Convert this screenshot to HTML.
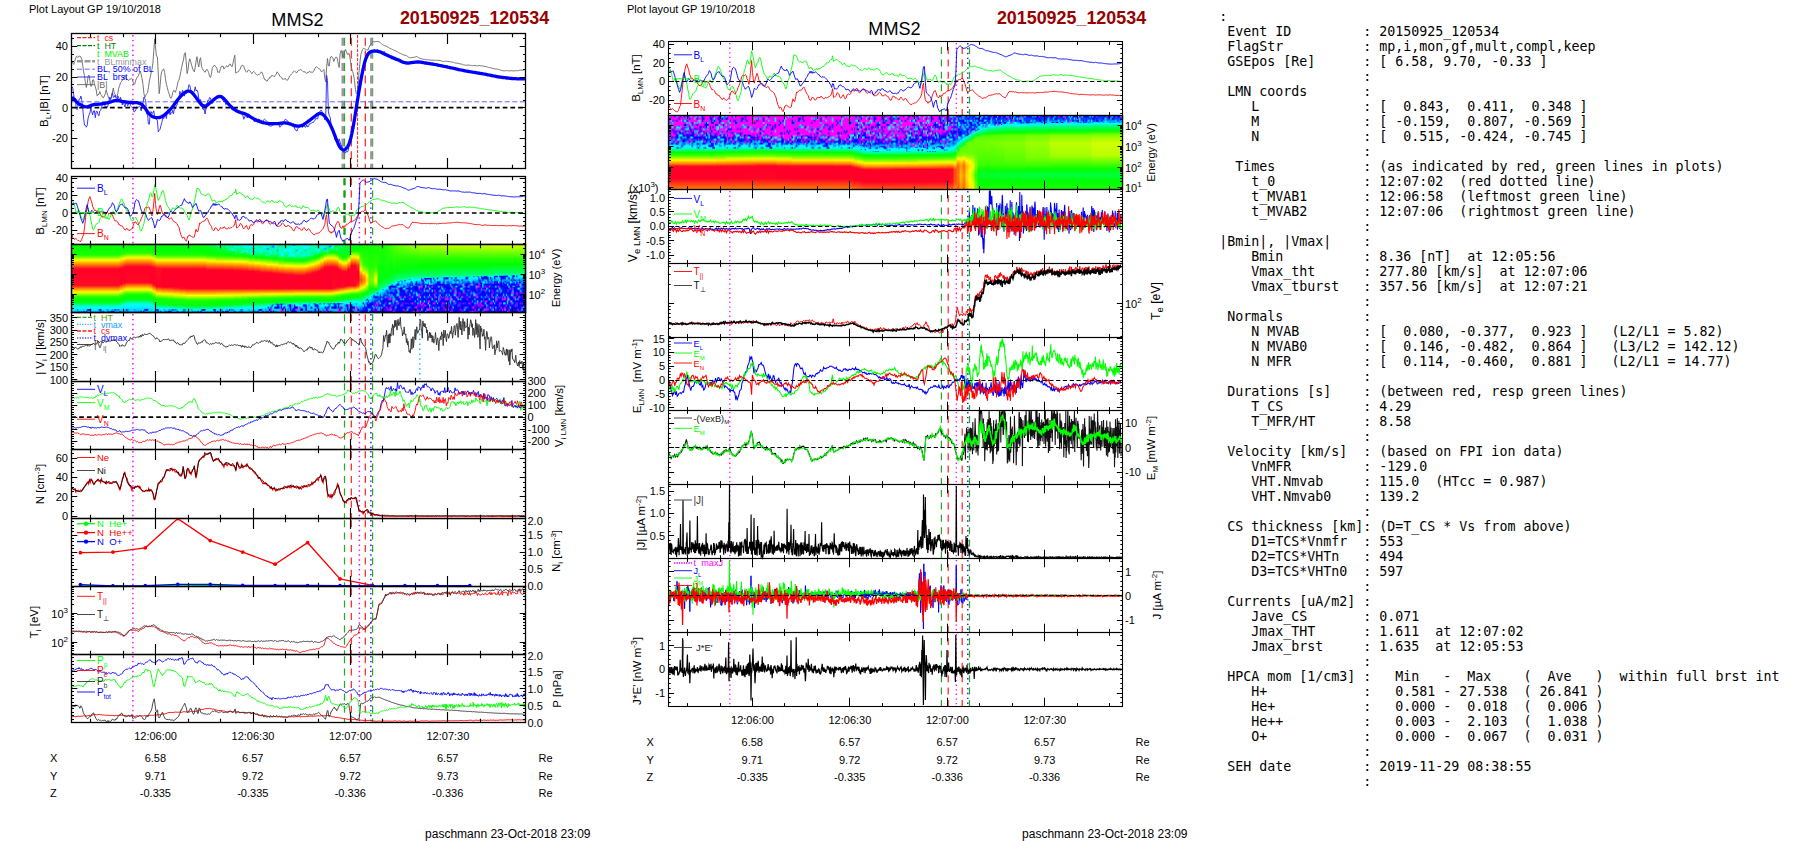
<!DOCTYPE html>
<html><head><meta charset="utf-8"><title>MMS2 20150925_120534</title>
<style>
html,body{margin:0;padding:0;background:#fff}
body{width:1804px;height:841px;position:relative;overflow:hidden}
svg{position:absolute;left:0;top:0}
svg text{font-family:"Liberation Sans",sans-serif}
pre{position:absolute;left:1219.2px;top:8.6px;margin:0;font-family:"DejaVu Sans Mono","Liberation Mono",monospace;font-size:13.3px;line-height:15px;color:#000}
</style></head><body>
<svg width="1804" height="841" viewBox="0 0 1804 841">
<defs>
<pattern id="spA" width="57.2" height="27.3" patternUnits="userSpaceOnUse"><path d="M15.6 0h1.3v2.1h-1.3zM18.2 0h1.3v2.1h-1.3zM31.2 0h1.3v2.1h-1.3zM44.2 0h1.3v2.1h-1.3zM49.4 0h1.3v2.1h-1.3zM52 0h1.3v2.1h-1.3zM55.9 0h1.3v2.1h-1.3zM1.3 2.1h1.3v2.1h-1.3zM18.2 2.1h1.3v2.1h-1.3zM19.5 2.1h1.3v2.1h-1.3zM20.8 2.1h1.3v2.1h-1.3zM27.3 2.1h1.3v2.1h-1.3zM42.9 2.1h1.3v2.1h-1.3zM48.1 2.1h1.3v2.1h-1.3zM53.3 2.1h1.3v2.1h-1.3zM0 4.2h1.3v2.1h-1.3zM5.2 4.2h1.3v2.1h-1.3zM10.4 4.2h1.3v2.1h-1.3zM14.3 4.2h1.3v2.1h-1.3zM36.4 4.2h1.3v2.1h-1.3zM39 4.2h1.3v2.1h-1.3zM41.6 4.2h1.3v2.1h-1.3zM54.6 4.2h1.3v2.1h-1.3zM9.1 6.3h1.3v2.1h-1.3zM10.4 6.3h1.3v2.1h-1.3zM26 6.3h1.3v2.1h-1.3zM36.4 6.3h1.3v2.1h-1.3zM0 8.4h1.3v2.1h-1.3zM11.7 8.4h1.3v2.1h-1.3zM29.9 8.4h1.3v2.1h-1.3zM31.2 8.4h1.3v2.1h-1.3zM32.5 8.4h1.3v2.1h-1.3zM41.6 8.4h1.3v2.1h-1.3zM42.9 8.4h1.3v2.1h-1.3zM5.2 10.5h1.3v2.1h-1.3zM26 10.5h1.3v2.1h-1.3zM28.6 10.5h1.3v2.1h-1.3zM42.9 10.5h1.3v2.1h-1.3zM45.5 10.5h1.3v2.1h-1.3zM50.7 10.5h1.3v2.1h-1.3zM53.3 10.5h1.3v2.1h-1.3zM54.6 10.5h1.3v2.1h-1.3zM55.9 10.5h1.3v2.1h-1.3zM0 12.6h1.3v2.1h-1.3zM26 12.6h1.3v2.1h-1.3zM29.9 12.6h1.3v2.1h-1.3zM36.4 12.6h1.3v2.1h-1.3zM40.3 12.6h1.3v2.1h-1.3zM42.9 12.6h1.3v2.1h-1.3zM44.2 12.6h1.3v2.1h-1.3zM46.8 12.6h1.3v2.1h-1.3zM55.9 12.6h1.3v2.1h-1.3zM11.7 14.7h1.3v2.1h-1.3zM15.6 14.7h1.3v2.1h-1.3zM29.9 14.7h1.3v2.1h-1.3zM35.1 14.7h1.3v2.1h-1.3zM48.1 14.7h1.3v2.1h-1.3zM52 14.7h1.3v2.1h-1.3zM27.3 16.8h1.3v2.1h-1.3zM28.6 16.8h1.3v2.1h-1.3zM39 16.8h1.3v2.1h-1.3zM45.5 16.8h1.3v2.1h-1.3zM48.1 16.8h1.3v2.1h-1.3zM7.8 18.9h1.3v2.1h-1.3zM33.8 18.9h1.3v2.1h-1.3zM42.9 18.9h1.3v2.1h-1.3zM6.5 21h1.3v2.1h-1.3zM22.1 21h1.3v2.1h-1.3zM32.5 21h1.3v2.1h-1.3zM36.4 21h1.3v2.1h-1.3zM44.2 21h1.3v2.1h-1.3zM46.8 21h1.3v2.1h-1.3zM2.6 23.1h1.3v2.1h-1.3zM5.2 23.1h1.3v2.1h-1.3zM7.8 23.1h1.3v2.1h-1.3zM40.3 23.1h1.3v2.1h-1.3zM41.6 23.1h1.3v2.1h-1.3zM52 23.1h1.3v2.1h-1.3zM19.5 25.2h1.3v2.1h-1.3zM20.8 25.2h1.3v2.1h-1.3zM26 25.2h1.3v2.1h-1.3zM31.2 25.2h1.3v2.1h-1.3zM36.4 25.2h1.3v2.1h-1.3zM44.2 25.2h1.3v2.1h-1.3zM53.3 25.2h1.3v2.1h-1.3z" fill="#0000ff"/><path d="M1.3 0h1.3v2.1h-1.3zM7.8 0h1.3v2.1h-1.3zM9.1 0h1.3v2.1h-1.3zM13 0h1.3v2.1h-1.3zM16.9 0h1.3v2.1h-1.3zM27.3 0h1.3v2.1h-1.3zM54.6 0h1.3v2.1h-1.3zM0 2.1h1.3v2.1h-1.3zM2.6 2.1h1.3v2.1h-1.3zM33.8 2.1h1.3v2.1h-1.3zM35.1 2.1h1.3v2.1h-1.3zM3.9 4.2h1.3v2.1h-1.3zM22.1 4.2h1.3v2.1h-1.3zM37.7 4.2h1.3v2.1h-1.3zM40.3 4.2h1.3v2.1h-1.3zM32.5 6.3h1.3v2.1h-1.3zM48.1 6.3h1.3v2.1h-1.3zM53.3 6.3h1.3v2.1h-1.3zM54.6 6.3h1.3v2.1h-1.3zM1.3 8.4h1.3v2.1h-1.3zM2.6 8.4h1.3v2.1h-1.3zM3.9 8.4h1.3v2.1h-1.3zM13 8.4h1.3v2.1h-1.3zM19.5 8.4h1.3v2.1h-1.3zM49.4 8.4h1.3v2.1h-1.3zM54.6 8.4h1.3v2.1h-1.3zM10.4 10.5h1.3v2.1h-1.3zM11.7 10.5h1.3v2.1h-1.3zM13 10.5h1.3v2.1h-1.3zM20.8 10.5h1.3v2.1h-1.3zM23.4 10.5h1.3v2.1h-1.3zM5.2 12.6h1.3v2.1h-1.3zM54.6 12.6h1.3v2.1h-1.3zM31.2 14.7h1.3v2.1h-1.3zM36.4 14.7h1.3v2.1h-1.3zM40.3 14.7h1.3v2.1h-1.3zM41.6 14.7h1.3v2.1h-1.3zM45.5 14.7h1.3v2.1h-1.3zM54.6 14.7h1.3v2.1h-1.3zM55.9 14.7h1.3v2.1h-1.3zM1.3 16.8h1.3v2.1h-1.3zM23.4 16.8h1.3v2.1h-1.3zM37.7 16.8h1.3v2.1h-1.3zM46.8 16.8h1.3v2.1h-1.3zM0 18.9h1.3v2.1h-1.3zM6.5 18.9h1.3v2.1h-1.3zM11.7 18.9h1.3v2.1h-1.3zM18.2 18.9h1.3v2.1h-1.3zM20.8 18.9h1.3v2.1h-1.3zM26 18.9h1.3v2.1h-1.3zM49.4 18.9h1.3v2.1h-1.3zM52 18.9h1.3v2.1h-1.3zM3.9 21h1.3v2.1h-1.3zM7.8 21h1.3v2.1h-1.3zM19.5 21h1.3v2.1h-1.3zM26 21h1.3v2.1h-1.3zM28.6 21h1.3v2.1h-1.3zM35.1 21h1.3v2.1h-1.3zM37.7 21h1.3v2.1h-1.3zM3.9 23.1h1.3v2.1h-1.3zM10.4 23.1h1.3v2.1h-1.3zM26 23.1h1.3v2.1h-1.3zM36.4 23.1h1.3v2.1h-1.3zM42.9 23.1h1.3v2.1h-1.3zM49.4 23.1h1.3v2.1h-1.3zM50.7 23.1h1.3v2.1h-1.3z" fill="#0080ff"/></pattern><pattern id="spA2" width="57.2" height="27.3" patternUnits="userSpaceOnUse"><path d="M0 0h1.3v2.1h-1.3zM2.6 0h1.3v2.1h-1.3zM10.4 0h1.3v2.1h-1.3zM19.5 0h1.3v2.1h-1.3zM20.8 0h1.3v2.1h-1.3zM28.6 0h1.3v2.1h-1.3zM31.2 0h1.3v2.1h-1.3zM36.4 0h1.3v2.1h-1.3zM37.7 0h1.3v2.1h-1.3zM48.1 0h1.3v2.1h-1.3zM49.4 0h1.3v2.1h-1.3zM27.3 2.1h1.3v2.1h-1.3zM28.6 2.1h1.3v2.1h-1.3zM33.8 2.1h1.3v2.1h-1.3zM37.7 2.1h1.3v2.1h-1.3zM41.6 2.1h1.3v2.1h-1.3zM44.2 2.1h1.3v2.1h-1.3zM46.8 2.1h1.3v2.1h-1.3zM48.1 2.1h1.3v2.1h-1.3zM50.7 2.1h1.3v2.1h-1.3zM52 2.1h1.3v2.1h-1.3zM53.3 2.1h1.3v2.1h-1.3zM2.6 4.2h1.3v2.1h-1.3zM3.9 4.2h1.3v2.1h-1.3zM7.8 4.2h1.3v2.1h-1.3zM16.9 4.2h1.3v2.1h-1.3zM18.2 4.2h1.3v2.1h-1.3zM19.5 4.2h1.3v2.1h-1.3zM28.6 4.2h1.3v2.1h-1.3zM29.9 4.2h1.3v2.1h-1.3zM31.2 4.2h1.3v2.1h-1.3zM42.9 4.2h1.3v2.1h-1.3zM48.1 4.2h1.3v2.1h-1.3zM49.4 4.2h1.3v2.1h-1.3zM52 4.2h1.3v2.1h-1.3zM3.9 6.3h1.3v2.1h-1.3zM7.8 6.3h1.3v2.1h-1.3zM9.1 6.3h1.3v2.1h-1.3zM10.4 6.3h1.3v2.1h-1.3zM19.5 6.3h1.3v2.1h-1.3zM24.7 6.3h1.3v2.1h-1.3zM31.2 6.3h1.3v2.1h-1.3zM39 6.3h1.3v2.1h-1.3zM41.6 6.3h1.3v2.1h-1.3zM45.5 6.3h1.3v2.1h-1.3zM46.8 6.3h1.3v2.1h-1.3zM48.1 6.3h1.3v2.1h-1.3zM49.4 6.3h1.3v2.1h-1.3zM52 6.3h1.3v2.1h-1.3zM54.6 6.3h1.3v2.1h-1.3zM3.9 8.4h1.3v2.1h-1.3zM6.5 8.4h1.3v2.1h-1.3zM7.8 8.4h1.3v2.1h-1.3zM14.3 8.4h1.3v2.1h-1.3zM15.6 8.4h1.3v2.1h-1.3zM19.5 8.4h1.3v2.1h-1.3zM28.6 8.4h1.3v2.1h-1.3zM40.3 8.4h1.3v2.1h-1.3zM53.3 8.4h1.3v2.1h-1.3zM1.3 10.5h1.3v2.1h-1.3zM5.2 10.5h1.3v2.1h-1.3zM6.5 10.5h1.3v2.1h-1.3zM7.8 10.5h1.3v2.1h-1.3zM9.1 10.5h1.3v2.1h-1.3zM22.1 10.5h1.3v2.1h-1.3zM24.7 10.5h1.3v2.1h-1.3zM28.6 10.5h1.3v2.1h-1.3zM33.8 10.5h1.3v2.1h-1.3zM37.7 10.5h1.3v2.1h-1.3zM41.6 10.5h1.3v2.1h-1.3zM44.2 10.5h1.3v2.1h-1.3zM2.6 12.6h1.3v2.1h-1.3zM9.1 12.6h1.3v2.1h-1.3zM10.4 12.6h1.3v2.1h-1.3zM16.9 12.6h1.3v2.1h-1.3zM35.1 12.6h1.3v2.1h-1.3zM37.7 12.6h1.3v2.1h-1.3zM41.6 12.6h1.3v2.1h-1.3zM46.8 12.6h1.3v2.1h-1.3zM50.7 12.6h1.3v2.1h-1.3zM0 14.7h1.3v2.1h-1.3zM6.5 14.7h1.3v2.1h-1.3zM15.6 14.7h1.3v2.1h-1.3zM16.9 14.7h1.3v2.1h-1.3zM24.7 14.7h1.3v2.1h-1.3zM35.1 14.7h1.3v2.1h-1.3zM37.7 14.7h1.3v2.1h-1.3zM41.6 14.7h1.3v2.1h-1.3zM42.9 14.7h1.3v2.1h-1.3zM50.7 14.7h1.3v2.1h-1.3zM55.9 14.7h1.3v2.1h-1.3zM5.2 16.8h1.3v2.1h-1.3zM9.1 16.8h1.3v2.1h-1.3zM14.3 16.8h1.3v2.1h-1.3zM18.2 16.8h1.3v2.1h-1.3zM39 16.8h1.3v2.1h-1.3zM48.1 16.8h1.3v2.1h-1.3zM5.2 18.9h1.3v2.1h-1.3zM13 18.9h1.3v2.1h-1.3zM15.6 18.9h1.3v2.1h-1.3zM16.9 18.9h1.3v2.1h-1.3zM18.2 18.9h1.3v2.1h-1.3zM23.4 18.9h1.3v2.1h-1.3zM28.6 18.9h1.3v2.1h-1.3zM33.8 18.9h1.3v2.1h-1.3zM42.9 18.9h1.3v2.1h-1.3zM46.8 18.9h1.3v2.1h-1.3zM49.4 18.9h1.3v2.1h-1.3zM50.7 18.9h1.3v2.1h-1.3zM53.3 18.9h1.3v2.1h-1.3zM55.9 18.9h1.3v2.1h-1.3zM0 21h1.3v2.1h-1.3zM7.8 21h1.3v2.1h-1.3zM18.2 21h1.3v2.1h-1.3zM19.5 21h1.3v2.1h-1.3zM20.8 21h1.3v2.1h-1.3zM23.4 21h1.3v2.1h-1.3zM31.2 21h1.3v2.1h-1.3zM33.8 21h1.3v2.1h-1.3zM42.9 21h1.3v2.1h-1.3zM46.8 21h1.3v2.1h-1.3zM52 21h1.3v2.1h-1.3zM54.6 21h1.3v2.1h-1.3zM0 23.1h1.3v2.1h-1.3zM1.3 23.1h1.3v2.1h-1.3zM16.9 23.1h1.3v2.1h-1.3zM33.8 23.1h1.3v2.1h-1.3zM41.6 23.1h1.3v2.1h-1.3zM50.7 23.1h1.3v2.1h-1.3zM53.3 23.1h1.3v2.1h-1.3zM0 25.2h1.3v2.1h-1.3zM1.3 25.2h1.3v2.1h-1.3zM2.6 25.2h1.3v2.1h-1.3zM3.9 25.2h1.3v2.1h-1.3zM6.5 25.2h1.3v2.1h-1.3zM7.8 25.2h1.3v2.1h-1.3zM13 25.2h1.3v2.1h-1.3zM33.8 25.2h1.3v2.1h-1.3zM35.1 25.2h1.3v2.1h-1.3z" fill="#0000ff"/><path d="M39 0h1.3v2.1h-1.3zM55.9 2.1h1.3v2.1h-1.3zM5.2 4.2h1.3v2.1h-1.3zM13 6.3h1.3v2.1h-1.3zM55.9 6.3h1.3v2.1h-1.3zM10.4 8.4h1.3v2.1h-1.3zM41.6 8.4h1.3v2.1h-1.3zM52 8.4h1.3v2.1h-1.3zM32.5 10.5h1.3v2.1h-1.3zM36.4 10.5h1.3v2.1h-1.3zM52 10.5h1.3v2.1h-1.3zM53.3 10.5h1.3v2.1h-1.3zM6.5 12.6h1.3v2.1h-1.3zM13 12.6h1.3v2.1h-1.3zM31.2 12.6h1.3v2.1h-1.3zM55.9 12.6h1.3v2.1h-1.3zM2.6 14.7h1.3v2.1h-1.3zM49.4 14.7h1.3v2.1h-1.3zM1.3 16.8h1.3v2.1h-1.3zM6.5 16.8h1.3v2.1h-1.3zM11.7 16.8h1.3v2.1h-1.3zM19.5 16.8h1.3v2.1h-1.3zM42.9 16.8h1.3v2.1h-1.3zM40.3 18.9h1.3v2.1h-1.3zM5.2 23.1h1.3v2.1h-1.3zM11.7 25.2h1.3v2.1h-1.3zM15.6 25.2h1.3v2.1h-1.3zM46.8 25.2h1.3v2.1h-1.3z" fill="#ff00ff"/><path d="M6.5 0h1.3v2.1h-1.3zM18.2 0h1.3v2.1h-1.3zM44.2 0h1.3v2.1h-1.3zM45.5 0h1.3v2.1h-1.3zM53.3 0h1.3v2.1h-1.3zM13 2.1h1.3v2.1h-1.3zM23.4 2.1h1.3v2.1h-1.3zM32.5 2.1h1.3v2.1h-1.3zM42.9 2.1h1.3v2.1h-1.3zM49.4 2.1h1.3v2.1h-1.3zM54.6 2.1h1.3v2.1h-1.3zM1.3 4.2h1.3v2.1h-1.3zM22.1 4.2h1.3v2.1h-1.3zM2.6 6.3h1.3v2.1h-1.3zM1.3 8.4h1.3v2.1h-1.3zM32.5 8.4h1.3v2.1h-1.3zM36.4 8.4h1.3v2.1h-1.3zM18.2 10.5h1.3v2.1h-1.3zM26 10.5h1.3v2.1h-1.3zM31.2 10.5h1.3v2.1h-1.3zM39 10.5h1.3v2.1h-1.3zM46.8 10.5h1.3v2.1h-1.3zM3.9 12.6h1.3v2.1h-1.3zM19.5 12.6h1.3v2.1h-1.3zM26 12.6h1.3v2.1h-1.3zM29.9 12.6h1.3v2.1h-1.3zM36.4 12.6h1.3v2.1h-1.3zM39 12.6h1.3v2.1h-1.3zM40.3 12.6h1.3v2.1h-1.3zM44.2 12.6h1.3v2.1h-1.3zM52 12.6h1.3v2.1h-1.3zM54.6 12.6h1.3v2.1h-1.3zM19.5 14.7h1.3v2.1h-1.3zM46.8 14.7h1.3v2.1h-1.3zM3.9 16.8h1.3v2.1h-1.3zM22.1 16.8h1.3v2.1h-1.3zM23.4 16.8h1.3v2.1h-1.3zM37.7 16.8h1.3v2.1h-1.3zM41.6 16.8h1.3v2.1h-1.3zM3.9 18.9h1.3v2.1h-1.3zM20.8 18.9h1.3v2.1h-1.3zM9.1 21h1.3v2.1h-1.3zM32.5 21h1.3v2.1h-1.3zM35.1 21h1.3v2.1h-1.3zM49.4 21h1.3v2.1h-1.3zM53.3 21h1.3v2.1h-1.3zM14.3 23.1h1.3v2.1h-1.3zM18.2 23.1h1.3v2.1h-1.3zM22.1 23.1h1.3v2.1h-1.3zM24.7 23.1h1.3v2.1h-1.3zM29.9 23.1h1.3v2.1h-1.3zM35.1 23.1h1.3v2.1h-1.3zM46.8 23.1h1.3v2.1h-1.3zM48.1 23.1h1.3v2.1h-1.3zM20.8 25.2h1.3v2.1h-1.3zM22.1 25.2h1.3v2.1h-1.3zM27.3 25.2h1.3v2.1h-1.3zM36.4 25.2h1.3v2.1h-1.3zM44.2 25.2h1.3v2.1h-1.3zM45.5 25.2h1.3v2.1h-1.3zM53.3 25.2h1.3v2.1h-1.3z" fill="#0080ff"/></pattern><pattern id="spA3" width="57.2" height="27.3" patternUnits="userSpaceOnUse"><path d="M3.9 0h1.3v2.1h-1.3zM6.5 0h1.3v2.1h-1.3zM9.1 0h1.3v2.1h-1.3zM13 0h1.3v2.1h-1.3zM16.9 0h1.3v2.1h-1.3zM24.7 0h1.3v2.1h-1.3zM37.7 0h1.3v2.1h-1.3zM40.3 0h1.3v2.1h-1.3zM46.8 0h1.3v2.1h-1.3zM48.1 0h1.3v2.1h-1.3zM53.3 0h1.3v2.1h-1.3zM54.6 0h1.3v2.1h-1.3zM55.9 0h1.3v2.1h-1.3zM1.3 2.1h1.3v2.1h-1.3zM9.1 2.1h1.3v2.1h-1.3zM15.6 2.1h1.3v2.1h-1.3zM19.5 2.1h1.3v2.1h-1.3zM23.4 2.1h1.3v2.1h-1.3zM26 2.1h1.3v2.1h-1.3zM27.3 2.1h1.3v2.1h-1.3zM28.6 2.1h1.3v2.1h-1.3zM36.4 2.1h1.3v2.1h-1.3zM37.7 2.1h1.3v2.1h-1.3zM39 2.1h1.3v2.1h-1.3zM41.6 2.1h1.3v2.1h-1.3zM42.9 2.1h1.3v2.1h-1.3zM44.2 2.1h1.3v2.1h-1.3zM45.5 2.1h1.3v2.1h-1.3zM46.8 2.1h1.3v2.1h-1.3zM48.1 2.1h1.3v2.1h-1.3zM49.4 2.1h1.3v2.1h-1.3zM54.6 2.1h1.3v2.1h-1.3zM55.9 2.1h1.3v2.1h-1.3zM7.8 4.2h1.3v2.1h-1.3zM9.1 4.2h1.3v2.1h-1.3zM20.8 4.2h1.3v2.1h-1.3zM23.4 4.2h1.3v2.1h-1.3zM24.7 4.2h1.3v2.1h-1.3zM26 4.2h1.3v2.1h-1.3zM27.3 4.2h1.3v2.1h-1.3zM28.6 4.2h1.3v2.1h-1.3zM29.9 4.2h1.3v2.1h-1.3zM32.5 4.2h1.3v2.1h-1.3zM36.4 4.2h1.3v2.1h-1.3zM42.9 4.2h1.3v2.1h-1.3zM44.2 4.2h1.3v2.1h-1.3zM45.5 4.2h1.3v2.1h-1.3zM46.8 4.2h1.3v2.1h-1.3zM50.7 4.2h1.3v2.1h-1.3zM54.6 4.2h1.3v2.1h-1.3zM0 6.3h1.3v2.1h-1.3zM3.9 6.3h1.3v2.1h-1.3zM20.8 6.3h1.3v2.1h-1.3zM22.1 6.3h1.3v2.1h-1.3zM24.7 6.3h1.3v2.1h-1.3zM29.9 6.3h1.3v2.1h-1.3zM33.8 6.3h1.3v2.1h-1.3zM42.9 6.3h1.3v2.1h-1.3zM53.3 6.3h1.3v2.1h-1.3zM55.9 6.3h1.3v2.1h-1.3zM1.3 8.4h1.3v2.1h-1.3zM10.4 8.4h1.3v2.1h-1.3zM15.6 8.4h1.3v2.1h-1.3zM22.1 8.4h1.3v2.1h-1.3zM29.9 8.4h1.3v2.1h-1.3zM36.4 8.4h1.3v2.1h-1.3zM37.7 8.4h1.3v2.1h-1.3zM39 8.4h1.3v2.1h-1.3zM42.9 8.4h1.3v2.1h-1.3zM46.8 8.4h1.3v2.1h-1.3zM54.6 8.4h1.3v2.1h-1.3zM6.5 10.5h1.3v2.1h-1.3zM9.1 10.5h1.3v2.1h-1.3zM11.7 10.5h1.3v2.1h-1.3zM14.3 10.5h1.3v2.1h-1.3zM15.6 10.5h1.3v2.1h-1.3zM18.2 10.5h1.3v2.1h-1.3zM22.1 10.5h1.3v2.1h-1.3zM24.7 10.5h1.3v2.1h-1.3zM35.1 10.5h1.3v2.1h-1.3zM36.4 10.5h1.3v2.1h-1.3zM37.7 10.5h1.3v2.1h-1.3zM39 10.5h1.3v2.1h-1.3zM40.3 10.5h1.3v2.1h-1.3zM42.9 10.5h1.3v2.1h-1.3zM48.1 10.5h1.3v2.1h-1.3zM53.3 10.5h1.3v2.1h-1.3zM54.6 10.5h1.3v2.1h-1.3zM2.6 12.6h1.3v2.1h-1.3zM10.4 12.6h1.3v2.1h-1.3zM18.2 12.6h1.3v2.1h-1.3zM24.7 12.6h1.3v2.1h-1.3zM27.3 12.6h1.3v2.1h-1.3zM28.6 12.6h1.3v2.1h-1.3zM32.5 12.6h1.3v2.1h-1.3zM35.1 12.6h1.3v2.1h-1.3zM45.5 12.6h1.3v2.1h-1.3zM46.8 12.6h1.3v2.1h-1.3zM48.1 12.6h1.3v2.1h-1.3zM49.4 12.6h1.3v2.1h-1.3zM50.7 12.6h1.3v2.1h-1.3zM52 12.6h1.3v2.1h-1.3zM0 14.7h1.3v2.1h-1.3zM2.6 14.7h1.3v2.1h-1.3zM5.2 14.7h1.3v2.1h-1.3zM6.5 14.7h1.3v2.1h-1.3zM14.3 14.7h1.3v2.1h-1.3zM16.9 14.7h1.3v2.1h-1.3zM22.1 14.7h1.3v2.1h-1.3zM23.4 14.7h1.3v2.1h-1.3zM26 14.7h1.3v2.1h-1.3zM31.2 14.7h1.3v2.1h-1.3zM39 14.7h1.3v2.1h-1.3zM45.5 14.7h1.3v2.1h-1.3zM46.8 14.7h1.3v2.1h-1.3zM54.6 14.7h1.3v2.1h-1.3zM55.9 14.7h1.3v2.1h-1.3zM1.3 16.8h1.3v2.1h-1.3zM3.9 16.8h1.3v2.1h-1.3zM9.1 16.8h1.3v2.1h-1.3zM10.4 16.8h1.3v2.1h-1.3zM29.9 16.8h1.3v2.1h-1.3zM33.8 16.8h1.3v2.1h-1.3zM42.9 16.8h1.3v2.1h-1.3zM0 18.9h1.3v2.1h-1.3zM5.2 18.9h1.3v2.1h-1.3zM6.5 18.9h1.3v2.1h-1.3zM10.4 18.9h1.3v2.1h-1.3zM16.9 18.9h1.3v2.1h-1.3zM19.5 18.9h1.3v2.1h-1.3zM24.7 18.9h1.3v2.1h-1.3zM28.6 18.9h1.3v2.1h-1.3zM29.9 18.9h1.3v2.1h-1.3zM33.8 18.9h1.3v2.1h-1.3zM44.2 18.9h1.3v2.1h-1.3zM48.1 18.9h1.3v2.1h-1.3zM52 18.9h1.3v2.1h-1.3zM0 21h1.3v2.1h-1.3zM1.3 21h1.3v2.1h-1.3zM5.2 21h1.3v2.1h-1.3zM13 21h1.3v2.1h-1.3zM20.8 21h1.3v2.1h-1.3zM24.7 21h1.3v2.1h-1.3zM27.3 21h1.3v2.1h-1.3zM29.9 21h1.3v2.1h-1.3zM36.4 21h1.3v2.1h-1.3zM41.6 21h1.3v2.1h-1.3zM44.2 21h1.3v2.1h-1.3zM1.3 23.1h1.3v2.1h-1.3zM2.6 23.1h1.3v2.1h-1.3zM9.1 23.1h1.3v2.1h-1.3zM15.6 23.1h1.3v2.1h-1.3zM19.5 23.1h1.3v2.1h-1.3zM23.4 23.1h1.3v2.1h-1.3zM29.9 23.1h1.3v2.1h-1.3zM31.2 23.1h1.3v2.1h-1.3zM32.5 23.1h1.3v2.1h-1.3zM33.8 23.1h1.3v2.1h-1.3zM36.4 23.1h1.3v2.1h-1.3zM48.1 23.1h1.3v2.1h-1.3zM50.7 23.1h1.3v2.1h-1.3zM52 23.1h1.3v2.1h-1.3zM0 25.2h1.3v2.1h-1.3zM7.8 25.2h1.3v2.1h-1.3zM11.7 25.2h1.3v2.1h-1.3zM15.6 25.2h1.3v2.1h-1.3zM16.9 25.2h1.3v2.1h-1.3zM19.5 25.2h1.3v2.1h-1.3zM22.1 25.2h1.3v2.1h-1.3zM23.4 25.2h1.3v2.1h-1.3zM46.8 25.2h1.3v2.1h-1.3zM50.7 25.2h1.3v2.1h-1.3zM53.3 25.2h1.3v2.1h-1.3zM54.6 25.2h1.3v2.1h-1.3z" fill="#0000ff"/><path d="M1.3 0h1.3v2.1h-1.3zM10.4 0h1.3v2.1h-1.3zM11.7 0h1.3v2.1h-1.3zM26 0h1.3v2.1h-1.3zM39 0h1.3v2.1h-1.3zM45.5 0h1.3v2.1h-1.3zM14.3 2.1h1.3v2.1h-1.3zM35.1 2.1h1.3v2.1h-1.3zM50.7 2.1h1.3v2.1h-1.3zM0 4.2h1.3v2.1h-1.3zM19.5 4.2h1.3v2.1h-1.3zM22.1 4.2h1.3v2.1h-1.3zM11.7 6.3h1.3v2.1h-1.3zM13 6.3h1.3v2.1h-1.3zM35.1 6.3h1.3v2.1h-1.3zM41.6 6.3h1.3v2.1h-1.3zM0 8.4h1.3v2.1h-1.3zM2.6 8.4h1.3v2.1h-1.3zM13 8.4h1.3v2.1h-1.3zM24.7 8.4h1.3v2.1h-1.3zM26 8.4h1.3v2.1h-1.3zM28.6 8.4h1.3v2.1h-1.3zM40.3 8.4h1.3v2.1h-1.3zM44.2 8.4h1.3v2.1h-1.3zM52 8.4h1.3v2.1h-1.3zM53.3 8.4h1.3v2.1h-1.3zM55.9 8.4h1.3v2.1h-1.3zM5.2 10.5h1.3v2.1h-1.3zM13 10.5h1.3v2.1h-1.3zM28.6 10.5h1.3v2.1h-1.3zM29.9 10.5h1.3v2.1h-1.3zM31.2 10.5h1.3v2.1h-1.3zM45.5 10.5h1.3v2.1h-1.3zM1.3 12.6h1.3v2.1h-1.3zM31.2 12.6h1.3v2.1h-1.3zM54.6 12.6h1.3v2.1h-1.3zM55.9 12.6h1.3v2.1h-1.3zM40.3 14.7h1.3v2.1h-1.3zM44.2 14.7h1.3v2.1h-1.3zM53.3 14.7h1.3v2.1h-1.3zM6.5 16.8h1.3v2.1h-1.3zM15.6 16.8h1.3v2.1h-1.3zM27.3 16.8h1.3v2.1h-1.3zM54.6 16.8h1.3v2.1h-1.3zM7.8 18.9h1.3v2.1h-1.3zM18.2 18.9h1.3v2.1h-1.3zM35.1 18.9h1.3v2.1h-1.3zM50.7 18.9h1.3v2.1h-1.3zM7.8 21h1.3v2.1h-1.3zM35.1 21h1.3v2.1h-1.3zM37.7 21h1.3v2.1h-1.3zM42.9 21h1.3v2.1h-1.3zM52 21h1.3v2.1h-1.3zM6.5 23.1h1.3v2.1h-1.3zM10.4 23.1h1.3v2.1h-1.3zM49.4 23.1h1.3v2.1h-1.3zM2.6 25.2h1.3v2.1h-1.3zM6.5 25.2h1.3v2.1h-1.3zM9.1 25.2h1.3v2.1h-1.3zM18.2 25.2h1.3v2.1h-1.3zM48.1 25.2h1.3v2.1h-1.3zM52 25.2h1.3v2.1h-1.3z" fill="#00ffff"/></pattern><pattern id="spC" width="57.2" height="27.3" patternUnits="userSpaceOnUse"><path d="M5.2 0h1.3v2.1h-1.3zM6.5 0h1.3v2.1h-1.3zM9.1 0h1.3v2.1h-1.3zM14.3 0h1.3v2.1h-1.3zM15.6 0h1.3v2.1h-1.3zM16.9 0h1.3v2.1h-1.3zM19.5 0h1.3v2.1h-1.3zM20.8 0h1.3v2.1h-1.3zM22.1 0h1.3v2.1h-1.3zM23.4 0h1.3v2.1h-1.3zM26 0h1.3v2.1h-1.3zM36.4 0h1.3v2.1h-1.3zM37.7 0h1.3v2.1h-1.3zM44.2 0h1.3v2.1h-1.3zM45.5 0h1.3v2.1h-1.3zM46.8 0h1.3v2.1h-1.3zM54.6 0h1.3v2.1h-1.3zM0 2.1h1.3v2.1h-1.3zM2.6 2.1h1.3v2.1h-1.3zM3.9 2.1h1.3v2.1h-1.3zM6.5 2.1h1.3v2.1h-1.3zM10.4 2.1h1.3v2.1h-1.3zM19.5 2.1h1.3v2.1h-1.3zM28.6 2.1h1.3v2.1h-1.3zM31.2 2.1h1.3v2.1h-1.3zM39 2.1h1.3v2.1h-1.3zM46.8 2.1h1.3v2.1h-1.3zM50.7 2.1h1.3v2.1h-1.3zM0 4.2h1.3v2.1h-1.3zM2.6 4.2h1.3v2.1h-1.3zM3.9 4.2h1.3v2.1h-1.3zM6.5 4.2h1.3v2.1h-1.3zM13 4.2h1.3v2.1h-1.3zM14.3 4.2h1.3v2.1h-1.3zM16.9 4.2h1.3v2.1h-1.3zM18.2 4.2h1.3v2.1h-1.3zM22.1 4.2h1.3v2.1h-1.3zM24.7 4.2h1.3v2.1h-1.3zM27.3 4.2h1.3v2.1h-1.3zM31.2 4.2h1.3v2.1h-1.3zM32.5 4.2h1.3v2.1h-1.3zM37.7 4.2h1.3v2.1h-1.3zM41.6 4.2h1.3v2.1h-1.3zM50.7 4.2h1.3v2.1h-1.3zM53.3 4.2h1.3v2.1h-1.3zM54.6 4.2h1.3v2.1h-1.3zM55.9 4.2h1.3v2.1h-1.3zM3.9 6.3h1.3v2.1h-1.3zM5.2 6.3h1.3v2.1h-1.3zM10.4 6.3h1.3v2.1h-1.3zM11.7 6.3h1.3v2.1h-1.3zM20.8 6.3h1.3v2.1h-1.3zM22.1 6.3h1.3v2.1h-1.3zM31.2 6.3h1.3v2.1h-1.3zM40.3 6.3h1.3v2.1h-1.3zM41.6 6.3h1.3v2.1h-1.3zM45.5 6.3h1.3v2.1h-1.3zM50.7 6.3h1.3v2.1h-1.3zM52 6.3h1.3v2.1h-1.3zM53.3 6.3h1.3v2.1h-1.3zM2.6 8.4h1.3v2.1h-1.3zM3.9 8.4h1.3v2.1h-1.3zM5.2 8.4h1.3v2.1h-1.3zM6.5 8.4h1.3v2.1h-1.3zM7.8 8.4h1.3v2.1h-1.3zM10.4 8.4h1.3v2.1h-1.3zM14.3 8.4h1.3v2.1h-1.3zM16.9 8.4h1.3v2.1h-1.3zM18.2 8.4h1.3v2.1h-1.3zM20.8 8.4h1.3v2.1h-1.3zM23.4 8.4h1.3v2.1h-1.3zM26 8.4h1.3v2.1h-1.3zM36.4 8.4h1.3v2.1h-1.3zM37.7 8.4h1.3v2.1h-1.3zM52 8.4h1.3v2.1h-1.3zM53.3 8.4h1.3v2.1h-1.3zM54.6 8.4h1.3v2.1h-1.3zM1.3 10.5h1.3v2.1h-1.3zM2.6 10.5h1.3v2.1h-1.3zM6.5 10.5h1.3v2.1h-1.3zM7.8 10.5h1.3v2.1h-1.3zM9.1 10.5h1.3v2.1h-1.3zM14.3 10.5h1.3v2.1h-1.3zM16.9 10.5h1.3v2.1h-1.3zM18.2 10.5h1.3v2.1h-1.3zM20.8 10.5h1.3v2.1h-1.3zM22.1 10.5h1.3v2.1h-1.3zM23.4 10.5h1.3v2.1h-1.3zM33.8 10.5h1.3v2.1h-1.3zM35.1 10.5h1.3v2.1h-1.3zM44.2 10.5h1.3v2.1h-1.3zM50.7 10.5h1.3v2.1h-1.3zM52 10.5h1.3v2.1h-1.3zM2.6 12.6h1.3v2.1h-1.3zM3.9 12.6h1.3v2.1h-1.3zM5.2 12.6h1.3v2.1h-1.3zM6.5 12.6h1.3v2.1h-1.3zM7.8 12.6h1.3v2.1h-1.3zM9.1 12.6h1.3v2.1h-1.3zM10.4 12.6h1.3v2.1h-1.3zM11.7 12.6h1.3v2.1h-1.3zM18.2 12.6h1.3v2.1h-1.3zM19.5 12.6h1.3v2.1h-1.3zM24.7 12.6h1.3v2.1h-1.3zM26 12.6h1.3v2.1h-1.3zM27.3 12.6h1.3v2.1h-1.3zM29.9 12.6h1.3v2.1h-1.3zM32.5 12.6h1.3v2.1h-1.3zM33.8 12.6h1.3v2.1h-1.3zM40.3 12.6h1.3v2.1h-1.3zM42.9 12.6h1.3v2.1h-1.3zM48.1 12.6h1.3v2.1h-1.3zM50.7 12.6h1.3v2.1h-1.3zM52 12.6h1.3v2.1h-1.3zM55.9 12.6h1.3v2.1h-1.3zM0 14.7h1.3v2.1h-1.3zM3.9 14.7h1.3v2.1h-1.3zM7.8 14.7h1.3v2.1h-1.3zM10.4 14.7h1.3v2.1h-1.3zM14.3 14.7h1.3v2.1h-1.3zM16.9 14.7h1.3v2.1h-1.3zM22.1 14.7h1.3v2.1h-1.3zM26 14.7h1.3v2.1h-1.3zM29.9 14.7h1.3v2.1h-1.3zM31.2 14.7h1.3v2.1h-1.3zM35.1 14.7h1.3v2.1h-1.3zM37.7 14.7h1.3v2.1h-1.3zM0 16.8h1.3v2.1h-1.3zM5.2 16.8h1.3v2.1h-1.3zM10.4 16.8h1.3v2.1h-1.3zM11.7 16.8h1.3v2.1h-1.3zM19.5 16.8h1.3v2.1h-1.3zM20.8 16.8h1.3v2.1h-1.3zM26 16.8h1.3v2.1h-1.3zM28.6 16.8h1.3v2.1h-1.3zM31.2 16.8h1.3v2.1h-1.3zM32.5 16.8h1.3v2.1h-1.3zM35.1 16.8h1.3v2.1h-1.3zM39 16.8h1.3v2.1h-1.3zM40.3 16.8h1.3v2.1h-1.3zM44.2 16.8h1.3v2.1h-1.3zM52 16.8h1.3v2.1h-1.3zM55.9 16.8h1.3v2.1h-1.3zM1.3 18.9h1.3v2.1h-1.3zM3.9 18.9h1.3v2.1h-1.3zM5.2 18.9h1.3v2.1h-1.3zM16.9 18.9h1.3v2.1h-1.3zM20.8 18.9h1.3v2.1h-1.3zM24.7 18.9h1.3v2.1h-1.3zM33.8 18.9h1.3v2.1h-1.3zM36.4 18.9h1.3v2.1h-1.3zM41.6 18.9h1.3v2.1h-1.3zM46.8 18.9h1.3v2.1h-1.3zM50.7 18.9h1.3v2.1h-1.3zM0 21h1.3v2.1h-1.3zM5.2 21h1.3v2.1h-1.3zM7.8 21h1.3v2.1h-1.3zM10.4 21h1.3v2.1h-1.3zM14.3 21h1.3v2.1h-1.3zM23.4 21h1.3v2.1h-1.3zM26 21h1.3v2.1h-1.3zM32.5 21h1.3v2.1h-1.3zM35.1 21h1.3v2.1h-1.3zM36.4 21h1.3v2.1h-1.3zM39 21h1.3v2.1h-1.3zM42.9 21h1.3v2.1h-1.3zM46.8 21h1.3v2.1h-1.3zM50.7 21h1.3v2.1h-1.3zM53.3 21h1.3v2.1h-1.3zM54.6 21h1.3v2.1h-1.3zM2.6 23.1h1.3v2.1h-1.3zM7.8 23.1h1.3v2.1h-1.3zM10.4 23.1h1.3v2.1h-1.3zM11.7 23.1h1.3v2.1h-1.3zM13 23.1h1.3v2.1h-1.3zM15.6 23.1h1.3v2.1h-1.3zM19.5 23.1h1.3v2.1h-1.3zM22.1 23.1h1.3v2.1h-1.3zM23.4 23.1h1.3v2.1h-1.3zM24.7 23.1h1.3v2.1h-1.3zM27.3 23.1h1.3v2.1h-1.3zM31.2 23.1h1.3v2.1h-1.3zM33.8 23.1h1.3v2.1h-1.3zM35.1 23.1h1.3v2.1h-1.3zM37.7 23.1h1.3v2.1h-1.3zM42.9 23.1h1.3v2.1h-1.3zM44.2 23.1h1.3v2.1h-1.3zM48.1 23.1h1.3v2.1h-1.3zM49.4 23.1h1.3v2.1h-1.3zM50.7 23.1h1.3v2.1h-1.3zM52 23.1h1.3v2.1h-1.3zM0 25.2h1.3v2.1h-1.3zM10.4 25.2h1.3v2.1h-1.3zM13 25.2h1.3v2.1h-1.3zM14.3 25.2h1.3v2.1h-1.3zM15.6 25.2h1.3v2.1h-1.3zM20.8 25.2h1.3v2.1h-1.3zM29.9 25.2h1.3v2.1h-1.3zM32.5 25.2h1.3v2.1h-1.3zM33.8 25.2h1.3v2.1h-1.3zM35.1 25.2h1.3v2.1h-1.3zM39 25.2h1.3v2.1h-1.3zM40.3 25.2h1.3v2.1h-1.3zM42.9 25.2h1.3v2.1h-1.3zM45.5 25.2h1.3v2.1h-1.3zM48.1 25.2h1.3v2.1h-1.3z" fill="#00ffff"/><path d="M1.3 0h1.3v2.1h-1.3zM10.4 0h1.3v2.1h-1.3zM27.3 0h1.3v2.1h-1.3zM31.2 0h1.3v2.1h-1.3zM42.9 0h1.3v2.1h-1.3zM55.9 0h1.3v2.1h-1.3zM1.3 2.1h1.3v2.1h-1.3zM11.7 2.1h1.3v2.1h-1.3zM23.4 2.1h1.3v2.1h-1.3zM26 2.1h1.3v2.1h-1.3zM29.9 2.1h1.3v2.1h-1.3zM40.3 2.1h1.3v2.1h-1.3zM44.2 2.1h1.3v2.1h-1.3zM45.5 2.1h1.3v2.1h-1.3zM23.4 4.2h1.3v2.1h-1.3zM35.1 4.2h1.3v2.1h-1.3zM40.3 4.2h1.3v2.1h-1.3zM52 4.2h1.3v2.1h-1.3zM0 6.3h1.3v2.1h-1.3zM23.4 6.3h1.3v2.1h-1.3zM29.9 6.3h1.3v2.1h-1.3zM48.1 6.3h1.3v2.1h-1.3zM11.7 8.4h1.3v2.1h-1.3zM15.6 8.4h1.3v2.1h-1.3zM22.1 8.4h1.3v2.1h-1.3zM28.6 8.4h1.3v2.1h-1.3zM40.3 8.4h1.3v2.1h-1.3zM50.7 8.4h1.3v2.1h-1.3zM3.9 10.5h1.3v2.1h-1.3zM29.9 10.5h1.3v2.1h-1.3zM37.7 10.5h1.3v2.1h-1.3zM53.3 10.5h1.3v2.1h-1.3zM0 12.6h1.3v2.1h-1.3zM31.2 12.6h1.3v2.1h-1.3zM35.1 12.6h1.3v2.1h-1.3zM41.6 12.6h1.3v2.1h-1.3zM45.5 12.6h1.3v2.1h-1.3zM13 14.7h1.3v2.1h-1.3zM46.8 14.7h1.3v2.1h-1.3zM49.4 14.7h1.3v2.1h-1.3zM53.3 14.7h1.3v2.1h-1.3zM2.6 16.8h1.3v2.1h-1.3zM7.8 16.8h1.3v2.1h-1.3zM13 16.8h1.3v2.1h-1.3zM22.1 16.8h1.3v2.1h-1.3zM2.6 18.9h1.3v2.1h-1.3zM6.5 18.9h1.3v2.1h-1.3zM27.3 18.9h1.3v2.1h-1.3zM45.5 18.9h1.3v2.1h-1.3zM48.1 18.9h1.3v2.1h-1.3zM54.6 18.9h1.3v2.1h-1.3zM3.9 21h1.3v2.1h-1.3zM6.5 21h1.3v2.1h-1.3zM13 21h1.3v2.1h-1.3zM19.5 21h1.3v2.1h-1.3zM27.3 21h1.3v2.1h-1.3zM1.3 23.1h1.3v2.1h-1.3zM3.9 23.1h1.3v2.1h-1.3zM6.5 23.1h1.3v2.1h-1.3zM45.5 23.1h1.3v2.1h-1.3zM1.3 25.2h1.3v2.1h-1.3zM16.9 25.2h1.3v2.1h-1.3zM28.6 25.2h1.3v2.1h-1.3zM31.2 25.2h1.3v2.1h-1.3zM37.7 25.2h1.3v2.1h-1.3zM41.6 25.2h1.3v2.1h-1.3zM49.4 25.2h1.3v2.1h-1.3zM52 25.2h1.3v2.1h-1.3z" fill="#00ffa0"/></pattern><pattern id="spC2" width="57.2" height="27.3" patternUnits="userSpaceOnUse"><path d="M42.9 0h1.3v2.1h-1.3zM44.2 0h1.3v2.1h-1.3zM37.7 2.1h1.3v2.1h-1.3zM39 2.1h1.3v2.1h-1.3zM10.4 4.2h1.3v2.1h-1.3zM18.2 4.2h1.3v2.1h-1.3zM48.1 4.2h1.3v2.1h-1.3zM7.8 6.3h1.3v2.1h-1.3zM23.4 6.3h1.3v2.1h-1.3zM39 6.3h1.3v2.1h-1.3zM45.5 8.4h1.3v2.1h-1.3zM46.8 8.4h1.3v2.1h-1.3zM53.3 8.4h1.3v2.1h-1.3zM55.9 8.4h1.3v2.1h-1.3zM16.9 10.5h1.3v2.1h-1.3zM18.2 10.5h1.3v2.1h-1.3zM31.2 10.5h1.3v2.1h-1.3zM35.1 10.5h1.3v2.1h-1.3zM6.5 12.6h1.3v2.1h-1.3zM18.2 12.6h1.3v2.1h-1.3zM23.4 12.6h1.3v2.1h-1.3zM46.8 12.6h1.3v2.1h-1.3zM29.9 14.7h1.3v2.1h-1.3zM49.4 14.7h1.3v2.1h-1.3zM1.3 16.8h1.3v2.1h-1.3zM26 16.8h1.3v2.1h-1.3zM40.3 16.8h1.3v2.1h-1.3zM53.3 16.8h1.3v2.1h-1.3zM55.9 16.8h1.3v2.1h-1.3zM11.7 18.9h1.3v2.1h-1.3zM19.5 18.9h1.3v2.1h-1.3zM26 18.9h1.3v2.1h-1.3zM29.9 18.9h1.3v2.1h-1.3zM32.5 18.9h1.3v2.1h-1.3zM6.5 21h1.3v2.1h-1.3zM14.3 21h1.3v2.1h-1.3zM15.6 21h1.3v2.1h-1.3zM26 21h1.3v2.1h-1.3zM54.6 21h1.3v2.1h-1.3zM2.6 23.1h1.3v2.1h-1.3zM19.5 23.1h1.3v2.1h-1.3zM39 23.1h1.3v2.1h-1.3zM42.9 23.1h1.3v2.1h-1.3zM45.5 23.1h1.3v2.1h-1.3zM6.5 25.2h1.3v2.1h-1.3zM7.8 25.2h1.3v2.1h-1.3z" fill="#0080ff"/><path d="M1.3 0h1.3v2.1h-1.3zM7.8 0h1.3v2.1h-1.3zM9.1 0h1.3v2.1h-1.3zM11.7 0h1.3v2.1h-1.3zM16.9 0h1.3v2.1h-1.3zM18.2 0h1.3v2.1h-1.3zM27.3 0h1.3v2.1h-1.3zM33.8 0h1.3v2.1h-1.3zM35.1 0h1.3v2.1h-1.3zM37.7 0h1.3v2.1h-1.3zM39 0h1.3v2.1h-1.3zM55.9 0h1.3v2.1h-1.3zM2.6 2.1h1.3v2.1h-1.3zM5.2 2.1h1.3v2.1h-1.3zM14.3 2.1h1.3v2.1h-1.3zM18.2 2.1h1.3v2.1h-1.3zM29.9 2.1h1.3v2.1h-1.3zM33.8 2.1h1.3v2.1h-1.3zM36.4 2.1h1.3v2.1h-1.3zM42.9 2.1h1.3v2.1h-1.3zM55.9 2.1h1.3v2.1h-1.3zM0 4.2h1.3v2.1h-1.3zM1.3 4.2h1.3v2.1h-1.3zM2.6 4.2h1.3v2.1h-1.3zM5.2 4.2h1.3v2.1h-1.3zM11.7 4.2h1.3v2.1h-1.3zM16.9 4.2h1.3v2.1h-1.3zM22.1 4.2h1.3v2.1h-1.3zM29.9 4.2h1.3v2.1h-1.3zM39 4.2h1.3v2.1h-1.3zM45.5 4.2h1.3v2.1h-1.3zM49.4 4.2h1.3v2.1h-1.3zM2.6 6.3h1.3v2.1h-1.3zM3.9 6.3h1.3v2.1h-1.3zM6.5 6.3h1.3v2.1h-1.3zM9.1 6.3h1.3v2.1h-1.3zM19.5 6.3h1.3v2.1h-1.3zM20.8 6.3h1.3v2.1h-1.3zM22.1 6.3h1.3v2.1h-1.3zM24.7 6.3h1.3v2.1h-1.3zM27.3 6.3h1.3v2.1h-1.3zM29.9 6.3h1.3v2.1h-1.3zM32.5 6.3h1.3v2.1h-1.3zM41.6 6.3h1.3v2.1h-1.3zM44.2 6.3h1.3v2.1h-1.3zM10.4 8.4h1.3v2.1h-1.3zM13 8.4h1.3v2.1h-1.3zM14.3 8.4h1.3v2.1h-1.3zM31.2 8.4h1.3v2.1h-1.3zM44.2 8.4h1.3v2.1h-1.3zM52 8.4h1.3v2.1h-1.3zM0 10.5h1.3v2.1h-1.3zM2.6 10.5h1.3v2.1h-1.3zM11.7 10.5h1.3v2.1h-1.3zM14.3 10.5h1.3v2.1h-1.3zM19.5 10.5h1.3v2.1h-1.3zM22.1 10.5h1.3v2.1h-1.3zM29.9 10.5h1.3v2.1h-1.3zM33.8 10.5h1.3v2.1h-1.3zM48.1 10.5h1.3v2.1h-1.3zM0 12.6h1.3v2.1h-1.3zM1.3 12.6h1.3v2.1h-1.3zM2.6 12.6h1.3v2.1h-1.3zM5.2 12.6h1.3v2.1h-1.3zM10.4 12.6h1.3v2.1h-1.3zM11.7 12.6h1.3v2.1h-1.3zM16.9 12.6h1.3v2.1h-1.3zM29.9 12.6h1.3v2.1h-1.3zM32.5 12.6h1.3v2.1h-1.3zM33.8 12.6h1.3v2.1h-1.3zM36.4 12.6h1.3v2.1h-1.3zM37.7 12.6h1.3v2.1h-1.3zM40.3 12.6h1.3v2.1h-1.3zM42.9 12.6h1.3v2.1h-1.3zM53.3 12.6h1.3v2.1h-1.3zM6.5 14.7h1.3v2.1h-1.3zM13 14.7h1.3v2.1h-1.3zM18.2 14.7h1.3v2.1h-1.3zM31.2 14.7h1.3v2.1h-1.3zM37.7 14.7h1.3v2.1h-1.3zM39 14.7h1.3v2.1h-1.3zM41.6 14.7h1.3v2.1h-1.3zM53.3 14.7h1.3v2.1h-1.3zM54.6 14.7h1.3v2.1h-1.3zM0 16.8h1.3v2.1h-1.3zM15.6 16.8h1.3v2.1h-1.3zM22.1 16.8h1.3v2.1h-1.3zM23.4 16.8h1.3v2.1h-1.3zM28.6 16.8h1.3v2.1h-1.3zM33.8 16.8h1.3v2.1h-1.3zM35.1 16.8h1.3v2.1h-1.3zM45.5 16.8h1.3v2.1h-1.3zM49.4 16.8h1.3v2.1h-1.3zM50.7 16.8h1.3v2.1h-1.3zM7.8 18.9h1.3v2.1h-1.3zM9.1 18.9h1.3v2.1h-1.3zM13 18.9h1.3v2.1h-1.3zM16.9 18.9h1.3v2.1h-1.3zM22.1 18.9h1.3v2.1h-1.3zM28.6 18.9h1.3v2.1h-1.3zM54.6 18.9h1.3v2.1h-1.3zM0 21h1.3v2.1h-1.3zM13 21h1.3v2.1h-1.3zM16.9 21h1.3v2.1h-1.3zM33.8 21h1.3v2.1h-1.3zM39 21h1.3v2.1h-1.3zM40.3 21h1.3v2.1h-1.3zM41.6 21h1.3v2.1h-1.3zM52 21h1.3v2.1h-1.3zM11.7 23.1h1.3v2.1h-1.3zM16.9 23.1h1.3v2.1h-1.3zM20.8 23.1h1.3v2.1h-1.3zM35.1 23.1h1.3v2.1h-1.3zM40.3 23.1h1.3v2.1h-1.3zM50.7 23.1h1.3v2.1h-1.3zM15.6 25.2h1.3v2.1h-1.3zM20.8 25.2h1.3v2.1h-1.3zM28.6 25.2h1.3v2.1h-1.3zM29.9 25.2h1.3v2.1h-1.3zM31.2 25.2h1.3v2.1h-1.3zM37.7 25.2h1.3v2.1h-1.3zM41.6 25.2h1.3v2.1h-1.3zM42.9 25.2h1.3v2.1h-1.3z" fill="#00ffff"/></pattern><pattern id="spB" width="57.2" height="27.3" patternUnits="userSpaceOnUse"><path d="M3.9 0h1.3v2.1h-1.3zM5.2 0h1.3v2.1h-1.3zM9.1 0h1.3v2.1h-1.3zM10.4 0h1.3v2.1h-1.3zM13 0h1.3v2.1h-1.3zM15.6 0h1.3v2.1h-1.3zM20.8 0h1.3v2.1h-1.3zM22.1 0h1.3v2.1h-1.3zM26 0h1.3v2.1h-1.3zM29.9 0h1.3v2.1h-1.3zM31.2 0h1.3v2.1h-1.3zM33.8 0h1.3v2.1h-1.3zM39 0h1.3v2.1h-1.3zM40.3 0h1.3v2.1h-1.3zM42.9 0h1.3v2.1h-1.3zM45.5 0h1.3v2.1h-1.3zM48.1 0h1.3v2.1h-1.3zM0 2.1h1.3v2.1h-1.3zM2.6 2.1h1.3v2.1h-1.3zM3.9 2.1h1.3v2.1h-1.3zM5.2 2.1h1.3v2.1h-1.3zM6.5 2.1h1.3v2.1h-1.3zM9.1 2.1h1.3v2.1h-1.3zM10.4 2.1h1.3v2.1h-1.3zM11.7 2.1h1.3v2.1h-1.3zM14.3 2.1h1.3v2.1h-1.3zM15.6 2.1h1.3v2.1h-1.3zM24.7 2.1h1.3v2.1h-1.3zM37.7 2.1h1.3v2.1h-1.3zM40.3 2.1h1.3v2.1h-1.3zM42.9 2.1h1.3v2.1h-1.3zM44.2 2.1h1.3v2.1h-1.3zM50.7 2.1h1.3v2.1h-1.3zM0 4.2h1.3v2.1h-1.3zM2.6 4.2h1.3v2.1h-1.3zM3.9 4.2h1.3v2.1h-1.3zM5.2 4.2h1.3v2.1h-1.3zM6.5 4.2h1.3v2.1h-1.3zM7.8 4.2h1.3v2.1h-1.3zM9.1 4.2h1.3v2.1h-1.3zM10.4 4.2h1.3v2.1h-1.3zM11.7 4.2h1.3v2.1h-1.3zM14.3 4.2h1.3v2.1h-1.3zM15.6 4.2h1.3v2.1h-1.3zM16.9 4.2h1.3v2.1h-1.3zM19.5 4.2h1.3v2.1h-1.3zM22.1 4.2h1.3v2.1h-1.3zM23.4 4.2h1.3v2.1h-1.3zM26 4.2h1.3v2.1h-1.3zM29.9 4.2h1.3v2.1h-1.3zM35.1 4.2h1.3v2.1h-1.3zM36.4 4.2h1.3v2.1h-1.3zM37.7 4.2h1.3v2.1h-1.3zM41.6 4.2h1.3v2.1h-1.3zM44.2 4.2h1.3v2.1h-1.3zM45.5 4.2h1.3v2.1h-1.3zM49.4 4.2h1.3v2.1h-1.3zM50.7 4.2h1.3v2.1h-1.3zM53.3 4.2h1.3v2.1h-1.3zM54.6 4.2h1.3v2.1h-1.3zM55.9 4.2h1.3v2.1h-1.3zM1.3 6.3h1.3v2.1h-1.3zM2.6 6.3h1.3v2.1h-1.3zM3.9 6.3h1.3v2.1h-1.3zM6.5 6.3h1.3v2.1h-1.3zM10.4 6.3h1.3v2.1h-1.3zM11.7 6.3h1.3v2.1h-1.3zM13 6.3h1.3v2.1h-1.3zM16.9 6.3h1.3v2.1h-1.3zM20.8 6.3h1.3v2.1h-1.3zM22.1 6.3h1.3v2.1h-1.3zM23.4 6.3h1.3v2.1h-1.3zM24.7 6.3h1.3v2.1h-1.3zM26 6.3h1.3v2.1h-1.3zM27.3 6.3h1.3v2.1h-1.3zM33.8 6.3h1.3v2.1h-1.3zM36.4 6.3h1.3v2.1h-1.3zM39 6.3h1.3v2.1h-1.3zM41.6 6.3h1.3v2.1h-1.3zM44.2 6.3h1.3v2.1h-1.3zM45.5 6.3h1.3v2.1h-1.3zM46.8 6.3h1.3v2.1h-1.3zM53.3 6.3h1.3v2.1h-1.3zM54.6 6.3h1.3v2.1h-1.3zM55.9 6.3h1.3v2.1h-1.3zM1.3 8.4h1.3v2.1h-1.3zM3.9 8.4h1.3v2.1h-1.3zM5.2 8.4h1.3v2.1h-1.3zM7.8 8.4h1.3v2.1h-1.3zM9.1 8.4h1.3v2.1h-1.3zM11.7 8.4h1.3v2.1h-1.3zM13 8.4h1.3v2.1h-1.3zM18.2 8.4h1.3v2.1h-1.3zM19.5 8.4h1.3v2.1h-1.3zM22.1 8.4h1.3v2.1h-1.3zM23.4 8.4h1.3v2.1h-1.3zM32.5 8.4h1.3v2.1h-1.3zM39 8.4h1.3v2.1h-1.3zM42.9 8.4h1.3v2.1h-1.3zM44.2 8.4h1.3v2.1h-1.3zM45.5 8.4h1.3v2.1h-1.3zM49.4 8.4h1.3v2.1h-1.3zM50.7 8.4h1.3v2.1h-1.3zM55.9 8.4h1.3v2.1h-1.3zM6.5 10.5h1.3v2.1h-1.3zM7.8 10.5h1.3v2.1h-1.3zM9.1 10.5h1.3v2.1h-1.3zM10.4 10.5h1.3v2.1h-1.3zM19.5 10.5h1.3v2.1h-1.3zM23.4 10.5h1.3v2.1h-1.3zM26 10.5h1.3v2.1h-1.3zM27.3 10.5h1.3v2.1h-1.3zM28.6 10.5h1.3v2.1h-1.3zM29.9 10.5h1.3v2.1h-1.3zM31.2 10.5h1.3v2.1h-1.3zM33.8 10.5h1.3v2.1h-1.3zM35.1 10.5h1.3v2.1h-1.3zM37.7 10.5h1.3v2.1h-1.3zM40.3 10.5h1.3v2.1h-1.3zM41.6 10.5h1.3v2.1h-1.3zM42.9 10.5h1.3v2.1h-1.3zM45.5 10.5h1.3v2.1h-1.3zM46.8 10.5h1.3v2.1h-1.3zM48.1 10.5h1.3v2.1h-1.3zM50.7 10.5h1.3v2.1h-1.3zM53.3 10.5h1.3v2.1h-1.3zM55.9 10.5h1.3v2.1h-1.3zM0 12.6h1.3v2.1h-1.3zM1.3 12.6h1.3v2.1h-1.3zM2.6 12.6h1.3v2.1h-1.3zM3.9 12.6h1.3v2.1h-1.3zM9.1 12.6h1.3v2.1h-1.3zM13 12.6h1.3v2.1h-1.3zM14.3 12.6h1.3v2.1h-1.3zM15.6 12.6h1.3v2.1h-1.3zM22.1 12.6h1.3v2.1h-1.3zM23.4 12.6h1.3v2.1h-1.3zM26 12.6h1.3v2.1h-1.3zM29.9 12.6h1.3v2.1h-1.3zM39 12.6h1.3v2.1h-1.3zM42.9 12.6h1.3v2.1h-1.3zM44.2 12.6h1.3v2.1h-1.3zM45.5 12.6h1.3v2.1h-1.3zM48.1 12.6h1.3v2.1h-1.3zM49.4 12.6h1.3v2.1h-1.3zM53.3 12.6h1.3v2.1h-1.3zM0 14.7h1.3v2.1h-1.3zM1.3 14.7h1.3v2.1h-1.3zM7.8 14.7h1.3v2.1h-1.3zM9.1 14.7h1.3v2.1h-1.3zM10.4 14.7h1.3v2.1h-1.3zM13 14.7h1.3v2.1h-1.3zM14.3 14.7h1.3v2.1h-1.3zM15.6 14.7h1.3v2.1h-1.3zM16.9 14.7h1.3v2.1h-1.3zM22.1 14.7h1.3v2.1h-1.3zM26 14.7h1.3v2.1h-1.3zM27.3 14.7h1.3v2.1h-1.3zM31.2 14.7h1.3v2.1h-1.3zM32.5 14.7h1.3v2.1h-1.3zM33.8 14.7h1.3v2.1h-1.3zM35.1 14.7h1.3v2.1h-1.3zM36.4 14.7h1.3v2.1h-1.3zM37.7 14.7h1.3v2.1h-1.3zM39 14.7h1.3v2.1h-1.3zM42.9 14.7h1.3v2.1h-1.3zM45.5 14.7h1.3v2.1h-1.3zM46.8 14.7h1.3v2.1h-1.3zM48.1 14.7h1.3v2.1h-1.3zM49.4 14.7h1.3v2.1h-1.3zM55.9 14.7h1.3v2.1h-1.3zM0 16.8h1.3v2.1h-1.3zM1.3 16.8h1.3v2.1h-1.3zM2.6 16.8h1.3v2.1h-1.3zM3.9 16.8h1.3v2.1h-1.3zM9.1 16.8h1.3v2.1h-1.3zM11.7 16.8h1.3v2.1h-1.3zM15.6 16.8h1.3v2.1h-1.3zM16.9 16.8h1.3v2.1h-1.3zM22.1 16.8h1.3v2.1h-1.3zM29.9 16.8h1.3v2.1h-1.3zM35.1 16.8h1.3v2.1h-1.3zM36.4 16.8h1.3v2.1h-1.3zM48.1 16.8h1.3v2.1h-1.3zM52 16.8h1.3v2.1h-1.3zM55.9 16.8h1.3v2.1h-1.3zM0 18.9h1.3v2.1h-1.3zM2.6 18.9h1.3v2.1h-1.3zM3.9 18.9h1.3v2.1h-1.3zM6.5 18.9h1.3v2.1h-1.3zM10.4 18.9h1.3v2.1h-1.3zM11.7 18.9h1.3v2.1h-1.3zM18.2 18.9h1.3v2.1h-1.3zM23.4 18.9h1.3v2.1h-1.3zM24.7 18.9h1.3v2.1h-1.3zM29.9 18.9h1.3v2.1h-1.3zM31.2 18.9h1.3v2.1h-1.3zM32.5 18.9h1.3v2.1h-1.3zM33.8 18.9h1.3v2.1h-1.3zM35.1 18.9h1.3v2.1h-1.3zM36.4 18.9h1.3v2.1h-1.3zM42.9 18.9h1.3v2.1h-1.3zM44.2 18.9h1.3v2.1h-1.3zM46.8 18.9h1.3v2.1h-1.3zM48.1 18.9h1.3v2.1h-1.3zM49.4 18.9h1.3v2.1h-1.3zM50.7 18.9h1.3v2.1h-1.3zM52 18.9h1.3v2.1h-1.3zM53.3 18.9h1.3v2.1h-1.3zM0 21h1.3v2.1h-1.3zM2.6 21h1.3v2.1h-1.3zM3.9 21h1.3v2.1h-1.3zM5.2 21h1.3v2.1h-1.3zM7.8 21h1.3v2.1h-1.3zM13 21h1.3v2.1h-1.3zM19.5 21h1.3v2.1h-1.3zM26 21h1.3v2.1h-1.3zM27.3 21h1.3v2.1h-1.3zM29.9 21h1.3v2.1h-1.3zM36.4 21h1.3v2.1h-1.3zM37.7 21h1.3v2.1h-1.3zM40.3 21h1.3v2.1h-1.3zM41.6 21h1.3v2.1h-1.3zM42.9 21h1.3v2.1h-1.3zM49.4 21h1.3v2.1h-1.3zM50.7 21h1.3v2.1h-1.3zM55.9 21h1.3v2.1h-1.3zM1.3 23.1h1.3v2.1h-1.3zM10.4 23.1h1.3v2.1h-1.3zM15.6 23.1h1.3v2.1h-1.3zM18.2 23.1h1.3v2.1h-1.3zM20.8 23.1h1.3v2.1h-1.3zM22.1 23.1h1.3v2.1h-1.3zM24.7 23.1h1.3v2.1h-1.3zM36.4 23.1h1.3v2.1h-1.3zM39 23.1h1.3v2.1h-1.3zM40.3 23.1h1.3v2.1h-1.3zM45.5 23.1h1.3v2.1h-1.3zM48.1 23.1h1.3v2.1h-1.3zM52 23.1h1.3v2.1h-1.3zM53.3 23.1h1.3v2.1h-1.3zM54.6 23.1h1.3v2.1h-1.3zM5.2 25.2h1.3v2.1h-1.3zM6.5 25.2h1.3v2.1h-1.3zM10.4 25.2h1.3v2.1h-1.3zM11.7 25.2h1.3v2.1h-1.3zM13 25.2h1.3v2.1h-1.3zM14.3 25.2h1.3v2.1h-1.3zM15.6 25.2h1.3v2.1h-1.3zM19.5 25.2h1.3v2.1h-1.3zM20.8 25.2h1.3v2.1h-1.3zM22.1 25.2h1.3v2.1h-1.3zM23.4 25.2h1.3v2.1h-1.3zM26 25.2h1.3v2.1h-1.3zM27.3 25.2h1.3v2.1h-1.3zM28.6 25.2h1.3v2.1h-1.3zM32.5 25.2h1.3v2.1h-1.3zM33.8 25.2h1.3v2.1h-1.3zM36.4 25.2h1.3v2.1h-1.3zM40.3 25.2h1.3v2.1h-1.3zM41.6 25.2h1.3v2.1h-1.3zM42.9 25.2h1.3v2.1h-1.3zM48.1 25.2h1.3v2.1h-1.3zM54.6 25.2h1.3v2.1h-1.3zM55.9 25.2h1.3v2.1h-1.3z" fill="#0000ff"/><path d="M27.3 0h1.3v2.1h-1.3zM28.6 0h1.3v2.1h-1.3zM52 0h1.3v2.1h-1.3zM1.3 2.1h1.3v2.1h-1.3zM20.8 2.1h1.3v2.1h-1.3zM22.1 2.1h1.3v2.1h-1.3zM32.5 2.1h1.3v2.1h-1.3zM33.8 2.1h1.3v2.1h-1.3zM41.6 2.1h1.3v2.1h-1.3zM18.2 4.2h1.3v2.1h-1.3zM20.8 4.2h1.3v2.1h-1.3zM24.7 4.2h1.3v2.1h-1.3zM31.2 4.2h1.3v2.1h-1.3zM33.8 4.2h1.3v2.1h-1.3zM15.6 6.3h1.3v2.1h-1.3zM16.9 8.4h1.3v2.1h-1.3zM29.9 8.4h1.3v2.1h-1.3zM33.8 8.4h1.3v2.1h-1.3zM37.7 8.4h1.3v2.1h-1.3zM41.6 8.4h1.3v2.1h-1.3zM3.9 10.5h1.3v2.1h-1.3zM11.7 10.5h1.3v2.1h-1.3zM20.8 10.5h1.3v2.1h-1.3zM6.5 12.6h1.3v2.1h-1.3zM19.5 12.6h1.3v2.1h-1.3zM20.8 12.6h1.3v2.1h-1.3zM27.3 12.6h1.3v2.1h-1.3zM31.2 12.6h1.3v2.1h-1.3zM40.3 12.6h1.3v2.1h-1.3zM18.2 14.7h1.3v2.1h-1.3zM23.4 14.7h1.3v2.1h-1.3zM52 14.7h1.3v2.1h-1.3zM54.6 14.7h1.3v2.1h-1.3zM27.3 16.8h1.3v2.1h-1.3zM33.8 16.8h1.3v2.1h-1.3zM5.2 18.9h1.3v2.1h-1.3zM19.5 18.9h1.3v2.1h-1.3zM28.6 18.9h1.3v2.1h-1.3zM39 18.9h1.3v2.1h-1.3zM14.3 21h1.3v2.1h-1.3zM18.2 21h1.3v2.1h-1.3zM32.5 21h1.3v2.1h-1.3zM7.8 23.1h1.3v2.1h-1.3zM9.1 23.1h1.3v2.1h-1.3zM29.9 23.1h1.3v2.1h-1.3zM33.8 23.1h1.3v2.1h-1.3zM44.2 23.1h1.3v2.1h-1.3zM45.5 25.2h1.3v2.1h-1.3zM46.8 25.2h1.3v2.1h-1.3z" fill="#ff00ff"/><path d="M14.3 0h1.3v2.1h-1.3zM16.9 0h1.3v2.1h-1.3zM19.5 0h1.3v2.1h-1.3zM23.4 0h1.3v2.1h-1.3zM24.7 0h1.3v2.1h-1.3zM32.5 0h1.3v2.1h-1.3zM35.1 0h1.3v2.1h-1.3zM49.4 0h1.3v2.1h-1.3zM53.3 0h1.3v2.1h-1.3zM7.8 2.1h1.3v2.1h-1.3zM16.9 2.1h1.3v2.1h-1.3zM19.5 2.1h1.3v2.1h-1.3zM27.3 2.1h1.3v2.1h-1.3zM36.4 2.1h1.3v2.1h-1.3zM45.5 2.1h1.3v2.1h-1.3zM46.8 2.1h1.3v2.1h-1.3zM49.4 2.1h1.3v2.1h-1.3zM52 2.1h1.3v2.1h-1.3zM54.6 2.1h1.3v2.1h-1.3zM1.3 4.2h1.3v2.1h-1.3zM28.6 4.2h1.3v2.1h-1.3zM40.3 4.2h1.3v2.1h-1.3zM52 4.2h1.3v2.1h-1.3zM7.8 6.3h1.3v2.1h-1.3zM9.1 6.3h1.3v2.1h-1.3zM29.9 6.3h1.3v2.1h-1.3zM32.5 6.3h1.3v2.1h-1.3zM35.1 6.3h1.3v2.1h-1.3zM37.7 6.3h1.3v2.1h-1.3zM52 6.3h1.3v2.1h-1.3zM6.5 8.4h1.3v2.1h-1.3zM20.8 8.4h1.3v2.1h-1.3zM26 8.4h1.3v2.1h-1.3zM35.1 8.4h1.3v2.1h-1.3zM46.8 8.4h1.3v2.1h-1.3zM5.2 10.5h1.3v2.1h-1.3zM14.3 10.5h1.3v2.1h-1.3zM24.7 10.5h1.3v2.1h-1.3zM49.4 10.5h1.3v2.1h-1.3zM5.2 12.6h1.3v2.1h-1.3zM10.4 12.6h1.3v2.1h-1.3zM18.2 12.6h1.3v2.1h-1.3zM24.7 12.6h1.3v2.1h-1.3zM37.7 12.6h1.3v2.1h-1.3zM50.7 12.6h1.3v2.1h-1.3zM2.6 14.7h1.3v2.1h-1.3zM3.9 14.7h1.3v2.1h-1.3zM28.6 14.7h1.3v2.1h-1.3zM41.6 14.7h1.3v2.1h-1.3zM5.2 16.8h1.3v2.1h-1.3zM10.4 16.8h1.3v2.1h-1.3zM23.4 16.8h1.3v2.1h-1.3zM26 16.8h1.3v2.1h-1.3zM31.2 16.8h1.3v2.1h-1.3zM39 16.8h1.3v2.1h-1.3zM42.9 16.8h1.3v2.1h-1.3zM49.4 16.8h1.3v2.1h-1.3zM54.6 16.8h1.3v2.1h-1.3zM13 18.9h1.3v2.1h-1.3zM15.6 18.9h1.3v2.1h-1.3zM20.8 18.9h1.3v2.1h-1.3zM27.3 18.9h1.3v2.1h-1.3zM37.7 18.9h1.3v2.1h-1.3zM41.6 18.9h1.3v2.1h-1.3zM54.6 18.9h1.3v2.1h-1.3zM9.1 21h1.3v2.1h-1.3zM11.7 21h1.3v2.1h-1.3zM15.6 21h1.3v2.1h-1.3zM16.9 21h1.3v2.1h-1.3zM28.6 21h1.3v2.1h-1.3zM33.8 21h1.3v2.1h-1.3zM39 21h1.3v2.1h-1.3zM45.5 21h1.3v2.1h-1.3zM48.1 21h1.3v2.1h-1.3zM53.3 21h1.3v2.1h-1.3zM54.6 21h1.3v2.1h-1.3zM3.9 23.1h1.3v2.1h-1.3zM11.7 23.1h1.3v2.1h-1.3zM19.5 23.1h1.3v2.1h-1.3zM23.4 23.1h1.3v2.1h-1.3zM27.3 23.1h1.3v2.1h-1.3zM35.1 23.1h1.3v2.1h-1.3zM37.7 23.1h1.3v2.1h-1.3zM41.6 23.1h1.3v2.1h-1.3zM46.8 23.1h1.3v2.1h-1.3zM49.4 23.1h1.3v2.1h-1.3zM55.9 23.1h1.3v2.1h-1.3zM0 25.2h1.3v2.1h-1.3zM2.6 25.2h1.3v2.1h-1.3zM16.9 25.2h1.3v2.1h-1.3zM24.7 25.2h1.3v2.1h-1.3zM31.2 25.2h1.3v2.1h-1.3zM37.7 25.2h1.3v2.1h-1.3zM49.4 25.2h1.3v2.1h-1.3zM50.7 25.2h1.3v2.1h-1.3z" fill="#00ffff"/></pattern><pattern id="spB2" width="57.2" height="27.3" patternUnits="userSpaceOnUse"><path d="M37.7 0h1.3v2.1h-1.3zM5.2 2.1h1.3v2.1h-1.3zM10.4 2.1h1.3v2.1h-1.3zM11.7 2.1h1.3v2.1h-1.3zM19.5 2.1h1.3v2.1h-1.3zM22.1 2.1h1.3v2.1h-1.3zM32.5 2.1h1.3v2.1h-1.3zM42.9 2.1h1.3v2.1h-1.3zM53.3 2.1h1.3v2.1h-1.3zM0 4.2h1.3v2.1h-1.3zM16.9 4.2h1.3v2.1h-1.3zM23.4 4.2h1.3v2.1h-1.3zM41.6 4.2h1.3v2.1h-1.3zM48.1 4.2h1.3v2.1h-1.3zM6.5 6.3h1.3v2.1h-1.3zM14.3 6.3h1.3v2.1h-1.3zM15.6 6.3h1.3v2.1h-1.3zM22.1 6.3h1.3v2.1h-1.3zM28.6 6.3h1.3v2.1h-1.3zM42.9 6.3h1.3v2.1h-1.3zM46.8 6.3h1.3v2.1h-1.3zM2.6 8.4h1.3v2.1h-1.3zM27.3 8.4h1.3v2.1h-1.3zM28.6 8.4h1.3v2.1h-1.3zM44.2 8.4h1.3v2.1h-1.3zM46.8 8.4h1.3v2.1h-1.3zM50.7 8.4h1.3v2.1h-1.3zM11.7 10.5h1.3v2.1h-1.3zM13 10.5h1.3v2.1h-1.3zM15.6 10.5h1.3v2.1h-1.3zM16.9 10.5h1.3v2.1h-1.3zM19.5 10.5h1.3v2.1h-1.3zM50.7 10.5h1.3v2.1h-1.3zM3.9 12.6h1.3v2.1h-1.3zM20.8 12.6h1.3v2.1h-1.3zM24.7 12.6h1.3v2.1h-1.3zM28.6 12.6h1.3v2.1h-1.3zM29.9 12.6h1.3v2.1h-1.3zM37.7 12.6h1.3v2.1h-1.3zM2.6 14.7h1.3v2.1h-1.3zM16.9 14.7h1.3v2.1h-1.3zM24.7 14.7h1.3v2.1h-1.3zM27.3 14.7h1.3v2.1h-1.3zM31.2 14.7h1.3v2.1h-1.3zM50.7 14.7h1.3v2.1h-1.3zM13 16.8h1.3v2.1h-1.3zM40.3 16.8h1.3v2.1h-1.3zM1.3 18.9h1.3v2.1h-1.3zM6.5 18.9h1.3v2.1h-1.3zM35.1 18.9h1.3v2.1h-1.3zM53.3 18.9h1.3v2.1h-1.3zM54.6 18.9h1.3v2.1h-1.3zM1.3 21h1.3v2.1h-1.3zM18.2 21h1.3v2.1h-1.3zM0 23.1h1.3v2.1h-1.3zM3.9 23.1h1.3v2.1h-1.3zM10.4 23.1h1.3v2.1h-1.3zM18.2 23.1h1.3v2.1h-1.3zM33.8 23.1h1.3v2.1h-1.3zM40.3 23.1h1.3v2.1h-1.3zM49.4 23.1h1.3v2.1h-1.3zM55.9 23.1h1.3v2.1h-1.3zM9.1 25.2h1.3v2.1h-1.3zM39 25.2h1.3v2.1h-1.3zM44.2 25.2h1.3v2.1h-1.3zM49.4 25.2h1.3v2.1h-1.3z" fill="#ff00ff"/><path d="M1.3 0h1.3v2.1h-1.3zM5.2 0h1.3v2.1h-1.3zM7.8 0h1.3v2.1h-1.3zM9.1 0h1.3v2.1h-1.3zM10.4 0h1.3v2.1h-1.3zM13 0h1.3v2.1h-1.3zM15.6 0h1.3v2.1h-1.3zM16.9 0h1.3v2.1h-1.3zM24.7 0h1.3v2.1h-1.3zM32.5 0h1.3v2.1h-1.3zM7.8 2.1h1.3v2.1h-1.3zM9.1 2.1h1.3v2.1h-1.3zM20.8 2.1h1.3v2.1h-1.3zM24.7 2.1h1.3v2.1h-1.3zM35.1 2.1h1.3v2.1h-1.3zM37.7 2.1h1.3v2.1h-1.3zM39 2.1h1.3v2.1h-1.3zM48.1 2.1h1.3v2.1h-1.3zM50.7 2.1h1.3v2.1h-1.3zM52 2.1h1.3v2.1h-1.3zM55.9 2.1h1.3v2.1h-1.3zM1.3 4.2h1.3v2.1h-1.3zM5.2 4.2h1.3v2.1h-1.3zM7.8 4.2h1.3v2.1h-1.3zM18.2 4.2h1.3v2.1h-1.3zM31.2 4.2h1.3v2.1h-1.3zM32.5 4.2h1.3v2.1h-1.3zM33.8 4.2h1.3v2.1h-1.3zM36.4 4.2h1.3v2.1h-1.3zM39 4.2h1.3v2.1h-1.3zM40.3 4.2h1.3v2.1h-1.3zM42.9 4.2h1.3v2.1h-1.3zM52 4.2h1.3v2.1h-1.3zM55.9 4.2h1.3v2.1h-1.3zM9.1 6.3h1.3v2.1h-1.3zM11.7 6.3h1.3v2.1h-1.3zM16.9 6.3h1.3v2.1h-1.3zM29.9 6.3h1.3v2.1h-1.3zM35.1 6.3h1.3v2.1h-1.3zM0 8.4h1.3v2.1h-1.3zM9.1 8.4h1.3v2.1h-1.3zM10.4 8.4h1.3v2.1h-1.3zM11.7 8.4h1.3v2.1h-1.3zM13 8.4h1.3v2.1h-1.3zM15.6 8.4h1.3v2.1h-1.3zM23.4 8.4h1.3v2.1h-1.3zM24.7 8.4h1.3v2.1h-1.3zM36.4 8.4h1.3v2.1h-1.3zM39 8.4h1.3v2.1h-1.3zM41.6 8.4h1.3v2.1h-1.3zM49.4 8.4h1.3v2.1h-1.3zM54.6 8.4h1.3v2.1h-1.3zM55.9 8.4h1.3v2.1h-1.3zM0 10.5h1.3v2.1h-1.3zM5.2 10.5h1.3v2.1h-1.3zM10.4 10.5h1.3v2.1h-1.3zM20.8 10.5h1.3v2.1h-1.3zM23.4 10.5h1.3v2.1h-1.3zM29.9 10.5h1.3v2.1h-1.3zM31.2 10.5h1.3v2.1h-1.3zM36.4 10.5h1.3v2.1h-1.3zM48.1 10.5h1.3v2.1h-1.3zM55.9 10.5h1.3v2.1h-1.3zM1.3 12.6h1.3v2.1h-1.3zM7.8 12.6h1.3v2.1h-1.3zM10.4 12.6h1.3v2.1h-1.3zM11.7 12.6h1.3v2.1h-1.3zM18.2 12.6h1.3v2.1h-1.3zM26 12.6h1.3v2.1h-1.3zM39 12.6h1.3v2.1h-1.3zM49.4 12.6h1.3v2.1h-1.3zM52 12.6h1.3v2.1h-1.3zM55.9 12.6h1.3v2.1h-1.3zM0 14.7h1.3v2.1h-1.3zM1.3 14.7h1.3v2.1h-1.3zM3.9 14.7h1.3v2.1h-1.3zM10.4 14.7h1.3v2.1h-1.3zM15.6 14.7h1.3v2.1h-1.3zM44.2 14.7h1.3v2.1h-1.3zM45.5 14.7h1.3v2.1h-1.3zM53.3 14.7h1.3v2.1h-1.3zM54.6 14.7h1.3v2.1h-1.3zM1.3 16.8h1.3v2.1h-1.3zM7.8 16.8h1.3v2.1h-1.3zM10.4 16.8h1.3v2.1h-1.3zM11.7 16.8h1.3v2.1h-1.3zM14.3 16.8h1.3v2.1h-1.3zM20.8 16.8h1.3v2.1h-1.3zM23.4 16.8h1.3v2.1h-1.3zM24.7 16.8h1.3v2.1h-1.3zM26 16.8h1.3v2.1h-1.3zM32.5 16.8h1.3v2.1h-1.3zM45.5 16.8h1.3v2.1h-1.3zM49.4 16.8h1.3v2.1h-1.3zM10.4 18.9h1.3v2.1h-1.3zM19.5 18.9h1.3v2.1h-1.3zM20.8 18.9h1.3v2.1h-1.3zM24.7 18.9h1.3v2.1h-1.3zM26 18.9h1.3v2.1h-1.3zM27.3 18.9h1.3v2.1h-1.3zM28.6 18.9h1.3v2.1h-1.3zM29.9 18.9h1.3v2.1h-1.3zM36.4 18.9h1.3v2.1h-1.3zM37.7 18.9h1.3v2.1h-1.3zM39 18.9h1.3v2.1h-1.3zM41.6 18.9h1.3v2.1h-1.3zM0 21h1.3v2.1h-1.3zM5.2 21h1.3v2.1h-1.3zM10.4 21h1.3v2.1h-1.3zM11.7 21h1.3v2.1h-1.3zM14.3 21h1.3v2.1h-1.3zM22.1 21h1.3v2.1h-1.3zM24.7 21h1.3v2.1h-1.3zM27.3 21h1.3v2.1h-1.3zM29.9 21h1.3v2.1h-1.3zM32.5 21h1.3v2.1h-1.3zM35.1 21h1.3v2.1h-1.3zM41.6 21h1.3v2.1h-1.3zM46.8 21h1.3v2.1h-1.3zM55.9 21h1.3v2.1h-1.3zM1.3 23.1h1.3v2.1h-1.3zM7.8 23.1h1.3v2.1h-1.3zM9.1 23.1h1.3v2.1h-1.3zM13 23.1h1.3v2.1h-1.3zM20.8 23.1h1.3v2.1h-1.3zM32.5 23.1h1.3v2.1h-1.3zM36.4 23.1h1.3v2.1h-1.3zM41.6 23.1h1.3v2.1h-1.3zM48.1 23.1h1.3v2.1h-1.3zM52 23.1h1.3v2.1h-1.3zM3.9 25.2h1.3v2.1h-1.3zM5.2 25.2h1.3v2.1h-1.3zM6.5 25.2h1.3v2.1h-1.3zM10.4 25.2h1.3v2.1h-1.3zM11.7 25.2h1.3v2.1h-1.3zM18.2 25.2h1.3v2.1h-1.3zM22.1 25.2h1.3v2.1h-1.3zM23.4 25.2h1.3v2.1h-1.3zM24.7 25.2h1.3v2.1h-1.3zM27.3 25.2h1.3v2.1h-1.3zM28.6 25.2h1.3v2.1h-1.3zM33.8 25.2h1.3v2.1h-1.3zM36.4 25.2h1.3v2.1h-1.3zM53.3 25.2h1.3v2.1h-1.3z" fill="#0000ff"/></pattern><pattern id="spE1" width="57.2" height="27.3" patternUnits="userSpaceOnUse"><path d="M2.6 0h1.3v2.1h-1.3zM6.5 0h1.3v2.1h-1.3zM10.4 0h1.3v2.1h-1.3zM22.1 0h1.3v2.1h-1.3zM26 0h1.3v2.1h-1.3zM29.9 0h1.3v2.1h-1.3zM32.5 0h1.3v2.1h-1.3zM35.1 0h1.3v2.1h-1.3zM36.4 0h1.3v2.1h-1.3zM45.5 0h1.3v2.1h-1.3zM46.8 0h1.3v2.1h-1.3zM54.6 0h1.3v2.1h-1.3zM0 2.1h1.3v2.1h-1.3zM19.5 2.1h1.3v2.1h-1.3zM24.7 2.1h1.3v2.1h-1.3zM26 2.1h1.3v2.1h-1.3zM39 2.1h1.3v2.1h-1.3zM45.5 2.1h1.3v2.1h-1.3zM52 2.1h1.3v2.1h-1.3zM1.3 4.2h1.3v2.1h-1.3zM3.9 4.2h1.3v2.1h-1.3zM9.1 4.2h1.3v2.1h-1.3zM11.7 4.2h1.3v2.1h-1.3zM13 4.2h1.3v2.1h-1.3zM27.3 4.2h1.3v2.1h-1.3zM28.6 4.2h1.3v2.1h-1.3zM35.1 4.2h1.3v2.1h-1.3zM37.7 4.2h1.3v2.1h-1.3zM49.4 4.2h1.3v2.1h-1.3zM1.3 6.3h1.3v2.1h-1.3zM15.6 6.3h1.3v2.1h-1.3zM23.4 6.3h1.3v2.1h-1.3zM26 6.3h1.3v2.1h-1.3zM32.5 6.3h1.3v2.1h-1.3zM37.7 6.3h1.3v2.1h-1.3zM45.5 6.3h1.3v2.1h-1.3zM50.7 6.3h1.3v2.1h-1.3zM54.6 6.3h1.3v2.1h-1.3zM2.6 8.4h1.3v2.1h-1.3zM10.4 8.4h1.3v2.1h-1.3zM15.6 8.4h1.3v2.1h-1.3zM16.9 8.4h1.3v2.1h-1.3zM23.4 8.4h1.3v2.1h-1.3zM24.7 8.4h1.3v2.1h-1.3zM31.2 8.4h1.3v2.1h-1.3zM32.5 8.4h1.3v2.1h-1.3zM35.1 8.4h1.3v2.1h-1.3zM39 8.4h1.3v2.1h-1.3zM40.3 8.4h1.3v2.1h-1.3zM49.4 8.4h1.3v2.1h-1.3zM0 10.5h1.3v2.1h-1.3zM15.6 10.5h1.3v2.1h-1.3zM24.7 10.5h1.3v2.1h-1.3zM27.3 10.5h1.3v2.1h-1.3zM32.5 10.5h1.3v2.1h-1.3zM33.8 10.5h1.3v2.1h-1.3zM42.9 10.5h1.3v2.1h-1.3zM46.8 10.5h1.3v2.1h-1.3zM53.3 10.5h1.3v2.1h-1.3zM5.2 12.6h1.3v2.1h-1.3zM19.5 12.6h1.3v2.1h-1.3zM24.7 12.6h1.3v2.1h-1.3zM26 12.6h1.3v2.1h-1.3zM32.5 12.6h1.3v2.1h-1.3zM5.2 14.7h1.3v2.1h-1.3zM10.4 14.7h1.3v2.1h-1.3zM18.2 14.7h1.3v2.1h-1.3zM19.5 14.7h1.3v2.1h-1.3zM20.8 14.7h1.3v2.1h-1.3zM28.6 14.7h1.3v2.1h-1.3zM29.9 14.7h1.3v2.1h-1.3zM36.4 14.7h1.3v2.1h-1.3zM54.6 14.7h1.3v2.1h-1.3zM55.9 14.7h1.3v2.1h-1.3zM2.6 16.8h1.3v2.1h-1.3zM13 16.8h1.3v2.1h-1.3zM14.3 16.8h1.3v2.1h-1.3zM16.9 16.8h1.3v2.1h-1.3zM19.5 16.8h1.3v2.1h-1.3zM23.4 16.8h1.3v2.1h-1.3zM26 16.8h1.3v2.1h-1.3zM49.4 16.8h1.3v2.1h-1.3zM0 18.9h1.3v2.1h-1.3zM6.5 18.9h1.3v2.1h-1.3zM7.8 18.9h1.3v2.1h-1.3zM10.4 18.9h1.3v2.1h-1.3zM13 18.9h1.3v2.1h-1.3zM23.4 18.9h1.3v2.1h-1.3zM41.6 18.9h1.3v2.1h-1.3zM42.9 18.9h1.3v2.1h-1.3zM44.2 18.9h1.3v2.1h-1.3zM52 18.9h1.3v2.1h-1.3zM55.9 18.9h1.3v2.1h-1.3zM3.9 21h1.3v2.1h-1.3zM16.9 21h1.3v2.1h-1.3zM20.8 21h1.3v2.1h-1.3zM24.7 21h1.3v2.1h-1.3zM40.3 21h1.3v2.1h-1.3zM2.6 23.1h1.3v2.1h-1.3zM5.2 23.1h1.3v2.1h-1.3zM11.7 23.1h1.3v2.1h-1.3zM23.4 23.1h1.3v2.1h-1.3zM24.7 23.1h1.3v2.1h-1.3zM33.8 23.1h1.3v2.1h-1.3zM42.9 23.1h1.3v2.1h-1.3zM45.5 23.1h1.3v2.1h-1.3zM50.7 23.1h1.3v2.1h-1.3zM53.3 23.1h1.3v2.1h-1.3zM7.8 25.2h1.3v2.1h-1.3zM18.2 25.2h1.3v2.1h-1.3zM33.8 25.2h1.3v2.1h-1.3zM39 25.2h1.3v2.1h-1.3zM40.3 25.2h1.3v2.1h-1.3zM42.9 25.2h1.3v2.1h-1.3zM50.7 25.2h1.3v2.1h-1.3z" fill="#0000ff"/><path d="M19.5 0h1.3v2.1h-1.3zM23.4 0h1.3v2.1h-1.3zM48.1 0h1.3v2.1h-1.3zM49.4 0h1.3v2.1h-1.3zM50.7 0h1.3v2.1h-1.3zM53.3 0h1.3v2.1h-1.3zM55.9 0h1.3v2.1h-1.3zM11.7 2.1h1.3v2.1h-1.3zM35.1 2.1h1.3v2.1h-1.3zM40.3 2.1h1.3v2.1h-1.3zM41.6 2.1h1.3v2.1h-1.3zM48.1 2.1h1.3v2.1h-1.3zM50.7 2.1h1.3v2.1h-1.3zM53.3 2.1h1.3v2.1h-1.3zM2.6 4.2h1.3v2.1h-1.3zM7.8 4.2h1.3v2.1h-1.3zM19.5 4.2h1.3v2.1h-1.3zM36.4 4.2h1.3v2.1h-1.3zM40.3 4.2h1.3v2.1h-1.3zM48.1 4.2h1.3v2.1h-1.3zM52 4.2h1.3v2.1h-1.3zM3.9 6.3h1.3v2.1h-1.3zM9.1 6.3h1.3v2.1h-1.3zM13 6.3h1.3v2.1h-1.3zM35.1 6.3h1.3v2.1h-1.3zM36.4 6.3h1.3v2.1h-1.3zM39 6.3h1.3v2.1h-1.3zM46.8 6.3h1.3v2.1h-1.3zM7.8 8.4h1.3v2.1h-1.3zM27.3 8.4h1.3v2.1h-1.3zM11.7 10.5h1.3v2.1h-1.3zM13 10.5h1.3v2.1h-1.3zM41.6 10.5h1.3v2.1h-1.3zM52 10.5h1.3v2.1h-1.3zM54.6 10.5h1.3v2.1h-1.3zM55.9 10.5h1.3v2.1h-1.3zM0 12.6h1.3v2.1h-1.3zM2.6 12.6h1.3v2.1h-1.3zM7.8 12.6h1.3v2.1h-1.3zM10.4 12.6h1.3v2.1h-1.3zM13 12.6h1.3v2.1h-1.3zM20.8 12.6h1.3v2.1h-1.3zM35.1 12.6h1.3v2.1h-1.3zM36.4 12.6h1.3v2.1h-1.3zM42.9 12.6h1.3v2.1h-1.3zM3.9 14.7h1.3v2.1h-1.3zM32.5 14.7h1.3v2.1h-1.3zM39 14.7h1.3v2.1h-1.3zM0 16.8h1.3v2.1h-1.3zM5.2 16.8h1.3v2.1h-1.3zM20.8 16.8h1.3v2.1h-1.3zM29.9 16.8h1.3v2.1h-1.3zM31.2 16.8h1.3v2.1h-1.3zM33.8 16.8h1.3v2.1h-1.3zM35.1 16.8h1.3v2.1h-1.3zM42.9 16.8h1.3v2.1h-1.3zM48.1 16.8h1.3v2.1h-1.3zM50.7 16.8h1.3v2.1h-1.3zM1.3 18.9h1.3v2.1h-1.3zM16.9 18.9h1.3v2.1h-1.3zM29.9 18.9h1.3v2.1h-1.3zM31.2 18.9h1.3v2.1h-1.3zM39 18.9h1.3v2.1h-1.3zM9.1 21h1.3v2.1h-1.3zM10.4 21h1.3v2.1h-1.3zM35.1 21h1.3v2.1h-1.3zM0 23.1h1.3v2.1h-1.3zM1.3 23.1h1.3v2.1h-1.3zM7.8 23.1h1.3v2.1h-1.3zM0 25.2h1.3v2.1h-1.3zM3.9 25.2h1.3v2.1h-1.3zM5.2 25.2h1.3v2.1h-1.3zM15.6 25.2h1.3v2.1h-1.3zM23.4 25.2h1.3v2.1h-1.3zM26 25.2h1.3v2.1h-1.3zM41.6 25.2h1.3v2.1h-1.3zM55.9 25.2h1.3v2.1h-1.3z" fill="#00ffff"/><path d="M13 0h1.3v2.1h-1.3zM27.3 0h1.3v2.1h-1.3zM9.1 2.1h1.3v2.1h-1.3zM14.3 2.1h1.3v2.1h-1.3zM33.8 4.2h1.3v2.1h-1.3zM44.2 4.2h1.3v2.1h-1.3zM55.9 4.2h1.3v2.1h-1.3zM14.3 6.3h1.3v2.1h-1.3zM33.8 6.3h1.3v2.1h-1.3zM55.9 6.3h1.3v2.1h-1.3zM1.3 8.4h1.3v2.1h-1.3zM28.6 8.4h1.3v2.1h-1.3zM36.4 8.4h1.3v2.1h-1.3zM37.7 8.4h1.3v2.1h-1.3zM54.6 8.4h1.3v2.1h-1.3zM22.1 10.5h1.3v2.1h-1.3zM26 10.5h1.3v2.1h-1.3zM28.6 10.5h1.3v2.1h-1.3zM18.2 12.6h1.3v2.1h-1.3zM40.3 12.6h1.3v2.1h-1.3zM0 14.7h1.3v2.1h-1.3zM7.8 14.7h1.3v2.1h-1.3zM41.6 14.7h1.3v2.1h-1.3zM1.3 16.8h1.3v2.1h-1.3zM37.7 16.8h1.3v2.1h-1.3zM54.6 16.8h1.3v2.1h-1.3zM18.2 18.9h1.3v2.1h-1.3zM22.1 21h1.3v2.1h-1.3zM41.6 21h1.3v2.1h-1.3zM54.6 21h1.3v2.1h-1.3zM26 23.1h1.3v2.1h-1.3zM44.2 23.1h1.3v2.1h-1.3zM48.1 23.1h1.3v2.1h-1.3zM52 23.1h1.3v2.1h-1.3zM55.9 23.1h1.3v2.1h-1.3zM48.1 25.2h1.3v2.1h-1.3z" fill="#0080ff"/></pattern><pattern id="spE2" width="57.2" height="27.3" patternUnits="userSpaceOnUse"><path d="M27.3 0h1.3v2.1h-1.3zM26 2.1h1.3v2.1h-1.3zM55.9 2.1h1.3v2.1h-1.3zM1.3 4.2h1.3v2.1h-1.3zM3.9 4.2h1.3v2.1h-1.3zM10.4 4.2h1.3v2.1h-1.3zM20.8 4.2h1.3v2.1h-1.3zM28.6 4.2h1.3v2.1h-1.3zM31.2 4.2h1.3v2.1h-1.3zM49.4 4.2h1.3v2.1h-1.3zM1.3 6.3h1.3v2.1h-1.3zM24.7 6.3h1.3v2.1h-1.3zM40.3 6.3h1.3v2.1h-1.3zM48.1 6.3h1.3v2.1h-1.3zM1.3 8.4h1.3v2.1h-1.3zM14.3 8.4h1.3v2.1h-1.3zM19.5 8.4h1.3v2.1h-1.3zM54.6 8.4h1.3v2.1h-1.3zM55.9 8.4h1.3v2.1h-1.3zM2.6 10.5h1.3v2.1h-1.3zM13 10.5h1.3v2.1h-1.3zM19.5 10.5h1.3v2.1h-1.3zM35.1 10.5h1.3v2.1h-1.3zM39 10.5h1.3v2.1h-1.3zM48.1 10.5h1.3v2.1h-1.3zM54.6 10.5h1.3v2.1h-1.3zM10.4 12.6h1.3v2.1h-1.3zM36.4 12.6h1.3v2.1h-1.3zM48.1 12.6h1.3v2.1h-1.3zM49.4 12.6h1.3v2.1h-1.3zM23.4 14.7h1.3v2.1h-1.3zM26 14.7h1.3v2.1h-1.3zM31.2 14.7h1.3v2.1h-1.3zM35.1 14.7h1.3v2.1h-1.3zM3.9 16.8h1.3v2.1h-1.3zM22.1 16.8h1.3v2.1h-1.3zM28.6 16.8h1.3v2.1h-1.3zM31.2 16.8h1.3v2.1h-1.3zM40.3 16.8h1.3v2.1h-1.3zM10.4 18.9h1.3v2.1h-1.3zM15.6 18.9h1.3v2.1h-1.3zM16.9 18.9h1.3v2.1h-1.3zM27.3 18.9h1.3v2.1h-1.3zM28.6 18.9h1.3v2.1h-1.3zM50.7 18.9h1.3v2.1h-1.3zM53.3 18.9h1.3v2.1h-1.3zM19.5 21h1.3v2.1h-1.3zM42.9 21h1.3v2.1h-1.3zM45.5 21h1.3v2.1h-1.3zM15.6 23.1h1.3v2.1h-1.3zM16.9 23.1h1.3v2.1h-1.3zM27.3 23.1h1.3v2.1h-1.3zM36.4 23.1h1.3v2.1h-1.3zM37.7 23.1h1.3v2.1h-1.3zM40.3 23.1h1.3v2.1h-1.3zM44.2 23.1h1.3v2.1h-1.3zM53.3 23.1h1.3v2.1h-1.3zM54.6 23.1h1.3v2.1h-1.3zM9.1 25.2h1.3v2.1h-1.3zM13 25.2h1.3v2.1h-1.3zM22.1 25.2h1.3v2.1h-1.3z" fill="#0000ff"/><path d="M7.8 0h1.3v2.1h-1.3zM24.7 0h1.3v2.1h-1.3zM28.6 0h1.3v2.1h-1.3zM31.2 0h1.3v2.1h-1.3zM0 4.2h1.3v2.1h-1.3zM2.6 4.2h1.3v2.1h-1.3zM9.1 4.2h1.3v2.1h-1.3zM26 4.2h1.3v2.1h-1.3zM33.8 4.2h1.3v2.1h-1.3zM52 4.2h1.3v2.1h-1.3zM44.2 6.3h1.3v2.1h-1.3zM46.8 6.3h1.3v2.1h-1.3zM10.4 8.4h1.3v2.1h-1.3zM13 8.4h1.3v2.1h-1.3zM15.6 8.4h1.3v2.1h-1.3zM22.1 8.4h1.3v2.1h-1.3zM31.2 8.4h1.3v2.1h-1.3zM41.6 8.4h1.3v2.1h-1.3zM24.7 10.5h1.3v2.1h-1.3zM31.2 10.5h1.3v2.1h-1.3zM40.3 10.5h1.3v2.1h-1.3zM19.5 12.6h1.3v2.1h-1.3zM40.3 12.6h1.3v2.1h-1.3zM22.1 14.7h1.3v2.1h-1.3zM40.3 14.7h1.3v2.1h-1.3zM55.9 14.7h1.3v2.1h-1.3zM0 16.8h1.3v2.1h-1.3zM1.3 16.8h1.3v2.1h-1.3zM6.5 16.8h1.3v2.1h-1.3zM20.8 16.8h1.3v2.1h-1.3zM5.2 18.9h1.3v2.1h-1.3zM14.3 18.9h1.3v2.1h-1.3zM19.5 18.9h1.3v2.1h-1.3zM7.8 21h1.3v2.1h-1.3zM13 21h1.3v2.1h-1.3zM31.2 21h1.3v2.1h-1.3zM18.2 23.1h1.3v2.1h-1.3zM0 25.2h1.3v2.1h-1.3z" fill="#00ffff"/><path d="M19.5 0h1.3v2.1h-1.3zM41.6 4.2h1.3v2.1h-1.3zM16.9 6.3h1.3v2.1h-1.3zM28.6 8.4h1.3v2.1h-1.3zM0 10.5h1.3v2.1h-1.3zM50.7 10.5h1.3v2.1h-1.3zM37.7 12.6h1.3v2.1h-1.3zM50.7 12.6h1.3v2.1h-1.3zM2.6 14.7h1.3v2.1h-1.3zM48.1 14.7h1.3v2.1h-1.3zM10.4 16.8h1.3v2.1h-1.3zM18.2 16.8h1.3v2.1h-1.3zM26 16.8h1.3v2.1h-1.3zM54.6 16.8h1.3v2.1h-1.3zM55.9 16.8h1.3v2.1h-1.3zM9.1 18.9h1.3v2.1h-1.3zM42.9 18.9h1.3v2.1h-1.3zM23.4 25.2h1.3v2.1h-1.3z" fill="#0080ff"/></pattern><pattern id="spE3" width="57.2" height="27.3" patternUnits="userSpaceOnUse"><path d="M0 0h1.3v2.1h-1.3zM6.5 0h1.3v2.1h-1.3zM7.8 0h1.3v2.1h-1.3zM9.1 0h1.3v2.1h-1.3zM10.4 0h1.3v2.1h-1.3zM13 0h1.3v2.1h-1.3zM14.3 0h1.3v2.1h-1.3zM18.2 0h1.3v2.1h-1.3zM27.3 0h1.3v2.1h-1.3zM37.7 0h1.3v2.1h-1.3zM48.1 0h1.3v2.1h-1.3zM52 0h1.3v2.1h-1.3zM1.3 2.1h1.3v2.1h-1.3zM5.2 2.1h1.3v2.1h-1.3zM10.4 2.1h1.3v2.1h-1.3zM13 2.1h1.3v2.1h-1.3zM18.2 2.1h1.3v2.1h-1.3zM19.5 2.1h1.3v2.1h-1.3zM20.8 2.1h1.3v2.1h-1.3zM24.7 2.1h1.3v2.1h-1.3zM37.7 2.1h1.3v2.1h-1.3zM39 2.1h1.3v2.1h-1.3zM45.5 2.1h1.3v2.1h-1.3zM53.3 2.1h1.3v2.1h-1.3zM54.6 2.1h1.3v2.1h-1.3zM55.9 2.1h1.3v2.1h-1.3zM2.6 4.2h1.3v2.1h-1.3zM6.5 4.2h1.3v2.1h-1.3zM7.8 4.2h1.3v2.1h-1.3zM16.9 4.2h1.3v2.1h-1.3zM19.5 4.2h1.3v2.1h-1.3zM23.4 4.2h1.3v2.1h-1.3zM29.9 4.2h1.3v2.1h-1.3zM33.8 4.2h1.3v2.1h-1.3zM37.7 4.2h1.3v2.1h-1.3zM39 4.2h1.3v2.1h-1.3zM44.2 4.2h1.3v2.1h-1.3zM48.1 4.2h1.3v2.1h-1.3zM53.3 4.2h1.3v2.1h-1.3zM54.6 4.2h1.3v2.1h-1.3zM5.2 6.3h1.3v2.1h-1.3zM11.7 6.3h1.3v2.1h-1.3zM15.6 6.3h1.3v2.1h-1.3zM16.9 6.3h1.3v2.1h-1.3zM18.2 6.3h1.3v2.1h-1.3zM24.7 6.3h1.3v2.1h-1.3zM29.9 6.3h1.3v2.1h-1.3zM37.7 6.3h1.3v2.1h-1.3zM41.6 6.3h1.3v2.1h-1.3zM42.9 6.3h1.3v2.1h-1.3zM46.8 6.3h1.3v2.1h-1.3zM48.1 6.3h1.3v2.1h-1.3zM3.9 8.4h1.3v2.1h-1.3zM7.8 8.4h1.3v2.1h-1.3zM11.7 8.4h1.3v2.1h-1.3zM31.2 8.4h1.3v2.1h-1.3zM39 8.4h1.3v2.1h-1.3zM42.9 8.4h1.3v2.1h-1.3zM0 10.5h1.3v2.1h-1.3zM1.3 10.5h1.3v2.1h-1.3zM5.2 10.5h1.3v2.1h-1.3zM7.8 10.5h1.3v2.1h-1.3zM9.1 10.5h1.3v2.1h-1.3zM20.8 10.5h1.3v2.1h-1.3zM24.7 10.5h1.3v2.1h-1.3zM26 10.5h1.3v2.1h-1.3zM33.8 10.5h1.3v2.1h-1.3zM37.7 10.5h1.3v2.1h-1.3zM42.9 10.5h1.3v2.1h-1.3zM44.2 10.5h1.3v2.1h-1.3zM46.8 10.5h1.3v2.1h-1.3zM6.5 12.6h1.3v2.1h-1.3zM20.8 12.6h1.3v2.1h-1.3zM24.7 12.6h1.3v2.1h-1.3zM26 12.6h1.3v2.1h-1.3zM28.6 12.6h1.3v2.1h-1.3zM35.1 12.6h1.3v2.1h-1.3zM36.4 12.6h1.3v2.1h-1.3zM39 12.6h1.3v2.1h-1.3zM42.9 12.6h1.3v2.1h-1.3zM46.8 12.6h1.3v2.1h-1.3zM50.7 12.6h1.3v2.1h-1.3zM52 12.6h1.3v2.1h-1.3zM5.2 14.7h1.3v2.1h-1.3zM10.4 14.7h1.3v2.1h-1.3zM11.7 14.7h1.3v2.1h-1.3zM15.6 14.7h1.3v2.1h-1.3zM22.1 14.7h1.3v2.1h-1.3zM27.3 14.7h1.3v2.1h-1.3zM28.6 14.7h1.3v2.1h-1.3zM31.2 14.7h1.3v2.1h-1.3zM33.8 14.7h1.3v2.1h-1.3zM41.6 14.7h1.3v2.1h-1.3zM53.3 14.7h1.3v2.1h-1.3zM0 16.8h1.3v2.1h-1.3zM2.6 16.8h1.3v2.1h-1.3zM7.8 16.8h1.3v2.1h-1.3zM11.7 16.8h1.3v2.1h-1.3zM20.8 16.8h1.3v2.1h-1.3zM22.1 16.8h1.3v2.1h-1.3zM24.7 16.8h1.3v2.1h-1.3zM27.3 16.8h1.3v2.1h-1.3zM36.4 16.8h1.3v2.1h-1.3zM39 16.8h1.3v2.1h-1.3zM45.5 16.8h1.3v2.1h-1.3zM54.6 16.8h1.3v2.1h-1.3zM2.6 18.9h1.3v2.1h-1.3zM3.9 18.9h1.3v2.1h-1.3zM9.1 18.9h1.3v2.1h-1.3zM27.3 18.9h1.3v2.1h-1.3zM28.6 18.9h1.3v2.1h-1.3zM37.7 18.9h1.3v2.1h-1.3zM53.3 18.9h1.3v2.1h-1.3zM1.3 21h1.3v2.1h-1.3zM3.9 21h1.3v2.1h-1.3zM6.5 21h1.3v2.1h-1.3zM13 21h1.3v2.1h-1.3zM14.3 21h1.3v2.1h-1.3zM31.2 21h1.3v2.1h-1.3zM35.1 21h1.3v2.1h-1.3zM44.2 21h1.3v2.1h-1.3zM46.8 21h1.3v2.1h-1.3zM49.4 21h1.3v2.1h-1.3zM55.9 21h1.3v2.1h-1.3zM5.2 23.1h1.3v2.1h-1.3zM6.5 23.1h1.3v2.1h-1.3zM11.7 23.1h1.3v2.1h-1.3zM16.9 23.1h1.3v2.1h-1.3zM19.5 23.1h1.3v2.1h-1.3zM29.9 23.1h1.3v2.1h-1.3zM50.7 23.1h1.3v2.1h-1.3zM53.3 23.1h1.3v2.1h-1.3zM0 25.2h1.3v2.1h-1.3zM1.3 25.2h1.3v2.1h-1.3zM3.9 25.2h1.3v2.1h-1.3zM5.2 25.2h1.3v2.1h-1.3zM6.5 25.2h1.3v2.1h-1.3zM15.6 25.2h1.3v2.1h-1.3zM19.5 25.2h1.3v2.1h-1.3zM23.4 25.2h1.3v2.1h-1.3zM28.6 25.2h1.3v2.1h-1.3zM37.7 25.2h1.3v2.1h-1.3zM46.8 25.2h1.3v2.1h-1.3zM53.3 25.2h1.3v2.1h-1.3z" fill="#0000ff"/><path d="M3.9 0h1.3v2.1h-1.3zM5.2 0h1.3v2.1h-1.3zM19.5 0h1.3v2.1h-1.3zM22.1 0h1.3v2.1h-1.3zM31.2 0h1.3v2.1h-1.3zM32.5 0h1.3v2.1h-1.3zM49.4 0h1.3v2.1h-1.3zM53.3 0h1.3v2.1h-1.3zM55.9 0h1.3v2.1h-1.3zM27.3 2.1h1.3v2.1h-1.3zM28.6 2.1h1.3v2.1h-1.3zM33.8 2.1h1.3v2.1h-1.3zM35.1 2.1h1.3v2.1h-1.3zM36.4 2.1h1.3v2.1h-1.3zM44.2 2.1h1.3v2.1h-1.3zM48.1 2.1h1.3v2.1h-1.3zM49.4 2.1h1.3v2.1h-1.3zM9.1 4.2h1.3v2.1h-1.3zM11.7 4.2h1.3v2.1h-1.3zM14.3 4.2h1.3v2.1h-1.3zM15.6 4.2h1.3v2.1h-1.3zM40.3 4.2h1.3v2.1h-1.3zM3.9 6.3h1.3v2.1h-1.3zM7.8 6.3h1.3v2.1h-1.3zM13 6.3h1.3v2.1h-1.3zM31.2 6.3h1.3v2.1h-1.3zM35.1 6.3h1.3v2.1h-1.3zM36.4 6.3h1.3v2.1h-1.3zM50.7 6.3h1.3v2.1h-1.3zM54.6 6.3h1.3v2.1h-1.3zM0 8.4h1.3v2.1h-1.3zM18.2 8.4h1.3v2.1h-1.3zM22.1 8.4h1.3v2.1h-1.3zM24.7 8.4h1.3v2.1h-1.3zM27.3 8.4h1.3v2.1h-1.3zM29.9 8.4h1.3v2.1h-1.3zM41.6 8.4h1.3v2.1h-1.3zM46.8 8.4h1.3v2.1h-1.3zM6.5 10.5h1.3v2.1h-1.3zM11.7 10.5h1.3v2.1h-1.3zM13 10.5h1.3v2.1h-1.3zM16.9 10.5h1.3v2.1h-1.3zM19.5 10.5h1.3v2.1h-1.3zM22.1 10.5h1.3v2.1h-1.3zM23.4 10.5h1.3v2.1h-1.3zM29.9 10.5h1.3v2.1h-1.3zM36.4 10.5h1.3v2.1h-1.3zM40.3 10.5h1.3v2.1h-1.3zM49.4 10.5h1.3v2.1h-1.3zM52 10.5h1.3v2.1h-1.3zM54.6 10.5h1.3v2.1h-1.3zM55.9 10.5h1.3v2.1h-1.3zM1.3 12.6h1.3v2.1h-1.3zM3.9 12.6h1.3v2.1h-1.3zM7.8 12.6h1.3v2.1h-1.3zM9.1 12.6h1.3v2.1h-1.3zM23.4 12.6h1.3v2.1h-1.3zM29.9 12.6h1.3v2.1h-1.3zM31.2 12.6h1.3v2.1h-1.3zM32.5 12.6h1.3v2.1h-1.3zM49.4 12.6h1.3v2.1h-1.3zM53.3 12.6h1.3v2.1h-1.3zM54.6 12.6h1.3v2.1h-1.3zM3.9 14.7h1.3v2.1h-1.3zM7.8 14.7h1.3v2.1h-1.3zM23.4 14.7h1.3v2.1h-1.3zM29.9 14.7h1.3v2.1h-1.3zM32.5 14.7h1.3v2.1h-1.3zM36.4 14.7h1.3v2.1h-1.3zM40.3 14.7h1.3v2.1h-1.3zM44.2 14.7h1.3v2.1h-1.3zM1.3 16.8h1.3v2.1h-1.3zM5.2 16.8h1.3v2.1h-1.3zM6.5 16.8h1.3v2.1h-1.3zM10.4 16.8h1.3v2.1h-1.3zM15.6 16.8h1.3v2.1h-1.3zM29.9 16.8h1.3v2.1h-1.3zM42.9 16.8h1.3v2.1h-1.3zM46.8 16.8h1.3v2.1h-1.3zM48.1 16.8h1.3v2.1h-1.3zM49.4 16.8h1.3v2.1h-1.3zM0 18.9h1.3v2.1h-1.3zM1.3 18.9h1.3v2.1h-1.3zM16.9 18.9h1.3v2.1h-1.3zM20.8 18.9h1.3v2.1h-1.3zM29.9 18.9h1.3v2.1h-1.3zM31.2 18.9h1.3v2.1h-1.3zM36.4 18.9h1.3v2.1h-1.3zM39 18.9h1.3v2.1h-1.3zM46.8 18.9h1.3v2.1h-1.3zM49.4 18.9h1.3v2.1h-1.3zM55.9 18.9h1.3v2.1h-1.3zM7.8 21h1.3v2.1h-1.3zM52 21h1.3v2.1h-1.3zM10.4 23.1h1.3v2.1h-1.3zM14.3 23.1h1.3v2.1h-1.3zM15.6 23.1h1.3v2.1h-1.3zM20.8 23.1h1.3v2.1h-1.3zM33.8 23.1h1.3v2.1h-1.3zM48.1 23.1h1.3v2.1h-1.3zM11.7 25.2h1.3v2.1h-1.3zM18.2 25.2h1.3v2.1h-1.3zM22.1 25.2h1.3v2.1h-1.3zM35.1 25.2h1.3v2.1h-1.3zM39 25.2h1.3v2.1h-1.3zM49.4 25.2h1.3v2.1h-1.3zM50.7 25.2h1.3v2.1h-1.3zM52 25.2h1.3v2.1h-1.3z" fill="#00ffff"/><path d="M40.3 0h1.3v2.1h-1.3zM44.2 0h1.3v2.1h-1.3zM2.6 2.1h1.3v2.1h-1.3zM3.9 2.1h1.3v2.1h-1.3zM11.7 2.1h1.3v2.1h-1.3zM15.6 2.1h1.3v2.1h-1.3zM32.5 2.1h1.3v2.1h-1.3zM40.3 2.1h1.3v2.1h-1.3zM42.9 2.1h1.3v2.1h-1.3zM1.3 4.2h1.3v2.1h-1.3zM5.2 4.2h1.3v2.1h-1.3zM18.2 4.2h1.3v2.1h-1.3zM24.7 4.2h1.3v2.1h-1.3zM26 4.2h1.3v2.1h-1.3zM28.6 4.2h1.3v2.1h-1.3zM31.2 4.2h1.3v2.1h-1.3zM45.5 4.2h1.3v2.1h-1.3zM46.8 4.2h1.3v2.1h-1.3zM49.4 4.2h1.3v2.1h-1.3zM1.3 6.3h1.3v2.1h-1.3zM40.3 6.3h1.3v2.1h-1.3zM53.3 6.3h1.3v2.1h-1.3zM9.1 8.4h1.3v2.1h-1.3zM10.4 8.4h1.3v2.1h-1.3zM28.6 8.4h1.3v2.1h-1.3zM32.5 8.4h1.3v2.1h-1.3zM40.3 8.4h1.3v2.1h-1.3zM53.3 8.4h1.3v2.1h-1.3zM54.6 8.4h1.3v2.1h-1.3zM55.9 8.4h1.3v2.1h-1.3zM18.2 10.5h1.3v2.1h-1.3zM28.6 10.5h1.3v2.1h-1.3zM31.2 10.5h1.3v2.1h-1.3zM0 12.6h1.3v2.1h-1.3zM2.6 12.6h1.3v2.1h-1.3zM5.2 12.6h1.3v2.1h-1.3zM10.4 12.6h1.3v2.1h-1.3zM14.3 12.6h1.3v2.1h-1.3zM19.5 12.6h1.3v2.1h-1.3zM33.8 12.6h1.3v2.1h-1.3zM44.2 12.6h1.3v2.1h-1.3zM0 14.7h1.3v2.1h-1.3zM2.6 14.7h1.3v2.1h-1.3zM48.1 14.7h1.3v2.1h-1.3zM52 14.7h1.3v2.1h-1.3zM3.9 16.8h1.3v2.1h-1.3zM13 16.8h1.3v2.1h-1.3zM26 16.8h1.3v2.1h-1.3zM44.2 16.8h1.3v2.1h-1.3zM6.5 18.9h1.3v2.1h-1.3zM22.1 18.9h1.3v2.1h-1.3zM33.8 18.9h1.3v2.1h-1.3zM35.1 18.9h1.3v2.1h-1.3zM40.3 18.9h1.3v2.1h-1.3zM41.6 18.9h1.3v2.1h-1.3zM44.2 18.9h1.3v2.1h-1.3zM48.1 18.9h1.3v2.1h-1.3zM54.6 18.9h1.3v2.1h-1.3zM2.6 21h1.3v2.1h-1.3zM9.1 21h1.3v2.1h-1.3zM15.6 21h1.3v2.1h-1.3zM20.8 21h1.3v2.1h-1.3zM28.6 21h1.3v2.1h-1.3zM29.9 21h1.3v2.1h-1.3zM48.1 21h1.3v2.1h-1.3zM3.9 23.1h1.3v2.1h-1.3zM13 23.1h1.3v2.1h-1.3zM24.7 23.1h1.3v2.1h-1.3zM26 23.1h1.3v2.1h-1.3zM41.6 23.1h1.3v2.1h-1.3zM42.9 23.1h1.3v2.1h-1.3zM54.6 23.1h1.3v2.1h-1.3zM7.8 25.2h1.3v2.1h-1.3zM9.1 25.2h1.3v2.1h-1.3zM14.3 25.2h1.3v2.1h-1.3zM16.9 25.2h1.3v2.1h-1.3zM31.2 25.2h1.3v2.1h-1.3zM41.6 25.2h1.3v2.1h-1.3zM42.9 25.2h1.3v2.1h-1.3zM44.2 25.2h1.3v2.1h-1.3zM45.5 25.2h1.3v2.1h-1.3z" fill="#ff00ff"/></pattern><pattern id="spE4" width="57.2" height="27.3" patternUnits="userSpaceOnUse"><path d="M0 0h1.3v2.1h-1.3zM3.9 0h1.3v2.1h-1.3zM13 0h1.3v2.1h-1.3zM15.6 0h1.3v2.1h-1.3zM22.1 0h1.3v2.1h-1.3zM23.4 0h1.3v2.1h-1.3zM28.6 0h1.3v2.1h-1.3zM37.7 0h1.3v2.1h-1.3zM39 0h1.3v2.1h-1.3zM55.9 0h1.3v2.1h-1.3zM22.1 2.1h1.3v2.1h-1.3zM28.6 2.1h1.3v2.1h-1.3zM29.9 2.1h1.3v2.1h-1.3zM31.2 2.1h1.3v2.1h-1.3zM37.7 2.1h1.3v2.1h-1.3zM39 2.1h1.3v2.1h-1.3zM45.5 2.1h1.3v2.1h-1.3zM54.6 2.1h1.3v2.1h-1.3zM55.9 2.1h1.3v2.1h-1.3zM0 4.2h1.3v2.1h-1.3zM5.2 4.2h1.3v2.1h-1.3zM6.5 4.2h1.3v2.1h-1.3zM10.4 4.2h1.3v2.1h-1.3zM11.7 4.2h1.3v2.1h-1.3zM15.6 4.2h1.3v2.1h-1.3zM18.2 4.2h1.3v2.1h-1.3zM24.7 4.2h1.3v2.1h-1.3zM26 4.2h1.3v2.1h-1.3zM27.3 4.2h1.3v2.1h-1.3zM28.6 4.2h1.3v2.1h-1.3zM31.2 4.2h1.3v2.1h-1.3zM40.3 4.2h1.3v2.1h-1.3zM41.6 4.2h1.3v2.1h-1.3zM44.2 4.2h1.3v2.1h-1.3zM46.8 4.2h1.3v2.1h-1.3zM50.7 4.2h1.3v2.1h-1.3zM1.3 6.3h1.3v2.1h-1.3zM3.9 6.3h1.3v2.1h-1.3zM6.5 6.3h1.3v2.1h-1.3zM7.8 6.3h1.3v2.1h-1.3zM20.8 6.3h1.3v2.1h-1.3zM22.1 6.3h1.3v2.1h-1.3zM27.3 6.3h1.3v2.1h-1.3zM31.2 6.3h1.3v2.1h-1.3zM42.9 6.3h1.3v2.1h-1.3zM44.2 6.3h1.3v2.1h-1.3zM46.8 6.3h1.3v2.1h-1.3zM55.9 6.3h1.3v2.1h-1.3zM5.2 8.4h1.3v2.1h-1.3zM6.5 8.4h1.3v2.1h-1.3zM9.1 8.4h1.3v2.1h-1.3zM15.6 8.4h1.3v2.1h-1.3zM22.1 8.4h1.3v2.1h-1.3zM24.7 8.4h1.3v2.1h-1.3zM26 8.4h1.3v2.1h-1.3zM33.8 8.4h1.3v2.1h-1.3zM2.6 10.5h1.3v2.1h-1.3zM6.5 10.5h1.3v2.1h-1.3zM9.1 10.5h1.3v2.1h-1.3zM10.4 10.5h1.3v2.1h-1.3zM14.3 10.5h1.3v2.1h-1.3zM29.9 10.5h1.3v2.1h-1.3zM37.7 10.5h1.3v2.1h-1.3zM42.9 10.5h1.3v2.1h-1.3zM46.8 10.5h1.3v2.1h-1.3zM48.1 10.5h1.3v2.1h-1.3zM53.3 10.5h1.3v2.1h-1.3zM55.9 10.5h1.3v2.1h-1.3zM1.3 12.6h1.3v2.1h-1.3zM5.2 12.6h1.3v2.1h-1.3zM11.7 12.6h1.3v2.1h-1.3zM15.6 12.6h1.3v2.1h-1.3zM22.1 12.6h1.3v2.1h-1.3zM23.4 12.6h1.3v2.1h-1.3zM26 12.6h1.3v2.1h-1.3zM27.3 12.6h1.3v2.1h-1.3zM31.2 12.6h1.3v2.1h-1.3zM32.5 12.6h1.3v2.1h-1.3zM48.1 12.6h1.3v2.1h-1.3zM50.7 12.6h1.3v2.1h-1.3zM53.3 12.6h1.3v2.1h-1.3zM54.6 12.6h1.3v2.1h-1.3zM55.9 12.6h1.3v2.1h-1.3zM0 14.7h1.3v2.1h-1.3zM2.6 14.7h1.3v2.1h-1.3zM5.2 14.7h1.3v2.1h-1.3zM6.5 14.7h1.3v2.1h-1.3zM22.1 14.7h1.3v2.1h-1.3zM28.6 14.7h1.3v2.1h-1.3zM36.4 14.7h1.3v2.1h-1.3zM39 14.7h1.3v2.1h-1.3zM45.5 14.7h1.3v2.1h-1.3zM48.1 14.7h1.3v2.1h-1.3zM54.6 14.7h1.3v2.1h-1.3zM55.9 14.7h1.3v2.1h-1.3zM1.3 16.8h1.3v2.1h-1.3zM3.9 16.8h1.3v2.1h-1.3zM24.7 16.8h1.3v2.1h-1.3zM31.2 16.8h1.3v2.1h-1.3zM33.8 16.8h1.3v2.1h-1.3zM36.4 16.8h1.3v2.1h-1.3zM42.9 16.8h1.3v2.1h-1.3zM44.2 16.8h1.3v2.1h-1.3zM49.4 16.8h1.3v2.1h-1.3zM53.3 16.8h1.3v2.1h-1.3zM54.6 16.8h1.3v2.1h-1.3zM0 18.9h1.3v2.1h-1.3zM1.3 18.9h1.3v2.1h-1.3zM5.2 18.9h1.3v2.1h-1.3zM14.3 18.9h1.3v2.1h-1.3zM18.2 18.9h1.3v2.1h-1.3zM24.7 18.9h1.3v2.1h-1.3zM26 18.9h1.3v2.1h-1.3zM28.6 18.9h1.3v2.1h-1.3zM29.9 18.9h1.3v2.1h-1.3zM36.4 18.9h1.3v2.1h-1.3zM40.3 18.9h1.3v2.1h-1.3zM42.9 18.9h1.3v2.1h-1.3zM50.7 18.9h1.3v2.1h-1.3zM52 18.9h1.3v2.1h-1.3zM55.9 18.9h1.3v2.1h-1.3zM2.6 21h1.3v2.1h-1.3zM3.9 21h1.3v2.1h-1.3zM6.5 21h1.3v2.1h-1.3zM9.1 21h1.3v2.1h-1.3zM11.7 21h1.3v2.1h-1.3zM13 21h1.3v2.1h-1.3zM22.1 21h1.3v2.1h-1.3zM24.7 21h1.3v2.1h-1.3zM31.2 21h1.3v2.1h-1.3zM32.5 21h1.3v2.1h-1.3zM37.7 21h1.3v2.1h-1.3zM40.3 21h1.3v2.1h-1.3zM41.6 21h1.3v2.1h-1.3zM44.2 21h1.3v2.1h-1.3zM45.5 21h1.3v2.1h-1.3zM52 21h1.3v2.1h-1.3zM54.6 21h1.3v2.1h-1.3zM2.6 23.1h1.3v2.1h-1.3zM9.1 23.1h1.3v2.1h-1.3zM10.4 23.1h1.3v2.1h-1.3zM11.7 23.1h1.3v2.1h-1.3zM14.3 23.1h1.3v2.1h-1.3zM15.6 23.1h1.3v2.1h-1.3zM22.1 23.1h1.3v2.1h-1.3zM23.4 23.1h1.3v2.1h-1.3zM27.3 23.1h1.3v2.1h-1.3zM28.6 23.1h1.3v2.1h-1.3zM31.2 23.1h1.3v2.1h-1.3zM39 23.1h1.3v2.1h-1.3zM42.9 23.1h1.3v2.1h-1.3zM44.2 23.1h1.3v2.1h-1.3zM45.5 23.1h1.3v2.1h-1.3zM48.1 23.1h1.3v2.1h-1.3zM52 23.1h1.3v2.1h-1.3zM2.6 25.2h1.3v2.1h-1.3zM6.5 25.2h1.3v2.1h-1.3zM19.5 25.2h1.3v2.1h-1.3zM22.1 25.2h1.3v2.1h-1.3zM23.4 25.2h1.3v2.1h-1.3zM26 25.2h1.3v2.1h-1.3zM29.9 25.2h1.3v2.1h-1.3zM37.7 25.2h1.3v2.1h-1.3zM44.2 25.2h1.3v2.1h-1.3zM45.5 25.2h1.3v2.1h-1.3zM50.7 25.2h1.3v2.1h-1.3zM52 25.2h1.3v2.1h-1.3zM53.3 25.2h1.3v2.1h-1.3zM54.6 25.2h1.3v2.1h-1.3z" fill="#0000ff"/><path d="M1.3 0h1.3v2.1h-1.3zM11.7 0h1.3v2.1h-1.3zM35.1 0h1.3v2.1h-1.3zM36.4 0h1.3v2.1h-1.3zM41.6 0h1.3v2.1h-1.3zM42.9 0h1.3v2.1h-1.3zM44.2 0h1.3v2.1h-1.3zM0 2.1h1.3v2.1h-1.3zM6.5 2.1h1.3v2.1h-1.3zM7.8 2.1h1.3v2.1h-1.3zM11.7 2.1h1.3v2.1h-1.3zM13 2.1h1.3v2.1h-1.3zM15.6 2.1h1.3v2.1h-1.3zM19.5 2.1h1.3v2.1h-1.3zM27.3 2.1h1.3v2.1h-1.3zM41.6 2.1h1.3v2.1h-1.3zM44.2 2.1h1.3v2.1h-1.3zM2.6 4.2h1.3v2.1h-1.3zM19.5 4.2h1.3v2.1h-1.3zM32.5 4.2h1.3v2.1h-1.3zM48.1 4.2h1.3v2.1h-1.3zM2.6 6.3h1.3v2.1h-1.3zM5.2 6.3h1.3v2.1h-1.3zM24.7 6.3h1.3v2.1h-1.3zM33.8 6.3h1.3v2.1h-1.3zM39 6.3h1.3v2.1h-1.3zM41.6 6.3h1.3v2.1h-1.3zM48.1 6.3h1.3v2.1h-1.3zM52 6.3h1.3v2.1h-1.3zM18.2 8.4h1.3v2.1h-1.3zM23.4 8.4h1.3v2.1h-1.3zM40.3 8.4h1.3v2.1h-1.3zM44.2 8.4h1.3v2.1h-1.3zM46.8 8.4h1.3v2.1h-1.3zM49.4 8.4h1.3v2.1h-1.3zM1.3 10.5h1.3v2.1h-1.3zM3.9 10.5h1.3v2.1h-1.3zM18.2 10.5h1.3v2.1h-1.3zM28.6 10.5h1.3v2.1h-1.3zM36.4 10.5h1.3v2.1h-1.3zM49.4 10.5h1.3v2.1h-1.3zM6.5 12.6h1.3v2.1h-1.3zM14.3 12.6h1.3v2.1h-1.3zM18.2 12.6h1.3v2.1h-1.3zM35.1 12.6h1.3v2.1h-1.3zM36.4 12.6h1.3v2.1h-1.3zM41.6 12.6h1.3v2.1h-1.3zM42.9 12.6h1.3v2.1h-1.3zM52 12.6h1.3v2.1h-1.3zM3.9 14.7h1.3v2.1h-1.3zM7.8 14.7h1.3v2.1h-1.3zM9.1 14.7h1.3v2.1h-1.3zM11.7 14.7h1.3v2.1h-1.3zM15.6 14.7h1.3v2.1h-1.3zM16.9 14.7h1.3v2.1h-1.3zM23.4 14.7h1.3v2.1h-1.3zM27.3 14.7h1.3v2.1h-1.3zM29.9 14.7h1.3v2.1h-1.3zM32.5 14.7h1.3v2.1h-1.3zM33.8 14.7h1.3v2.1h-1.3zM37.7 14.7h1.3v2.1h-1.3zM40.3 14.7h1.3v2.1h-1.3zM42.9 14.7h1.3v2.1h-1.3zM44.2 14.7h1.3v2.1h-1.3zM46.8 14.7h1.3v2.1h-1.3zM49.4 14.7h1.3v2.1h-1.3zM53.3 14.7h1.3v2.1h-1.3zM0 16.8h1.3v2.1h-1.3zM5.2 16.8h1.3v2.1h-1.3zM6.5 16.8h1.3v2.1h-1.3zM7.8 16.8h1.3v2.1h-1.3zM15.6 16.8h1.3v2.1h-1.3zM41.6 16.8h1.3v2.1h-1.3zM46.8 16.8h1.3v2.1h-1.3zM52 16.8h1.3v2.1h-1.3zM3.9 18.9h1.3v2.1h-1.3zM7.8 18.9h1.3v2.1h-1.3zM13 18.9h1.3v2.1h-1.3zM15.6 18.9h1.3v2.1h-1.3zM23.4 18.9h1.3v2.1h-1.3zM35.1 18.9h1.3v2.1h-1.3zM44.2 18.9h1.3v2.1h-1.3zM48.1 18.9h1.3v2.1h-1.3zM49.4 18.9h1.3v2.1h-1.3zM1.3 21h1.3v2.1h-1.3zM15.6 21h1.3v2.1h-1.3zM29.9 21h1.3v2.1h-1.3zM36.4 21h1.3v2.1h-1.3zM53.3 21h1.3v2.1h-1.3zM6.5 23.1h1.3v2.1h-1.3zM7.8 23.1h1.3v2.1h-1.3zM24.7 23.1h1.3v2.1h-1.3zM36.4 23.1h1.3v2.1h-1.3zM9.1 25.2h1.3v2.1h-1.3zM11.7 25.2h1.3v2.1h-1.3zM13 25.2h1.3v2.1h-1.3zM20.8 25.2h1.3v2.1h-1.3zM46.8 25.2h1.3v2.1h-1.3zM48.1 25.2h1.3v2.1h-1.3zM55.9 25.2h1.3v2.1h-1.3z" fill="#00ffff"/><path d="M2.6 0h1.3v2.1h-1.3zM5.2 0h1.3v2.1h-1.3zM9.1 0h1.3v2.1h-1.3zM19.5 0h1.3v2.1h-1.3zM20.8 0h1.3v2.1h-1.3zM50.7 0h1.3v2.1h-1.3zM36.4 4.2h1.3v2.1h-1.3zM9.1 6.3h1.3v2.1h-1.3zM19.5 6.3h1.3v2.1h-1.3zM28.6 6.3h1.3v2.1h-1.3zM35.1 6.3h1.3v2.1h-1.3zM50.7 6.3h1.3v2.1h-1.3zM35.1 8.4h1.3v2.1h-1.3zM48.1 8.4h1.3v2.1h-1.3zM40.3 10.5h1.3v2.1h-1.3zM37.7 12.6h1.3v2.1h-1.3zM24.7 14.7h1.3v2.1h-1.3zM26 14.7h1.3v2.1h-1.3zM13 16.8h1.3v2.1h-1.3zM29.9 16.8h1.3v2.1h-1.3zM39 16.8h1.3v2.1h-1.3zM45.5 16.8h1.3v2.1h-1.3zM2.6 18.9h1.3v2.1h-1.3zM54.6 18.9h1.3v2.1h-1.3zM14.3 21h1.3v2.1h-1.3zM0 23.1h1.3v2.1h-1.3zM1.3 23.1h1.3v2.1h-1.3zM32.5 23.1h1.3v2.1h-1.3zM37.7 23.1h1.3v2.1h-1.3zM54.6 23.1h1.3v2.1h-1.3zM31.2 25.2h1.3v2.1h-1.3z" fill="#ff00ff"/></pattern><pattern id="spE5" width="57.2" height="27.3" patternUnits="userSpaceOnUse"><path d="M28.6 0h1.3v2.1h-1.3zM39 0h1.3v2.1h-1.3zM44.2 0h1.3v2.1h-1.3zM10.4 2.1h1.3v2.1h-1.3zM16.9 2.1h1.3v2.1h-1.3zM23.4 2.1h1.3v2.1h-1.3zM37.7 2.1h1.3v2.1h-1.3zM44.2 2.1h1.3v2.1h-1.3zM53.3 2.1h1.3v2.1h-1.3zM44.2 4.2h1.3v2.1h-1.3zM52 4.2h1.3v2.1h-1.3zM53.3 4.2h1.3v2.1h-1.3zM10.4 6.3h1.3v2.1h-1.3zM24.7 6.3h1.3v2.1h-1.3zM26 6.3h1.3v2.1h-1.3zM28.6 6.3h1.3v2.1h-1.3zM37.7 6.3h1.3v2.1h-1.3zM46.8 6.3h1.3v2.1h-1.3zM54.6 6.3h1.3v2.1h-1.3zM5.2 8.4h1.3v2.1h-1.3zM22.1 8.4h1.3v2.1h-1.3zM23.4 8.4h1.3v2.1h-1.3zM24.7 8.4h1.3v2.1h-1.3zM26 8.4h1.3v2.1h-1.3zM52 8.4h1.3v2.1h-1.3zM11.7 10.5h1.3v2.1h-1.3zM18.2 10.5h1.3v2.1h-1.3zM26 10.5h1.3v2.1h-1.3zM27.3 10.5h1.3v2.1h-1.3zM48.1 10.5h1.3v2.1h-1.3zM2.6 12.6h1.3v2.1h-1.3zM6.5 12.6h1.3v2.1h-1.3zM11.7 14.7h1.3v2.1h-1.3zM14.3 14.7h1.3v2.1h-1.3zM16.9 14.7h1.3v2.1h-1.3zM19.5 14.7h1.3v2.1h-1.3zM9.1 16.8h1.3v2.1h-1.3zM19.5 16.8h1.3v2.1h-1.3zM7.8 18.9h1.3v2.1h-1.3zM16.9 18.9h1.3v2.1h-1.3zM27.3 18.9h1.3v2.1h-1.3zM28.6 18.9h1.3v2.1h-1.3zM33.8 18.9h1.3v2.1h-1.3zM39 18.9h1.3v2.1h-1.3zM48.1 18.9h1.3v2.1h-1.3zM3.9 21h1.3v2.1h-1.3zM36.4 21h1.3v2.1h-1.3zM52 21h1.3v2.1h-1.3zM54.6 21h1.3v2.1h-1.3zM3.9 23.1h1.3v2.1h-1.3zM11.7 23.1h1.3v2.1h-1.3zM20.8 23.1h1.3v2.1h-1.3zM28.6 23.1h1.3v2.1h-1.3zM33.8 23.1h1.3v2.1h-1.3zM40.3 23.1h1.3v2.1h-1.3zM49.4 23.1h1.3v2.1h-1.3zM52 23.1h1.3v2.1h-1.3zM2.6 25.2h1.3v2.1h-1.3zM3.9 25.2h1.3v2.1h-1.3zM10.4 25.2h1.3v2.1h-1.3zM18.2 25.2h1.3v2.1h-1.3zM19.5 25.2h1.3v2.1h-1.3zM22.1 25.2h1.3v2.1h-1.3zM53.3 25.2h1.3v2.1h-1.3z" fill="#0000ff"/><path d="M7.8 0h1.3v2.1h-1.3zM22.1 0h1.3v2.1h-1.3zM50.7 0h1.3v2.1h-1.3zM53.3 0h1.3v2.1h-1.3zM5.2 2.1h1.3v2.1h-1.3zM9.1 2.1h1.3v2.1h-1.3zM22.1 2.1h1.3v2.1h-1.3zM28.6 4.2h1.3v2.1h-1.3zM2.6 6.3h1.3v2.1h-1.3zM13 6.3h1.3v2.1h-1.3zM29.9 6.3h1.3v2.1h-1.3zM40.3 6.3h1.3v2.1h-1.3zM48.1 6.3h1.3v2.1h-1.3zM53.3 6.3h1.3v2.1h-1.3zM10.4 8.4h1.3v2.1h-1.3zM13 8.4h1.3v2.1h-1.3zM32.5 8.4h1.3v2.1h-1.3zM33.8 8.4h1.3v2.1h-1.3zM37.7 8.4h1.3v2.1h-1.3zM53.3 8.4h1.3v2.1h-1.3zM10.4 10.5h1.3v2.1h-1.3zM16.9 10.5h1.3v2.1h-1.3zM40.3 10.5h1.3v2.1h-1.3zM46.8 10.5h1.3v2.1h-1.3zM50.7 10.5h1.3v2.1h-1.3zM28.6 12.6h1.3v2.1h-1.3zM31.2 12.6h1.3v2.1h-1.3zM48.1 12.6h1.3v2.1h-1.3zM48.1 14.7h1.3v2.1h-1.3zM50.7 14.7h1.3v2.1h-1.3zM15.6 16.8h1.3v2.1h-1.3zM28.6 16.8h1.3v2.1h-1.3zM11.7 18.9h1.3v2.1h-1.3zM27.3 21h1.3v2.1h-1.3zM50.7 21h1.3v2.1h-1.3zM55.9 21h1.3v2.1h-1.3zM7.8 23.1h1.3v2.1h-1.3zM23.4 23.1h1.3v2.1h-1.3zM37.7 23.1h1.3v2.1h-1.3zM39 23.1h1.3v2.1h-1.3zM0 25.2h1.3v2.1h-1.3zM7.8 25.2h1.3v2.1h-1.3zM20.8 25.2h1.3v2.1h-1.3zM49.4 25.2h1.3v2.1h-1.3z" fill="#0080ff"/></pattern><linearGradient id="gi0" x2="0" y2="1"><stop offset="0" stop-color="#0f0"/><stop offset=".146" stop-color="#18ff00"/><stop offset=".167" stop-color="#32ff00"/><stop offset=".229" stop-color="#fcff00"/><stop offset=".25" stop-color="#ffd700"/><stop offset=".292" stop-color="#ff8501"/><stop offset=".354" stop-color="#ff0c25"/><stop offset=".375" stop-color="#ff0028"/><stop offset=".604" stop-color="#ff0d24"/><stop offset=".646" stop-color="#ff7e03"/><stop offset=".688" stop-color="#ffe100"/><stop offset=".708" stop-color="#e4ff00"/><stop offset=".771" stop-color="#1cff00"/><stop offset=".812" stop-color="#02ff00"/><stop offset=".854" stop-color="#00ff19"/><stop offset=".917" stop-color="#00ffea"/><stop offset=".938" stop-color="#00fcff"/><stop offset="1" stop-color="#00d2ff"/></linearGradient><linearGradient id="gi1" x2="0" y2="1"><stop offset="0" stop-color="#00ff05"/><stop offset=".146" stop-color="#18ff00"/><stop offset=".167" stop-color="#32ff00"/><stop offset=".229" stop-color="#fcff00"/><stop offset=".25" stop-color="#ffd700"/><stop offset=".292" stop-color="#ff8501"/><stop offset=".354" stop-color="#ff0c25"/><stop offset=".375" stop-color="#ff0028"/><stop offset=".604" stop-color="#ff0d24"/><stop offset=".646" stop-color="#ff7e03"/><stop offset=".688" stop-color="#ffe100"/><stop offset=".708" stop-color="#e4ff00"/><stop offset=".771" stop-color="#1cff00"/><stop offset=".812" stop-color="#02ff00"/><stop offset=".854" stop-color="#00ff19"/><stop offset=".917" stop-color="#00ffea"/><stop offset=".938" stop-color="#00fcff"/><stop offset="1" stop-color="#00d2ff"/></linearGradient><linearGradient id="gi2" x2="0" y2="1"><stop offset="0" stop-color="#00ff05"/><stop offset=".146" stop-color="#1cff00"/><stop offset=".208" stop-color="#e0ff00"/><stop offset=".229" stop-color="#ffe900"/><stop offset=".271" stop-color="#ff9600"/><stop offset=".354" stop-color="#ff0028"/><stop offset=".583" stop-color="#ff0028"/><stop offset=".625" stop-color="#ff6c08"/><stop offset=".688" stop-color="#fcff00"/><stop offset=".75" stop-color="#31ff00"/><stop offset=".792" stop-color="#06ff00"/><stop offset=".833" stop-color="#00ff14"/><stop offset=".854" stop-color="#00ff3b"/><stop offset=".896" stop-color="#00ffe0"/><stop offset=".917" stop-color="#00fffa"/><stop offset="1" stop-color="#00cdff"/></linearGradient><linearGradient id="gi3" x2="0" y2="1"><stop offset="0" stop-color="#00ff06"/><stop offset=".125" stop-color="#19ff00"/><stop offset=".146" stop-color="#3cff00"/><stop offset=".208" stop-color="#fffa00"/><stop offset=".271" stop-color="#ff7f03"/><stop offset=".333" stop-color="#ff0526"/><stop offset=".354" stop-color="#ff0028"/><stop offset=".562" stop-color="#ff0028"/><stop offset=".583" stop-color="#ff1f1f"/><stop offset=".625" stop-color="#ff8d00"/><stop offset=".667" stop-color="#fff000"/><stop offset=".75" stop-color="#18ff00"/><stop offset=".792" stop-color="#00ff02"/><stop offset=".833" stop-color="#00ff1e"/><stop offset=".875" stop-color="#00ffc3"/><stop offset=".896" stop-color="#00fff1"/><stop offset="1" stop-color="#00c8ff"/></linearGradient><linearGradient id="gi4" x2="0" y2="1"><stop offset="0" stop-color="#00ff06"/><stop offset=".125" stop-color="#20ff00"/><stop offset=".188" stop-color="#eaff00"/><stop offset=".208" stop-color="#ffe300"/><stop offset=".25" stop-color="#ff9000"/><stop offset=".312" stop-color="#ff1721"/><stop offset=".333" stop-color="#ff0028"/><stop offset=".562" stop-color="#ff0925"/><stop offset=".604" stop-color="#ff7b04"/><stop offset=".646" stop-color="#ffde00"/><stop offset=".667" stop-color="#e8ff00"/><stop offset=".729" stop-color="#1dff00"/><stop offset=".771" stop-color="#02ff00"/><stop offset=".812" stop-color="#00ff18"/><stop offset=".875" stop-color="#00ffe9"/><stop offset=".896" stop-color="#00fdff"/><stop offset="1" stop-color="#00c2ff"/></linearGradient><linearGradient id="gi5" x2="0" y2="1"><stop offset="0" stop-color="#00ff09"/><stop offset=".125" stop-color="#1cff00"/><stop offset=".188" stop-color="#e4ff00"/><stop offset=".208" stop-color="#ffe600"/><stop offset=".25" stop-color="#ff9300"/><stop offset=".333" stop-color="#ff0028"/><stop offset=".562" stop-color="#ff0028"/><stop offset=".625" stop-color="#ff9700"/><stop offset=".667" stop-color="#fffa00"/><stop offset=".729" stop-color="#3bff00"/><stop offset=".75" stop-color="#15ff00"/><stop offset=".792" stop-color="#00ff05"/><stop offset=".833" stop-color="#00ff2f"/><stop offset=".875" stop-color="#00ffd4"/><stop offset=".896" stop-color="#00fff6"/><stop offset="1" stop-color="#00c6ff"/></linearGradient><linearGradient id="gi6" x2="0" y2="1"><stop offset="0" stop-color="#00ff09"/><stop offset=".062" stop-color="#00ff02"/><stop offset=".146" stop-color="#26ff00"/><stop offset=".208" stop-color="#f0ff00"/><stop offset=".229" stop-color="#ffdf00"/><stop offset=".271" stop-color="#ff8c00"/><stop offset=".333" stop-color="#ff1322"/><stop offset=".354" stop-color="#ff0028"/><stop offset=".583" stop-color="#ff0028"/><stop offset=".604" stop-color="#ff1e1f"/><stop offset=".646" stop-color="#ff8c00"/><stop offset=".688" stop-color="#ffef00"/><stop offset=".771" stop-color="#18ff00"/><stop offset=".812" stop-color="#00ff02"/><stop offset=".854" stop-color="#00ff1c"/><stop offset=".896" stop-color="#00ffc1"/><stop offset=".917" stop-color="#00fff1"/><stop offset="1" stop-color="#00d0ff"/></linearGradient><linearGradient id="gi7" x2="0" y2="1"><stop offset="0" stop-color="#00ff09"/><stop offset=".083" stop-color="#00ff01"/><stop offset=".146" stop-color="#17ff00"/><stop offset=".167" stop-color="#32ff00"/><stop offset=".229" stop-color="#fcff00"/><stop offset=".25" stop-color="#ffd700"/><stop offset=".292" stop-color="#ff8501"/><stop offset=".354" stop-color="#ff0c25"/><stop offset=".604" stop-color="#ff0028"/><stop offset=".625" stop-color="#ff0f24"/><stop offset=".667" stop-color="#ff8002"/><stop offset=".708" stop-color="#ffe300"/><stop offset=".729" stop-color="#e1ff00"/><stop offset=".792" stop-color="#1bff00"/><stop offset=".875" stop-color="#00ff19"/><stop offset=".938" stop-color="#00ffeb"/><stop offset=".958" stop-color="#00fbff"/><stop offset="1" stop-color="#00dbff"/></linearGradient><linearGradient id="gi8" x2="0" y2="1"><stop offset="0" stop-color="#00ff0a"/><stop offset=".083" stop-color="#00ff01"/><stop offset=".146" stop-color="#17ff00"/><stop offset=".167" stop-color="#32ff00"/><stop offset=".229" stop-color="#fcff00"/><stop offset=".25" stop-color="#ffd700"/><stop offset=".292" stop-color="#ff8501"/><stop offset=".354" stop-color="#ff0c25"/><stop offset=".375" stop-color="#ff0028"/><stop offset=".625" stop-color="#ff0028"/><stop offset=".667" stop-color="#ff7206"/><stop offset=".729" stop-color="#f4ff00"/><stop offset=".792" stop-color="#29ff00"/><stop offset=".812" stop-color="#12ff00"/><stop offset=".875" stop-color="#00ff16"/><stop offset=".896" stop-color="#00ff45"/><stop offset=".938" stop-color="#00ffe5"/><stop offset=".958" stop-color="#00fffc"/><stop offset="1" stop-color="#0df"/></linearGradient><linearGradient id="gi9" x2="0" y2="1"><stop offset="0" stop-color="#00ff0b"/><stop offset=".083" stop-color="#00ff02"/><stop offset=".146" stop-color="#17ff00"/><stop offset=".167" stop-color="#32ff00"/><stop offset=".229" stop-color="#fcff00"/><stop offset=".25" stop-color="#ffd700"/><stop offset=".292" stop-color="#ff8501"/><stop offset=".354" stop-color="#ff0c25"/><stop offset=".375" stop-color="#ff0028"/><stop offset=".625" stop-color="#ff0028"/><stop offset=".688" stop-color="#ff9700"/><stop offset=".729" stop-color="#fffa00"/><stop offset=".792" stop-color="#3bff00"/><stop offset=".812" stop-color="#15ff00"/><stop offset=".875" stop-color="#00ff12"/><stop offset=".896" stop-color="#00ff2f"/><stop offset=".938" stop-color="#00ffd4"/><stop offset=".958" stop-color="#00fff6"/><stop offset="1" stop-color="#00dfff"/></linearGradient><linearGradient id="gi10" x2="0" y2="1"><stop offset="0" stop-color="#00ff0b"/><stop offset=".083" stop-color="#00ff02"/><stop offset=".146" stop-color="#17ff00"/><stop offset=".167" stop-color="#32ff00"/><stop offset=".229" stop-color="#fcff00"/><stop offset=".25" stop-color="#ffd700"/><stop offset=".292" stop-color="#ff8501"/><stop offset=".354" stop-color="#ff0c25"/><stop offset=".375" stop-color="#ff0028"/><stop offset=".625" stop-color="#ff0028"/><stop offset=".646" stop-color="#ff1b20"/><stop offset=".688" stop-color="#ff8900"/><stop offset=".729" stop-color="#ffed00"/><stop offset=".75" stop-color="#d4ff00"/><stop offset=".812" stop-color="#19ff00"/><stop offset=".896" stop-color="#00ff1c"/><stop offset=".938" stop-color="#00ffbd"/><stop offset=".958" stop-color="#00fff0"/><stop offset="1" stop-color="#00e1ff"/></linearGradient><linearGradient id="gi11" x2="0" y2="1"><stop offset="0" stop-color="#00ff0c"/><stop offset=".083" stop-color="#00ff03"/><stop offset=".146" stop-color="#17ff00"/><stop offset=".167" stop-color="#32ff00"/><stop offset=".229" stop-color="#fcff00"/><stop offset=".25" stop-color="#ffd700"/><stop offset=".292" stop-color="#ff8501"/><stop offset=".354" stop-color="#ff0c25"/><stop offset=".375" stop-color="#ff0028"/><stop offset=".625" stop-color="#ff0028"/><stop offset=".646" stop-color="#ff0a25"/><stop offset=".688" stop-color="#ff7c04"/><stop offset=".729" stop-color="#ffdf00"/><stop offset=".75" stop-color="#e7ff00"/><stop offset=".812" stop-color="#1cff00"/><stop offset=".896" stop-color="#00ff18"/><stop offset=".958" stop-color="#00ffe9"/><stop offset="1" stop-color="#00e6ff"/></linearGradient><linearGradient id="gi12" x2="0" y2="1"><stop offset="0" stop-color="#00ff0d"/><stop offset=".083" stop-color="#00ff03"/><stop offset=".146" stop-color="#17ff00"/><stop offset=".167" stop-color="#32ff00"/><stop offset=".229" stop-color="#fcff00"/><stop offset=".25" stop-color="#ffd700"/><stop offset=".292" stop-color="#ff8501"/><stop offset=".354" stop-color="#ff0c25"/><stop offset=".375" stop-color="#ff0028"/><stop offset=".646" stop-color="#ff0028"/><stop offset=".688" stop-color="#ff6e08"/><stop offset=".75" stop-color="#f9ff00"/><stop offset=".812" stop-color="#2fff00"/><stop offset=".833" stop-color="#13ff00"/><stop offset=".896" stop-color="#00ff15"/><stop offset=".917" stop-color="#00ff3e"/><stop offset=".958" stop-color="#00ffe3"/><stop offset="1" stop-color="#00ecff"/></linearGradient><linearGradient id="gi13" x2="0" y2="1"><stop offset="0" stop-color="#00ff20"/><stop offset=".062" stop-color="#00ff20"/><stop offset=".125" stop-color="#02ff00"/><stop offset=".167" stop-color="#1bff00"/><stop offset=".229" stop-color="#e0ff00"/><stop offset=".25" stop-color="#ffe900"/><stop offset=".292" stop-color="#ff9600"/><stop offset=".375" stop-color="#ff0028"/><stop offset=".646" stop-color="#ff0028"/><stop offset=".688" stop-color="#ff6c08"/><stop offset=".75" stop-color="#f8ff00"/><stop offset=".812" stop-color="#29ff00"/><stop offset=".854" stop-color="#04ff00"/><stop offset=".896" stop-color="#00ff17"/><stop offset=".917" stop-color="#00ff4f"/><stop offset=".958" stop-color="#00ffe9"/><stop offset="1" stop-color="#00e5ff"/></linearGradient><linearGradient id="gi14" x2="0" y2="1"><stop offset="0" stop-color="#00ff35"/><stop offset=".062" stop-color="#00ff35"/><stop offset=".125" stop-color="#00ff0b"/><stop offset=".167" stop-color="#17ff00"/><stop offset=".25" stop-color="#fff100"/><stop offset=".312" stop-color="#ff7605"/><stop offset=".375" stop-color="#ff0028"/><stop offset=".646" stop-color="#ff0028"/><stop offset=".729" stop-color="#ffd700"/><stop offset=".75" stop-color="#efff00"/><stop offset=".812" stop-color="#1cff00"/><stop offset=".854" stop-color="#0f0"/><stop offset=".896" stop-color="#00ff1b"/><stop offset=".938" stop-color="#00ffc2"/><stop offset=".958" stop-color="#00fff2"/><stop offset="1" stop-color="#00e0ff"/></linearGradient><linearGradient id="gi15" x2="0" y2="1"><stop offset="0" stop-color="#00ff49"/><stop offset=".083" stop-color="#00ff43"/><stop offset=".146" stop-color="#00ff04"/><stop offset=".167" stop-color="#12ff00"/><stop offset=".188" stop-color="#3eff00"/><stop offset=".25" stop-color="#fff900"/><stop offset=".312" stop-color="#ff7e03"/><stop offset=".375" stop-color="#ff0427"/><stop offset=".396" stop-color="#ff0028"/><stop offset=".646" stop-color="#ff0028"/><stop offset=".729" stop-color="#ffdc00"/><stop offset=".75" stop-color="#e6ff00"/><stop offset=".812" stop-color="#19ff00"/><stop offset=".854" stop-color="#00ff03"/><stop offset=".896" stop-color="#00ff31"/><stop offset=".938" stop-color="#00ffe3"/><stop offset=".958" stop-color="#00fffc"/><stop offset="1" stop-color="#00dcff"/></linearGradient><linearGradient id="gi16" x2="0" y2="1"><stop offset="0" stop-color="#00ff60"/><stop offset=".083" stop-color="#00ff5e"/><stop offset=".167" stop-color="#0aff00"/><stop offset=".188" stop-color="#30ff00"/><stop offset=".25" stop-color="#fbff00"/><stop offset=".271" stop-color="#ffd800"/><stop offset=".312" stop-color="#ff8601"/><stop offset=".375" stop-color="#ff0d24"/><stop offset=".396" stop-color="#ff0028"/><stop offset=".646" stop-color="#ff0028"/><stop offset=".688" stop-color="#ff7406"/><stop offset=".729" stop-color="#ffe200"/><stop offset=".75" stop-color="#dcff00"/><stop offset=".792" stop-color="#46ff00"/><stop offset=".812" stop-color="#16ff00"/><stop offset=".854" stop-color="#00ff07"/><stop offset=".875" stop-color="#00ff16"/><stop offset=".896" stop-color="#00ff4e"/><stop offset=".938" stop-color="#00ffed"/><stop offset="1" stop-color="#00d7ff"/></linearGradient><linearGradient id="gi17" x2="0" y2="1"><stop offset="0" stop-color="#0f7"/><stop offset=".083" stop-color="#0f7"/><stop offset=".167" stop-color="#00ff01"/><stop offset=".188" stop-color="#20ff00"/><stop offset=".25" stop-color="#eaff00"/><stop offset=".271" stop-color="#ffe200"/><stop offset=".312" stop-color="#ff9000"/><stop offset=".375" stop-color="#ff1721"/><stop offset=".396" stop-color="#ff0028"/><stop offset=".646" stop-color="#ff0028"/><stop offset=".688" stop-color="#ff7705"/><stop offset=".729" stop-color="#ffe800"/><stop offset=".75" stop-color="#d2ff00"/><stop offset=".792" stop-color="#38ff00"/><stop offset=".833" stop-color="#04ff00"/><stop offset=".875" stop-color="#00ff1a"/><stop offset=".917" stop-color="#00ffcb"/><stop offset=".938" stop-color="#00fff7"/><stop offset="1" stop-color="#00d3ff"/></linearGradient><linearGradient id="gi18" x2="0" y2="1"><stop offset="0" stop-color="#00ff87"/><stop offset=".083" stop-color="#00ff87"/><stop offset=".104" stop-color="#0f7"/><stop offset=".167" stop-color="#0f1"/><stop offset=".188" stop-color="#1f0"/><stop offset=".271" stop-color="#fff300"/><stop offset=".333" stop-color="#ff7805"/><stop offset=".396" stop-color="#ff0028"/><stop offset=".646" stop-color="#ff0028"/><stop offset=".688" stop-color="#ff7905"/><stop offset=".729" stop-color="#ffec00"/><stop offset=".75" stop-color="#caff00"/><stop offset=".792" stop-color="#2dff00"/><stop offset=".833" stop-color="#01ff00"/><stop offset=".875" stop-color="#00ff23"/><stop offset=".917" stop-color="#00ffe3"/><stop offset=".938" stop-color="#00fffe"/><stop offset="1" stop-color="#00d0ff"/></linearGradient><linearGradient id="gi19" x2="0" y2="1"><stop offset="0" stop-color="#0f8"/><stop offset=".104" stop-color="#00ff86"/><stop offset=".188" stop-color="#03ff00"/><stop offset=".208" stop-color="#2eff00"/><stop offset=".271" stop-color="#f8ff00"/><stop offset=".292" stop-color="#ffda00"/><stop offset=".333" stop-color="#ff8700"/><stop offset=".396" stop-color="#ff0e24"/><stop offset=".417" stop-color="#ff0028"/><stop offset=".646" stop-color="#ff0028"/><stop offset=".688" stop-color="#ff7b04"/><stop offset=".729" stop-color="#fff000"/><stop offset=".75" stop-color="#c3ff00"/><stop offset=".792" stop-color="#23ff00"/><stop offset=".833" stop-color="#00ff02"/><stop offset=".875" stop-color="#00ff37"/><stop offset=".917" stop-color="#00ffea"/><stop offset=".938" stop-color="#00f8ff"/><stop offset="1" stop-color="#0cf"/></linearGradient><linearGradient id="gi20" x2="0" y2="1"><stop offset="0" stop-color="#00ff8a"/><stop offset=".104" stop-color="#00ff8a"/><stop offset=".188" stop-color="#00ff0b"/><stop offset=".208" stop-color="#17ff00"/><stop offset=".271" stop-color="#df0"/><stop offset=".292" stop-color="#ffea00"/><stop offset=".333" stop-color="#ff9800"/><stop offset=".417" stop-color="#ff0028"/><stop offset=".646" stop-color="#ff0028"/><stop offset=".688" stop-color="#ff7d03"/><stop offset=".729" stop-color="#fff500"/><stop offset=".792" stop-color="#1bff00"/><stop offset=".833" stop-color="#00ff04"/><stop offset=".854" stop-color="#00ff14"/><stop offset=".875" stop-color="#00ff4d"/><stop offset=".896" stop-color="#00ffb1"/><stop offset=".917" stop-color="#00fff1"/><stop offset="1" stop-color="#00c9ff"/></linearGradient><linearGradient id="gi21" x2="0" y2="1"><stop offset="0" stop-color="#00ff8c"/><stop offset=".125" stop-color="#00ff83"/><stop offset=".208" stop-color="#09ff00"/><stop offset=".292" stop-color="#fffb00"/><stop offset=".354" stop-color="#ff7f03"/><stop offset=".417" stop-color="#ff0626"/><stop offset=".438" stop-color="#ff0028"/><stop offset=".646" stop-color="#ff0028"/><stop offset=".688" stop-color="#ff7f03"/><stop offset=".729" stop-color="#fffa00"/><stop offset=".792" stop-color="#19ff00"/><stop offset=".833" stop-color="#00ff07"/><stop offset=".854" stop-color="#00ff17"/><stop offset=".896" stop-color="#00ffc9"/><stop offset=".917" stop-color="#00fff9"/><stop offset="1" stop-color="#00c5ff"/></linearGradient><linearGradient id="gi22" x2="0" y2="1"><stop offset="0" stop-color="#00ff8d"/><stop offset=".125" stop-color="#00ff8d"/><stop offset=".208" stop-color="#00ff05"/><stop offset=".229" stop-color="#21ff00"/><stop offset=".292" stop-color="#ebff00"/><stop offset=".312" stop-color="#ffe200"/><stop offset=".354" stop-color="#ff8f00"/><stop offset=".417" stop-color="#ff1721"/><stop offset=".438" stop-color="#ff0028"/><stop offset=".646" stop-color="#ff0028"/><stop offset=".688" stop-color="#ff8102"/><stop offset=".729" stop-color="#ff0"/><stop offset=".771" stop-color="#5f0"/><stop offset=".792" stop-color="#17ff00"/><stop offset=".812" stop-color="#06ff00"/><stop offset=".854" stop-color="#00ff1b"/><stop offset=".896" stop-color="#00ffe3"/><stop offset=".917" stop-color="#00fdff"/><stop offset="1" stop-color="#00c2ff"/></linearGradient><linearGradient id="gi23" x2="0" y2="1"><stop offset="0" stop-color="#00ff8f"/><stop offset=".125" stop-color="#00ff8f"/><stop offset=".229" stop-color="#10ff00"/><stop offset=".312" stop-color="#fff200"/><stop offset=".375" stop-color="#ff7705"/><stop offset=".438" stop-color="#ff0028"/><stop offset=".646" stop-color="#ff0028"/><stop offset=".688" stop-color="#ff8401"/><stop offset=".729" stop-color="#f8ff00"/><stop offset=".771" stop-color="#4bff00"/><stop offset=".792" stop-color="#14ff00"/><stop offset=".812" stop-color="#04ff00"/><stop offset=".854" stop-color="#00ff29"/><stop offset=".896" stop-color="#00ffea"/><stop offset=".917" stop-color="#00f5ff"/><stop offset="1" stop-color="#00beff"/></linearGradient><linearGradient id="gi24" x2="0" y2="1"><stop offset="0" stop-color="#00ff91"/><stop offset=".146" stop-color="#00ff8e"/><stop offset=".229" stop-color="#02ff00"/><stop offset=".25" stop-color="#2eff00"/><stop offset=".312" stop-color="#f9ff00"/><stop offset=".333" stop-color="#ffda00"/><stop offset=".375" stop-color="#ff8700"/><stop offset=".438" stop-color="#ff0e24"/><stop offset=".458" stop-color="#ff0028"/><stop offset=".646" stop-color="#ff0028"/><stop offset=".688" stop-color="#ff8700"/><stop offset=".729" stop-color="#f1ff00"/><stop offset=".771" stop-color="#3fff00"/><stop offset=".792" stop-color="#12ff00"/><stop offset=".812" stop-color="#01ff00"/><stop offset=".833" stop-color="#0f1"/><stop offset=".854" stop-color="#00ff40"/><stop offset=".875" stop-color="#00ffad"/><stop offset=".896" stop-color="#00fff2"/><stop offset="1" stop-color="#00baff"/></linearGradient><linearGradient id="gi25" x2="0" y2="1"><stop offset="0" stop-color="#00ff93"/><stop offset=".146" stop-color="#00ff93"/><stop offset=".229" stop-color="#00ff08"/><stop offset=".25" stop-color="#1cff00"/><stop offset=".312" stop-color="#e7ff00"/><stop offset=".333" stop-color="#ffe500"/><stop offset=".375" stop-color="#ff9200"/><stop offset=".458" stop-color="#ff0028"/><stop offset=".646" stop-color="#ff0028"/><stop offset=".688" stop-color="#ff8b00"/><stop offset=".708" stop-color="#ffce00"/><stop offset=".729" stop-color="#e6ff00"/><stop offset=".771" stop-color="#2eff00"/><stop offset=".812" stop-color="#00ff04"/><stop offset=".833" stop-color="#00ff16"/><stop offset=".854" stop-color="#00ff64"/><stop offset=".875" stop-color="#00ffd5"/><stop offset=".896" stop-color="#0ff"/><stop offset=".917" stop-color="#00e1ff"/><stop offset="1" stop-color="#00b3ff"/></linearGradient><linearGradient id="gi26" x2="0" y2="1"><stop offset="0" stop-color="#0f8"/><stop offset=".146" stop-color="#00ff83"/><stop offset=".229" stop-color="#07ff00"/><stop offset=".25" stop-color="#35ff00"/><stop offset=".312" stop-color="#ff0"/><stop offset=".375" stop-color="#ff8301"/><stop offset=".438" stop-color="#ff0a25"/><stop offset=".458" stop-color="#ff0028"/><stop offset=".646" stop-color="#ff0028"/><stop offset=".688" stop-color="#ff8c00"/><stop offset=".708" stop-color="#ffd100"/><stop offset=".729" stop-color="#e0ff00"/><stop offset=".771" stop-color="#26ff00"/><stop offset=".812" stop-color="#00ff06"/><stop offset=".833" stop-color="#00ff18"/><stop offset=".875" stop-color="#00ffe4"/><stop offset=".896" stop-color="#00faff"/><stop offset="1" stop-color="#00b1ff"/></linearGradient><linearGradient id="gi27" x2="0" y2="1"><stop offset="0" stop-color="#00ff83"/><stop offset=".125" stop-color="#00ff83"/><stop offset=".208" stop-color="#00ff07"/><stop offset=".229" stop-color="#1aff00"/><stop offset=".292" stop-color="#e2ff00"/><stop offset=".312" stop-color="#ffe800"/><stop offset=".354" stop-color="#ff9500"/><stop offset=".438" stop-color="#ff0028"/><stop offset=".646" stop-color="#ff0028"/><stop offset=".688" stop-color="#ff8c00"/><stop offset=".708" stop-color="#ffd000"/><stop offset=".729" stop-color="#e1ff00"/><stop offset=".771" stop-color="#27ff00"/><stop offset=".812" stop-color="#00ff06"/><stop offset=".833" stop-color="#00ff18"/><stop offset=".875" stop-color="#00ffe3"/><stop offset=".896" stop-color="#00faff"/><stop offset="1" stop-color="#00b1ff"/></linearGradient><linearGradient id="gi28" x2="0" y2="1"><stop offset="0" stop-color="#00ff7e"/><stop offset=".125" stop-color="#00ff75"/><stop offset=".208" stop-color="#0cff00"/><stop offset=".292" stop-color="#fffa00"/><stop offset=".354" stop-color="#ff7f03"/><stop offset=".417" stop-color="#ff0526"/><stop offset=".438" stop-color="#ff0028"/><stop offset=".646" stop-color="#ff0028"/><stop offset=".688" stop-color="#ff8c00"/><stop offset=".708" stop-color="#ffd000"/><stop offset=".729" stop-color="#e2ff00"/><stop offset=".771" stop-color="#28ff00"/><stop offset=".812" stop-color="#00ff05"/><stop offset=".833" stop-color="#00ff18"/><stop offset=".875" stop-color="#00ffe1"/><stop offset=".896" stop-color="#00fbff"/><stop offset="1" stop-color="#00b1ff"/></linearGradient><linearGradient id="gi29" x2="0" y2="1"><stop offset="0" stop-color="#00ff78"/><stop offset=".104" stop-color="#00ff78"/><stop offset=".188" stop-color="#00ff02"/><stop offset=".208" stop-color="#1eff00"/><stop offset=".271" stop-color="#e9ff00"/><stop offset=".292" stop-color="#ffe300"/><stop offset=".333" stop-color="#ff9100"/><stop offset=".396" stop-color="#ff1821"/><stop offset=".417" stop-color="#ff0028"/><stop offset=".646" stop-color="#ff0028"/><stop offset=".688" stop-color="#ff8c00"/><stop offset=".708" stop-color="#ffd000"/><stop offset=".729" stop-color="#e3ff00"/><stop offset=".771" stop-color="#29ff00"/><stop offset=".812" stop-color="#00ff05"/><stop offset=".833" stop-color="#00ff17"/><stop offset=".854" stop-color="#00ff6d"/><stop offset=".875" stop-color="#00ffdf"/><stop offset=".896" stop-color="#00fcff"/><stop offset=".917" stop-color="#00e0ff"/><stop offset="1" stop-color="#00b2ff"/></linearGradient><linearGradient id="gi30" x2="0" y2="1"><stop offset="0" stop-color="#00ff73"/><stop offset=".083" stop-color="#00ff73"/><stop offset=".167" stop-color="#00ff07"/><stop offset=".188" stop-color="#17ff00"/><stop offset=".25" stop-color="#dbff00"/><stop offset=".271" stop-color="#ffec00"/><stop offset=".312" stop-color="#f90"/><stop offset=".396" stop-color="#ff0028"/><stop offset=".646" stop-color="#ff0028"/><stop offset=".688" stop-color="#ff8b00"/><stop offset=".708" stop-color="#ffcf00"/><stop offset=".729" stop-color="#e3ff00"/><stop offset=".771" stop-color="#2aff00"/><stop offset=".812" stop-color="#00ff05"/><stop offset=".833" stop-color="#00ff17"/><stop offset=".854" stop-color="#00ff6b"/><stop offset=".875" stop-color="#00ffdc"/><stop offset=".896" stop-color="#00fdff"/><stop offset=".917" stop-color="#00e0ff"/><stop offset="1" stop-color="#00b2ff"/></linearGradient><linearGradient id="gi31" x2="0" y2="1"><stop offset="0" stop-color="#00ff6c"/><stop offset=".062" stop-color="#00ff6c"/><stop offset=".146" stop-color="#02ff00"/><stop offset=".167" stop-color="#2f0"/><stop offset=".229" stop-color="#ecff00"/><stop offset=".25" stop-color="#ffe100"/><stop offset=".292" stop-color="#ff8f00"/><stop offset=".354" stop-color="#ff1622"/><stop offset=".375" stop-color="#ff0028"/><stop offset=".646" stop-color="#ff0028"/><stop offset=".688" stop-color="#ff8b00"/><stop offset=".708" stop-color="#ffcf00"/><stop offset=".729" stop-color="#e4ff00"/><stop offset=".771" stop-color="#2cff00"/><stop offset=".812" stop-color="#00ff05"/><stop offset=".833" stop-color="#00ff17"/><stop offset=".854" stop-color="#00ff69"/><stop offset=".875" stop-color="#00ffda"/><stop offset=".896" stop-color="#00feff"/><stop offset=".917" stop-color="#00e1ff"/><stop offset="1" stop-color="#00b3ff"/></linearGradient><linearGradient id="gi32" x2="0" y2="1"><stop offset="0" stop-color="#00ff63"/><stop offset=".042" stop-color="#00ff5f"/><stop offset=".125" stop-color="#0bff00"/><stop offset=".146" stop-color="#3f0"/><stop offset=".208" stop-color="#feff00"/><stop offset=".229" stop-color="#ffd700"/><stop offset=".271" stop-color="#ff8401"/><stop offset=".333" stop-color="#ff0b25"/><stop offset=".354" stop-color="#ff0028"/><stop offset=".646" stop-color="#ff0028"/><stop offset=".688" stop-color="#ff8b00"/><stop offset=".708" stop-color="#ffcf00"/><stop offset=".729" stop-color="#e5ff00"/><stop offset=".771" stop-color="#2dff00"/><stop offset=".812" stop-color="#00ff04"/><stop offset=".833" stop-color="#00ff16"/><stop offset=".854" stop-color="#00ff67"/><stop offset=".875" stop-color="#00ffd7"/><stop offset=".896" stop-color="#00feff"/><stop offset=".917" stop-color="#00e1ff"/><stop offset="1" stop-color="#00b3ff"/></linearGradient><linearGradient id="gi33" x2="0" y2="1"><stop offset="0" stop-color="#00ff5b"/><stop offset=".042" stop-color="#00ff4d"/><stop offset=".104" stop-color="#00ff02"/><stop offset=".125" stop-color="#16ff00"/><stop offset=".188" stop-color="#d7ff00"/><stop offset=".208" stop-color="#fe0"/><stop offset=".271" stop-color="#ff7406"/><stop offset=".333" stop-color="#ff0028"/><stop offset=".646" stop-color="#ff0028"/><stop offset=".688" stop-color="#ff8b00"/><stop offset=".708" stop-color="#ffce00"/><stop offset=".729" stop-color="#e6ff00"/><stop offset=".771" stop-color="#2eff00"/><stop offset=".812" stop-color="#00ff04"/><stop offset=".833" stop-color="#00ff16"/><stop offset=".854" stop-color="#00ff64"/><stop offset=".875" stop-color="#00ffd5"/><stop offset=".896" stop-color="#0ff"/><stop offset=".917" stop-color="#00e1ff"/><stop offset="1" stop-color="#00b3ff"/></linearGradient><linearGradient id="gi34" x2="0" y2="1"><stop offset="0" stop-color="#00ff4a"/><stop offset=".042" stop-color="#00ff3e"/><stop offset=".104" stop-color="#02ff00"/><stop offset=".125" stop-color="#17ff00"/><stop offset=".188" stop-color="#d7ff00"/><stop offset=".208" stop-color="#fe0"/><stop offset=".271" stop-color="#ff7406"/><stop offset=".333" stop-color="#ff0028"/><stop offset=".646" stop-color="#ff0b25"/><stop offset=".708" stop-color="#ffe400"/><stop offset=".729" stop-color="#c9ff00"/><stop offset=".771" stop-color="#1aff00"/><stop offset=".792" stop-color="#08ff00"/><stop offset=".833" stop-color="#00ff1b"/><stop offset=".875" stop-color="#00ffe8"/><stop offset=".896" stop-color="#00f6ff"/><stop offset="1" stop-color="#00b0ff"/></linearGradient><linearGradient id="gi35" x2="0" y2="1"><stop offset="0" stop-color="#00ff41"/><stop offset=".042" stop-color="#00ff41"/><stop offset=".125" stop-color="#0dff00"/><stop offset=".146" stop-color="#2aff00"/><stop offset=".208" stop-color="#f4ff00"/><stop offset=".229" stop-color="#ffdc00"/><stop offset=".271" stop-color="#ff8a00"/><stop offset=".333" stop-color="#ff1123"/><stop offset=".354" stop-color="#ff0028"/><stop offset=".625" stop-color="#ff0028"/><stop offset=".646" stop-color="#ff281c"/><stop offset=".708" stop-color="#fffa00"/><stop offset=".75" stop-color="#50ff00"/><stop offset=".771" stop-color="#15ff00"/><stop offset=".792" stop-color="#03ff00"/><stop offset=".833" stop-color="#00ff38"/><stop offset=".854" stop-color="#00ffa8"/><stop offset=".875" stop-color="#00fff2"/><stop offset="1" stop-color="#00adff"/></linearGradient><linearGradient id="gi36" x2="0" y2="1"><stop offset="0" stop-color="#00ff39"/><stop offset=".083" stop-color="#0f3"/><stop offset=".167" stop-color="#14ff00"/><stop offset=".188" stop-color="#3fff00"/><stop offset=".25" stop-color="#fff800"/><stop offset=".312" stop-color="#ff7d03"/><stop offset=".375" stop-color="#ff0327"/><stop offset=".396" stop-color="#ff0028"/><stop offset=".625" stop-color="#ff0028"/><stop offset=".667" stop-color="#ff8900"/><stop offset=".688" stop-color="#fc0"/><stop offset=".708" stop-color="#e9ff00"/><stop offset=".75" stop-color="#32ff00"/><stop offset=".792" stop-color="#00ff03"/><stop offset=".812" stop-color="#00ff15"/><stop offset=".833" stop-color="#00ff5b"/><stop offset=".854" stop-color="#00ffcb"/><stop offset=".875" stop-color="#00fffc"/><stop offset=".896" stop-color="#00e3ff"/><stop offset="1" stop-color="#0af"/></linearGradient><linearGradient id="gi37" x2="0" y2="1"><stop offset="0" stop-color="#00ff34"/><stop offset=".104" stop-color="#00ff31"/><stop offset=".188" stop-color="#12ff00"/><stop offset=".208" stop-color="#37ff00"/><stop offset=".271" stop-color="#fffd00"/><stop offset=".333" stop-color="#ff8202"/><stop offset=".396" stop-color="#ff0826"/><stop offset=".417" stop-color="#ff0028"/><stop offset=".625" stop-color="#ff0b25"/><stop offset=".688" stop-color="#ffe200"/><stop offset=".708" stop-color="#cbff00"/><stop offset=".75" stop-color="#1bff00"/><stop offset=".771" stop-color="#09ff00"/><stop offset=".812" stop-color="#00ff1a"/><stop offset=".854" stop-color="#00ffe6"/><stop offset=".875" stop-color="#00f8ff"/><stop offset="1" stop-color="#0af"/></linearGradient><linearGradient id="gi38" x2="0" y2="1"><stop offset="0" stop-color="#00ff30"/><stop offset=".104" stop-color="#00ff2d"/><stop offset=".188" stop-color="#13ff00"/><stop offset=".208" stop-color="#37ff00"/><stop offset=".271" stop-color="#fffd00"/><stop offset=".333" stop-color="#ff8202"/><stop offset=".396" stop-color="#ff0826"/><stop offset=".417" stop-color="#ff0028"/><stop offset=".604" stop-color="#ff0028"/><stop offset=".625" stop-color="#ff261d"/><stop offset=".688" stop-color="#fff700"/><stop offset=".729" stop-color="#54ff00"/><stop offset=".75" stop-color="#15ff00"/><stop offset=".771" stop-color="#04ff00"/><stop offset=".812" stop-color="#00ff30"/><stop offset=".833" stop-color="#00ffa0"/><stop offset=".854" stop-color="#00ffef"/><stop offset=".875" stop-color="#00efff"/><stop offset="1" stop-color="#0af"/></linearGradient><linearGradient id="gi39" x2="0" y2="1"><stop offset="0" stop-color="#00ff2c"/><stop offset=".062" stop-color="#00ff2c"/><stop offset=".146" stop-color="#0fff00"/><stop offset=".167" stop-color="#25ff00"/><stop offset=".229" stop-color="#efff00"/><stop offset=".25" stop-color="#ffdf00"/><stop offset=".292" stop-color="#ff8d00"/><stop offset=".354" stop-color="#ff1422"/><stop offset=".375" stop-color="#ff0028"/><stop offset=".604" stop-color="#ff0028"/><stop offset=".646" stop-color="#ff8700"/><stop offset=".667" stop-color="#ffca00"/><stop offset=".688" stop-color="#edff00"/><stop offset=".729" stop-color="#38ff00"/><stop offset=".771" stop-color="#00ff02"/><stop offset=".792" stop-color="#00ff13"/><stop offset=".812" stop-color="#00ff52"/><stop offset=".833" stop-color="#00ffc1"/><stop offset=".854" stop-color="#00fff9"/><stop offset=".896" stop-color="#00d8ff"/><stop offset="1" stop-color="#0af"/></linearGradient><linearGradient id="gi40" x2="0" y2="1"><stop offset="0" stop-color="#00ff28"/><stop offset=".062" stop-color="#00ff04"/><stop offset=".104" stop-color="#18ff00"/><stop offset=".167" stop-color="#d4ff00"/><stop offset=".188" stop-color="#fff000"/><stop offset=".25" stop-color="#ff7506"/><stop offset=".312" stop-color="#ff0028"/><stop offset=".604" stop-color="#ff0826"/><stop offset=".667" stop-color="#ffdf00"/><stop offset=".688" stop-color="#d1ff00"/><stop offset=".729" stop-color="#1cff00"/><stop offset=".75" stop-color="#0bff00"/><stop offset=".792" stop-color="#00ff19"/><stop offset=".833" stop-color="#00ffe2"/><stop offset=".854" stop-color="#00fcff"/><stop offset=".875" stop-color="#00e0ff"/><stop offset="1" stop-color="#0af"/></linearGradient><linearGradient id="gi41" x2="0" y2="1"><stop offset="0" stop-color="#00ff1b"/><stop offset=".062" stop-color="#01ff00"/><stop offset=".104" stop-color="#18ff00"/><stop offset=".188" stop-color="#fcff00"/><stop offset=".208" stop-color="#ffdc00"/><stop offset=".312" stop-color="#ff2c1b"/><stop offset=".396" stop-color="#ff0028"/><stop offset=".521" stop-color="#ff0427"/><stop offset=".583" stop-color="#ff261d"/><stop offset=".604" stop-color="#ff3e16"/><stop offset=".625" stop-color="#ff8401"/><stop offset=".667" stop-color="#fff800"/><stop offset=".688" stop-color="#afff00"/><stop offset=".729" stop-color="#16ff00"/><stop offset=".75" stop-color="#05ff00"/><stop offset=".792" stop-color="#00ff1e"/><stop offset=".833" stop-color="#00ffd4"/><stop offset=".854" stop-color="#00fff5"/><stop offset="1" stop-color="#009bff"/></linearGradient><linearGradient id="gi42" x2="0" y2="1"><stop offset="0" stop-color="#00ff02"/><stop offset=".104" stop-color="#12ff00"/><stop offset=".25" stop-color="#69ff00"/><stop offset=".292" stop-color="#8bff00"/><stop offset=".375" stop-color="#fff800"/><stop offset=".458" stop-color="#ff7605"/><stop offset=".521" stop-color="#ff4c12"/><stop offset=".562" stop-color="#ff6a09"/><stop offset=".646" stop-color="#f1ff00"/><stop offset=".688" stop-color="#6dff00"/><stop offset=".729" stop-color="#0fff00"/><stop offset=".812" stop-color="#00ff63"/><stop offset=".854" stop-color="#00ffd6"/><stop offset=".875" stop-color="#00f6ff"/><stop offset="1" stop-color="#000dff"/></linearGradient><linearGradient id="gi43" x2="0" y2="1"><stop offset="0" stop-color="#06ff00"/><stop offset=".292" stop-color="#30ff00"/><stop offset=".354" stop-color="#7f0"/><stop offset=".417" stop-color="#fff000"/><stop offset=".479" stop-color="#ff8f00"/><stop offset=".521" stop-color="#ff7805"/><stop offset=".562" stop-color="#ff9500"/><stop offset=".625" stop-color="#fffd00"/><stop offset=".708" stop-color="#1dff00"/><stop offset=".729" stop-color="#00ff0d"/><stop offset=".792" stop-color="#00ff6c"/><stop offset=".833" stop-color="#00ffde"/><stop offset=".854" stop-color="#00ecff"/><stop offset=".938" stop-color="#003bff"/><stop offset=".979" stop-color="#0008ff"/><stop offset="1" stop-color="#1400ff"/></linearGradient><linearGradient id="gi44" x2="0" y2="1"><stop offset="0" stop-color="#09ff00"/><stop offset=".312" stop-color="#2eff00"/><stop offset=".375" stop-color="#6fff00"/><stop offset=".438" stop-color="#ebff00"/><stop offset=".458" stop-color="#fff400"/><stop offset=".521" stop-color="#ffd300"/><stop offset=".583" stop-color="#fffc00"/><stop offset=".688" stop-color="#1aff00"/><stop offset=".708" stop-color="#00ff0f"/><stop offset=".75" stop-color="#00ff4d"/><stop offset=".812" stop-color="#0fe"/><stop offset=".833" stop-color="#00deff"/><stop offset=".917" stop-color="#002eff"/><stop offset=".979" stop-color="#00f"/><stop offset="1" stop-color="#1500ff"/></linearGradient><linearGradient id="gi45" x2="0" y2="1"><stop offset="0" stop-color="#0dff00"/><stop offset=".333" stop-color="#1eff00"/><stop offset=".5" stop-color="#63ff00"/><stop offset=".562" stop-color="#5f0"/><stop offset=".646" stop-color="#0dff00"/><stop offset=".729" stop-color="#00ff5a"/><stop offset=".792" stop-color="#0ff"/><stop offset=".896" stop-color="#0028ff"/><stop offset="1" stop-color="#1500ff"/></linearGradient><linearGradient id="gi46" x2="0" y2="1"><stop offset="0" stop-color="#10ff00"/><stop offset=".333" stop-color="#20ff00"/><stop offset=".521" stop-color="#7bff00"/><stop offset=".604" stop-color="#45ff00"/><stop offset=".646" stop-color="#0f0"/><stop offset=".708" stop-color="#00ff60"/><stop offset=".75" stop-color="#00ffd6"/><stop offset=".771" stop-color="#00f2ff"/><stop offset=".854" stop-color="#003dff"/><stop offset=".875" stop-color="#0026ff"/><stop offset=".958" stop-color="#0003ff"/><stop offset="1" stop-color="#1500ff"/></linearGradient><linearGradient id="gi47" x2="0" y2="1"><stop offset="0" stop-color="#13ff00"/><stop offset=".312" stop-color="#26ff00"/><stop offset=".375" stop-color="#57ff00"/><stop offset=".458" stop-color="#d7ff00"/><stop offset=".5" stop-color="#fffe00"/><stop offset=".542" stop-color="#fcff00"/><stop offset=".562" stop-color="#e5ff00"/><stop offset=".646" stop-color="#20ff00"/><stop offset=".667" stop-color="#00ff10"/><stop offset=".729" stop-color="#00ffd8"/><stop offset=".75" stop-color="#00ecff"/><stop offset=".833" stop-color="#0031ff"/><stop offset=".958" stop-color="#00f"/><stop offset="1" stop-color="#1500ff"/></linearGradient><linearGradient id="gi48" x2="0" y2="1"><stop offset="0" stop-color="#16ff00"/><stop offset=".208" stop-color="#1cff00"/><stop offset=".542" stop-color="#00ff0d"/><stop offset=".646" stop-color="#00ff60"/><stop offset=".708" stop-color="#00fffd"/><stop offset=".812" stop-color="#0029ff"/><stop offset=".938" stop-color="#0004ff"/><stop offset="1" stop-color="#1500ff"/></linearGradient><linearGradient id="gi49" x2="0" y2="1"><stop offset="0" stop-color="#19ff00"/><stop offset=".521" stop-color="#00ff0e"/><stop offset=".625" stop-color="#00ff65"/><stop offset=".667" stop-color="#00ffd1"/><stop offset=".688" stop-color="#00f8ff"/><stop offset=".771" stop-color="#0045ff"/><stop offset=".792" stop-color="#0029ff"/><stop offset=".938" stop-color="#0002ff"/><stop offset="1" stop-color="#1500ff"/></linearGradient><linearGradient id="gi50" x2="0" y2="1"><stop offset="0" stop-color="#1cff00"/><stop offset=".5" stop-color="#00ff0e"/><stop offset=".604" stop-color="#00ff6b"/><stop offset=".646" stop-color="#00ffd7"/><stop offset=".667" stop-color="#00f2ff"/><stop offset=".75" stop-color="#0041ff"/><stop offset=".771" stop-color="#0028ff"/><stop offset=".938" stop-color="#0001ff"/><stop offset="1" stop-color="#1500ff"/></linearGradient><linearGradient id="gi51" x2="0" y2="1"><stop offset="0" stop-color="#2dff00"/><stop offset=".479" stop-color="#00ff0f"/><stop offset=".583" stop-color="#00ff72"/><stop offset=".625" stop-color="#00ffde"/><stop offset=".646" stop-color="#00edff"/><stop offset=".729" stop-color="#003cff"/><stop offset=".75" stop-color="#0028ff"/><stop offset=".938" stop-color="#0100ff"/><stop offset="1" stop-color="#1500ff"/></linearGradient><linearGradient id="gi52" x2="0" y2="1"><stop offset="0" stop-color="#3eff00"/><stop offset=".375" stop-color="#0f0"/><stop offset=".458" stop-color="#0f1"/><stop offset=".542" stop-color="#00ff58"/><stop offset=".562" stop-color="#00ff78"/><stop offset=".604" stop-color="#00ffe4"/><stop offset=".625" stop-color="#00e7ff"/><stop offset=".708" stop-color="#0037ff"/><stop offset=".729" stop-color="#0028ff"/><stop offset=".917" stop-color="#0002ff"/><stop offset="1" stop-color="#1500ff"/></linearGradient><linearGradient id="gi53" x2="0" y2="1"><stop offset="0" stop-color="#4fff00"/><stop offset=".417" stop-color="#00ff0b"/><stop offset=".521" stop-color="#00ff5a"/><stop offset=".583" stop-color="#00ffeb"/><stop offset=".604" stop-color="#00e1ff"/><stop offset=".688" stop-color="#0032ff"/><stop offset=".917" stop-color="#0001ff"/><stop offset="1" stop-color="#1500ff"/></linearGradient><linearGradient id="gi54" x2="0" y2="1"><stop offset="0" stop-color="#60ff00"/><stop offset=".229" stop-color="#1aff00"/><stop offset=".396" stop-color="#00ff0b"/><stop offset=".5" stop-color="#00ff5d"/><stop offset=".562" stop-color="#00fff1"/><stop offset=".667" stop-color="#002dff"/><stop offset=".917" stop-color="#00f"/><stop offset="1" stop-color="#1500ff"/></linearGradient><linearGradient id="gi55" x2="0" y2="1"><stop offset="0" stop-color="#71ff00"/><stop offset=".229" stop-color="#1aff00"/><stop offset=".396" stop-color="#00ff0f"/><stop offset=".5" stop-color="#00ff70"/><stop offset=".542" stop-color="#00ffdc"/><stop offset=".562" stop-color="#0ef"/><stop offset=".646" stop-color="#003dff"/><stop offset=".667" stop-color="#0029ff"/><stop offset=".917" stop-color="#0100ff"/><stop offset="1" stop-color="#1500ff"/></linearGradient><linearGradient id="gi56" x2="0" y2="1"><stop offset="0" stop-color="#86ff00"/><stop offset=".208" stop-color="#21ff00"/><stop offset=".375" stop-color="#00ff0d"/><stop offset=".479" stop-color="#00ff62"/><stop offset=".542" stop-color="#00fbff"/><stop offset=".646" stop-color="#002aff"/><stop offset=".896" stop-color="#0002ff"/><stop offset="1" stop-color="#1500ff"/></linearGradient><linearGradient id="gi57" x2="0" y2="1"><stop offset="0" stop-color="#9aff00"/><stop offset=".208" stop-color="#2f0"/><stop offset=".354" stop-color="#00ff0b"/><stop offset=".458" stop-color="#00ff5e"/><stop offset=".521" stop-color="#00fff4"/><stop offset=".625" stop-color="#002aff"/><stop offset=".896" stop-color="#0002ff"/><stop offset="1" stop-color="#1500ff"/></linearGradient><linearGradient id="gi58" x2="0" y2="1"><stop offset="0" stop-color="#b9ff00"/><stop offset=".208" stop-color="#24ff00"/><stop offset=".312" stop-color="#00ff01"/><stop offset=".354" stop-color="#00ff0e"/><stop offset=".458" stop-color="#00ff69"/><stop offset=".521" stop-color="#00f5ff"/><stop offset=".604" stop-color="#0042ff"/><stop offset=".625" stop-color="#0029ff"/><stop offset=".896" stop-color="#0001ff"/><stop offset="1" stop-color="#1500ff"/></linearGradient><linearGradient id="gi59" x2="0" y2="1"><stop offset="0" stop-color="#cbff00"/><stop offset=".208" stop-color="#25ff00"/><stop offset=".312" stop-color="#00ff03"/><stop offset=".438" stop-color="#00ff5d"/><stop offset=".5" stop-color="#00fff2"/><stop offset=".521" stop-color="#00dbff"/><stop offset=".604" stop-color="#002cff"/><stop offset=".896" stop-color="#0001ff"/><stop offset="1" stop-color="#1500ff"/></linearGradient><linearGradient id="gi60" x2="0" y2="1"><stop offset="0" stop-color="#d1ff00"/><stop offset=".208" stop-color="#25ff00"/><stop offset=".292" stop-color="#02ff00"/><stop offset=".333" stop-color="#00ff0e"/><stop offset=".438" stop-color="#00ff6d"/><stop offset=".5" stop-color="#00f1ff"/><stop offset=".583" stop-color="#003fff"/><stop offset=".604" stop-color="#0029ff"/><stop offset=".896" stop-color="#00f"/><stop offset="1" stop-color="#1500ff"/></linearGradient><linearGradient id="gi61" x2="0" y2="1"><stop offset="0" stop-color="#d9ff00"/><stop offset=".208" stop-color="#26ff00"/><stop offset=".292" stop-color="#00ff02"/><stop offset=".417" stop-color="#00ff5f"/><stop offset=".479" stop-color="#00fff8"/><stop offset=".583" stop-color="#002aff"/><stop offset=".896" stop-color="#00f"/><stop offset="1" stop-color="#1500ff"/></linearGradient><linearGradient id="gi62" x2="0" y2="1"><stop offset="0" stop-color="#e2ff00"/><stop offset=".167" stop-color="#48ff00"/><stop offset=".271" stop-color="#04ff00"/><stop offset=".396" stop-color="#00ff57"/><stop offset=".417" stop-color="#00ff74"/><stop offset=".458" stop-color="#00ffe0"/><stop offset=".479" stop-color="#00ebff"/><stop offset=".562" stop-color="#003aff"/><stop offset=".583" stop-color="#0029ff"/><stop offset=".896" stop-color="#0100ff"/><stop offset="1" stop-color="#1500ff"/></linearGradient><linearGradient id="ge0" x2="0" y2="1"><stop offset="0" stop-color="#f0f"/><stop offset=".188" stop-color="#f0f"/><stop offset=".271" stop-color="#1900ff"/><stop offset=".292" stop-color="#0018ff"/><stop offset=".396" stop-color="#00e8ff"/><stop offset=".417" stop-color="#00fffb"/><stop offset=".438" stop-color="#00ffe5"/><stop offset=".5" stop-color="#0f0"/><stop offset=".542" stop-color="#3dff00"/><stop offset=".604" stop-color="#fff500"/><stop offset=".646" stop-color="#ff9200"/><stop offset=".688" stop-color="#ff0826"/><stop offset=".708" stop-color="#ff0028"/><stop offset=".854" stop-color="#ff0028"/><stop offset="1" stop-color="#ff8002"/></linearGradient><linearGradient id="ge1" x2="0" y2="1"><stop offset="0" stop-color="#f0f"/><stop offset=".208" stop-color="#fe00ff"/><stop offset=".292" stop-color="#0006ff"/><stop offset=".396" stop-color="#00e8ff"/><stop offset=".417" stop-color="#00fffb"/><stop offset=".438" stop-color="#00ffe5"/><stop offset=".5" stop-color="#0f0"/><stop offset=".542" stop-color="#3dff00"/><stop offset=".604" stop-color="#fff500"/><stop offset=".646" stop-color="#ff9200"/><stop offset=".688" stop-color="#ff0826"/><stop offset=".708" stop-color="#ff0028"/><stop offset=".854" stop-color="#ff0028"/><stop offset="1" stop-color="#ff8002"/></linearGradient><linearGradient id="ge2" x2="0" y2="1"><stop offset="0" stop-color="#f0f"/><stop offset=".208" stop-color="#f0f"/><stop offset=".229" stop-color="#ed00ff"/><stop offset=".292" stop-color="#1600ff"/><stop offset=".312" stop-color="#0021ff"/><stop offset=".396" stop-color="#00e7ff"/><stop offset=".417" stop-color="#00fffb"/><stop offset=".438" stop-color="#00ffe5"/><stop offset=".5" stop-color="#0f0"/><stop offset=".542" stop-color="#3dff00"/><stop offset=".604" stop-color="#fff500"/><stop offset=".646" stop-color="#ff9200"/><stop offset=".688" stop-color="#ff0826"/><stop offset=".708" stop-color="#ff0028"/><stop offset=".854" stop-color="#ff0028"/><stop offset="1" stop-color="#ff8002"/></linearGradient><linearGradient id="ge3" x2="0" y2="1"><stop offset="0" stop-color="#f0f"/><stop offset=".229" stop-color="#f0f"/><stop offset=".25" stop-color="#e100ff"/><stop offset=".292" stop-color="#3d00ff"/><stop offset=".312" stop-color="#000eff"/><stop offset=".396" stop-color="#00efff"/><stop offset=".417" stop-color="#00fff8"/><stop offset=".438" stop-color="#00ffde"/><stop offset=".479" stop-color="#00ff39"/><stop offset=".5" stop-color="#05ff00"/><stop offset=".542" stop-color="#48ff00"/><stop offset=".604" stop-color="#ffed00"/><stop offset=".646" stop-color="#ff8900"/><stop offset=".688" stop-color="#ff0028"/><stop offset=".854" stop-color="#ff0028"/><stop offset="1" stop-color="#ff8102"/></linearGradient><linearGradient id="ge4" x2="0" y2="1"><stop offset="0" stop-color="#f0f"/><stop offset=".25" stop-color="#f0f"/><stop offset=".271" stop-color="#c800ff"/><stop offset=".312" stop-color="#0e00ff"/><stop offset=".333" stop-color="#0034ff"/><stop offset=".396" stop-color="#00f2ff"/><stop offset=".417" stop-color="#00fff6"/><stop offset=".438" stop-color="#00ffd6"/><stop offset=".479" stop-color="#0f3"/><stop offset=".5" stop-color="#08ff00"/><stop offset=".542" stop-color="#4dff00"/><stop offset=".583" stop-color="#d4ff00"/><stop offset=".604" stop-color="#ffe800"/><stop offset=".646" stop-color="#ff8401"/><stop offset=".688" stop-color="#ff0028"/><stop offset=".854" stop-color="#ff0028"/><stop offset="1" stop-color="#ff8202"/></linearGradient><linearGradient id="ge5" x2="0" y2="1"><stop offset="0" stop-color="#f0f"/><stop offset=".271" stop-color="#f800ff"/><stop offset=".312" stop-color="#2c00ff"/><stop offset=".333" stop-color="#0027ff"/><stop offset=".396" stop-color="#00f3ff"/><stop offset=".417" stop-color="#00fff4"/><stop offset=".438" stop-color="#00ffd1"/><stop offset=".479" stop-color="#00ff2f"/><stop offset=".5" stop-color="#09ff00"/><stop offset=".542" stop-color="#50ff00"/><stop offset=".583" stop-color="#d9ff00"/><stop offset=".604" stop-color="#ffe500"/><stop offset=".646" stop-color="#ff8002"/><stop offset=".688" stop-color="#ff0028"/><stop offset=".854" stop-color="#ff0128"/><stop offset="1" stop-color="#ff8202"/></linearGradient><linearGradient id="ge6" x2="0" y2="1"><stop offset="0" stop-color="#f0f"/><stop offset=".271" stop-color="#f0f"/><stop offset=".292" stop-color="#c100ff"/><stop offset=".312" stop-color="#5000ff"/><stop offset=".333" stop-color="#0016ff"/><stop offset=".396" stop-color="#00f5ff"/><stop offset=".417" stop-color="#00fff3"/><stop offset=".438" stop-color="#0fc"/><stop offset=".479" stop-color="#00ff2b"/><stop offset=".5" stop-color="#0bff00"/><stop offset=".542" stop-color="#53ff00"/><stop offset=".583" stop-color="#deff00"/><stop offset=".604" stop-color="#ffe300"/><stop offset=".646" stop-color="#ff7c04"/><stop offset=".688" stop-color="#ff0028"/><stop offset=".854" stop-color="#ff0227"/><stop offset="1" stop-color="#ff8202"/></linearGradient><linearGradient id="ge7" x2="0" y2="1"><stop offset="0" stop-color="#f0f"/><stop offset=".292" stop-color="#fb00ff"/><stop offset=".333" stop-color="#0001ff"/><stop offset=".396" stop-color="#00f6ff"/><stop offset=".417" stop-color="#00fff2"/><stop offset=".438" stop-color="#00ffc7"/><stop offset=".479" stop-color="#00ff27"/><stop offset=".5" stop-color="#0dff00"/><stop offset=".542" stop-color="#57ff00"/><stop offset=".583" stop-color="#e2ff00"/><stop offset=".604" stop-color="#ffe000"/><stop offset=".646" stop-color="#ff7805"/><stop offset=".688" stop-color="#ff0028"/><stop offset=".854" stop-color="#ff0327"/><stop offset="1" stop-color="#ff8202"/></linearGradient><linearGradient id="ge8" x2="0" y2="1"><stop offset="0" stop-color="#f0f"/><stop offset=".292" stop-color="#f0f"/><stop offset=".312" stop-color="#b500ff"/><stop offset=".333" stop-color="#2500ff"/><stop offset=".354" stop-color="#0047ff"/><stop offset=".396" stop-color="#00f7ff"/><stop offset=".417" stop-color="#00fff1"/><stop offset=".438" stop-color="#00ffc2"/><stop offset=".479" stop-color="#00ff23"/><stop offset=".5" stop-color="#0eff00"/><stop offset=".542" stop-color="#5aff00"/><stop offset=".583" stop-color="#e7ff00"/><stop offset=".604" stop-color="#fd0"/><stop offset=".646" stop-color="#ff7306"/><stop offset=".688" stop-color="#ff0028"/><stop offset=".854" stop-color="#ff0427"/><stop offset="1" stop-color="#ff8302"/></linearGradient><linearGradient id="ge9" x2="0" y2="1"><stop offset="0" stop-color="#f0f"/><stop offset=".292" stop-color="#f0f"/><stop offset=".312" stop-color="#e100ff"/><stop offset=".333" stop-color="#4300ff"/><stop offset=".354" stop-color="#003dff"/><stop offset=".375" stop-color="#00a9ff"/><stop offset=".396" stop-color="#00f9ff"/><stop offset=".417" stop-color="#00ffef"/><stop offset=".438" stop-color="#00ffbd"/><stop offset=".479" stop-color="#00ff1f"/><stop offset=".5" stop-color="#10ff00"/><stop offset=".542" stop-color="#5eff00"/><stop offset=".583" stop-color="#ebff00"/><stop offset=".604" stop-color="#ffda00"/><stop offset=".646" stop-color="#ff6f07"/><stop offset=".667" stop-color="#ff291c"/><stop offset=".688" stop-color="#ff0028"/><stop offset=".854" stop-color="#ff0626"/><stop offset="1" stop-color="#ff8301"/></linearGradient><linearGradient id="ge10" x2="0" y2="1"><stop offset="0" stop-color="#f0f"/><stop offset=".312" stop-color="#f0f"/><stop offset=".333" stop-color="#6800ff"/><stop offset=".354" stop-color="#0024ff"/><stop offset=".396" stop-color="#00f3ff"/><stop offset=".417" stop-color="#00fff4"/><stop offset=".438" stop-color="#00ffd1"/><stop offset=".479" stop-color="#00ff2f"/><stop offset=".5" stop-color="#09ff00"/><stop offset=".542" stop-color="#50ff00"/><stop offset=".583" stop-color="#d9ff00"/><stop offset=".604" stop-color="#ffe500"/><stop offset=".646" stop-color="#ff8002"/><stop offset=".688" stop-color="#ff0028"/><stop offset=".854" stop-color="#ff0128"/><stop offset="1" stop-color="#ff8202"/></linearGradient><linearGradient id="ge11" x2="0" y2="1"><stop offset="0" stop-color="#f0f"/><stop offset=".312" stop-color="#f0f"/><stop offset=".354" stop-color="#000dff"/><stop offset=".396" stop-color="#00e6ff"/><stop offset=".417" stop-color="#00fff9"/><stop offset=".438" stop-color="#00ffe3"/><stop offset=".479" stop-color="#00ff3e"/><stop offset=".5" stop-color="#03ff00"/><stop offset=".542" stop-color="#43ff00"/><stop offset=".604" stop-color="#fff000"/><stop offset=".646" stop-color="#ff8d00"/><stop offset=".688" stop-color="#ff0128"/><stop offset=".854" stop-color="#ff0028"/><stop offset="1" stop-color="#ff8102"/></linearGradient><linearGradient id="ge12" x2="0" y2="1"><stop offset="0" stop-color="#f0f"/><stop offset=".312" stop-color="#f0f"/><stop offset=".333" stop-color="#9a00ff"/><stop offset=".354" stop-color="#0003ff"/><stop offset=".396" stop-color="#00dbff"/><stop offset=".417" stop-color="#00fffb"/><stop offset=".438" stop-color="#00ffe5"/><stop offset=".5" stop-color="#0f0"/><stop offset=".542" stop-color="#3dff00"/><stop offset=".604" stop-color="#fff500"/><stop offset=".646" stop-color="#ff9200"/><stop offset=".688" stop-color="#ff0826"/><stop offset=".708" stop-color="#ff0028"/><stop offset=".854" stop-color="#ff0028"/><stop offset="1" stop-color="#ff8002"/></linearGradient><linearGradient id="ge13" x2="0" y2="1"><stop offset="0" stop-color="#f0f"/><stop offset=".312" stop-color="#f500ff"/><stop offset=".333" stop-color="#6700ff"/><stop offset=".354" stop-color="#001aff"/><stop offset=".396" stop-color="#0df"/><stop offset=".417" stop-color="#00fffb"/><stop offset=".438" stop-color="#00ffe5"/><stop offset=".5" stop-color="#0f0"/><stop offset=".542" stop-color="#3dff00"/><stop offset=".604" stop-color="#fff500"/><stop offset=".646" stop-color="#ff9200"/><stop offset=".688" stop-color="#ff0826"/><stop offset=".708" stop-color="#ff0028"/><stop offset=".854" stop-color="#ff0028"/><stop offset="1" stop-color="#ff8002"/></linearGradient><linearGradient id="ge14" x2="0" y2="1"><stop offset="0" stop-color="#f0f"/><stop offset=".292" stop-color="#f0f"/><stop offset=".312" stop-color="#be00ff"/><stop offset=".333" stop-color="#3d00ff"/><stop offset=".354" stop-color="#002dff"/><stop offset=".396" stop-color="#00dfff"/><stop offset=".417" stop-color="#00fffb"/><stop offset=".438" stop-color="#00ffe5"/><stop offset=".5" stop-color="#0f0"/><stop offset=".542" stop-color="#3dff00"/><stop offset=".604" stop-color="#fff500"/><stop offset=".646" stop-color="#ff9200"/><stop offset=".688" stop-color="#ff0826"/><stop offset=".708" stop-color="#ff0028"/><stop offset=".854" stop-color="#ff0028"/><stop offset="1" stop-color="#ff8002"/></linearGradient><linearGradient id="ge15" x2="0" y2="1"><stop offset="0" stop-color="#f0f"/><stop offset=".292" stop-color="#f0f"/><stop offset=".312" stop-color="#c000ff"/><stop offset=".333" stop-color="#4a00ff"/><stop offset=".354" stop-color="#001dff"/><stop offset=".396" stop-color="#00bfff"/><stop offset=".417" stop-color="#00faff"/><stop offset=".438" stop-color="#0fe"/><stop offset=".458" stop-color="#00ffb9"/><stop offset=".5" stop-color="#00ff1c"/><stop offset=".521" stop-color="#12ff00"/><stop offset=".562" stop-color="#61ff00"/><stop offset=".604" stop-color="#efff00"/><stop offset=".646" stop-color="#ffa600"/><stop offset=".688" stop-color="#ff251d"/><stop offset=".708" stop-color="#ff0028"/><stop offset=".875" stop-color="#ff0726"/><stop offset="1" stop-color="#ff7904"/></linearGradient><linearGradient id="ge16" x2="0" y2="1"><stop offset="0" stop-color="#f0f"/><stop offset=".292" stop-color="#f0f"/><stop offset=".312" stop-color="#d800ff"/><stop offset=".354" stop-color="#0007ff"/><stop offset=".417" stop-color="#00f0ff"/><stop offset=".438" stop-color="#00fff7"/><stop offset=".458" stop-color="#00ffdc"/><stop offset=".5" stop-color="#00ff38"/><stop offset=".521" stop-color="#06ff00"/><stop offset=".562" stop-color="#49ff00"/><stop offset=".625" stop-color="#ffec00"/><stop offset=".667" stop-color="#f80"/><stop offset=".708" stop-color="#ff0028"/><stop offset=".875" stop-color="#ff0028"/><stop offset="1" stop-color="#ff7206"/></linearGradient><linearGradient id="ge17" x2="0" y2="1"><stop offset="0" stop-color="#f0f"/><stop offset=".292" stop-color="#f0f"/><stop offset=".312" stop-color="#e0f"/><stop offset=".354" stop-color="#1400ff"/><stop offset=".375" stop-color="#003bff"/><stop offset=".417" stop-color="#00d1ff"/><stop offset=".438" stop-color="#00feff"/><stop offset=".458" stop-color="#00ffea"/><stop offset=".521" stop-color="#00ff0f"/><stop offset=".542" stop-color="#17ff00"/><stop offset=".583" stop-color="#6cff00"/><stop offset=".625" stop-color="#feff00"/><stop offset=".667" stop-color="#ff9d00"/><stop offset=".708" stop-color="#ff1821"/><stop offset=".729" stop-color="#ff0028"/><stop offset=".875" stop-color="#ff0028"/><stop offset="1" stop-color="#ff6b09"/></linearGradient><linearGradient id="ge18" x2="0" y2="1"><stop offset="0" stop-color="#f0f"/><stop offset=".312" stop-color="#f0f"/><stop offset=".354" stop-color="#3100ff"/><stop offset=".375" stop-color="#0025ff"/><stop offset=".438" stop-color="#00f5ff"/><stop offset=".458" stop-color="#00fff3"/><stop offset=".479" stop-color="#0fc"/><stop offset=".521" stop-color="#00ff2b"/><stop offset=".542" stop-color="#0bff00"/><stop offset=".583" stop-color="#54ff00"/><stop offset=".625" stop-color="#deff00"/><stop offset=".646" stop-color="#ffe200"/><stop offset=".688" stop-color="#ff7b04"/><stop offset=".729" stop-color="#ff0028"/><stop offset=".896" stop-color="#ff0227"/><stop offset="1" stop-color="#ff640b"/></linearGradient><linearGradient id="ge19" x2="0" y2="1"><stop offset="0" stop-color="#f0f"/><stop offset=".312" stop-color="#f0f"/><stop offset=".375" stop-color="#01f"/><stop offset=".438" stop-color="#00e1ff"/><stop offset=".458" stop-color="#00fffc"/><stop offset=".479" stop-color="#00ffe6"/><stop offset=".542" stop-color="#00ff02"/><stop offset=".583" stop-color="#3cff00"/><stop offset=".646" stop-color="#fff600"/><stop offset=".688" stop-color="#ff9300"/><stop offset=".729" stop-color="#ff0a25"/><stop offset=".75" stop-color="#ff0028"/><stop offset=".896" stop-color="#ff0028"/><stop offset="1" stop-color="#ff5d0d"/></linearGradient><linearGradient id="ge20" x2="0" y2="1"><stop offset="0" stop-color="#f0f"/><stop offset=".292" stop-color="#f0f"/><stop offset=".312" stop-color="#df00ff"/><stop offset=".354" stop-color="#2900ff"/><stop offset=".375" stop-color="#02f"/><stop offset=".438" stop-color="#00deff"/><stop offset=".458" stop-color="#00fffe"/><stop offset=".479" stop-color="#00ffe8"/><stop offset=".542" stop-color="#00ff07"/><stop offset=".583" stop-color="#38ff00"/><stop offset=".646" stop-color="#fffa00"/><stop offset=".688" stop-color="#ff9700"/><stop offset=".729" stop-color="#ff1023"/><stop offset=".75" stop-color="#ff0028"/><stop offset=".896" stop-color="#ff0028"/><stop offset="1" stop-color="#ff5b0d"/></linearGradient><linearGradient id="ge21" x2="0" y2="1"><stop offset="0" stop-color="#f0f"/><stop offset=".292" stop-color="#f0f"/><stop offset=".354" stop-color="#0800ff"/><stop offset=".375" stop-color="#03f"/><stop offset=".438" stop-color="#00e3ff"/><stop offset=".458" stop-color="#00fffc"/><stop offset=".479" stop-color="#00ffe6"/><stop offset=".542" stop-color="#00ff02"/><stop offset=".583" stop-color="#3bff00"/><stop offset=".646" stop-color="#fff700"/><stop offset=".688" stop-color="#ff9400"/><stop offset=".729" stop-color="#ff0b25"/><stop offset=".75" stop-color="#ff0028"/><stop offset=".896" stop-color="#ff0028"/><stop offset="1" stop-color="#ff5c0d"/></linearGradient><linearGradient id="ge22" x2="0" y2="1"><stop offset="0" stop-color="#f0f"/><stop offset=".271" stop-color="#f0f"/><stop offset=".292" stop-color="#ce00ff"/><stop offset=".333" stop-color="#3200ff"/><stop offset=".354" stop-color="#0013ff"/><stop offset=".438" stop-color="#00e9ff"/><stop offset=".458" stop-color="#00fffa"/><stop offset=".479" stop-color="#00ffe4"/><stop offset=".542" stop-color="#02ff00"/><stop offset=".583" stop-color="#41ff00"/><stop offset=".646" stop-color="#fff200"/><stop offset=".688" stop-color="#ff8f00"/><stop offset=".729" stop-color="#ff0427"/><stop offset=".896" stop-color="#ff0028"/><stop offset="1" stop-color="#ff5e0c"/></linearGradient><linearGradient id="ge23" x2="0" y2="1"><stop offset="0" stop-color="#f0f"/><stop offset=".25" stop-color="#f0f"/><stop offset=".271" stop-color="#e600ff"/><stop offset=".333" stop-color="#0d00ff"/><stop offset=".354" stop-color="#0027ff"/><stop offset=".438" stop-color="#0ef"/><stop offset=".458" stop-color="#00fff8"/><stop offset=".479" stop-color="#00ffe0"/><stop offset=".521" stop-color="#00ff3b"/><stop offset=".542" stop-color="#04ff00"/><stop offset=".583" stop-color="#46ff00"/><stop offset=".646" stop-color="#fe0"/><stop offset=".688" stop-color="#ff8b00"/><stop offset=".729" stop-color="#ff0028"/><stop offset=".896" stop-color="#ff0028"/><stop offset="1" stop-color="#ff600c"/></linearGradient><linearGradient id="ge24" x2="0" y2="1"><stop offset="0" stop-color="#f0f"/><stop offset=".25" stop-color="#fb00ff"/><stop offset=".312" stop-color="#3100ff"/><stop offset=".333" stop-color="#000cff"/><stop offset=".438" stop-color="#00f2ff"/><stop offset=".458" stop-color="#00fff6"/><stop offset=".479" stop-color="#00ffd8"/><stop offset=".521" stop-color="#00ff35"/><stop offset=".542" stop-color="#07ff00"/><stop offset=".583" stop-color="#4bff00"/><stop offset=".625" stop-color="#d3ff00"/><stop offset=".646" stop-color="#ffe900"/><stop offset=".688" stop-color="#ff8501"/><stop offset=".729" stop-color="#ff0028"/><stop offset=".896" stop-color="#ff0028"/><stop offset="1" stop-color="#ff610b"/></linearGradient><linearGradient id="ge25" x2="0" y2="1"><stop offset="0" stop-color="#f0f"/><stop offset=".229" stop-color="#f0f"/><stop offset=".312" stop-color="#0d00ff"/><stop offset=".333" stop-color="#0021ff"/><stop offset=".438" stop-color="#00f4ff"/><stop offset=".458" stop-color="#00fff4"/><stop offset=".479" stop-color="#00ffd0"/><stop offset=".521" stop-color="#00ff2e"/><stop offset=".542" stop-color="#0aff00"/><stop offset=".583" stop-color="#51ff00"/><stop offset=".625" stop-color="#daff00"/><stop offset=".646" stop-color="#ffe500"/><stop offset=".688" stop-color="#ff7f03"/><stop offset=".729" stop-color="#ff0028"/><stop offset=".896" stop-color="#ff0128"/><stop offset="1" stop-color="#ff630b"/></linearGradient><linearGradient id="ge26" x2="0" y2="1"><stop offset="0" stop-color="#f0f"/><stop offset=".208" stop-color="#f0f"/><stop offset=".292" stop-color="#2000ff"/><stop offset=".312" stop-color="#0010ff"/><stop offset=".438" stop-color="#00f5ff"/><stop offset=".458" stop-color="#00fff3"/><stop offset=".479" stop-color="#00ffcb"/><stop offset=".521" stop-color="#00ff2a"/><stop offset=".542" stop-color="#0bff00"/><stop offset=".583" stop-color="#54ff00"/><stop offset=".625" stop-color="#deff00"/><stop offset=".646" stop-color="#ffe200"/><stop offset=".688" stop-color="#ff7b04"/><stop offset=".729" stop-color="#ff0028"/><stop offset=".896" stop-color="#ff0227"/><stop offset="1" stop-color="#ff640b"/></linearGradient><linearGradient id="ge27" x2="0" y2="1"><stop offset="0" stop-color="#f0f"/><stop offset=".188" stop-color="#fe00ff"/><stop offset=".292" stop-color="#0003ff"/><stop offset=".438" stop-color="#00f6ff"/><stop offset=".458" stop-color="#00fff2"/><stop offset=".479" stop-color="#00ffc6"/><stop offset=".521" stop-color="#00ff27"/><stop offset=".542" stop-color="#0dff00"/><stop offset=".583" stop-color="#57ff00"/><stop offset=".625" stop-color="#e3ff00"/><stop offset=".646" stop-color="#ffdf00"/><stop offset=".688" stop-color="#ff7705"/><stop offset=".729" stop-color="#ff0028"/><stop offset=".896" stop-color="#ff0327"/><stop offset="1" stop-color="#ff650a"/></linearGradient><linearGradient id="ge28" x2="0" y2="1"><stop offset="0" stop-color="#f0f"/><stop offset=".167" stop-color="#fb00ff"/><stop offset=".271" stop-color="#0d00ff"/><stop offset=".292" stop-color="#0017ff"/><stop offset=".438" stop-color="#00f7ff"/><stop offset=".458" stop-color="#00fff0"/><stop offset=".479" stop-color="#00ffc1"/><stop offset=".521" stop-color="#00ff23"/><stop offset=".542" stop-color="#0fff00"/><stop offset=".583" stop-color="#5bff00"/><stop offset=".625" stop-color="#e7ff00"/><stop offset=".646" stop-color="#fd0"/><stop offset=".688" stop-color="#ff7306"/><stop offset=".729" stop-color="#ff0028"/><stop offset=".896" stop-color="#ff0527"/><stop offset="1" stop-color="#ff660a"/></linearGradient><linearGradient id="ge29" x2="0" y2="1"><stop offset="0" stop-color="#fa00ff"/><stop offset=".146" stop-color="#f400ff"/><stop offset=".25" stop-color="#1b00ff"/><stop offset=".271" stop-color="#000bff"/><stop offset=".438" stop-color="#00f9ff"/><stop offset=".458" stop-color="#0fe"/><stop offset=".479" stop-color="#00ffbd"/><stop offset=".521" stop-color="#00ff1f"/><stop offset=".542" stop-color="#10ff00"/><stop offset=".562" stop-color="#2dff00"/><stop offset=".604" stop-color="#9f0"/><stop offset=".625" stop-color="#e6ff00"/><stop offset=".646" stop-color="#ffde00"/><stop offset=".688" stop-color="#ff7605"/><stop offset=".708" stop-color="#ff301a"/><stop offset=".729" stop-color="#ff0726"/><stop offset=".896" stop-color="#ff0c24"/><stop offset="1" stop-color="#ff6b08"/></linearGradient><linearGradient id="ge30" x2="0" y2="1"><stop offset="0" stop-color="#b500ff"/><stop offset=".125" stop-color="#9e00ff"/><stop offset=".229" stop-color="#0300ff"/><stop offset=".354" stop-color="#007fff"/><stop offset=".417" stop-color="#00f7ff"/><stop offset=".479" stop-color="#00ff95"/><stop offset=".5" stop-color="#0f3"/><stop offset=".521" stop-color="#01ff00"/><stop offset=".583" stop-color="#69ff00"/><stop offset=".625" stop-color="#deff00"/><stop offset=".646" stop-color="#ffeb00"/><stop offset=".729" stop-color="#ff4d11"/><stop offset=".896" stop-color="#ff5210"/><stop offset="1" stop-color="#ff9500"/></linearGradient><linearGradient id="ge31" x2="0" y2="1"><stop offset="0" stop-color="#0c00ff"/><stop offset=".083" stop-color="#0008ff"/><stop offset=".312" stop-color="#05f"/><stop offset=".375" stop-color="#00fff9"/><stop offset=".417" stop-color="#00ff79"/><stop offset=".458" stop-color="#00ff30"/><stop offset=".479" stop-color="#3cff00"/><stop offset=".542" stop-color="#8f0"/><stop offset=".583" stop-color="#f7ff00"/><stop offset=".604" stop-color="#ffdc00"/><stop offset=".667" stop-color="#ff7a04"/><stop offset=".708" stop-color="#ff610c"/><stop offset=".812" stop-color="#ff7306"/><stop offset="1" stop-color="#ff5f0c"/></linearGradient><linearGradient id="ge32" x2="0" y2="1"><stop offset="0" stop-color="#000dff"/><stop offset=".292" stop-color="#0058ff"/><stop offset=".333" stop-color="#00e6ff"/><stop offset=".354" stop-color="#00ffd0"/><stop offset=".375" stop-color="#00ff86"/><stop offset=".417" stop-color="#0f3"/><stop offset=".438" stop-color="#58ff00"/><stop offset=".521" stop-color="#71ff00"/><stop offset=".542" stop-color="#89ff00"/><stop offset=".583" stop-color="#e4ff00"/><stop offset=".604" stop-color="#ffed00"/><stop offset=".646" stop-color="#ffb600"/><stop offset=".688" stop-color="#ff9c00"/><stop offset=".812" stop-color="#ffba00"/><stop offset="1" stop-color="#ff9700"/></linearGradient><linearGradient id="ge33" x2="0" y2="1"><stop offset="0" stop-color="#000eff"/><stop offset=".25" stop-color="#0052ff"/><stop offset=".271" stop-color="#0071ff"/><stop offset=".312" stop-color="#0ff"/><stop offset=".354" stop-color="#00ff6e"/><stop offset=".396" stop-color="#00ff26"/><stop offset=".417" stop-color="#5fff00"/><stop offset=".479" stop-color="#63ff00"/><stop offset=".521" stop-color="#7dff00"/><stop offset=".542" stop-color="#9bff00"/><stop offset=".583" stop-color="#fffa00"/><stop offset=".646" stop-color="#ff9200"/><stop offset=".688" stop-color="#ff7306"/><stop offset=".812" stop-color="#ff8f00"/><stop offset="1" stop-color="#ff6a09"/></linearGradient><linearGradient id="ge34" x2="0" y2="1"><stop offset="0" stop-color="#000eff"/><stop offset=".229" stop-color="#0053ff"/><stop offset=".271" stop-color="#00d1ff"/><stop offset=".292" stop-color="#00ffe5"/><stop offset=".333" stop-color="#00ff62"/><stop offset=".354" stop-color="#00ff3e"/><stop offset=".375" stop-color="#67ff00"/><stop offset=".458" stop-color="#60ff00"/><stop offset=".521" stop-color="#73ff00"/><stop offset=".562" stop-color="#a6ff00"/><stop offset=".604" stop-color="#fffd00"/><stop offset=".688" stop-color="#fb0"/><stop offset=".812" stop-color="#ffde00"/><stop offset="1" stop-color="#ffb800"/></linearGradient><linearGradient id="ge35" x2="0" y2="1"><stop offset="0" stop-color="#000eff"/><stop offset=".208" stop-color="#005cff"/><stop offset=".25" stop-color="#00eaff"/><stop offset=".271" stop-color="#00ffcb"/><stop offset=".292" stop-color="#00ff82"/><stop offset=".333" stop-color="#00ff32"/><stop offset=".354" stop-color="#6aff00"/><stop offset=".521" stop-color="#6eff00"/><stop offset=".562" stop-color="#93ff00"/><stop offset=".625" stop-color="#f9ff00"/><stop offset=".646" stop-color="#fff400"/><stop offset=".688" stop-color="#ffe700"/><stop offset=".75" stop-color="#fffb00"/><stop offset=".792" stop-color="#e3ff00"/><stop offset=".875" stop-color="#fffc00"/><stop offset="1" stop-color="#ffe700"/></linearGradient><linearGradient id="ge36" x2="0" y2="1"><stop offset="0" stop-color="#000eff"/><stop offset=".167" stop-color="#0050ff"/><stop offset=".188" stop-color="#0075ff"/><stop offset=".229" stop-color="#00fffb"/><stop offset=".271" stop-color="#00ff6d"/><stop offset=".312" stop-color="#00ff26"/><stop offset=".333" stop-color="#62ff00"/><stop offset=".521" stop-color="#6aff00"/><stop offset=".667" stop-color="#f4ff00"/><stop offset=".708" stop-color="#eaff00"/><stop offset=".792" stop-color="#a7ff00"/><stop offset=".917" stop-color="#e1ff00"/><stop offset="1" stop-color="#f1ff00"/></linearGradient><linearGradient id="ge37" x2="0" y2="1"><stop offset="0" stop-color="#000eff"/><stop offset=".146" stop-color="#0053ff"/><stop offset=".188" stop-color="#00d5ff"/><stop offset=".208" stop-color="#00ffe1"/><stop offset=".25" stop-color="#00ff60"/><stop offset=".271" stop-color="#00ff3d"/><stop offset=".292" stop-color="#52ff00"/><stop offset=".354" stop-color="#6dff00"/><stop offset=".521" stop-color="#5fff00"/><stop offset=".667" stop-color="#85ff00"/><stop offset=".812" stop-color="#27ff00"/><stop offset=".917" stop-color="#61ff00"/><stop offset="1" stop-color="#71ff00"/></linearGradient><linearGradient id="ge38" x2="0" y2="1"><stop offset="0" stop-color="#000eff"/><stop offset=".125" stop-color="#004eff"/><stop offset=".146" stop-color="#006dff"/><stop offset=".188" stop-color="#00fbff"/><stop offset=".229" stop-color="#00ff71"/><stop offset=".271" stop-color="#00ff2a"/><stop offset=".292" stop-color="#54ff00"/><stop offset=".354" stop-color="#6fff00"/><stop offset=".542" stop-color="#56ff00"/><stop offset=".667" stop-color="#3cff00"/><stop offset=".75" stop-color="#00ff08"/><stop offset=".812" stop-color="#00ff2e"/><stop offset=".896" stop-color="#01ff00"/><stop offset="1" stop-color="#1cff00"/></linearGradient><linearGradient id="ge39" x2="0" y2="1"><stop offset="0" stop-color="#000eff"/><stop offset=".125" stop-color="#0054ff"/><stop offset=".167" stop-color="#00daff"/><stop offset=".188" stop-color="#00ffdc"/><stop offset=".208" stop-color="#00ff92"/><stop offset=".25" stop-color="#00ff3a"/><stop offset=".271" stop-color="#4cff00"/><stop offset=".354" stop-color="#70ff00"/><stop offset=".417" stop-color="#6bff00"/><stop offset=".667" stop-color="#3cff00"/><stop offset=".729" stop-color="#0bff00"/><stop offset=".792" stop-color="#00ff2f"/><stop offset=".896" stop-color="#0f0"/><stop offset="1" stop-color="#1cff00"/></linearGradient><linearGradient id="ge40" x2="0" y2="1"><stop offset="0" stop-color="#000eff"/><stop offset=".104" stop-color="#004eff"/><stop offset=".125" stop-color="#0073ff"/><stop offset=".167" stop-color="#00fffe"/><stop offset=".208" stop-color="#00ff6e"/><stop offset=".25" stop-color="#00ff27"/><stop offset=".271" stop-color="#4eff00"/><stop offset=".375" stop-color="#73ff00"/><stop offset=".667" stop-color="#3cff00"/><stop offset=".729" stop-color="#0bff00"/><stop offset=".812" stop-color="#00ff30"/><stop offset=".896" stop-color="#0f0"/><stop offset="1" stop-color="#1cff00"/></linearGradient><linearGradient id="ge41" x2="0" y2="1"><stop offset="0" stop-color="#000eff"/><stop offset=".104" stop-color="#0054ff"/><stop offset=".146" stop-color="#00e0ff"/><stop offset=".167" stop-color="#00ffd6"/><stop offset=".188" stop-color="#00ff8c"/><stop offset=".25" stop-color="#00ff07"/><stop offset=".271" stop-color="#4fff00"/><stop offset=".354" stop-color="#74ff00"/><stop offset=".417" stop-color="#6fff00"/><stop offset=".667" stop-color="#3cff00"/><stop offset=".729" stop-color="#0aff00"/><stop offset=".812" stop-color="#00ff31"/><stop offset=".896" stop-color="#0f0"/><stop offset="1" stop-color="#1cff00"/></linearGradient><linearGradient id="ge42" x2="0" y2="1"><stop offset="0" stop-color="#000eff"/><stop offset=".083" stop-color="#004dff"/><stop offset=".104" stop-color="#0078ff"/><stop offset=".146" stop-color="#00fff8"/><stop offset=".188" stop-color="#00ff6b"/><stop offset=".229" stop-color="#00ff24"/><stop offset=".25" stop-color="#15ff00"/><stop offset=".271" stop-color="#51ff00"/><stop offset=".354" stop-color="#7f0"/><stop offset=".667" stop-color="#3cff00"/><stop offset=".75" stop-color="#00ff0a"/><stop offset=".812" stop-color="#00ff32"/><stop offset=".896" stop-color="#0f0"/><stop offset="1" stop-color="#1cff00"/></linearGradient><linearGradient id="ge43" x2="0" y2="1"><stop offset="0" stop-color="#000eff"/><stop offset=".083" stop-color="#0054ff"/><stop offset=".125" stop-color="#00dfff"/><stop offset=".146" stop-color="#00ffd7"/><stop offset=".188" stop-color="#00ff5b"/><stop offset=".229" stop-color="#0f1"/><stop offset=".25" stop-color="#23ff00"/><stop offset=".271" stop-color="#5f0"/><stop offset=".375" stop-color="#7cff00"/><stop offset=".667" stop-color="#3dff00"/><stop offset=".75" stop-color="#00ff0b"/><stop offset=".792" stop-color="#0f3"/><stop offset=".812" stop-color="#0f3"/><stop offset=".896" stop-color="#0f0"/><stop offset="1" stop-color="#1cff00"/></linearGradient><linearGradient id="ge44" x2="0" y2="1"><stop offset="0" stop-color="#000eff"/><stop offset=".062" stop-color="#004aff"/><stop offset=".083" stop-color="#0073ff"/><stop offset=".125" stop-color="#00fffd"/><stop offset=".167" stop-color="#00ff6e"/><stop offset=".229" stop-color="#03ff00"/><stop offset=".271" stop-color="#5bff00"/><stop offset=".375" stop-color="#84ff00"/><stop offset=".562" stop-color="#65ff00"/><stop offset=".667" stop-color="#3eff00"/><stop offset=".75" stop-color="#00ff0c"/><stop offset=".792" stop-color="#00ff35"/><stop offset=".812" stop-color="#00ff35"/><stop offset=".896" stop-color="#00ff01"/><stop offset="1" stop-color="#1cff00"/></linearGradient><linearGradient id="ge45" x2="0" y2="1"><stop offset="0" stop-color="#000eff"/><stop offset=".062" stop-color="#0051ff"/><stop offset=".104" stop-color="#00d8ff"/><stop offset=".125" stop-color="#00ffde"/><stop offset=".167" stop-color="#00ff5f"/><stop offset=".208" stop-color="#00ff17"/><stop offset=".229" stop-color="#15ff00"/><stop offset=".271" stop-color="#6cff00"/><stop offset=".375" stop-color="#9cff00"/><stop offset=".562" stop-color="#7bff00"/><stop offset=".667" stop-color="#40ff00"/><stop offset=".729" stop-color="#06ff00"/><stop offset=".75" stop-color="#00ff10"/><stop offset=".792" stop-color="#00ff3b"/><stop offset=".812" stop-color="#00ff3b"/><stop offset=".896" stop-color="#00ff02"/><stop offset="1" stop-color="#1cff00"/></linearGradient><linearGradient id="ge46" x2="0" y2="1"><stop offset="0" stop-color="#000eff"/><stop offset=".062" stop-color="#0058ff"/><stop offset=".104" stop-color="#00e6ff"/><stop offset=".125" stop-color="#00ffcf"/><stop offset=".146" stop-color="#00ff86"/><stop offset=".167" stop-color="#00ff58"/><stop offset=".208" stop-color="#00ff0d"/><stop offset=".229" stop-color="#23ff00"/><stop offset=".271" stop-color="#81ff00"/><stop offset=".375" stop-color="#bcff00"/><stop offset=".542" stop-color="#a3ff00"/><stop offset=".729" stop-color="#04ff00"/><stop offset=".792" stop-color="#00ff3e"/><stop offset=".896" stop-color="#00ff03"/><stop offset="1" stop-color="#1cff00"/></linearGradient><linearGradient id="ge47" x2="0" y2="1"><stop offset="0" stop-color="#000eff"/><stop offset=".062" stop-color="#006fff"/><stop offset=".104" stop-color="#00fdff"/><stop offset=".146" stop-color="#00ff6f"/><stop offset=".208" stop-color="#02ff00"/><stop offset=".271" stop-color="#8dff00"/><stop offset=".375" stop-color="#d1ff00"/><stop offset=".542" stop-color="#b8ff00"/><stop offset=".729" stop-color="#04ff00"/><stop offset=".792" stop-color="#00ff3e"/><stop offset=".896" stop-color="#00ff03"/><stop offset="1" stop-color="#1cff00"/></linearGradient>
</defs>
<line x1="132.9" y1="35" x2="132.9" y2="168" stroke="#ff00ff" stroke-width="1.45" stroke-dasharray="1.45 3.45"/>
<line x1="344.5" y1="37.8" x2="344.5" y2="168" stroke="#22aa22" stroke-width="1.2" stroke-dasharray="8 4.6"/>
<line x1="372.6" y1="37.8" x2="372.6" y2="168" stroke="#22aa22" stroke-width="1.2" stroke-dasharray="8 4.6"/>
<line x1="351.3" y1="37.8" x2="351.3" y2="168" stroke="#ff2020" stroke-width="1.2" stroke-dasharray="8 4.6"/>
<line x1="365.3" y1="37.8" x2="365.3" y2="168" stroke="#ff2020" stroke-width="1.2" stroke-dasharray="8 4.6"/>
<line x1="357.6" y1="35" x2="357.6" y2="168" stroke="#ff0000" stroke-width="0.9" stroke-dasharray="3.2 1.4"/>
<line x1="342.8" y1="37.8" x2="342.8" y2="168" stroke="#999" stroke-width="2.6" stroke-dasharray="8 4.6"/>
<line x1="371.4" y1="37.8" x2="371.4" y2="168" stroke="#999" stroke-width="2.6" stroke-dasharray="8 4.6"/>
<path d="M71.9 60.9l.9 2.2 .9 1.3 .9-2.9 .9-2.8 .9-2.2 .9 .6 .9-.2 .9-.7 .9-.2 .9 1.3 .9 2.3 .9 5.5 .9 6.7 .9 4 .9 6.8 .9 4.8 .9-4.1 .9-7 .9-1.2 .9 5.6 .9 5.5 .9 0 .9-6.2 .9-.3 .9 4.1 .9 2.9 .9 3.2 .9 5.9 .9-1.5 .9 .2 .9-3 .9 2.8 .9 .9 .9 2.1 .9 .5 .9-1.8 .9-1.9 .9-4.1 .9 2.8 .9 2.9 .9 2.5 .9 1.2 .9 .1 .9-3.8 .9-3.4 .9-4.3 .9 4.9 .9 1.3 .9 3.5 .9-1.1 .9-2.9 .9-5.4 .9-2.5 .9-3.3 .9-.8 .9-1.7 .9-.7 .9-2.7 .9-.8 .9 1 .9 3 .9-.1 .9 .8 .9-1.4 .9 .1 .9-.8 .9 .9 .9 2.8 .9 2.5 .9-1.3 .9-3.2 .9-2 .9-1.2 .9-1.4 .9-2.4 .9-2 .9 3.4 .9 4.2 .9 6 .9 8.6 .9 4.2 .9-2.1 .9-1.7 .9-.8 .9-5 .9-6.6 .9-4.1 .9-4.2 .9-3.7 .9-6.2 .9-12.6 .9-11.6 .9 9.2 .9 8.2 .9 .4 .9 17.5 .9 19.5 .9-8.2 .9-10.3 .9-4.1 .9-1.4 .9-.8 .9 3.4 .9 6.6 .9 5.4 .9 3.4 .9 3.5 .9 2.6 .9 3.1 .9 1.5 .9-1.5 .9-4.2 .9-2.2 .9 .3 .9 1.5 .9-2.8 .9-3.7 .9-4.2 .9-1.6 .9-3.7 .9-4.6 .9-4.4 .9-4.3 .9-3 .9-6.4 .9-.9 .9 9.1 .9 11.8 .9-3.6 .9-7.8 .9-3.5 .9 3.1 .9 3.4 .9 3 .9 2.3 .9 1.4 .9-4.5 .9-6.4 .9-4.3 .9 6.7 .9 3.5 .9-7.1 .9-2.1 .9 8.5 .9 2.5 .9 1.6 .9 1.2 .9 .8 .9-1.9 .9-1.2 .9 1.5 .9 1.8 .9 4.1 .9 .9 .9-3.2 .9-6.1 .9-1.4 .9-1.5 .9 .3 .9 1.4 .9 1 .9 4.4 .9-.4 .9 .6 .9-4.1 .9-2.1 .9 .1 .9-.4 .9 3 .9-1.3 .9-1.1 .9-1.1 .9 1.5 .9-1 .9-1.8 .9-.3 .9 2 .9 .8 .9-3.6 .9-4.5 .9-3.4 .9 17.7 .9-.2 .9-.9 .9 0 .9-1.6 .9-1.2 .9-2.9 .9-.6 .9-.4 .9 1.2 .9 2.5 .9 2.2 .9 1.1 .9-.4 .9-1.8 .9 .3 .9 .8 .9 1.3 .9 1.3 .9-1.4 .9-.9 .9 .9 .9 1.4 .9 .8 .9 .7 .9-.6 .9 .1 .9-.9 .9-1.5 .9-.2 .9 2.1 .9 2.5 .9 2.8 .9 0 .9 1.6 .9-.1 .9-1.6 .9-.4 .9-2 .9 .1 .9-1.8 .9 .3 .9 .3 .9 1 .9-1.7 .9-1 .9-2.4 .9 1.3 .9 1.1 .9 1.9 .9 .9 .9 .3 .9 2 .9-.2 .9-.1 .9-.8 .9 1.6 .9 .5 .9-.5 .9-2.1 .9-1.8 .9-.7 .9-1 .9-.9 .9-1.7 .9-.9 .9 .9 .9 .8 .9 .3 .9-1.7 .9-.7 .9-.1 .9-.6 .9 .4 .9 .8 .9 .9 .9 .1 .9 0 .9 .7 .9 1.1 .9-1.3 .9 .3 .9-1.5 .9 1.1 .9-.1 .9 .3 .9-.5 .9-1.2 .9-2.4 .9-1.2 .9-.2 .9 .7 .9 1 .9 .1 .9 1.2 .9 1.6 .9 .1 .9-1.3 .9-.9 .9 8.9 .9 3.6 .9-14.5 .9-8.9 .9 7.3 .9 .2 .9-7.7 .9-1.9 .9 .6 .9 1.2 .9 3.3 .9-2.5 .9-1.6 .9-.3 .9 1.6 .9 5.6 .9 3.2 .9-13.7 .9-3.3 .9 .9 .9 5.6 .9-.3 .9-5.1 .9-2.1 .9 1.8 .9 3.1 .9-.2 .9-.8 .9 4.5 .9 6 .9 5.2 .9 2.6 .9 3.2 .9 5.8 .9 8.5 .9 4.5 .9-.8 .9-7.3 .9-12.9 .9-9.6 .9-8.6 .9-2.5 .9-2.5 .9-1.3 .9 .4 .9 .5 .9 .7 .9 .1 .9 .1 .9-2.4 .9-2 .9-1.4 .9-1 .9-.8 .9-.6 .9-.1 .9-.1 .9-.1 .9 0 .9 0 .9 .2 .9 .5 .9 .6 .9 .8 .9 1 .9 .5 .9 .3 .9 .3 .9 .4 .9 .5 .9 .4 .9 .6 .9 .6 .9 .4 .9 .3 .9 .5 .9 .3 .9 .6 .9 .3 .9 .5 .9 .4 .9 .4 .9 .7 .9 .5 .9 .4 .9 .2 .9 .6 .9 .5 .9 .3 .9 .1 .9 .2 .9 .4 .9 .6 .9 .7 .9 .4 .9 .3 .9 0 .9-.2 .9-.2 .9-.1 .9-.2 .9-.3 .9-.3 .9 .4 .9 .6 .9 .5 .9 .3 .9 .3 .9 .2 .9 .4 .9 .1 .9 .2 .9-.1 .9 .3 .9 0 .9 .1 .9 .1 .9 .2 .9 0 .9 0 .9 0 .9 0 .9 .2 .9-.1 .9 .2 .9-.2 .9 .2 .9 0 .9 .2 .9 .2 .9 .2 .9 .5 .9-.1 .9 0 .9-.3 .9 .2 .9 .1 .9 .1 .9 .1 .9 .1 .9 .2 .9 .1 .9 .1 .9 .3 .9 .3 .9 .4 .9 0 .9 0 .9 .2 .9 .3 .9 .2 .9 .2 .9 .1 .9 .3 .9 .3 .9 .3 .9 .2 .9 .1 .9-.2 .9 0 .9 0 .9 .1 .9 .1 .9 .2 .9 .2 .9-.3 .9 .1 .9-.2 .9 .5 .9 .1 .9-.1 .9-.1 .9-.2 .9 .3 .9-.1 .9 .2 .9 .1 .9 .3 .9 .2 .9 0 .9 .3 .9 .4 .9 .3 .9 .1 .9 .1 .9 .3 .9 .3 .9 .2 .9 .3 .9 .1 .9 .2 .9-.1 .9 .2 .9 .2 .9 .3 .9 .2 .9 .5 .9 .2 .9 .1 .9 .1 .9 0 .9-.1 .9-.1 .9 0 .9 .3 .9-.1 .9 .1 .9-.3 .9 .2 .9 0 .9 .2 .9-.2 .9-.1 .9 0 .9 0 .9 0 .9-.3 .9-.3 .9 0 .9 .1 .9 0 .9-.2 .9-.4" fill="none" stroke="#666" stroke-width="0.9"/>
<path d="M71.9 86.4l.9 1.9 .9 6.4 .9 6.4 .9 .3 .9 7.7 .9 .4 .9-6.3 .9-3.9 .9-.3 .9-3 .9 4.5 .9 7.6 .9 10 .9 7 .9 .3 .9 1.8 .9-1.8 .9-7.4 .9-2.9 .9-2.1 .9-4.8 .9 3.4 .9 3.3 .9-3.9 .9-.4 .9 7.1 .9-6.3 .9-.1 .9 3 .9 1.5 .9-4.8 .9-.8 .9-3.5 .9-2.2 .9-2.5 .9 .4 .9 5.1 .9-1.3 .9 1.6 .9-1.8 .9-4.1 .9-4.7 .9 2.3 .9-2.7 .9-4.2 .9 4.8 .9-.3 .9-2 .9 2.4 .9 4.6 .9-6.3 .9 2 .9 2.7 .9-3.2 .9 3.5 .9 4.2 .9-3.4 .9 3 .9 2.4 .9-4.1 .9 .2 .9 2.7 .9-1.5 .9-3.3 .9 4.6 .9 1 .9 1.1 .9-.7 .9 5.1 .9-.7 .9-1.6 .9-3 .9 .9 .9-.7 .9-.4 .9 .5 .9 3.8 .9-6.7 .9-1.1 .9-5.9 .9 1.4 .9 2.1 .9 13.3 .9-.5 .9 10.4 .9 .4 .9-9.6 .9-3.2 .9 2 .9-.6 .9-2 .9 6.9 .9-1.4 .9 3.5 .9 .4 .9 11.6 .9-1.4 .9-1.3 .9-3.7 .9-3.1 .9-5.4 .9 1.7 .9-3.2 .9-.5 .9 3.6 .9-7.4 .9-1.9 .9 1.5 .9 4.1 .9-2.6 .9 1 .9-2.9 .9 3.3 .9-7.3 .9 2.7 .9-3.7 .9-.5 .9-5.8 .9-1.7 .9-6.1 .9 3.9 .9-1.8 .9-3.2 .9 3.4 .9 2.5 .9-3.6 .9 1.2 .9-3.1 .9-.9 .9-5 .9 .8 .9 4 .9 3 .9-1.5 .9 1.7 .9-1.1 .9-4.8 .9 4.2 .9-1 .9 2.2 .9 6.2 .9 3 .9-1.9 .9 5.9 .9 2.2 .9 2.1 .9-.7 .9 5 .9-5.8 .9-4 .9-4 .9 .4 .9-3.2 .9 .6 .9 3.3 .9 2.2 .9-1.2 .9-3.5 .9-.4 .9-.4 .9-1.6 .9-.2 .9-.1 .9-.1 .9 .7 .9-1.7 .9 3.3 .9 2.6 .9 1.2 .9-1.6 .9 4.3 .9-.8 .9-1.5 .9 1.9 .9 1.5 .9 .7 .9 1.3 .9 2 .9-.4 .9 .4 .9-2.1 .9 .4 .9 2.6 .9 .4 .9 1.1 .9 .6 .9 .9 .9-.5 .9 1.4 .9 .8 .9 3.8 .9-2.6 .9 0 .9 0 .9 1.2 .9-4.2 .9 1 .9 .6 .9 1.2 .9 .8 .9 .5 .9 2.2 .9 2 .9-.9 .9-2.2 .9 1.4 .9-1.3 .9 .4 .9 .1 .9 1 .9 0 .9 1.7 .9-2.4 .9-.7 .9 .7 .9 1 .9 .9 .9 1.4 .9 2.7 .9 0 .9 .5 .9-.3 .9-1.1 .9 0 .9-.6 .9-2.1 .9 1.2 .9 1.6 .9-2.1 .9 1.6 .9 2.7 .9-.7 .9-2.2 .9 .7 .9-2.3 .9-1.9 .9-1.5 .9 .5 .9 .7 .9 .5 .9 1.6 .9 1 .9 .6 .9-.1 .9 1.8 .9 1 .9-.1 .9 2.8 .9 .8 .9 .6 .9-2.6 .9-.8 .9-.6 .9-1 .9-1.1 .9 2.6 .9-.8 .9-1.5 .9 2 .9-.2 .9-2 .9 2.1 .9-1.1 .9-2.2 .9 .2 .9-1 .9-.6 .9-.1 .9-.6 .9-1.4 .9-2 .9 .4 .9 .3 .9-3.9 .9-2.8 .9-1.4 .9-.9 .9 1.6 .9 2.6 .9 1.6 .9 4 .9-1.3 .9-43.2 .9 5.4 .9 31.2 .9 3.7 .9 1.7 .9 6.9 .9 3.5 .9 3.3 .9 .1 .9 8.3 .9-.9 .9 1.7 .9 1.6 .9 1.2 .9-4.1 .9 3.2 .9 2.6 .9 1.5 .9 3.9 .9 2.2 .9-.8 .9 1.6 .9-1.7 .9 .6 .9-1.3 .9-5.2 .9-4.7 .9-.7 .9-3.4 .9-6.7 .9-5.3 .9-5.2 .9-5.6 .9-5.5 .9-5.5 .9-5.3 .9-6.2 .9-7 .9-5.2 .9-5.5 .9-5.2 .9-4 .9-3.6 .9-2.2 .9-3.3 .9-2.5 .9 .4 .9 0 .9-.2 .9-1.2 .9-1.4 .9 .7 .9 .5 .9-2.5 .9 .9 .9 1.1 .9-1.4 .9-.3 .9 1.5 .9 1.5 .9-1.4 .9 1 .9 .8 .9-.5 .9-1.1 .9 1.5 .9 1.1 .9-.1 .9 1.3 .9 1.3 .9 1 .9 .9 .9 .6 .9-.1 .9 .5 .9 .5 .9 .1 .9 .4 .9 .1 .9-.6 .9-.3 .9-.4 .9 .4 .9 .5 .9 1.3 .9 1 .9 .7 .9 .2 .9 .5 .9-.3 .9-.1 .9-.1 .9 .6 .9-.4 .9 0 .9-.2 .9-.3 .9-.7 .9 .5 .9-.7 .9-.1 .9-.1 .9 .2 .9-.3 .9 .3 .9-.1 .9 .8 .9 .7 .9 .1 .9 .4 .9 .4 .9-.5 .9 .2 .9 .2 .9 .2 .9-.4 .9-.1 .9-.5 .9 0 .9 .3 .9 .3 .9 .7 .9 .3 .9 .1 .9 0 .9 .2 .9-.4 .9 .3 .9 .6 .9 .1 .9 0 .9 .4 .9-.1 .9-.1 .9 0 .9 .4 .9 .4 .9 .8 .9 0 .9-.1 .9 .6 .9 .2 .9-.1 .9 .5 .9 .5 .9-.2 .9 .2 .9 .2 .9 .1 .9 .5 .9 .3 .9 0 .9 .4 .9 .4 .9 .3 .9 0 .9 .3 .9-.3 .9-.4 .9 0 .9 .4 .9 .3 .9 .1 .9 .7 .9-.1 .9 0 .9 0 .9 .7 .9-.2 .9-.1 .9 .1 .9 0 .9 .2 .9 .4 .9 .4 .9 .2 .9 .1 .9 .1 .9-.1 .9 .1 .9 .1 .9 .5 .9 0 .9 .3 .9 .5 .9 .6 .9 .2 .9-.1 .9 .3 .9 .2 .9-.4 .9-.2 .9 .3 .9 .2 .9-.2 .9 .4 .9 .3 .9 .2 .9-.1 .9-.1 .9-.3 .9 .2 .9 .2 .9 .4 .9 .2 .9 .2 .9 0 .9-.2 .9-.3 .9 .1 .9 .2 .9 .1 .9 .2 .9 .3 .9 .1 .9 .2 .9 0 .9 0 .9-.1 .9 0 .9-.1" fill="none" stroke="#2222ff" stroke-width="0.9"/>
<line x1="71.5" y1="101.8" x2="525.5" y2="101.8" stroke="#5555ff" stroke-width="0.9" stroke-dasharray="5 2.6"/>
<line x1="71.5" y1="107.7" x2="525.5" y2="107.7" stroke="#000" stroke-width="1.8" stroke-dasharray="4.7 3"/>
<path d="M71.9 97.2l1 1 1 .8 1 .6 1 1.4 1 1.2 1 1 1 .8 1 .5 1 .5 1 .5 1 .5 1 .4 1 .3 1 .1 1 0 1-.2 1-.3 1-.4 1-.5 1-.3 1-.3 1-.3 1-.1 1-.1 1 0 1 0 1-.1 1-.1 1-.1 1-.1 1-.2 1-.2 1-.2 1-.2 1-.2 1-.3 1-.2 1-.3 1-.3 1-.3 1-.3 1-.3 1-.2 1-.1 1 0 1 0 1 .1 1 .2 1 .2 1 .3 1 .2 1 .1 1 .2 1 .1 1 .1 1 .1 1 .1 1 .1 1 .1 1 0 1 .1 1 0 1 0 1 0 1 .1 1 .2 1 .2 1 .3 1 .5 1 .6 1 1 1 1.1 1 1.3 1 1.4 1 1.5 1 1.5 1 1.2 1 1.1 1 .9 1 .7 1 .5 1 .4 1 .3 1 .2 1 .1 1 0 1-.1 1-.3 1-.3 1-.5 1-.5 1-.7 1-.7 1-.9 1-.9 1-.9 1-1 1-1.1 1-1.1 1-1.2 1-1.3 1-1.3 1-1.4 1-1.4 1-1.3 1-1.3 1-1.2 1-1.2 1-1 1-1 1-.9 1-.9 1-.9 1-.6 1-.4 1-.3 1 0 1 .2 1 .5 1 .8 1 1 1 1.1 1 1.3 1 1.4 1 1.4 1 1.4 1 1.3 1 1.3 1 1.2 1 1 1 .6 1 .4 1 .1 1-.2 1-.5 1-.7 1-.9 1-.8 1-.9 1-.8 1-.8 1-.9 1-.8 1-.8 1-.7 1-.5 1-.3 1 0 1 .1 1 .5 1 .7 1 .9 1 1.1 1 1 1 1.2 1 1.2 1 1.2 1 1.1 1 1.1 1 .9 1 .9 1 .7 1 .7 1 .6 1 .5 1 .5 1 .5 1 .3 1 .4 1 .2 1 .3 1 .4 1 .4 1 .4 1 .5 1 .6 1 .6 1 .6 1 .6 1 .6 1 .5 1 .6 1 .5 1 .5 1 .5 1 .5 1 .4 1 .4 1 .3 1 .3 1 .3 1 .2 1 .2 1 .2 1 .1 1 .2 1 .1 1 .1 1 0 1 0 1 0 1 0 1 0 1 0 1-.1 1 0 1-.1 1-.2 1-.1 1-.1 1-.2 1 0 1 0 1 .1 1 .1 1 .2 1 .3 1 .3 1 .3 1 .4 1 .3 1 .4 1 .3 1 .3 1 .1 1 .1 1 0 1-.2 1-.2 1-.3 1-.5 1-.5 1-.7 1-.6 1-.8 1-.7 1-.8 1-.7 1-.8 1-.8 1-.7 1-.8 1-.8 1-.7 1-.8 1-.7 1-.4 1-.2 1 .1 1 .4 1 .6 1 .9 1 1.1 1 1.3 1 1.4 1 1.4 1 1.6 1 1.8 1 2 1 2.2 1 2.3 1 2.6 1 2.6 1 2.7 1 2.5 1 2.3 1 2.1 1 1.8 1 1.3 1 .8 1 .6 1 .1 1-.2 1-.9 1-1.2 1-1.5 1-1.9 1-2.8 1-3.7 1-4.4 1-5.1 1-5.5 1-6.1 1-6.4 1-6.4 1-6.1 1-6.1 1-5.9 1-5.6 1-5.2 1-4.9 1-4.6 1-3.8 1-3 1-2.3 1-1.9 1-1.4 1-.9 1-.4 1-.3 1-.2 1-.1 1 0 1 0 1 .1 1 .2 1 .2 1 .3 1 .3 1 .5 1 .5 1 .5 1 .5 1 .5 1 .4 1 .5 1 .4 1 .5 1 .4 1 .4 1 .4 1 .4 1 .4 1 .5 1 .4 1 .4 1 .5 1 .4 1 .5 1 .5 1 .4 1 .4 1 .2 1 .2 1 .1 1 .1 1-.1 1-.2 1-.1 1-.1 1-.2 1-.1 1-.2 1 0 1-.1 1 0 1 0 1 .1 1 .1 1 .2 1 .1 1 .2 1 .1 1 .2 1 .1 1 .2 1 .2 1 .1 1 .2 1 .2 1 .1 1 .2 1 .2 1 .2 1 .2 1 .2 1 .2 1 .2 1 .2 1 .2 1 .2 1 .2 1 .2 1 .2 1 .2 1 .3 1 .2 1 .2 1 .2 1 .2 1 .2 1 .3 1 .2 1 .2 1 .2 1 .2 1 .3 1 .2 1 .2 1 .2 1 .2 1 .2 1 .2 1 .2 1 .2 1 .2 1 .1 1 .2 1 .1 1 .2 1 .2 1 .1 1 .2 1 .1 1 .2 1 .2 1 .1 1 .2 1 .2 1 .1 1 .2 1 .2 1 .2 1 .2 1 .2 1 .2 1 .2 1 .2 1 .2 1 .2 1 .2 1 .2 1 .2 1 .2 1 .2 1 .2 1 .1 1 .2 1 .1 1 .2 1 .1 1 .1 1 .1 1 .2 1 .1 1 .1 1 .1 1 .1 1 .1 1 .1 1 .1 1 .1 1 0 1 0 1 .1 1 0 1 0 1 0 1 .1 1 0 1 0 1 0 1 0" fill="none" stroke="#0000ff" stroke-width="3.3" stroke-linejoin="round"/>
<line x1="77" y1="37.6" x2="95" y2="37.6" stroke="#ff2020" stroke-width="1.3" stroke-dasharray="4 1.5"/>
<text x="97" y="40.8" font-size="8.9" fill="#ff2020">t&#160;&#160;cs</text>
<line x1="77" y1="45.6" x2="95" y2="45.6" stroke="#008000" stroke-width="1.3" stroke-dasharray="4 1.5"/>
<text x="97" y="48.8" font-size="8.9" fill="#008000">t&#160;&#160;HT</text>
<text x="97" y="56.6" font-size="8.9" fill="#00ee00">t&#160;&#160;MVAB</text>
<line x1="77" y1="61.3" x2="95" y2="61.3" stroke="#999" stroke-width="2.6" stroke-dasharray="6 1.5"/>
<text x="97" y="64.5" font-size="8.9" fill="#999">t&#160;&#160;BLminmax</text>
<line x1="77" y1="69.2" x2="95" y2="69.2" stroke="#5555ff" stroke-width="0.9" stroke-dasharray="5 2.6"/>
<text x="97" y="72.4" font-size="8.9" fill="#0000ff">BL, 50% of BL</text>
<line x1="77" y1="77" x2="95" y2="77" stroke="#2222ff" stroke-width="0.9"/>
<text x="97" y="80.2" font-size="8.9" fill="#0000ff">BL&#160;&#160;brst</text>
<line x1="77" y1="84.6" x2="95" y2="84.6" stroke="#666" stroke-width="0.9"/>
<text x="97" y="87.8" font-size="8.9" fill="#666">|B|</text>
<path d="M90.5 33.5v3.7M90.5 168.5v-3.7M123.5 33.5v3.7M123.5 168.5v-3.7M155.5 33.5v10.5M155.5 168.5v-10.5M188.5 33.5v3.7M188.5 168.5v-3.7M220.5 33.5v3.7M220.5 168.5v-3.7M253.5 33.5v10.5M253.5 168.5v-10.5M285.5 33.5v3.7M285.5 168.5v-3.7M318.5 33.5v3.7M318.5 168.5v-3.7M350.5 33.5v10.5M350.5 168.5v-10.5M382.5 33.5v3.7M382.5 168.5v-3.7M415.5 33.5v3.7M415.5 168.5v-3.7M447.5 33.5v10.5M447.5 168.5v-10.5M480.5 33.5v3.7M480.5 168.5v-3.7M512.5 33.5v3.7M512.5 168.5v-3.7" stroke="#000" stroke-width="1.15" fill="none"/>
<path d="M71.5 161.5h2.5M525.5 161.5h-2.5M71.5 153.5h2.5M525.5 153.5h-2.5M71.5 146.5h2.5M525.5 146.5h-2.5M71.5 138.5h5.8M525.5 138.5h-5.8M71.5 130.5h2.5M525.5 130.5h-2.5M71.5 123.5h2.5M525.5 123.5h-2.5M71.5 115.5h2.5M525.5 115.5h-2.5M71.5 107.5h5.8M525.5 107.5h-5.8M71.5 100.5h2.5M525.5 100.5h-2.5M71.5 92.5h2.5M525.5 92.5h-2.5M71.5 84.5h2.5M525.5 84.5h-2.5M71.5 77.5h5.8M525.5 77.5h-5.8M71.5 69.5h2.5M525.5 69.5h-2.5M71.5 61.5h2.5M525.5 61.5h-2.5M71.5 54.5h2.5M525.5 54.5h-2.5M71.5 46.5h5.8M525.5 46.5h-5.8M71.5 38.5h2.5M525.5 38.5h-2.5" stroke="#000" stroke-width="1.15" fill="none"/>
<rect x="71.5" y="33.5" width="454" height="135" fill="none" stroke="#000" stroke-width="1.3"/>
<text x="68" y="50.4" font-size="11" text-anchor="end">40</text>
<text x="68" y="81" font-size="11" text-anchor="end">20</text>
<text x="68" y="111.7" font-size="11" text-anchor="end">0</text>
<text x="68" y="142.4" font-size="11" text-anchor="end">-20</text>
<text x="47.5" y="101" font-size="11.5" text-anchor="middle" transform="rotate(-90 47.5 101)">B<tspan font-size="8" dy="3">L</tspan><tspan dy="-3">,|B| [nT]</tspan></text>
<line x1="132.9" y1="178" x2="132.9" y2="244" stroke="#ff00ff" stroke-width="1.45" stroke-dasharray="1.45 3.45"/>
<line x1="344.5" y1="178.2" x2="344.5" y2="244" stroke="#22aa22" stroke-width="1.2" stroke-dasharray="7 5.4"/>
<line x1="372.6" y1="178.2" x2="372.6" y2="244" stroke="#22aa22" stroke-width="1.2" stroke-dasharray="7 5.4"/>
<line x1="351.3" y1="178.2" x2="351.3" y2="244" stroke="#ff2020" stroke-width="1.2" stroke-dasharray="7 5.4"/>
<line x1="365.3" y1="178.2" x2="365.3" y2="244" stroke="#ff2020" stroke-width="1.2" stroke-dasharray="7 5.4"/>
<line x1="359.4" y1="178" x2="359.4" y2="244" stroke="#ff00ff" stroke-width="1.45" stroke-dasharray="1.45 3.45"/>
<line x1="370.9" y1="178" x2="370.9" y2="244" stroke="#0000ff" stroke-width="1.3" stroke-dasharray="1.4 3.5"/>
<line x1="344.5" y1="178.2" x2="344.5" y2="244" stroke="#10a010" stroke-width="2.3" stroke-dasharray="7 5.4"/>
<path d="M71.9 199.7l.9 1.5 .9 1.7 .9 2.1 .9 4.8 .9 3 .9-.9 .9-1.6 .9-.1 .9 3 .9 3.1 .9 2.2 .9 1.6 .9-1.8 .9-3.2 .9-2.9 .9-2.3 .9-.7 .9-1.3 .9 4.7 .9 2.3 .9 5.1 .9 4.2 .9 5.1 .9 .4 .9-1.7 .9-2.1 .9-1.5 .9-1.1 .9 .1 .9-.9 .9-3.4 .9-1.3 .9-2 .9 1.2 .9-.5 .9 .6 .9 .4 .9 .2 .9 .7 .9-.2 .9 1.3 .9-1.7 .9-.8 .9-4.2 .9-.8 .9-.7 .9 1.9 .9 1.3 .9-1.4 .9-3.3 .9-1.5 .9-3 .9-2 .9-2.8 .9-1.7 .9 1.1 .9 1.8 .9 2.2 .9 2.6 .9 2 .9 2.3 .9 .1 .9 1.8 .9 2.9 .9 2.6 .9 2 .9 .4 .9 .4 .9-2.4 .9-1 .9-.2 .9 2 .9 1.4 .9 3.7 .9 1.6 .9 4.3 .9 .7 .9-2.2 .9-2.5 .9-2.7 .9-4.7 .9-6.4 .9-5.2 .9-5.3 .9-1.3 .9-3.7 .9-3.8 .9 0 .9 3.6 .9-.2 .9-5.7 .9-6.4 .9 3 .9 3.3 .9 6.3 .9 3.2 .9-1.6 .9-2.1 .9-1.4 .9-3.3 .9-1.6 .9 1.7 .9 4.4 .9 4 .9 2.7 .9 2.9 .9 .8 .9 1.5 .9 2.2 .9-1.1 .9 .4 .9-2.2 .9 .4 .9 1.1 .9-1.1 .9-.9 .9-2.1 .9 1.6 .9 1.5 .9-.9 .9 1.3 .9-.7 .9 .9 .9 .4 .9 2 .9 2.1 .9 .8 .9 1.3 .9 2.3 .9 2.3 .9-1.9 .9-5.3 .9-1.9 .9-1.8 .9-2.2 .9-5.1 .9-3.6 .9-4.8 .9-5.2 .9 .6 .9-.3 .9 1.7 .9 2.4 .9 1.5 .9 .8 .9-.4 .9 .5 .9 .6 .9 .1 .9-.8 .9-1.3 .9 .5 .9 .4 .9 2.4 .9 2.2 .9 2.2 .9-1.1 .9 .2 .9-.1 .9 2.2 .9 .4 .9-.8 .9-.1 .9-1.2 .9 1.3 .9-1.3 .9 1.3 .9-1.5 .9 .1 .9-.6 .9-.9 .9 .1 .9-1.4 .9-.2 .9-1.9 .9 .1 .9-.2 .9-.4 .9-1.8 .9-1.1 .9 .1 .9-3.3 .9 5.1 .9-.8 .9-.1 .9-1.1 .9 .1 .9 1.2 .9 .9 .9 .3 .9 .3 .9 1.7 .9 1.1 .9-1.1 .9-1.1 .9 1.6 .9 .6 .9 1.4 .9-.6 .9 .6 .9 .2 .9-1.5 .9-.4 .9 .3 .9 .6 .9-.1 .9-.3 .9 .8 .9 .5 .9 1.2 .9 1 .9 .8 .9-.2 .9 .6 .9 .4 .9-.9 .9-1.3 .9-.1 .9 .5 .9 1.1 .9-1.4 .9-.7 .9 .1 .9 1.7 .9 .2 .9-.7 .9 .6 .9 .3 .9-.5 .9-1.4 .9 .4 .9 0 .9 .9 .9 0 .9 1.6 .9 2.3 .9 .6 .9 .8 .9-.7 .9-.8 .9-.5 .9-.8 .9 1.4 .9 .6 .9-.3 .9 .5 .9-.7 .9 .2 .9-.7 .9 1.8 .9 .1 .9-.2 .9-.2 .9 1.2 .9 .7 .9-1.8 .9-1.5 .9 1.3 .9 .4 .9 .3 .9-.2 .9 .2 .9 .6 .9 .8 .9 .9 .9 1 .9-.9 .9 .5 .9-.6 .9 .9 .9 .3 .9 .2 .9-1.1 .9 .1 .9 .7 .9 1.8 .9-.2 .9 .9 .9 .8 .9 2.4 .9-2.7 .9-3.8 .9-3.4 .9-2.8 .9 3.3 .9 1.8 .9 2.9 .9-.3 .9 0 .9-1.1 .9 1 .9 .5 .9 0 .9-1.6 .9-2.6 .9-.9 .9 1.2 .9 3.5 .9 1.7 .9 .1 .9-.6 .9-.4 .9 1.2 .9 .7 .9-.6 .9 .1 .9 .5 .9 0 .9 1.8 .9-1.1 .9 1.2 .9-1.2 .9 1 .9-.8 .9-1.4 .9-2.8 .9-1.7 .9-1.1 .9 .2 .9-.8 .9-.7 .9-.7 .9 .2 .9-.3 .9-.5 .9-.6 .9-.6 .9-.4 .9-.9 .9-.7 .9-.8 .9-.6 .9-.7 .9-.7 .9-.3 .9-.1 .9 .1 .9-.2 .9-.4 .9-.1 .9 .2 .9 .5 .9 .6 .9 .2 .9 0 .9 .2 .9 .3 .9 .3 .9 .4 .9 .5 .9 .4 .9 .1 .9 0 .9 .4 .9 .2 .9 .3 .9-.3 .9-.1 .9 .2 .9 .3 .9 .3 .9-.6 .9-.3 .9-.2 .9 .3 .9-.3 .9-.2 .9-.2 .9 .5 .9 .8 .9 1 .9 .4 .9 .6 .9 .2 .9 .7 .9 .7 .9 .4 .9 .4 .9 .2 .9 .6 .9 .8 .9 .4 .9 .6 .9 .2 .9 .5 .9 .2 .9 .3 .9-.1 .9 .3 .9 .1 .9 .6 .9 .2 .9 .4 .9 .1 .9 0 .9-.3 .9-.2 .9 0 .9-.1 .9 0 .9 .1 .9 .2 .9-.1 .9-.2 .9-.1 .9-.6 .9-.5 .9-.8 .9-.5 .9-.6 .9-.6 .9-.6 .9-.2 .9-.1 .9-.3 .9-.1 .9 0 .9 0 .9-.1 .9 .1 .9-.3 .9 0 .9 .1 .9 .1 .9-.2 .9-.4 .9-.2 .9 0 .9 .3 .9 0 .9 .2 .9-.1 .9-.1 .9-.1 .9-.3 .9-.1 .9 .2 .9 .4 .9 .2 .9-.2 .9-.1 .9 0 .9 .1 .9 .2 .9-.1 .9 .2 .9-.2 .9 .4 .9 0 .9 .2 .9 .1 .9 .2 .9 .1 .9 .1 .9 .3 .9 0 .9 .2 .9 0 .9 .5 .9-.1 .9 .2 .9 .1 .9 .2 .9 .1 .9 .1 .9 .1 .9 .1 .9 0 .9 .2 .9 .2 .9 0 .9 .2 .9 0 .9 .5 .9 0 .9 .2 .9-.1 .9 .3 .9 0 .9 .2 .9 0 .9 0 .9 .2 .9 .3 .9 .1 .9-.1 .9-.1 .9-.1 .9 0 .9 .1 .9 .2 .9 .2 .9-.1 .9-.2 .9 0 .9 .2 .9 .2 .9-.1 .9-.1 .9 .1 .9 .2 .9 .3 .9 .1" fill="none" stroke="#00ff00" stroke-width="0.9"/>
<path d="M71.9 234.1l.9 3.4 .9 .9 .9 1.2 .9-1.3 .9 .7 .9 .8 .9 .9 .9-.1 .9 1.1 .9-.6 .9-1.9 .9-2.7 .9-1.6 .9-7.6 .9-7.4 .9-7.8 .9-4 .9-6.4 .9-3.1 .9-2 .9 3.1 .9 2.1 .9 4.8 .9 1.3 .9 2.6 .9-.5 .9 1.4 .9-.6 .9 .1 .9 1.9 .9 .2 .9 2.4 .9 .3 .9 1.3 .9 .3 .9-.9 .9-.8 .9-2.2 .9-.9 .9 .1 .9 1.6 .9-1 .9 .4 .9 .4 .9 .8 .9 2.7 .9 1.8 .9 1.8 .9-.6 .9 .8 .9 .7 .9 2.6 .9-.1 .9 1.4 .9 0 .9 0 .9 1.7 .9 1.2 .9 1.2 .9-.3 .9-1.5 .9 1.4 .9 .2 .9 1.2 .9-1.3 .9-.6 .9-.4 .9-2.7 .9-2.7 .9-1.4 .9 0 .9 1.8 .9 .9 .9 .1 .9-2.5 .9-.9 .9-2.9 .9-1.5 .9-2.3 .9-2.6 .9-3.5 .9-1.1 .9 .3 .9 .1 .9-.9 .9 .5 .9 3 .9 1.7 .9 3.7 .9-4.7 .9-8.6 .9-9 .9 11.2 .9 7 .9 2.9 .9-3.6 .9-3 .9-2.8 .9 2.5 .9 3.6 .9 2.7 .9-.2 .9 1 .9 2 .9 .2 .9-.1 .9 1 .9 1.2 .9-.3 .9-1.2 .9 .7 .9 1.9 .9 1.2 .9 .5 .9 .3 .9 .9 .9 .8 .9 2.1 .9 1.4 .9 3.9 .9 3.3 .9 2.1 .9 1.6 .9-1.5 .9 1 .9 2.3 .9 1.1 .9-2.4 .9-2.9 .9-.3 .9-.7 .9 1.3 .9 .4 .9 .5 .9 .2 .9-.3 .9-4.2 .9-3.6 .9 2.4 .9-.1 .9-4.2 .9-4.3 .9 .3 .9-1.2 .9-.7 .9-.1 .9-.3 .9-.4 .9-1.9 .9-.7 .9 1.5 .9 2.1 .9 2.3 .9 1.2 .9 1.2 .9 3.2 .9 1 .9 0 .9-2.6 .9 0 .9 .5 .9 2 .9 .2 .9-1 .9-1.9 .9 .5 .9-.3 .9 .4 .9-1.6 .9 .6 .9 1.4 .9 .3 .9 0 .9-1.4 .9 .7 .9-.2 .9-.5 .9-.2 .9-.9 .9-.7 .9-2.3 .9-3.8 .9 8.3 .9-.4 .9-.9 .9-.7 .9-2.6 .9 .7 .9 .6 .9 3 .9 1.2 .9-1.1 .9-1.8 .9-.7 .9 2.6 .9 1.6 .9-.7 .9-3.4 .9-.5 .9-.3 .9 .7 .9-.9 .9-2.3 .9-1.1 .9 .2 .9 1.1 .9-1 .9-1.6 .9-.6 .9 2.4 .9 1.8 .9 .5 .9-.7 .9-1.9 .9 0 .9-1.6 .9 .5 .9 .8 .9 2.2 .9 1.1 .9-.1 .9-.9 .9-.3 .9 .8 .9-.3 .9 .8 .9 .5 .9 1.8 .9-.3 .9 .3 .9-.7 .9-.2 .9-2 .9-.8 .9 1 .9 1 .9 1.8 .9-.1 .9 .1 .9-1.4 .9 .3 .9 1.2 .9 .3 .9 .3 .9 2.2 .9 1.2 .9 .1 .9-2.3 .9-1.8 .9 .2 .9 .2 .9 1.5 .9-.4 .9 1 .9 1 .9 .1 .9-1.8 .9-1 .9 1.4 .9 1.3 .9 .5 .9-1.6 .9-.2 .9 .5 .9 1.9 .9 1.1 .9 .6 .9 1.1 .9 .7 .9-.2 .9-1 .9 0 .9-.5 .9 0 .9-.3 .9-1.2 .9-1 .9-1 .9-.9 .9-2 .9-2.3 .9-6.9 .9-2.8 .9 10.1 .9 4.8 .9 2.2 .9-.2 .9 1.7 .9-1.7 .9 .8 .9-1.2 .9-2.2 .9-3.8 .9-1.7 .9-1.7 .9-.4 .9 2 .9 3.6 .9 .8 .9 .6 .9-2.6 .9 1.7 .9-1.7 .9 .5 .9-2.1 .9 0 .9-.4 .9-.5 .9-1.2 .9-.5 .9-.1 .9-.2 .9-.4 .9-.9 .9-.5 .9-1.3 .9-1.6 .9-1.4 .9-1.4 .9-.2 .9-1.7 .9-.4 .9-.3 .9 .5 .9-1.1 .9-.9 .9 1.4 .9 2.1 .9 2 .9 2.8 .9 3.1 .9 1.8 .9-.4 .9-.3 .9-.6 .9-.3 .9-.5 .9 .7 .9 .8 .9 1.2 .9 .9 .9 .6 .9 .7 .9 .8 .9 .4 .9 .4 .9 .5 .9 1 .9-.1 .9-.2 .9-.3 .9 .1 .9-.6 .9-.5 .9-.9 .9-.2 .9-.3 .9 0 .9 0 .9-.4 .9-.2 .9-.4 .9-.1 .9-.3 .9 .4 .9-.1 .9-.2 .9 .2 .9 .9 .9 .9 .9 .7 .9 .3 .9 .5 .9 .3 .9-1.3 .9-1.5 .9-1.7 .9-1.2 .9-.3 .9 .3 .9-.2 .9 .2 .9 0 .9 .2 .9 0 .9 .3 .9 .1 .9 .3 .9 .2 .9-.1 .9-.3 .9 .1 .9 .2 .9 0 .9-.1 .9 .1 .9 .1 .9 0 .9-.1 .9 0 .9 0 .9 0 .9 .1 .9-.2 .9 .4 .9-.2 .9 .2 .9-.5 .9 .1 .9-.2 .9 .2 .9-.2 .9-.1 .9 .2 .9-.1 .9 0 .9-.3 .9-.1 .9 0 .9 .1 .9-.1 .9-.1 .9-.2 .9-.1 .9 0 .9-.1 .9-.1 .9-.1 .9 0 .9 .3 .9 0 .9 .2 .9 0 .9 .1 .9-.1 .9 .2 .9-.2 .9 .3 .9 0 .9 .2 .9 .2 .9 .1 .9 .1 .9 .1 .9 .2 .9 .4 .9 .1 .9 .1 .9 0 .9 .1 .9 .1 .9 0 .9-.1 .9 .3 .9 .4 .9 .2 .9-.2 .9-.3 .9-.1 .9 .1 .9 .2 .9 .1 .9 0 .9 0 .9 .1 .9 .1 .9 0 .9 .1 .9-.1 .9 0 .9-.1 .9 .1 .9 0 .9 .2 .9-.1 .9-.1 .9 0 .9 0 .9 0 .9 .1 .9 0 .9 .2 .9 0 .9 .1 .9-.4 .9 .2 .9 0 .9 .2 .9-.3 .9-.1 .9 0 .9 .2 .9 0 .9 .1 .9 0 .9 .1 .9 .2 .9 0 .9-.1 .9 0 .9 .2 .9 .1 .9 0" fill="none" stroke="#ff0000" stroke-width="0.9"/>
<path d="M71.9 202.8l.9 1 .9-.6 .9 1 .9-1.1 .9 .2 .9 2.8 .9 3 .9 3.4 .9 2.7 .9 3.3 .9 2.2 .9 2.6 .9-2.3 .9-3.3 .9-4.9 .9-4.8 .9-3.4 .9 4.5 .9 3.3 .9 1.1 .9-1.5 .9-1.7 .9 1 .9 .5 .9 1.5 .9-.7 .9-.2 .9-.7 .9 .1 .9 .9 .9-1.2 .9 .5 .9-.8 .9 .9 .9-.4 .9 .5 .9 .4 .9 0 .9-.3 .9-1.6 .9-1.6 .9-1.5 .9-.4 .9-1.5 .9-2.9 .9 .9 .9 1.8 .9 4.1 .9 2 .9-.3 .9-1.6 .9-2.1 .9-1.9 .9-1.2 .9-.2 .9-.4 .9 1.7 .9 1 .9 1.4 .9 .1 .9-.3 .9 1.3 .9 2.2 .9 3.7 .9 1.3 .9-1.2 .9-.8 .9-2 .9-3.7 .9-5.9 .9-2.3 .9-.8 .9 1 .9 .2 .9 3.1 .9 3.2 .9 3 .9 1.6 .9 1.2 .9 0 .9 .1 .9 .9 .9 3.2 .9 1.6 .9 1.7 .9-1.1 .9-.7 .9-1 .9 .4 .9 2.7 .9 2.8 .9 4.5 .9-1.7 .9-3.1 .9-3.8 .9 .4 .9 .9 .9-.8 .9-2 .9-2 .9 .2 .9-1.6 .9 .3 .9 .3 .9 1.3 .9 1.3 .9-.5 .9-1.8 .9-3.1 .9-1.6 .9 .7 .9 1 .9-.9 .9-.9 .9-1.3 .9-.5 .9-.9 .9-.6 .9-.7 .9-.9 .9-.2 .9-.2 .9-2.4 .9-2 .9-2.2 .9 2.2 .9 .4 .9 1.4 .9-.1 .9 .9 .9-1.7 .9 1.3 .9 1.6 .9 2.8 .9-1.3 .9-.7 .9-1.4 .9-.7 .9 2.8 .9 2.8 .9 2.2 .9-.5 .9-.3 .9 2.4 .9 2.5 .9 2.1 .9 0 .9-1.8 .9-.8 .9-1.9 .9 0 .9-2.5 .9-1.2 .9-1 .9-2.3 .9-.2 .9-2.3 .9 2.1 .9-2 .9 2 .9-1.4 .9 .8 .9-1.1 .9 1.1 .9 .8 .9 1 .9 .1 .9 1.7 .9 .1 .9 .8 .9-1.2 .9 1 .9-.2 .9 .6 .9 .9 .9 1.1 .9 1.4 .9 .2 .9 2.4 .9 .5 .9 2.7 .9-3.6 .9 .4 .9 4.5 .9-.2 .9 .5 .9-.4 .9-1 .9-2.2 .9-.1 .9-.5 .9 1.3 .9 .5 .9-.2 .9 .9 .9 1 .9 1.5 .9-.6 .9-.1 .9 .3 .9 1.6 .9 .4 .9-1 .9-.3 .9-1.8 .9 .8 .9 .5 .9 .4 .9 .2 .9-.9 .9 .8 .9 .4 .9 .4 .9-.9 .9-1 .9 .2 .9 0 .9 .3 .9 .4 .9 .4 .9 .2 .9 .5 .9 .8 .9-.6 .9-1.5 .9 1.1 .9 3.4 .9 0 .9-1.1 .9-1.8 .9 .2 .9-2.1 .9-.1 .9-.1 .9 1.2 .9-1.7 .9-.5 .9 .3 .9 1.1 .9 .7 .9 0 .9 1 .9 .4 .9-.3 .9-.9 .9 .1 .9 .6 .9 1.6 .9-.4 .9 .7 .9-.3 .9-.2 .9 .7 .9-.8 .9 .1 .9-1.6 .9-1.4 .9-.9 .9 1.1 .9 .6 .9 .3 .9-1.3 .9-.1 .9-1 .9-.8 .9-.9 .9 .7 .9-.2 .9 .8 .9-1 .9-.6 .9-2.3 .9-.6 .9-.4 .9-.4 .9-1.2 .9 1.1 .9 2.7 .9 2.8 .9-4.6 .9-4.3 .9-4.9 .9-6.1 .9-.3 .9 14.2 .9 9.7 .9 1 .9 1.2 .9 .4 .9 1.1 .9 .8 .9 2.9 .9 2.5 .9 4.3 .9-4.1 .9-1.7 .9-1.3 .9 4.4 .9 3.5 .9 1.6 .9 1.7 .9-1.3 .9 0 .9-.8 .9-.1 .9-1.1 .9 1 .9 1.3 .9-1.9 .9-5.4 .9-.9 .9-2.4 .9-1 .9-2.6 .9-2.8 .9-3.2 .9-1.6 .9-2.2 .9-12.8 .9-20.3 .9-1.5 .9-.7 .9-.9 .9-.2 .9 .7 .9 1 .9 .6 .9-.1 .9-.2 .9-.2 .9-.5 .9-.6 .9-.5 .9-.6 .9-.6 .9-.5 .9 .4 .9 .1 .9 .3 .9 .2 .9 .8 .9 .4 .9 .7 .9 .4 .9 .4 .9 .3 .9-.3 .9 .4 .9-.1 .9 .8 .9 .5 .9 .6 .9 0 .9 0 .9 .2 .9 .3 .9 .5 .9-.1 .9 .4 .9 .2 .9 .1 .9-.1 .9 .1 .9 .5 .9 .1 .9 .4 .9 .3 .9 .6 .9 .1 .9 .4 .9 .4 .9 .4 .9 .6 .9 .3 .9 0 .9-.5 .9-.2 .9-.5 .9 0 .9-.5 .9-.3 .9-.4 .9-.9 .9-.3 .9 0 .9 .5 .9 .1 .9 .3 .9 .3 .9 0 .9 .1 .9 .1 .9 .2 .9 .1 .9-.4 .9-.2 .9 .2 .9 .2 .9 .5 .9 .2 .9 .1 .9-.2 .9-.1 .9 .3 .9 .3 .9 .1 .9 .1 .9-.2 .9 .2 .9 0 .9 .3 .9 .2 .9 0 .9 0 .9-.2 .9 .5 .9-.1 .9 .4 .9 .1 .9 .5 .9 0 .9-.1 .9 0 .9 0 .9 .1 .9-.1 .9 .2 .9-.1 .9 0 .9-.1 .9 .5 .9 .2 .9 .4 .9 0 .9 .1 .9 .2 .9-.2 .9 .1 .9-.2 .9 .2 .9-.1 .9 0 .9 .1 .9 .4 .9 .1 .9 .2 .9-.1 .9 .2 .9 .3 .9 .1 .9 0 .9 0 .9 0 .9 .1 .9 .2 .9 .1 .9 0 .9-.3 .9 .2 .9 .3 .9 .2 .9 .1 .9 .1 .9 .2 .9 .2 .9 0 .9 .2 .9 .1 .9 .2 .9-.1 .9 .2 .9 .1 .9 0 .9-.4 .9 .3 .9 .2 .9 .3 .9-.1 .9 0 .9 0 .9 .2 .9 0 .9 .2 .9 .2 .9 0 .9 .2 .9 .1 .9 .1 .9 0 .9 0 .9 .1 .9 0 .9 0 .9-.1 .9 0 .9 0 .9 0 .9-.1 .9-.1 .9 0 .9-.2 .9-.1 .9 0" fill="none" stroke="#0000ff" stroke-width="0.9"/>
<line x1="71.5" y1="213" x2="525.5" y2="213" stroke="#000" stroke-width="1.7" stroke-dasharray="4.7 3"/>
<line x1="77" y1="188.2" x2="95" y2="188.2" stroke="#0000ff" stroke-width="0.9"/>
<text x="97" y="192" font-size="10" fill="#0000ff">B<tspan font-size="7" dy="3">L</tspan></text>
<line x1="77" y1="212.5" x2="95" y2="212.5" stroke="#00ff00" stroke-width="0.9"/>
<text x="97" y="216.3" font-size="10" fill="#00ff00">B<tspan font-size="7" dy="3">M</tspan></text>
<line x1="77" y1="233.6" x2="95" y2="233.6" stroke="#ff0000" stroke-width="0.9"/>
<text x="97" y="237.4" font-size="10" fill="#ff0000">B<tspan font-size="7" dy="3">N</tspan></text>
<path d="M90.5 176.5v3.7M90.5 244.5v-3.7M123.5 176.5v3.7M123.5 244.5v-3.7M155.5 176.5v10.5M155.5 244.5v-10.5M188.5 176.5v3.7M188.5 244.5v-3.7M220.5 176.5v3.7M220.5 244.5v-3.7M253.5 176.5v10.5M253.5 244.5v-10.5M285.5 176.5v3.7M285.5 244.5v-3.7M318.5 176.5v3.7M318.5 244.5v-3.7M350.5 176.5v10.5M350.5 244.5v-10.5M382.5 176.5v3.7M382.5 244.5v-3.7M415.5 176.5v3.7M415.5 244.5v-3.7M447.5 176.5v10.5M447.5 244.5v-10.5M480.5 176.5v3.7M480.5 244.5v-3.7M512.5 176.5v3.7M512.5 244.5v-3.7" stroke="#000" stroke-width="1.15" fill="none"/>
<path d="M71.5 243.5h2.5M525.5 243.5h-2.5M71.5 238.5h2.5M525.5 238.5h-2.5M71.5 234.5h2.5M525.5 234.5h-2.5M71.5 230.5h5.8M525.5 230.5h-5.8M71.5 225.5h2.5M525.5 225.5h-2.5M71.5 221.5h2.5M525.5 221.5h-2.5M71.5 217.5h2.5M525.5 217.5h-2.5M71.5 213.5h5.8M525.5 213.5h-5.8M71.5 208.5h2.5M525.5 208.5h-2.5M71.5 204.5h2.5M525.5 204.5h-2.5M71.5 200.5h2.5M525.5 200.5h-2.5M71.5 195.5h5.8M525.5 195.5h-5.8M71.5 191.5h2.5M525.5 191.5h-2.5M71.5 187.5h2.5M525.5 187.5h-2.5M71.5 182.5h2.5M525.5 182.5h-2.5M71.5 178.5h5.8M525.5 178.5h-5.8" stroke="#000" stroke-width="1.15" fill="none"/>
<rect x="71.5" y="176.5" width="454" height="68" fill="none" stroke="#000" stroke-width="1.3"/>
<text x="68" y="182.4" font-size="11" text-anchor="end">40</text>
<text x="68" y="199.7" font-size="11" text-anchor="end">20</text>
<text x="68" y="217" font-size="11" text-anchor="end">0</text>
<text x="68" y="234.3" font-size="11" text-anchor="end">-20</text>
<text x="44" y="211" font-size="11.5" text-anchor="middle" transform="rotate(-90 44 211)">B<tspan font-size="8" dy="3">LMN</tspan><tspan dy="-3"> [nT]</tspan></text>
<rect x="71.5" y="244.5" width="42.7" height="68" fill="url(#gi0)"/>
<rect x="113.5" y="244.5" width="6.7" height="68" fill="url(#gi1)"/>
<rect x="119.5" y="244.5" width="3.7" height="68" fill="url(#gi2)"/>
<rect x="122.5" y="244.5" width="3.7" height="68" fill="url(#gi3)"/>
<rect x="125.5" y="244.5" width="24.7" height="68" fill="url(#gi4)"/>
<rect x="149.5" y="244.5" width="3.7" height="68" fill="url(#gi5)"/>
<rect x="152.5" y="244.5" width="3.7" height="68" fill="url(#gi6)"/>
<rect x="155.5" y="244.5" width="6.7" height="68" fill="url(#gi7)"/>
<rect x="161.5" y="244.5" width="6.7" height="68" fill="url(#gi8)"/>
<rect x="167.5" y="244.5" width="6.7" height="68" fill="url(#gi9)"/>
<rect x="173.5" y="244.5" width="6.7" height="68" fill="url(#gi10)"/>
<rect x="179.5" y="244.5" width="6.7" height="68" fill="url(#gi11)"/>
<rect x="185.5" y="244.5" width="21.7" height="68" fill="url(#gi12)"/>
<rect x="206.5" y="244.5" width="9.7" height="68" fill="url(#gi13)"/>
<rect x="215.5" y="244.5" width="9.7" height="68" fill="url(#gi14)"/>
<rect x="224.5" y="244.5" width="9.7" height="68" fill="url(#gi15)"/>
<rect x="233.5" y="244.5" width="9.7" height="68" fill="url(#gi16)"/>
<rect x="242.5" y="244.5" width="6.7" height="68" fill="url(#gi17)"/>
<rect x="248.5" y="244.5" width="6.7" height="68" fill="url(#gi18)"/>
<rect x="254.5" y="244.5" width="6.7" height="68" fill="url(#gi19)"/>
<rect x="260.5" y="244.5" width="6.7" height="68" fill="url(#gi20)"/>
<rect x="266.5" y="244.5" width="6.7" height="68" fill="url(#gi21)"/>
<rect x="272.5" y="244.5" width="6.7" height="68" fill="url(#gi22)"/>
<rect x="278.5" y="244.5" width="6.7" height="68" fill="url(#gi23)"/>
<rect x="284.5" y="244.5" width="9.7" height="68" fill="url(#gi24)"/>
<rect x="293.5" y="244.5" width="12.7" height="68" fill="url(#gi25)"/>
<rect x="305.5" y="244.5" width="3.7" height="68" fill="url(#gi26)"/>
<rect x="308.5" y="244.5" width="3.7" height="68" fill="url(#gi27)"/>
<rect x="311.5" y="244.5" width="3.7" height="68" fill="url(#gi28)"/>
<rect x="314.5" y="244.5" width="3.7" height="68" fill="url(#gi29)"/>
<rect x="317.5" y="244.5" width="3.7" height="68" fill="url(#gi30)"/>
<rect x="320.5" y="244.5" width="3.7" height="68" fill="url(#gi31)"/>
<rect x="323.5" y="244.5" width="3.7" height="68" fill="url(#gi32)"/>
<rect x="326.5" y="244.5" width="6.7" height="68" fill="url(#gi33)"/>
<rect x="332.5" y="244.5" width="3.7" height="68" fill="url(#gi34)"/>
<rect x="335.5" y="244.5" width="3.7" height="68" fill="url(#gi35)"/>
<rect x="338.5" y="244.5" width="3.7" height="68" fill="url(#gi36)"/>
<rect x="341.5" y="244.5" width="3.7" height="68" fill="url(#gi37)"/>
<rect x="344.5" y="244.5" width="3.7" height="68" fill="url(#gi38)"/>
<rect x="347.5" y="244.5" width="3.7" height="68" fill="url(#gi39)"/>
<rect x="350.5" y="244.5" width="6.7" height="68" fill="url(#gi40)"/>
<rect x="356.5" y="244.5" width="3.7" height="68" fill="url(#gi41)"/>
<rect x="359.5" y="244.5" width="3.7" height="68" fill="url(#gi42)"/>
<rect x="362.5" y="244.5" width="3.7" height="68" fill="url(#gi43)"/>
<rect x="365.5" y="244.5" width="3.7" height="68" fill="url(#gi44)"/>
<rect x="368.5" y="244.5" width="3.7" height="68" fill="url(#gi45)"/>
<rect x="371.5" y="244.5" width="3.7" height="68" fill="url(#gi46)"/>
<rect x="374.5" y="244.5" width="3.7" height="68" fill="url(#gi47)"/>
<rect x="377.5" y="244.5" width="3.7" height="68" fill="url(#gi48)"/>
<rect x="380.5" y="244.5" width="3.7" height="68" fill="url(#gi49)"/>
<rect x="383.5" y="244.5" width="3.7" height="68" fill="url(#gi50)"/>
<rect x="386.5" y="244.5" width="3.7" height="68" fill="url(#gi51)"/>
<rect x="389.5" y="244.5" width="3.7" height="68" fill="url(#gi52)"/>
<rect x="392.5" y="244.5" width="3.7" height="68" fill="url(#gi53)"/>
<rect x="395.5" y="244.5" width="3.7" height="68" fill="url(#gi54)"/>
<rect x="398.5" y="244.5" width="6.7" height="68" fill="url(#gi55)"/>
<rect x="404.5" y="244.5" width="6.7" height="68" fill="url(#gi56)"/>
<rect x="410.5" y="244.5" width="9.7" height="68" fill="url(#gi57)"/>
<rect x="419.5" y="244.5" width="21.7" height="68" fill="url(#gi58)"/>
<rect x="440.5" y="244.5" width="21.7" height="68" fill="url(#gi59)"/>
<rect x="461.5" y="244.5" width="30.7" height="68" fill="url(#gi60)"/>
<rect x="491.5" y="244.5" width="33.7" height="68" fill="url(#gi61)"/>
<rect x="524.5" y="244.5" width="1.7" height="68" fill="url(#gi62)"/>
<polygon points="71.5,309.1 262,309.1 262,312.5 71.5,312.5" fill="url(#spA)"/>
<polygon points="262,307.7 275,303.7 357,303 360,312.5 262,312.5" fill="url(#spA2)"/>
<polygon points="268,309.1 285,306.4 358,306.4 360,312.5 268,312.5" fill="url(#spA2)"/>
<polygon points="212,244.5 345,244.5 338,249.9 322,254 300,257.4 250,254.7 228,249.9" fill="url(#spC)"/>
<polygon points="235,244.5 335,244.5 325,251.3 250,251.3" fill="url(#spC2)"/>
<polygon points="361,303 380,290.7 398,281.2 414,278.5 470,276.5 525.5,275.1 525.5,286.7 470,287.3 414,289.4 398,292.1 380,301.6 366,312.5 361,312.5" fill="url(#spA3)"/>
<polygon points="364,312.5 380,298.9 398,288 414,285.3 470,283.3 525.5,281.9 525.5,312.5" fill="url(#spB)"/>
<polygon points="378,312.5 395,297.5 420,292.1 525.5,289.4 525.5,312.5" fill="url(#spB2)"/>
<path d="M90.5 244.5v3.7M90.5 312.5v-3.7M123.5 244.5v3.7M123.5 312.5v-3.7M155.5 244.5v10.5M155.5 312.5v-10.5M188.5 244.5v3.7M188.5 312.5v-3.7M220.5 244.5v3.7M220.5 312.5v-3.7M253.5 244.5v10.5M253.5 312.5v-10.5M285.5 244.5v3.7M285.5 312.5v-3.7M318.5 244.5v3.7M318.5 312.5v-3.7M350.5 244.5v10.5M350.5 312.5v-10.5M382.5 244.5v3.7M382.5 312.5v-3.7M415.5 244.5v3.7M415.5 312.5v-3.7M447.5 244.5v10.5M447.5 312.5v-10.5M480.5 244.5v3.7M480.5 312.5v-3.7M512.5 244.5v3.7M512.5 312.5v-3.7" stroke="#000" stroke-width="1.15" fill="none"/>
<path d="M71.5 308.5h2.5M525.5 308.5h-2.5M71.5 304.5h2.5M525.5 304.5h-2.5M71.5 302.5h2.5M525.5 302.5h-2.5M71.5 300.5h2.5M525.5 300.5h-2.5M71.5 298.5h2.5M525.5 298.5h-2.5M71.5 297.5h2.5M525.5 297.5h-2.5M71.5 296.5h2.5M525.5 296.5h-2.5M71.5 295.5h2.5M525.5 295.5h-2.5M71.5 294.5h5M525.5 294.5h-5M71.5 288.5h2.5M525.5 288.5h-2.5M71.5 284.5h2.5M525.5 284.5h-2.5M71.5 282.5h2.5M525.5 282.5h-2.5M71.5 280.5h2.5M525.5 280.5h-2.5M71.5 278.5h2.5M525.5 278.5h-2.5M71.5 277.5h2.5M525.5 277.5h-2.5M71.5 276.5h2.5M525.5 276.5h-2.5M71.5 275.5h2.5M525.5 275.5h-2.5M71.5 274.5h5M525.5 274.5h-5M71.5 268.5h2.5M525.5 268.5h-2.5M71.5 264.5h2.5M525.5 264.5h-2.5M71.5 262.5h2.5M525.5 262.5h-2.5M71.5 260.5h2.5M525.5 260.5h-2.5M71.5 258.5h2.5M525.5 258.5h-2.5M71.5 257.5h2.5M525.5 257.5h-2.5M71.5 256.5h2.5M525.5 256.5h-2.5M71.5 255.5h2.5M525.5 255.5h-2.5M71.5 254.5h5M525.5 254.5h-5M71.5 248.5h2.5M525.5 248.5h-2.5" stroke="#000" stroke-width="1.15" fill="none"/>
<rect x="71.5" y="244.5" width="454" height="68" fill="none" stroke="#000" stroke-width="1.5"/>
<text x="528.5" y="258.9" font-size="11">10<tspan font-size="8" dy="-5">4</tspan></text>
<text x="528.5" y="279.1" font-size="11">10<tspan font-size="8" dy="-5">3</tspan></text>
<text x="528.5" y="298.7" font-size="11">10<tspan font-size="8" dy="-5">2</tspan></text>
<text x="559.5" y="278" font-size="11" text-anchor="middle" transform="rotate(-90 559.5 278)">Energy (eV)</text>
<line x1="132.9" y1="314" x2="132.9" y2="381" stroke="#ff00ff" stroke-width="1.45" stroke-dasharray="1.45 3.45"/>
<line x1="344.5" y1="314.2" x2="344.5" y2="381" stroke="#22aa22" stroke-width="1.2" stroke-dasharray="7 5.4"/>
<line x1="372.6" y1="314.2" x2="372.6" y2="381" stroke="#22aa22" stroke-width="1.2" stroke-dasharray="7 5.4"/>
<line x1="351.3" y1="314.2" x2="351.3" y2="381" stroke="#ff2020" stroke-width="1.2" stroke-dasharray="7 5.4"/>
<line x1="365.3" y1="314.2" x2="365.3" y2="381" stroke="#ff2020" stroke-width="1.2" stroke-dasharray="7 5.4"/>
<line x1="359.4" y1="314" x2="359.4" y2="381" stroke="#ff00ff" stroke-width="1.45" stroke-dasharray="1.45 3.45"/>
<line x1="370.9" y1="314" x2="370.9" y2="381" stroke="#0000ff" stroke-width="1.3" stroke-dasharray="1.4 3.5"/>
<line x1="419.8" y1="314.2" x2="419.8" y2="381" stroke="#00aaff" stroke-width="1.3" stroke-dasharray="1.4 3.5"/>
<path d="M71.9 346l.8 1 .8 .8 .8 .8 .8-1.5 .8 .7 .8 .3 .8 .7 .8 0 .8-1.1 .8 .5 .8-1.5 .8 .7 .8-1.3 .8 .4 .8-.1 .8-.5 .8-.5 .8-.2 .8-.4 .8 1.5 .8-.8 .8 .7 .8-1.1 .8-.2 .8-.8 .8 0 .8-1.1 .8 1.4 .8-.3 .8 .1 .8-.3 .8-1.8 .8-1.1 .8 1.8 .8-.6 .8-.8 .8 0 .8 1 .8 .5 .8-.9 .8-.8 .8 .9 .8 0 .8-1.5 .8 1.2 .8-1.2 .8 .5 .8 .2 .8-.4 .8-1.1 .8 1.1 .8-1.2 .8 1.2 .8-1.6 .8 1.7 .8 .8 .8 .7 .8 1.4 .8 .8 .8 1.8 .8-.8 .8 .4 .8-1.5 .8 1.3 .8-.1 .8 .2 .8-.5 .8-2.4 .8-1.3 .8-.7 .8-.9 .8 .2 .8-3 .8 1.1 .8 .4 .8-.9 .8-1 .8 .1 .8 .7 .8 0 .8-.8 .8 0 .8 .5 .8-1.4 .8 1.2 .8-2.2 .8 1.6 .8-2.3 .8 1.5 .8-1 .8-1.2 .8 .9 .8 0 .8-.1 .8-.5 .8-.4 .8-.3 .8 .1 .8 1.2 .8 .3 .8 .8 .8 .3 .8 1.4 .8 1.3 .8 .5 .8-1.6 .8 .8 .8 .5 .8 1 .8 2.1 .8-1 .8 .1 .8-.4 .8-1.3 .8 .2 .8 .1 .8-.2 .8 .1 .8-.3 .8 .3 .8-.7 .8 1.8 .8-.1 .8-.6 .8 .4 .8-.1 .8-.4 .8 1.9 .8-.2 .8 1.5 .8 .7 .8-1.3 .8 .7 .8 1.5 .8-.2 .8 .4 .8-.1 .8 0 .8-1.7 .8 .4 .8 .1 .8-1.6 .8-.8 .8-.6 .8-.9 .8-1.2 .8-1.3 .8 .5 .8-1.8 .8 1.1 .8-1 .8-.9 .8 1.3 .8 3.9 .8 1.2 .8 2.2 .8 .8 .8-1.7 .8 .4 .8-.3 .8 .1 .8-1.3 .8 .6 .8-1.9 .8-.1 .8-.5 .8 .6 .8 2.4 .8-.2 .8 .5 .8 .9 .8 .7 .8-1.2 .8 .5 .8 .4 .8-1.2 .8 .5 .8-.3 .8-.5 .8-.4 .8 .3 .8 .4 .8 .2 .8-1 .8 1.4 .8 .6 .8-1.2 .8 .6 .8 1.5 .8 .5 .8 .2 .8 1 .8-.3 .8 .4 .8-1.1 .8-.1 .8-.8 .8 .5 .8-.5 .8-.3 .8 .7 .8-.4 .8-.6 .8 .3 .8 .2 .8 .3 .8-.6 .8 1 .8-.5 .8 .6 .8-.4 .8 1.9 .8-2.1 .8 1.7 .8-1.1 .8 1.8 .8-1.7 .8 1.4 .8-.4 .8 .8 .8-1.3 .8 .8 .8 .4 .8-.2 .8-1.5 .8-1.4 .8 .4 .8-.7 .8 0 .8-.9 .8-1 .8 .3 .8 .9 .8-.8 .8-.8 .8 .5 .8-1.6 .8 .4 .8 .1 .8-.4 .8-.4 .8 .3 .8 .9 .8-1.3 .8 .8 .8 1.3 .8-2.2 .8 1.8 .8 1.3 .8-1.1 .8 1.2 .8 1.6 .8-.4 .8 .6 .8 1.7 .8-2.2 .8 2.1 .8-1.9 .8 .8 .8-.2 .8-.6 .8-.6 .8 .4 .8-.6 .8-.1 .8-.2 .8-.5 .8 .7 .8-1.4 .8-1 .8 .1 .8 1 .8-.7 .8 .6 .8 .3 .8 1.3 .8-1.1 .8 1.9 .8-.5 .8 2.2 .8-1.7 .8 2.6 .8-.9 .8 1.8 .8-.6 .8-.2 .8 1 .8 .5 .8 1.2 .8 1.3 .8-.5 .8-1 .8-.6 .8 .6 .8-2.4 .8 .4 .8-1.7 .8 .4 .8 1.3 .8-1.1 .8 2.5 .8 .4 .8-1.4 .8 .3 .8 .9 .8 .3 .8 .1 .8 1.5 .8 1.2 .8-1.3 .8 .9 .8-.4 .8 .6 .8-.3 .8-2 .8-2 .8-2.6 .8-1.9 .8-2.8 .8 1.3 .8-.2 .8 2.5 .8 .7 .8 1.6 .8 .8 .8 1.1 .8 .3 .8-1.4 .8-.7 .8-2.4 .8-.2 .8-.4 .8-2.1 .8 1.3 .8-1.5 .8-3 .8 1 .8 .2 .8 1.3 .8 1.7 .8 0 .8 .3 .8-.6 .8-2 .8-.6 .8-.7 .8-.8 .8-1.3 .8 1.1 .8 .2 .8 1.5 .8-.4 .8 1.4 .8 .1 .8 .2 .8 1.6 .8 .4 .8 .1 .8 1.5 .8-4.7 .8-2.4 .8 4.9 .8 0 .8 1.9 .8 1.1 .8 .4 .8 1.7 .8 3.6 .8 4.5 .8 2.5 .8 3.8 .8-.7 .8 3.1 .8-1.4 .8 .3 .8-.8 .8-2.8 .8-1.6 .8-4 .8-.2 .8 1.6 .8 1.7 .8 1.1 .8-.5 .8-.8 .8-1.1 .8-1.5 .7-3.5 .7-2.8 .7-12.9 .7 6 .6-2.9 .6-3.7 .5 .5 .6-5.3 .5 9.7 .6 7.2 .5-12.3 .6 8.5 .5-9.6 .6 9.3 .5-9.3 .6 2.4 .5-7.6 .6-.6 .5-3.7 .6 11.1 .5-9.5 .6 1.7 .5-7.1 .6 6.1 .5-6.3 .6 5.1 .5 4.8 .6-9 .5-1.8 .6 6.6 .5-1 .6-3.5 .5-4.1 .6 9.2 .5 2.6 .6 .5 .5 6.4 .6-3.1 .5 1.2 .6-7.2 .5 6.9 .6 1.3 .5-1.2 .6 8.7 .5-4.1 .6 6.3 .5-3.7 .6 6.2 .5 4.6 .6-1.4 .5 2.6 .6-5.4 .5-8.9 .6 10.4 .5-7.6 .6-4.9 .5 10.9 .6-8.3 .5-2.9 .6-7 .5 10.4 .6-7.3 .5-5.8 .6 6.5 .5 .1 .6-2.7 .5-.9 .6-.1 .5-10.3 .6 1 .5 7.7 .6 4 .5 6.2 .6-17.3 .5 5.3 .6-2.8 .5 3.4 .6-3.2 .5 4.3 .6-.9 .5 6 .6-3.1 .5 10.8 .6-3.7 .5-1 .6-3.8 .5 5.7 .6-5.1 .5 5.2 .6-3 .5 7.2 .6-6.4 .5 2.6 .6 4.8 .5-3.5 .6-1.1 .5-6.1 .6 7.5 .5 5 .6-5.7 .5-1.5 .6 5.3 .5 7.5 .6-8.9 .5-2.7 .6-2.7 .5 3.5 .6-7.9 .5 3.6 .6-1 .5 11.1 .6-15.6 .5 7.7 .6-3.6 .5-3.7 .6 8.4 .5 2.8 .6-7.4 .5-.4 .6 1.6 .5 3 .6-2.4 .5-3.3 .6-1.8 .5 2.9 .6-7.4 .5 5.2 .6 6.6 .5-5.3 .6-2 .5-4.9 .6-.5 .5 9.7 .6-5.5 .5-5.1 .6-1.2 .5 3.7 .6 10.4 .5-8.1 .6-12.1 .5 9.7 .6 2.9 .5-8.6 .6 6.2 .5 7.5 .6-11.3 .5-5.2 .6 6.1 .5 6.5 .6-9.5 .5 5.3 .6 .8 .5-1.2 .6 .3 .5-8.2 .6 20.6 .5-12.1 .6 7.9 .5-7.7 .6-3.8 .5-3.8 .6 2.2 .5 5.4 .6-3.5 .5 11.7 .6-7.4 .5 .9 .6 8.4 .5-6.6 .6-11.2 .5 15 .6-11.3 .5 1.8 .6 12.3 .5-3.7 .6-9.2 .5 12.9 .6 11.6 .5-23 .6 5.4 .5-2.9 .6 7.9 .5-2 .6 1.1 .5-6.3 .6 10 .5-2.3 .6 13.5 .5-11.8 .6-7.3 .5 1.4 .6 6.6 .5-1.7 .6-.2 .5 10.6 .6-6 .5-2.1 .6-3.3 .5 1 .6 8.9 .5 2.3 .6-1.1 .5-1.7 .6-1.2 .5 10 .6-4.7 .5 .2 .6-9.5 .5 7.2 .6-4.2 .5-1.5 .6-1.5 .5 10.6 .6-.4 .5-.3 .6 .1 .5 .4 .6 1.3 .5 2.3 .6-7.3 .5 1.5 .6 2.4 .5 2.8 .6 1.2 .5-3.1 .6-3.4 .5 6.3 .6-5.6 .5 6.6 .6 5.1 .5-11.5 .6 15.3 .5-10.1 .6-5.4 .5 2.2 .6-3 .5 10.1 .6 .2 .5 1.5 .6-.1 .5 2.1 .6-4 .5-3.3 .6 7.6 .5-.3 .6 3.4 .5-.8 .6-3.3 .5 4.7 .6-6 .5 3.2 .6-1.8 .5 1.6 .6-2.4 .5 3.3 .6 5.3 .5-7.1 .6 9.6 .5 .5 .6-2" fill="none" stroke="#333" stroke-width="0.95"/>
<line x1="77" y1="317.3" x2="92.8" y2="317.3" stroke="#22aa22" stroke-width="1.3" stroke-dasharray="4 1.5"/>
<text x="93.6" y="320.5" font-size="8.9" fill="#5a9a00">t&#160;&#160;HT</text>
<line x1="77" y1="324.3" x2="92.8" y2="324.3" stroke="#44bbff" stroke-width="1.2" stroke-dasharray="1.4 1.2"/>
<text x="93.6" y="327.5" font-size="8.9" fill="#2299ff">t&#160;&#160;vmax</text>
<line x1="77" y1="331" x2="92.8" y2="331" stroke="#ff2020" stroke-width="1.3" stroke-dasharray="4 1.5"/>
<text x="93.6" y="334.2" font-size="8.9" fill="#ff2020">t&#160;&#160;cs</text>
<line x1="77" y1="338" x2="92.8" y2="338" stroke="#0000ff" stroke-width="1.1" stroke-dasharray="1.4 1.2"/>
<text x="93.6" y="341.2" font-size="8.9" fill="#0000ff">t&#160;&#160;dvmax</text>
<line x1="77" y1="344.5" x2="92.8" y2="344.5" stroke="#333" stroke-width="0.9"/>
<text x="94" y="348.3" font-size="10" fill="#444">|V<tspan font-size="6.5" dy="3">i|</tspan></text>
<path d="M90.5 312.5v3.7M90.5 381.5v-3.7M123.5 312.5v3.7M123.5 381.5v-3.7M155.5 312.5v10.5M155.5 381.5v-10.5M188.5 312.5v3.7M188.5 381.5v-3.7M220.5 312.5v3.7M220.5 381.5v-3.7M253.5 312.5v10.5M253.5 381.5v-10.5M285.5 312.5v3.7M285.5 381.5v-3.7M318.5 312.5v3.7M318.5 381.5v-3.7M350.5 312.5v10.5M350.5 381.5v-10.5M382.5 312.5v3.7M382.5 381.5v-3.7M415.5 312.5v3.7M415.5 381.5v-3.7M447.5 312.5v10.5M447.5 381.5v-10.5M480.5 312.5v3.7M480.5 381.5v-3.7M512.5 312.5v3.7M512.5 381.5v-3.7" stroke="#000" stroke-width="1.15" fill="none"/>
<path d="M71.5 379.5h5.8M525.5 379.5h-5.8M71.5 377.5h2.5M525.5 377.5h-2.5M71.5 374.5h2.5M525.5 374.5h-2.5M71.5 372.5h2.5M525.5 372.5h-2.5M71.5 369.5h2.5M525.5 369.5h-2.5M71.5 367.5h5.8M525.5 367.5h-5.8M71.5 364.5h2.5M525.5 364.5h-2.5M71.5 362.5h2.5M525.5 362.5h-2.5M71.5 359.5h2.5M525.5 359.5h-2.5M71.5 357.5h2.5M525.5 357.5h-2.5M71.5 354.5h5.8M525.5 354.5h-5.8M71.5 352.5h2.5M525.5 352.5h-2.5M71.5 349.5h2.5M525.5 349.5h-2.5M71.5 347.5h2.5M525.5 347.5h-2.5M71.5 344.5h2.5M525.5 344.5h-2.5M71.5 342.5h5.8M525.5 342.5h-5.8M71.5 339.5h2.5M525.5 339.5h-2.5M71.5 337.5h2.5M525.5 337.5h-2.5M71.5 334.5h2.5M525.5 334.5h-2.5M71.5 332.5h2.5M525.5 332.5h-2.5M71.5 330.5h5.8M525.5 330.5h-5.8M71.5 327.5h2.5M525.5 327.5h-2.5M71.5 325.5h2.5M525.5 325.5h-2.5M71.5 322.5h2.5M525.5 322.5h-2.5M71.5 320.5h2.5M525.5 320.5h-2.5M71.5 317.5h5.8M525.5 317.5h-5.8M71.5 315.5h2.5M525.5 315.5h-2.5" stroke="#000" stroke-width="1.15" fill="none"/>
<rect x="71.5" y="312.5" width="454" height="69" fill="none" stroke="#000" stroke-width="1.3"/>
<text x="68" y="321.6" font-size="11" text-anchor="end">350</text>
<text x="68" y="334" font-size="11" text-anchor="end">300</text>
<text x="68" y="346.4" font-size="11" text-anchor="end">250</text>
<text x="68" y="358.8" font-size="11" text-anchor="end">200</text>
<text x="68" y="371.2" font-size="11" text-anchor="end">150</text>
<text x="68" y="383.6" font-size="11" text-anchor="end">100</text>
<text x="44" y="347" font-size="11.5" text-anchor="middle" transform="rotate(-90 44 347)">| V<tspan font-size="8" dy="3">i</tspan><tspan dy="-3"> | [km/s]</tspan></text>
<line x1="132.9" y1="383" x2="132.9" y2="449" stroke="#ff00ff" stroke-width="1.45" stroke-dasharray="1.45 3.45"/>
<line x1="344.5" y1="383.2" x2="344.5" y2="449" stroke="#22aa22" stroke-width="1.2" stroke-dasharray="7 5.4"/>
<line x1="372.6" y1="383.2" x2="372.6" y2="449" stroke="#22aa22" stroke-width="1.2" stroke-dasharray="7 5.4"/>
<line x1="351.3" y1="383.2" x2="351.3" y2="449" stroke="#ff2020" stroke-width="1.2" stroke-dasharray="7 5.4"/>
<line x1="365.3" y1="383.2" x2="365.3" y2="449" stroke="#ff2020" stroke-width="1.2" stroke-dasharray="7 5.4"/>
<line x1="359.4" y1="383" x2="359.4" y2="449" stroke="#ff00ff" stroke-width="1.45" stroke-dasharray="1.45 3.45"/>
<line x1="370.9" y1="383" x2="370.9" y2="449" stroke="#0000ff" stroke-width="1.3" stroke-dasharray="1.4 3.5"/>
<path d="M71.9 397.8l.8 .4 .8-.2 .8 .2 .8-.6 .8 .4 .8-.2 .8-.6 .8 .7 .8-.7 .8-.5 .8 .3 .8-.2 .8 .1 .8 .5 .8-.3 .8 .8 .8-.7 .8 .4 .8-.1 .8-.6 .8 .8 .8 .3 .8 .3 .8-.8 .8 1 .8 .2 .8-1.1 .8 .1 .8-.1 .8-1.7 .8 .5 .8-1.5 .8 .5 .8 .1 .8-1.1 .8 .2 .8-1 .8 .3 .8-.1 .8 .4 .8-.5 .8 .3 .8-.5 .8-.4 .8 .2 .8 0 .8-.4 .8 .3 .8-.7 .8 .3 .8 0 .8-.4 .8 .8 .8 .6 .8 0 .8 1.8 .8-.2 .8 1 .8-.6 .8 2.6 .8 .2 .8 .7 .8 1.2 .8 1.4 .8-.2 .8 1.2 .8-1.6 .8 .3 .8-.9 .8-.3 .8-.6 .8-.7 .8 .3 .8 .4 .8-.4 .8 .2 .8-.4 .8 .8 .8 .7 .8-.5 .8-.2 .8-.6 .8 .4 .8 .6 .8-.5 .8 .3 .8-.4 .8-.1 .8 0 .8-.5 .8-.4 .8 .1 .8-.5 .8-.9 .8 .8 .8 .1 .8-.2 .8 .1 .8 .2 .8 .5 .8 .6 .8 .9 .8 0 .8 .3 .8 .1 .8 1 .8 .1 .8 1.6 .8-.1 .8 .3 .8 1.3 .8 .5 .8-.2 .8-.4 .8 1.2 .8-.4 .8 .6 .8-.5 .8 .4 .8 0 .8-.4 .8-.3 .8 .6 .8-.7 .8 .5 .8-.2 .8 .2 .8 .6 .8 0 .8 .5 .8 .5 .8 .4 .8 .1 .8 1 .8-.6 .8 .1 .8-1.2 .8 .7 .8-1.3 .8 0 .8-.8 .8-1.7 .8-.3 .8-.2 .8-.7 .8-1.4 .8 .2 .8 .1 .8-.4 .8 .9 .8-1.8 .8-1.8 .8-.4 .8 1.6 .8 1.8 .8 1.7 .8 2.2 .8 2.6 .8 1.1 .8 .8 .8 .6 .8 1.4 .8 .7 .8-.5 .8 .7 .8 .9 .8 0 .8-.6 .8 .2 .8 .5 .8-1 .8 0 .8 .1 .8 .1 .8-.3 .8-.5 .8 .3 .8 .3 .8-.9 .8 0 .8 0 .8 .8 .8-.8 .8-.5 .8 .9 .8 .1 .8-.4 .8 .4 .8 .1 .8 .4 .8-.2 .8 .3 .8-.1 .8 .4 .8 .3 .8 .2 .8 .2 .8-.1 .8 1.2 .8 .2 .8 .4 .8 1.1 .8-.3 .8 .2 .8 .5 .8-.5 .8 .8 .8 .4 .8 .5 .8 .3 .8 .1 .8-.4 .8-.3 .8 .1 .8-.7 .8 .1 .8 .1 .8 .5 .8-.5 .8-.7 .8 .7 .8-.3 .8-.2 .8 .2 .8-.5 .8 .3 .8-.3 .8-.5 .8 .4 .8 .1 .8 .4 .8-1 .8 .2 .8-.7 .8 .3 .8-.8 .8 .5 .8-.1 .8-1.1 .8 .5 .8-.7 .8-.6 .8-.2 .8-.9 .8 .3 .8-.4 .8-.9 .8 .4 .8-.5 .8-.3 .8-.2 .8 .1 .8-.5 .8 .3 .8 0 .8-.8 .8-.5 .8 .1 .8-1 .8 .2 .8-.3 .8 .3 .8-.4 .8-.2 .8-1.2 .8 .7 .8-.2 .8-1 .8 1 .8-.9 .8 .4 .8-1.1 .8-1.2 .8 1 .8-.9 .8-.2 .8-.1 .8-1.1 .8 .4 .8-1 .8 .8 .8-.2 .8-.2 .8-.1 .8-.3 .8-.7 .8-1.3 .8 .7 .8-.7 .8-.4 .8-.7 .8 .1 .8-.1 .8-.4 .8-1.2 .8 .3 .8 .2 .8-.5 .8 .2 .8-.7 .8 .3 .8-1.2 .8 .5 .8 .4 .8-1.3 .8 .5 .8 .6 .8-.7 .8 0 .8 0 .8-.5 .8 0 .8 .2 .8-.8 .8-1 .8-.2 .8-.8 .8 .4 .8-.9 .8 .2 .8 .4 .8-.4 .8 1 .8 0 .8 .5 .8-.3 .8 .5 .8-.2 .8 .5 .8-.2 .8 1 .8-.7 .8-.2 .8 .1 .8-.2 .8-.5 .8 .3 .8-.2 .8-1.1 .8 .2 .8-.4 .8-.8 .8-.1 .8-1.3 .8-1.9 .8 1 .8 .1 .8 .5 .8 .2 .8 1.3 .8 .6 .8-.4 .8 .4 .8-.9 .8-.2 .8 .4 .8-.8 .8-.4 .8-1 .8 .1 .8 .2 .8-.9 .8 .1 .8 .6 .8 0 .8 .1 .8 1 .8 .7 .8 .7 .8 .4 .8 2.1 .8 2.2 .8 .3 .8-.5 .8-.7 .8-1.2 .8-.7 .8-1.1 .8-.8 .8 .3 .8-.3 .8 2.7 .8-.5 .8 1.1 .8-2 .8 2.3 .8 .5 .8-1.2 .8 2.3 .8 .1 .8 .6 .8-1.8 .8-1.9 .8 2.3 .8-1.1 .8-1.5 .8 1.2 .8-6 .8 5.1 .8-1.3 .8 1 .8-3 .8 0 .8 4.4 .8-7.1 .8 5.7 .8-1.4 .8 .2 .8-.3 .8-2.5 .8 2.1 .8 3.9 .8 .1 .8 4.1 .8-1.6 .8 2.5 .8 .5 .8 3.5 .8-1.8 .8 .4 .8-1.9 .8 4.8 .8-6.1 .8-1.7 .8 1.9 .8-.5 .8-1.3 .8-1.6 .8-.4 .8-.4 .8-2.8 .8 0 .8 1.8 .8 5.4 .8-2.8 .8 6.6 .8 0 .8 1.5 .8 3.5 .8-1 .8-4 .8 .1 .8-1.1 .8 3.7 .8 1.9 .8 1 .8-3.3 .8 .2 .8 4 .8-3.8 .8-.4 .8 2.6 .8-4.1 .8 .7 .8-.9 .8 1.5 .8-.3 .8 .2 .8-.2 .8 .4 .8 2.3 .8-2.5 .8 2.3 .8 1.1 .8-1 .8-.1 .8-1.4 .8-1.3 .8 .4 .8 1.2 .8-1.3 .8-.2 .8-1.4 .8-4.3 .8-.2 .8 0 .8 .1 .8 2.3 .8-1.6 .8 3.5 .8-2.4 .8-1.6 .8 2.1 .8-2.4 .8 1.5 .8-2.4 .8 2.9 .8-.6 .8-1.6 .8 3.2 .8-.4 .8-.3 .8-2.8 .8 .3 .8 4.4 .8-3.5 .8-.8 .8 2 .8-.4 .8-3.4 .8 2.8 .8-2.1 .8 1.3 .8-.1 .8-4 .8 2.7 .8 .2 .8 .6 .8-.8 .8 3.3 .8-.2 .8-4.9 .8 1.6 .8 .8 .8 1.1 .8-1.2 .8 .1 .8-.6 .8 5.4 .8-6.2 .8 2.3 .8-.6 .8-1.1 .8 .6 .8-3.2 .8 3.8 .8-1.2 .8-1.1 .8 2.3 .8 .6 .8-.9 .8 .4 .8 .2 .8-1.2 .8-1.6 .8 .4 .8 4.9 .8-.2 .8-4.5 .8 3.7 .8 1.4 .8-1 .8 .3 .8 2.1 .8-2.2 .8-.7 .8-.6 .8 2.1 .8 .6 .8-.5 .8 2.5 .8-.3 .8-.5 .8 .3 .8-.8 .8-1.1 .8 .5 .8 .6 .8-1.7 .8-3 .8 9.2 .8-3.3 .8-2.1 .8 3.7 .8-4.2 .8 4.5" fill="none" stroke="#00ff00" stroke-width="0.9"/>
<path d="M71.9 428.3l.8-.2 .8-.1 .8-.4 .8 .6 .8-.5 .8 .2 .8-.4 .8 .4 .8-.5 .8 0 .8 0 .8-.6 .8-.1 .8-.2 .8-.1 .8 0 .8 .1 .8 .2 .8 .4 .8 0 .8-.2 .8 1 .8-.9 .8 1.5 .8-1.2 .8 .1 .8 .2 .8 .5 .8-.6 .8 .5 .8 .1 .8-.6 .8 .1 .8 .2 .8 0 .8-.4 .8-.4 .8 .3 .8-.1 .8 .3 .8 0 .8-.3 .8-.1 .8 .1 .8 .2 .8 .3 .8 .4 .8 .4 .8 .4 .8-.2 .8 .9 .8-.5 .8 .9 .8 .1 .8-.3 .8 1.5 .8 .4 .8-.1 .8-.8 .8-.1 .8 1.3 .8 .1 .8-.2 .8 .2 .8-.4 .8 .4 .8-1 .8 .1 .8 .2 .8 .3 .8-.4 .8-.1 .8-.1 .8-.4 .8-.7 .8 .3 .8-.1 .8-.3 .8 .1 .8-.1 .8-.5 .8-.1 .8 .5 .8 .2 .8 0 .8 .1 .8-.4 .8 .1 .8 .1 .8 .2 .8-.2 .8 1.3 .8 .8 .8 .1 .8 1.1 .8 .3 .8-.4 .8-.4 .8 .5 .8-.2 .8-1.1 .8 .5 .8 .1 .8-.9 .8 .9 .8-.9 .8 .1 .8-.8 .8-.2 .8-.4 .8 .1 .8-1.1 .8 0 .8-.1 .8-.5 .8 .2 .8-.8 .8-.1 .8 .2 .8-.5 .8 .1 .8 .2 .8-.3 .8 0 .8 0 .8 .7 .8-.1 .8-.7 .8 1.3 .8 .4 .8-.1 .8 .3 .8-.5 .8 1.2 .8-.1 .8 0 .8 .7 .8 0 .8-.2 .8 .6 .8 .6 .8 .2 .8 .8 .8 .2 .8 .1 .8 1.6 .8 .3 .8 .5 .8-.3 .8 .6 .8 .5 .8-.7 .8-.2 .8 1.2 .8-1.4 .8-.5 .8-.9 .8-.2 .8-1.1 .8-1 .8-.5 .8-.3 .8 .4 .8-.8 .8-.3 .8 .3 .8-.2 .8-.8 .8 .1 .8 0 .8 .2 .8 1 .8 .5 .8 0 .8 1.3 .8 .3 .8 .4 .8 0 .8 1.3 .8-.8 .8 1 .8 .6 .8-.8 .8 .4 .8 .1 .8 .6 .8-.3 .8-.4 .8 .2 .8-1.4 .8 .2 .8-1.1 .8 .3 .8 0 .8-1 .8 0 .8 .1 .8-1.6 .8 .1 .8-.6 .8 .2 .8-1.2 .8-.6 .8 .2 .8-.8 .8-.4 .8 .2 .8-.9 .8 .7 .8-.3 .8-.8 .8-.5 .8 .1 .8 .4 .8-.3 .8-1.1 .8-.3 .8-.4 .8-.1 .8-.6 .8-.7 .8 .3 .8-.2 .8-1.4 .8 .8 .8-.9 .8-.4 .8-.2 .8 0 .8-.9 .8 0 .8 .7 .8-1.3 .8-1 .8 .3 .8 .8 .8-1.9 .8 .2 .8-.3 .8-.4 .8-.4 .8-1.3 .8 1.3 .8-1.6 .8 .4 .8-.1 .8-1.1 .8-.5 .8 .3 .8-.1 .8-.3 .8-1 .8-.4 .8-.7 .8 .6 .8-.3 .8-.5 .8-.8 .8-.3 .8-.2 .8 .1 .8 .4 .8-.7 .8-.4 .8-.2 .8-.4 .8 0 .8-.6 .8 .8 .8-.7 .8-.3 .8 .4 .8-.4 .8 .1 .8-1 .8-.2 .8 1.2 .8 .5 .8 .8 .8 1.4 .8-.3 .8-.4 .8-.5 .8 .2 .8 .4 .8 .2 .8 .1 .8-.2 .8 .5 .8-.3 .8 .4 .8 0 .8 1.1 .8-.6 .8 .8 .8-.7 .8 1 .8 .7 .8-.4 .8 .9 .8-.4 .8-.3 .8 .7 .8 .4 .8 .3 .8 .4 .8 .2 .8 .7 .8 .2 .8-.1 .8-.1 .8 .8 .8 .6 .8 .1 .8 .1 .8-2.9 .8-.8 .8-2.2 .8-2.1 .8-1.4 .8-1.1 .8 2.2 .8 .6 .8 .3 .8 1.3 .8 .6 .8-.3 .8-2 .8-.9 .8 .2 .8-1.4 .8-.6 .8-.8 .8-.5 .8-1.2 .8 1 .8 .7 .8 .9 .8 .2 .8 1.8 .8 .7 .8 .1 .8 0 .8-.6 .8 .6 .8-1.1 .8-.4 .8-.1 .8 0 .8-.2 .8-.2 .8-.6 .8 .2 .8 .8 .8 .9 .8-.2 .8 1.6 .8 .6 .8 .5 .8 0 .8 .7 .8 .4 .8 .6 .8-.1 .8-.3 .8 1.1 .8-1 .8-.2 .8-.6 .8-.8 .8 .2 .8 .4 .8-.9 .8 1.3 .8 1.2 .8 .1 .8 1.9 .8 .1 .8 1.6 .8-.7 .8-1 .8-2 .8-1.3 .8-1.3 .8-.7 .8-4.9 .8-2.9 .8-2.2 .8 1.1 .8-3.4 .8-3.9 .8-4.2 .8-2.3 .8 1.4 .8-1 .8-.3 .8 2.5 .8-1.2 .8-2.6 .8 4.9 .8-1.3 .8-1.5 .8 1.2 .8 .9 .8-1.9 .8 2.6 .8-8.7 .8 5.3 .8 1 .8-3.3 .8-.4 .8 1.5 .8 2 .8 .6 .8-1.9 .8 1.5 .8 3.1 .8 .2 .8-.1 .8 .4 .8 0 .8-2.7 .8-.1 .8 5.1 .8-2.9 .8 2.7 .8-.5 .8-1.5 .8 .5 .8-3.1 .8-1.4 .8 2.1 .8-4 .8 .9 .8 0 .8 2.9 .8-3 .8 .4 .8-3 .8 3.2 .8-4.2 .8 1.2 .8-1.5 .8 3.2 .8 .1 .8 .1 .8 .4 .8 1.3 .8 2.4 .8-2.6 .8-.3 .8 2.2 .8-.1 .8 3.2 .8-1.6 .8-1.1 .8 0 .8 4.3 .8-2.4 .8 2.8 .8-3.8 .8-.2 .8-.1 .8-.3 .8 1.8 .8-5.2 .8 5.1 .8-.6 .8-1.6 .8-3.3 .8 2.5 .8 3.1 .8-2.5 .8 .9 .8 1.7 .8 0 .8-.7 .8 .7 .8-5.1 .8 3 .8-1.1 .8 0 .8 1.2 .8 3.6 .8-2.2 .8 1.6 .8-1 .8-1.7 .8 3.4 .8-3.5 .8 3.8 .8-1.3 .8-1.2 .8-.4 .8-1.2 .8 3.3 .8-2.1 .8 3 .8-3 .8 1.8 .8-.9 .8-2.5 .8 2.4 .8 2.5 .8-2.6 .8 2.9 .8-3 .8-1.1 .8 5.5 .8-2.5 .8 .3 .8 .5 .8 1.5 .8 2 .8-5.6 .8 6 .8-2.2 .8 .4 .8 3 .8-6.1 .8 .7 .8 .9 .8 5.4 .8-4.6 .8 3.1 .8-.6 .8-1.7 .8 3.5 .8-.6 .8-1.2 .8-1 .8 1.5 .8 2.7 .8-.6 .8-1.6 .8 2.3 .8 .5 .8-2.5 .8 1.1 .8-4 .8 7.5 .8 1.1 .8-2.1 .8-.9 .8 2.3 .8-1.3 .8 1.5 .8-.5 .8-.5 .8-4.2 .8 6.2 .8 .8 .8-1.4 .8-1 .8 2.2 .8-1.3 .8 2.2 .8-2.8 .8 2.1 .8-.1 .8 .5 .8-1.3 .8-1.3 .8 .2 .8 .8 .8-.6" fill="none" stroke="#0000ff" stroke-width="0.9"/>
<path d="M71.9 431.9l.8 .2 .8 .1 .8 .8 .8 .3 .8-.4 .8 .2 .8-.4 .8 .8 .8 0 .8 .8 .8 .5 .8-.9 .8-.1 .8 .4 .8-.2 .8 .1 .8 .6 .8-.1 .8 .2 .8-.6 .8 .6 .8-.1 .8 .8 .8-.3 .8 0 .8 .1 .8 .1 .8-.3 .8-.3 .8 .1 .8 .3 .8-.1 .8-.7 .8-.1 .8 .8 .8-.3 .8 .3 .8-.2 .8-.3 .8 0 .8 0 .8-.5 .8-.4 .8 .9 .8-.3 .8-.5 .8 .4 .8-.2 .8 .2 .8 .1 .8 0 .8-.6 .8 .2 .8-.8 .8-.1 .8-.1 .8 .6 .8 .3 .8-.2 .8 .3 .8 .4 .8-.2 .8 .1 .8 .9 .8 .8 .8 .8 .8 .6 .8 .3 .8 1 .8 .2 .8 .7 .8 .2 .8 .5 .8-.9 .8 .2 .8 .5 .8 .7 .8-.6 .8 .5 .8 .7 .8 .7 .8-.6 .8 .8 .8 .5 .8 .1 .8-.3 .8 .2 .8-.8 .8-.6 .8 0 .8 .2 .8-.6 .8-.4 .8-.6 .8-.2 .8 .8 .8-.7 .8 .1 .8 .1 .8 .5 .8-1 .8 .7 .8 .2 .8-.4 .8 .5 .8 .8 .8-.4 .8 .5 .8 1 .8-.3 .8 1 .8-.1 .8 .4 .8 .9 .8 .9 .8-.4 .8-.2 .8-.2 .8 .1 .8-.3 .8 .1 .8 0 .8 .2 .8-.5 .8 .7 .8 .3 .8-.5 .8 .1 .8-.8 .8-.9 .8 .2 .8-.4 .8-.5 .8-.3 .8 .3 .8-.5 .8 0 .8-.3 .8-.9 .8 1 .8-.9 .8 .1 .8-.6 .8 0 .8-.6 .8-.6 .8-.3 .8-.2 .8-.1 .8-.3 .8-.4 .8-1 .8 .1 .8-1 .8 .7 .8 .8 .8 1 .8 .4 .8 .6 .8 1.3 .8 1.3 .8 .4 .8 .9 .8 1.5 .8 .1 .8 .7 .8 0 .8-1 .8-.3 .8-.7 .8 0 .8-1 .8 .3 .8-1.1 .8 0 .8-.3 .8-.2 .8-.2 .8 .6 .8-.3 .8-.7 .8-.3 .8 .6 .8 0 .8-1.1 .8 .5 .8-.2 .8-.5 .8 .2 .8 .1 .8 .7 .8-.5 .8 .5 .8 .5 .8 .2 .8-.3 .8 1.1 .8-.1 .8 .7 .8-.3 .8 .9 .8-.4 .8 .5 .8 .1 .8-.1 .8 .1 .8 .1 .8 .1 .8 .5 .8 .1 .8-.7 .8 .9 .8 0 .8-.1 .8 .3 .8-1.1 .8 1.1 .8-.6 .8 .9 .8-1.2 .8 .9 .8-.4 .8 .9 .8-.1 .8 .1 .8 .4 .8 0 .8 0 .8 .3 .8-.2 .8 1 .8-.2 .8 1.5 .8-.4 .8-.1 .8 .8 .8-1 .8-.1 .8 .3 .8-.2 .8 .6 .8-.6 .8 .6 .8-.7 .8 1.1 .8 .2 .8-.9 .8-1.2 .8 1.3 .8-.4 .8-1.4 .8-.5 .8 .3 .8 .1 .8-.2 .8-.5 .8-.2 .8 0 .8-.7 .8 .2 .8 .6 .8-.6 .8-.8 .8 .4 .8 .2 .8 .1 .8 0 .8 0 .8-.8 .8 .2 .8 .2 .8 0 .8-.9 .8-.2 .8 .1 .8-.2 .8-.5 .8-.3 .8-.5 .8-.3 .8-.5 .8 0 .8-.5 .8 .5 .8-.4 .8-.1 .8-.9 .8 .4 .8-1.1 .8 .4 .8-.9 .8 .5 .8-1.2 .8-.2 .8 .2 .8-.5 .8-.5 .8-.4 .8-.1 .8-.1 .8-1 .8 .4 .8-.8 .8-.3 .8 .4 .8-.7 .8-.2 .8 .4 .8-.5 .8-.1 .8-.3 .8 0 .8 .6 .8-.1 .8 .7 .8 .7 .8 0 .8 1.3 .8-.6 .8-.4 .8 .2 .8-.4 .8-.4 .8-.2 .8-.1 .8 .3 .8 .8 .8-.9 .8 1.5 .8-.7 .8 .5 .8 .4 .8 .8 .8 .4 .8 .5 .8 .3 .8 .1 .8-1 .8-.3 .8-.9 .8-.7 .8-.9 .8-1.2 .8-.4 .8-.2 .8 .4 .8-.9 .8-.1 .8-.5 .8-.2 .8 1.2 .8 .8 .8-.4 .8 1 .8-.1 .8 1 .8-.3 .8 1.3 .8-1.6 .8-1.5 .8-2.8 .8-.6 .8-2.5 .8 .2 .8-.1 .8 .7 .8-.2 .8-1.5 .8-2.9 .8-1.9 .8-2.9 .8-.7 .8-2.1 .8-.8 .8-1.2 .8 1.3 .8 1 .8 1.3 .8 1.6 .8 2.5 .8-2.8 .8-1.9 .8-1.8 .8-3.6 .8-.2 .8-2.2 .8-4.1 .8-1.8 .8-.6 .8-3.3 .8 .6 .8 2.3 .8 .1 .8 4.7 .8 1.6 .8 2.2 .8-.8 .8 1.6 .8 .8 .8-5.5 .8 1.5 .8 .6 .8-.5 .8-.6 .8-1 .8 2 .8 1.7 .8 2.1 .8-1.6 .8 .8 .8-1.1 .8 1.4 .8-3.6 .8 3 .8-7.4 .8 5 .8 1.6 .8 1.1 .8 2.9 .8-.1 .8 0 .8 .1 .8 1.8 .8 .1 .8 2.1 .8-3.6 .8 1.2 .8-3 .8-2 .8-4.6 .8-2.3 .8 1.1 .8-4.3 .8-1.8 .8-3.8 .8 .7 .8 .5 .8-.8 .8-.8 .8 2.1 .8 1.5 .8 1.9 .8-1.2 .8-2.5 .8 2.1 .8 .4 .8-1.1 .8 0 .8 1.1 .8 .5 .8 1.3 .8-.7 .8 2.9 .8-2.7 .8 2.6 .8-5.8 .8 3.3 .8 1.5 .8-4.8 .8 5.9 .8-3.6 .8 2.8 .8 .2 .8-5.1 .8 6.1 .8-4 .8-.8 .8 7.2 .8-3.1 .8 .5 .8-5.7 .8 .3 .8 1.8 .8-4.6 .8 1.6 .8 2.7 .8-2.6 .8 2.7 .8-6.6 .8 2.3 .8 0 .8 .2 .8-3.1 .8 .8 .8 0 .8 .4 .8-2.4 .8 5.1 .8-2.4 .8 .9 .8-2.2 .8-1.1 .8 1.5 .8 4.2 .8-1.8 .8-1.9 .8-.8 .8 3.8 .8-2.7 .8 .4 .8-1.5 .8 1 .8 2 .8-3.1 .8 4.5 .8-1.1 .8 .4 .8-.4 .8 1.8 .8 2.5 .8-6.1 .8 3.3 .8-1.6 .8 5.9 .8-2.8 .8-4.8 .8 1 .8 3.3 .8-.5 .8 .5 .8 .1 .8 2.8 .8-.7 .8-1.5 .8-.9 .8 3.7 .8-3 .8 2.2 .8 .2 .8 2.2 .8-3.5 .8 2.4 .8-2 .8-.3 .8 2.1 .8 1.6 .8-1.4 .8 1.2 .8 .2 .8-3.9 .8 4.8 .8-3.8 .8 2.4 .8 3.1 .8-.4 .8-1.9 .8-2 .8 .1 .8-.6 .8 5.2 .8-1 .8-2.2 .8-.3 .8-1.9 .8 2.1 .8 .8 .8-3.5 .8 2.8 .8 2.5 .8 1 .8-3.9 .8-1.3 .8 4.7 .8-.9 .8 .4 .8-1.6" fill="none" stroke="#ff0000" stroke-width="0.9"/>
<line x1="71.5" y1="417.2" x2="525.5" y2="417.2" stroke="#000" stroke-width="1.7" stroke-dasharray="4.7 3"/>
<line x1="77" y1="389.3" x2="95" y2="389.3" stroke="#0000ff" stroke-width="0.9"/>
<text x="97" y="393" font-size="10" fill="#0000ff">V<tspan font-size="7" dy="3">L</tspan></text>
<line x1="77" y1="402.6" x2="95" y2="402.6" stroke="#00ff00" stroke-width="0.9"/>
<text x="97" y="406.5" font-size="10" fill="#00ff00">V<tspan font-size="7" dy="3">M</tspan></text>
<line x1="77" y1="419.2" x2="95" y2="419.2" stroke="#ff0000" stroke-width="0.9"/>
<text x="97" y="422.8" font-size="10" fill="#ff0000">V<tspan font-size="7" dy="3">N</tspan></text>
<path d="M90.5 381.5v3.7M90.5 449.5v-3.7M123.5 381.5v3.7M123.5 449.5v-3.7M155.5 381.5v10.5M155.5 449.5v-10.5M188.5 381.5v3.7M188.5 449.5v-3.7M220.5 381.5v3.7M220.5 449.5v-3.7M253.5 381.5v10.5M253.5 449.5v-10.5M285.5 381.5v3.7M285.5 449.5v-3.7M318.5 381.5v3.7M318.5 449.5v-3.7M350.5 381.5v10.5M350.5 449.5v-10.5M382.5 381.5v3.7M382.5 449.5v-3.7M415.5 381.5v3.7M415.5 449.5v-3.7M447.5 381.5v10.5M447.5 449.5v-10.5M480.5 381.5v3.7M480.5 449.5v-3.7M512.5 381.5v3.7M512.5 449.5v-3.7" stroke="#000" stroke-width="1.15" fill="none"/>
<path d="M71.5 448.5h2.5M525.5 448.5h-2.5M71.5 446.5h2.5M525.5 446.5h-2.5M71.5 443.5h2.5M525.5 443.5h-2.5M71.5 441.5h5.8M525.5 441.5h-5.8M71.5 438.5h2.5M525.5 438.5h-2.5M71.5 436.5h2.5M525.5 436.5h-2.5M71.5 434.5h2.5M525.5 434.5h-2.5M71.5 431.5h2.5M525.5 431.5h-2.5M71.5 429.5h5.8M525.5 429.5h-5.8M71.5 426.5h2.5M525.5 426.5h-2.5M71.5 424.5h2.5M525.5 424.5h-2.5M71.5 422.5h2.5M525.5 422.5h-2.5M71.5 419.5h2.5M525.5 419.5h-2.5M71.5 417.5h5.8M525.5 417.5h-5.8M71.5 414.5h2.5M525.5 414.5h-2.5M71.5 412.5h2.5M525.5 412.5h-2.5M71.5 409.5h2.5M525.5 409.5h-2.5M71.5 407.5h2.5M525.5 407.5h-2.5M71.5 405.5h5.8M525.5 405.5h-5.8M71.5 402.5h2.5M525.5 402.5h-2.5M71.5 400.5h2.5M525.5 400.5h-2.5M71.5 397.5h2.5M525.5 397.5h-2.5M71.5 395.5h2.5M525.5 395.5h-2.5M71.5 393.5h5.8M525.5 393.5h-5.8M71.5 390.5h2.5M525.5 390.5h-2.5M71.5 388.5h2.5M525.5 388.5h-2.5M71.5 385.5h2.5M525.5 385.5h-2.5M71.5 383.5h2.5M525.5 383.5h-2.5" stroke="#000" stroke-width="1.15" fill="none"/>
<rect x="71.5" y="381.5" width="454" height="68" fill="none" stroke="#000" stroke-width="1.3"/>
<text x="527.5" y="385.1" font-size="11">300</text>
<text x="527.5" y="397.1" font-size="11">200</text>
<text x="527.5" y="409.1" font-size="11">100</text>
<text x="527.5" y="421.2" font-size="11">0</text>
<text x="527.5" y="433.2" font-size="11">-100</text>
<text x="527.5" y="445.3" font-size="11">-200</text>
<text x="563" y="416" font-size="11.5" text-anchor="middle" transform="rotate(-90 563 416)">V<tspan font-size="8" dy="3">i LMN</tspan><tspan dy="-3"> [km/s]</tspan></text>
<line x1="132.9" y1="451" x2="132.9" y2="518" stroke="#ff00ff" stroke-width="1.45" stroke-dasharray="1.45 3.45"/>
<line x1="344.5" y1="451.2" x2="344.5" y2="518" stroke="#22aa22" stroke-width="1.2" stroke-dasharray="7 5.4"/>
<line x1="372.6" y1="451.2" x2="372.6" y2="518" stroke="#22aa22" stroke-width="1.2" stroke-dasharray="7 5.4"/>
<line x1="351.3" y1="451.2" x2="351.3" y2="518" stroke="#ff2020" stroke-width="1.2" stroke-dasharray="7 5.4"/>
<line x1="365.3" y1="451.2" x2="365.3" y2="518" stroke="#ff2020" stroke-width="1.2" stroke-dasharray="7 5.4"/>
<line x1="359.4" y1="451" x2="359.4" y2="518" stroke="#ff00ff" stroke-width="1.45" stroke-dasharray="1.45 3.45"/>
<line x1="370.9" y1="451" x2="370.9" y2="518" stroke="#0000ff" stroke-width="1.3" stroke-dasharray="1.4 3.5"/>
<path d="M71.9 487.2l.8 1.6 .8 .8 .8-.3 .8 .7 .8 2.2 .8-1.8 .8 .7 .8-.8 .8 .9 .8 .1 .8 .3 .8-.2 .8-1.8 .8-.2 .8-1.6 .8-1.3 .8-.9 .8-1.7 .8-1.3 .8-.6 .8 2.1 .8-4 .8 2.4 .8-3.5 .8 1 .8 2.2 .8 1.6 .8 .2 .8-1.6 .8-1 .8-.6 .8-.2 .8-.2 .8 .8 .8-.4 .8 1.9 .8-3.8 .8 2.3 .8 .8 .8-.2 .8 .6 .8 .2 .8 1.1 .8-1.1 .8 .3 .8-.5 .8 1.1 .8-.4 .8 .4 .8-.6 .8 .3 .8-.8 .8-.7 .8 .3 .8-.1 .8 1.2 .8 .9 .8 2.2 .8 2.4 .8 1.4 .8-3 .8-2.8 .8-5.2 .8-.8 .8-4.5 .8-1.2 .8 4 .8 1.1 .8 .8 .8 3.8 .8 2.3 .8 .4 .8 .9 .8 2.4 .8 2.3 .8-2.6 .8 0 .8-.7 .8 .3 .8-.4 .8-.1 .8-1.1 .8 .2 .8 1.9 .8-1.6 .8 2.1 .8 1.3 .8 1 .8 .8 .8-.3 .8 .4 .8-.8 .8 .1 .8-.4 .8 .5 .8-2.6 .8 2.4 .8-1.3 .8 .9 .8 .9 .8 1.3 .8 4.2 .8 2.8 .8-.4 .8-3.9 .8-5.7 .8-1.5 .8-4.3 .8-.3 .8-1.8 .8-.8 .8 .9 .8-1.1 .8-3.4 .8 .1 .8-2 .8-3.6 .8-2 .8 .7 .8-.6 .8 .3 .8 .5 .8-.2 .8-2.2 .8-.3 .8 2.5 .8-.8 .8 .1 .8 2.1 .8-.3 .8-.2 .8 1.5 .8-.1 .8 2 .8 .8 .8 .5 .8-.1 .8-3.1 .8-3.6 .8 2.3 .8 6.6 .8-.6 .8-2.5 .8-5.4 .8-1.3 .8 2.1 .8 2.6 .8-.5 .8 1.9 .8-3.4 .8-1.6 .8-.5 .8-2.2 .8 5.4 .8 6 .8-3 .8-6.1 .8-6.4 .8-1.7 .8-1.3 .8-.5 .8-1.2 .8-.4 .8-1.6 .8 1.1 .8-1.8 .8-.4 .8-1 .8-.4 .8 .5 .8-.5 .8-.8 .8 0 .8 2.8 .8 1.2 .8 2.6 .8 1.9 .8-1.3 .8 .1 .8-.2 .8-.7 .8 .4 .8-.4 .8 1.4 .8 1.2 .8-.1 .8 1.1 .8 2.3 .8 .2 .8 1.9 .8-3.2 .8-.8 .8 .7 .8 1.8 .8-1 .8-1.4 .8 1.2 .8 .8 .8-.8 .8 .8 .8 .2 .8 .4 .8-.3 .8 2.4 .8 3.3 .8-7.4 .8-1.6 .8 2.2 .8 3.2 .8 .7 .8-1.1 .8-2.7 .8 2.9 .8 .3 .8-1.6 .8-.2 .8-.2 .8 .7 .8-2.4 .8 1.8 .8 1 .8 1.7 .8 .6 .8-.5 .8 .1 .8 2 .8 .6 .8 1.5 .8 .5 .8 .8 .8 1.2 .8 .7 .8 1.4 .8 .7 .8-.5 .8 2 .8 1.4 .8 1.3 .8 1.4 .8-.7 .8 .6 .8-1.1 .8 1.3 .8 1.1 .8 .4 .8-.1 .8 .7 .8 2.4 .8-1.2 .8 .8 .8 1.9 .8-1.7 .8-.7 .8 2.4 .8 1.3 .8-1.7 .8 .7 .8-.4 .8 .1 .8-.2 .8-.9 .8-.5 .8-.3 .8 .2 .8 .5 .8-.9 .8-.6 .8-.4 .8 .9 .8-1.7 .8 1.2 .8 .5 .8-1.6 .8 1.7 .8-2.4 .8 1.3 .8-.3 .8 1.1 .8-.2 .8 .1 .8 .7 .8-1.4 .8 1.1 .8 .6 .8-1.3 .8 1.3 .8 .6 .8-2.1 .8 .7 .8-.6 .8-1.3 .8 .7 .8-.8 .8 1.4 .8-.6 .8-.8 .8 .4 .8-.7 .8-.3 .8-2.6 .8 1.9 .8-1.9 .8-.6 .8 .2 .8-1.4 .8-.7 .8-.8 .8 1.3 .8-3 .8-.3 .8-2.3 .8 1.8 .8 4.4 .8 2 .8-3.6 .8-1.6 .8-.4 .8 3.3 .8 10.1 .8 5.8 .8-1.5 .8 1.9 .8 .3 .8-3.3 .8 3.7 .8-1.8 .8-1 .8-.1 .8-1.9 .8-3.7 .8-1.6 .8-3.8 .8 1.9 .8 3.4 .8 4.2 .8 1.7 .8 1.4 .8 1.7 .8 1.9 .8 1.2 .8 1.6 .8-.4 .8 .5 .8-2.8 .8 .4 .8-1.2 .8-.6 .8 .2 .8-.8 .8 0 .8 .3 .8 0 .8 .3 .8-1.2 .8 1.1 .8 3.2 .8 3.1 .8 2 .8 4.6 .8-.6 .8 .6 .8 .7 .8-.2 .8 1.9 .8-2 .8-.7 .8-.2 .8-.9 .8 .1 .8 2.7 .8-1.1 .8 .3 .8 .2 .8 1 .8 2.3 .8-.7 .8-.5 .8 .5 .8 0 .8-.4 .8 .6 .8 .4 .8-.5 .8 .4 .8 .4 .8-.2 .8 .3 .8-.1 .8 .1 .8 0 .8 .2 .8 0 .8 .1 .8-.2 .8 .1 .8 .1 .8 .1 .8-.1 .8 0 .8-.1 .8 0 .8 0 .8 .2 .8 0 .8-.1 .8 0 .8 .1 .8-.1 .8 .1 .8-.1 .8 .1 .8 0 .8 0 .8 0 .8-.1 .8 .1 .8 0 .8 0 .8-.1 .8 .2 .8-.2 .8 .2 .8-.1 .8-.2 .8 0 .8 .2 .8-.1 .8 0 .8 0 .8 .1 .8-.1 .8-.1 .8 .2 .8-.1 .8 .1 .8 0 .8 0 .8 .1 .8-.1 .8 0 .8 0 .8 .2 .8-.2 .8-.1 .8 .3 .8-.1 .8-.1 .8 0 .8-.1 .8 .2 .8-.2 .8 .1 .8-.1 .8 .1 .8 .1 .8-.2 .8 .1 .8 0 .8-.1 .8 0 .8 0 .8 0 .8 .1 .8-.3 .8 .3 .8-.1 .8-.1 .8 .2 .8 .1 .8-.1 .8-.2 .8 .2 .8 0 .8 .1 .8 0 .8-.2 .8 .1 .8-.1 .8 .1 .8 0 .8-.1 .8 .1 .8-.1 .8 .1 .8 0 .8 0 .8-.1 .8 0 .8 .1 .8-.2 .8 .3 .8-.1 .8 .1 .8-.2 .8 .1 .8-.1 .8 .1 .8 .2 .8-.2 .8-.3 .8 .3 .8 0 .8 0 .8-.2 .8 .3 .8 .1 .8-.4 .8 .2 .8-.1 .8 .1 .8-.2 .8 0 .8 .2 .8 0 .8-.1 .8 .1 .8 0 .8 0 .8-.1 .8 0 .8 .2 .8-.1 .8 0 .8 .1 .8 0 .8-.1 .8 .1 .8-.2 .8 .1 .8 .1 .8-.2 .8 .1 .8 0 .8 0 .8-.1 .8-.1 .8 .3 .8-.2 .8 .2 .8-.3 .8 .3 .8-.1 .8-.2 .8 .2 .8 .1 .8 0 .8 .1 .8-.2 .8 .1 .8-.1 .8 .1 .8-.1 .8 0 .8 .1 .8-.1 .8 0 .8 0 .8-.1 .8-.1 .8 .2 .8 .1 .8 0 .8-.2 .8-.1 .8 .2 .8-.2" fill="none" stroke="#ff0000" stroke-width="1.1"/>
<path d="M71.9 488.2l.8-.1 .8 1.4 .8-.2 .8-.9 .8 2.6 .8-.9 .8 1.2 .8 .2 .8 .5 .8-1.3 .8-.7 .8 .6 .8-.1 .8-2.5 .8-.3 .8-1.9 .8 0 .8-2 .8-.5 .8-.3 .8-1.1 .8-2.1 .8-.1 .8 .4 .8 .1 .8 1.3 .8 2.9 .8-.1 .8-2 .8-1.2 .8-.2 .8-1.8 .8-.1 .8 1.5 .8 .8 .8-1.8 .8 .8 .8 1.3 .8-.3 .8 .8 .8 0 .8 1.8 .8-3.1 .8 1.9 .8-.8 .8-.8 .8 1.1 .8 .3 .8 1 .8-1 .8-.7 .8-.2 .8 .7 .8 .2 .8-1.4 .8 .9 .8 1.8 .8 1.5 .8 1.7 .8 1.8 .8-2.5 .8-3.5 .8-2.6 .8-3.3 .8-3.3 .8-1 .8 3.5 .8 1.2 .8 4.5 .8 1.6 .8-.5 .8 3.3 .8-1.2 .8 .9 .8 2 .8 0 .8 0 .8 1 .8-2.8 .8 .4 .8 .4 .8-1 .8 .7 .8 0 .8 1.8 .8 .7 .8 .6 .8 1.1 .8-.3 .8 .8 .8-.2 .8-.6 .8-.3 .8-.2 .8 1.1 .8-1.4 .8 .6 .8 .4 .8-1.2 .8 1.2 .8 2.3 .8 1.1 .8 5.2 .8-1.7 .8-3.5 .8-3.2 .8-5 .8-3.1 .8-.2 .8 .2 .8-2.4 .8-.6 .8 0 .8-2 .8-.5 .8-2.7 .8-1.6 .8-2.1 .8-1.7 .8 1.3 .8-.7 .8-.6 .8-1 .8 1.1 .8 .2 .8 .2 .8-.4 .8-.3 .8 .8 .8 0 .8 1.1 .8 2.2 .8-1.2 .8 2.7 .8-.8 .8 1.9 .8-.5 .8-2.6 .8-6.3 .8 4 .8 6.5 .8 1.7 .8-3.6 .8-5.5 .8-1.1 .8 1 .8 1.5 .8 2.1 .8 .3 .8-.7 .8-3 .8-.9 .8-2.9 .8 5.4 .8 5.1 .8-3.6 .8-4.3 .8-4.2 .8-4.2 .8-.3 .8-.8 .8-1.4 .8-.4 .8 .3 .8-.7 .8-4.1 .8 1.6 .8 .6 .8-.8 .8 .7 .8-1.7 .8 .5 .8-1.1 .8 1.1 .8 4.1 .8 2.4 .8 1.3 .8-1.6 .8 .6 .8-1.9 .8 .3 .8 .3 .8-.7 .8 1.5 .8 1.7 .8 1.1 .8 .4 .8 .8 .8 1.5 .8-.9 .8 0 .8 .3 .8-2.6 .8 1.2 .8-.2 .8 .6 .8 .4 .8 .7 .8 1.1 .8-1 .8-1.4 .8 1.2 .8 1.7 .8 1.2 .8 2.4 .8-7.4 .8 1.1 .8 2.4 .8 .2 .8 1 .8 .7 .8-.9 .8-2.2 .8 2 .8-.7 .8 .7 .8-1.1 .8-1.5 .8 .4 .8 1.6 .8 1.2 .8 .4 .8-.4 .8 1.4 .8 1 .8 .6 .8 .1 .8 1.2 .8 .1 .8 2.1 .8 .5 .8 .6 .8 3.4 .8-1.4 .8 1.1 .8 1.2 .8 .8 .8 0 .8 .6 .8 1.9 .8 .7 .8 .7 .8-1 .8 1.1 .8 1.2 .8 .8 .8 .4 .8 1.2 .8-1.2 .8 2.4 .8-.9 .8 1 .8-.7 .8 1.2 .8-.7 .8 .3 .8 1.2 .8-1.7 .8 .4 .8-.2 .8 .1 .8-.9 .8 1 .8-.5 .8-2 .8-.2 .8 .5 .8 .7 .8 .3 .8-.9 .8-1.1 .8 .7 .8-1.6 .8 1.4 .8 0 .8 .3 .8-1.3 .8 1.8 .8-.2 .8-1 .8 .2 .8 .5 .8 0 .8 2.7 .8-.9 .8-1.5 .8-.8 .8-.1 .8 .8 .8-1.4 .8 1.2 .8 .2 .8-.5 .8-.6 .8-1.1 .8-.2 .8 .3 .8-.1 .8-.7 .8-.2 .8-.4 .8-.2 .8-1.1 .8-.6 .8-1.3 .8-1.5 .8-.6 .8 .1 .8-.9 .8 .3 .8-2.3 .8 2.1 .8 4.3 .8-1.3 .8-2.6 .8-1.6 .8-.1 .8 5.7 .8 8.5 .8 4 .8 1.4 .8-.8 .8 .8 .8 1.1 .8 .3 .8-2.7 .8-.2 .8-2.6 .8-1.3 .8-1.1 .8-.7 .8-2.8 .8-.6 .8 2.8 .8 4.5 .8 1.7 .8 2.2 .8 1.5 .8 3.6 .8-.4 .8 1.7 .8-1.2 .8-.8 .8 0 .8-1.5 .8-1 .8 .5 .8 1.2 .8-2.7 .8 1.2 .8 .4 .8-.4 .8-.3 .8 0 .8-.9 .8 2 .8 4.3 .8 3.6 .8 3.2 .8 .8 .8-.2 .8 .7 .8-.4 .8 .1 .8 1.9 .8-2 .8-.8 .8-.2 .8-.6 .8 .1 .8 2.6 .8 1 .8-.3 .8 1.9 .8-2.2 .8 1.5 .8-.7 .8 .6 .8 1.5 .8-.8 .8-.1 .8 0 .8 .9 .8-.7 .8 .5 .8 0 .8 0 .8 0 .8 0 .8 .1 .8-.2 .8 .2 .8 0 .8 0 .8 0 .8 .1 .8 .2 .8 .1 .8-.2 .8 .1 .8 0 .8 0 .8 0 .8 .1 .8 .1 .8 .1 .8-.2 .8 0 .8 .1 .8-.1 .8 .1 .8-.1 .8-.1 .8 .1 .8 .2 .8-.2 .8 0 .8-.1 .8 .1 .8-.1 .8 .1 .8-.1 .8-.2 .8 .3 .8 0 .8 .1 .8-.1 .8 0 .8 0 .8 0 .8-.2 .8 0 .8 .2 .8 0 .8 .1 .8-.1 .8-.2 .8 .1 .8 .1 .8 .1 .8 0 .8-.2 .8 0 .8 .1 .8-.1 .8 .1 .8-.1 .8 .1 .8-.1 .8 .2 .8-.2 .8-.1 .8 .5 .8-.5 .8 .1 .8 .1 .8-.2 .8 .1 .8 .1 .8-.1 .8 .1 .8-.1 .8 .1 .8 .1 .8-.1 .8 0 .8-.2 .8 .1 .8 .1 .8 .2 .8-.2 .8 0 .8 0 .8-.1 .8 .1 .8 0 .8-.2 .8-.1 .8 .3 .8 0 .8 .1 .8-.1 .8 0 .8-.1 .8-.1 .8 .2 .8-.2 .8 .2 .8-.1 .8 .1 .8 0 .8 .1 .8-.1 .8-.1 .8 .2 .8 0 .8 0 .8 .1 .8-.2 .8 0 .8 0 .8-.2 .8 .2 .8-.2 .8 .2 .8-.1 .8 .2 .8-.1 .8-.2 .8 .1 .8 .2 .8-.2 .8 .1 .8 0 .8 .1 .8-.1 .8 .3 .8-.3 .8 0 .8 0 .8 0 .8 0 .8 0 .8 .1 .8-.2 .8 0 .8 .1 .8-.2 .8 .3 .8 0 .8-.2 .8 .1 .8-.2 .8 .1 .8 .1 .8 0 .8-.1 .8 .1 .8-.1 .8 .4 .8-.3 .8 0 .8 0 .8 .1 .8-.1 .8 0 .8-.1 .8 0 .8 0 .8 .1 .8 .2 .8-.2 .8 0 .8 0 .8-.1 .8 .3 .8-.3 .8-.1 .8 .1 .8 .1 .8-.1 .8 0 .8 .2 .8-.1 .8-.1 .8 .2" fill="none" stroke="#220000" stroke-width="0.9"/>
<line x1="77" y1="457.5" x2="95" y2="457.5" stroke="#ff0000" stroke-width="0.9"/>
<text x="97" y="461.2" font-size="9.5" fill="#ff0000">Ne</text>
<line x1="77" y1="470.5" x2="95" y2="470.5" stroke="#333" stroke-width="0.9"/>
<text x="97" y="474.2" font-size="9.5" fill="#111">Ni</text>
<path d="M90.5 449.5v3.7M90.5 518.5v-3.7M123.5 449.5v3.7M123.5 518.5v-3.7M155.5 449.5v10.5M155.5 518.5v-10.5M188.5 449.5v3.7M188.5 518.5v-3.7M220.5 449.5v3.7M220.5 518.5v-3.7M253.5 449.5v10.5M253.5 518.5v-10.5M285.5 449.5v3.7M285.5 518.5v-3.7M318.5 449.5v3.7M318.5 518.5v-3.7M350.5 449.5v10.5M350.5 518.5v-10.5M382.5 449.5v3.7M382.5 518.5v-3.7M415.5 449.5v3.7M415.5 518.5v-3.7M447.5 449.5v10.5M447.5 518.5v-10.5M480.5 449.5v3.7M480.5 518.5v-3.7M512.5 449.5v3.7M512.5 518.5v-3.7" stroke="#000" stroke-width="1.15" fill="none"/>
<path d="M71.5 516.5h5.8M525.5 516.5h-5.8M71.5 511.5h2.5M525.5 511.5h-2.5M71.5 506.5h2.5M525.5 506.5h-2.5M71.5 501.5h2.5M525.5 501.5h-2.5M71.5 496.5h5.8M525.5 496.5h-5.8M71.5 491.5h2.5M525.5 491.5h-2.5M71.5 487.5h2.5M525.5 487.5h-2.5M71.5 482.5h2.5M525.5 482.5h-2.5M71.5 477.5h5.8M525.5 477.5h-5.8M71.5 472.5h2.5M525.5 472.5h-2.5M71.5 467.5h2.5M525.5 467.5h-2.5M71.5 462.5h2.5M525.5 462.5h-2.5M71.5 458.5h5.8M525.5 458.5h-5.8M71.5 453.5h2.5M525.5 453.5h-2.5" stroke="#000" stroke-width="1.15" fill="none"/>
<rect x="71.5" y="449.5" width="454" height="69" fill="none" stroke="#000" stroke-width="1.3"/>
<text x="68" y="462.1" font-size="11" text-anchor="end">60</text>
<text x="68" y="481.4" font-size="11" text-anchor="end">40</text>
<text x="68" y="500.8" font-size="11" text-anchor="end">20</text>
<text x="68" y="520.1" font-size="11" text-anchor="end">0</text>
<text x="44" y="484" font-size="11.5" text-anchor="middle" transform="rotate(-90 44 484)">N [cm<tspan font-size="8" dy="-4">-3</tspan><tspan dy="4">]</tspan></text>
<line x1="132.9" y1="520" x2="132.9" y2="586" stroke="#ff00ff" stroke-width="1.45" stroke-dasharray="1.45 3.45"/>
<line x1="344.5" y1="520.2" x2="344.5" y2="586" stroke="#22aa22" stroke-width="1.2" stroke-dasharray="7 5.4"/>
<line x1="372.6" y1="520.2" x2="372.6" y2="586" stroke="#22aa22" stroke-width="1.2" stroke-dasharray="7 5.4"/>
<line x1="351.3" y1="520.2" x2="351.3" y2="586" stroke="#ff2020" stroke-width="1.2" stroke-dasharray="7 5.4"/>
<line x1="365.3" y1="520.2" x2="365.3" y2="586" stroke="#ff2020" stroke-width="1.2" stroke-dasharray="7 5.4"/>
<line x1="359.4" y1="520" x2="359.4" y2="586" stroke="#ff00ff" stroke-width="1.45" stroke-dasharray="1.45 3.45"/>
<line x1="370.9" y1="520" x2="370.9" y2="586" stroke="#0000ff" stroke-width="1.3" stroke-dasharray="1.4 3.5"/>
<clipPath id="cl7"><rect x="71.5" y="518.5" width="454" height="68"/></clipPath><g clip-path="url(#cl7)">
<polyline points="80.4,585.8 112.9,585.6 145.3,585.9 177.8,585.8 210.2,585.4 242.7,585.8 275.1,585.9 307.6,585.8 340,585.9 372.5,585.9" fill="none" stroke="#00ff00" stroke-width="1.3"/>
<circle cx="80.4" cy="585.8" r="1.6" fill="#00ff00"/>
<circle cx="112.9" cy="585.6" r="1.6" fill="#00ff00"/>
<circle cx="145.3" cy="585.9" r="1.6" fill="#00ff00"/>
<circle cx="177.8" cy="585.8" r="1.6" fill="#00ff00"/>
<circle cx="210.2" cy="585.4" r="1.6" fill="#00ff00"/>
<circle cx="242.7" cy="585.8" r="1.6" fill="#00ff00"/>
<circle cx="275.1" cy="585.9" r="1.6" fill="#00ff00"/>
<circle cx="307.6" cy="585.8" r="1.6" fill="#00ff00"/>
<circle cx="340" cy="585.9" r="1.6" fill="#00ff00"/>
<circle cx="372.5" cy="585.9" r="1.6" fill="#00ff00"/>
<polyline points="80.4,552.7 112.9,552.1 145.3,547.8 177.8,518.6 210.2,540.6 242.7,552.1 275.1,564.2 307.6,542.7 340,578.9 372.5,585.4" fill="none" stroke="#ff0000" stroke-width="1.3"/>
<circle cx="80.4" cy="552.7" r="1.9" fill="#ff0000"/>
<circle cx="112.9" cy="552.1" r="1.9" fill="#ff0000"/>
<circle cx="145.3" cy="547.8" r="1.9" fill="#ff0000"/>
<circle cx="177.8" cy="518.6" r="1.9" fill="#ff0000"/>
<circle cx="210.2" cy="540.6" r="1.9" fill="#ff0000"/>
<circle cx="242.7" cy="552.1" r="1.9" fill="#ff0000"/>
<circle cx="275.1" cy="564.2" r="1.9" fill="#ff0000"/>
<circle cx="307.6" cy="542.7" r="1.9" fill="#ff0000"/>
<circle cx="340" cy="578.9" r="1.9" fill="#ff0000"/>
<circle cx="372.5" cy="585.4" r="1.9" fill="#ff0000"/>
<polyline points="80.4,584.6 112.9,585.9 145.3,585.6 177.8,584.3 210.2,584.3 242.7,585.3 275.1,585.5 307.6,585.5 340,585.6 372.5,585.8 404.9,585.6 437.4,585.6 469.8,585.6" fill="none" stroke="#0000ff" stroke-width="1.3"/>
<circle cx="80.4" cy="584.6" r="1.8" fill="#0000ff"/>
<circle cx="112.9" cy="585.9" r="1.8" fill="#0000ff"/>
<circle cx="145.3" cy="585.6" r="1.8" fill="#0000ff"/>
<circle cx="177.8" cy="584.3" r="1.8" fill="#0000ff"/>
<circle cx="210.2" cy="584.3" r="1.8" fill="#0000ff"/>
<circle cx="242.7" cy="585.3" r="1.8" fill="#0000ff"/>
<circle cx="275.1" cy="585.5" r="1.8" fill="#0000ff"/>
<circle cx="307.6" cy="585.5" r="1.8" fill="#0000ff"/>
<circle cx="340" cy="585.6" r="1.8" fill="#0000ff"/>
<circle cx="372.5" cy="585.8" r="1.8" fill="#0000ff"/>
<circle cx="404.9" cy="585.6" r="1.8" fill="#0000ff"/>
<circle cx="437.4" cy="585.6" r="1.8" fill="#0000ff"/>
<circle cx="469.8" cy="585.6" r="1.8" fill="#0000ff"/>
</g>
<line x1="77" y1="523.7" x2="95" y2="523.7" stroke="#00ff00" stroke-width="1.3"/>
<circle cx="86" cy="523.7" r="2.2" fill="#00ff00"/>
<text x="97" y="527.3" font-size="9.6" fill="#00ff00">N&#160;&#160;He+</text>
<line x1="77" y1="532.6" x2="95" y2="532.6" stroke="#ff0000" stroke-width="1.3"/>
<circle cx="86" cy="532.6" r="2.2" fill="#ff0000"/>
<text x="97" y="536.2" font-size="9.6" fill="#ff0000">N&#160;&#160;He++</text>
<line x1="77" y1="541.6" x2="95" y2="541.6" stroke="#0000ff" stroke-width="1.3"/>
<circle cx="86" cy="541.6" r="2.2" fill="#0000ff"/>
<text x="97" y="545.2" font-size="9.6" fill="#0000ff">N&#160;&#160;O+</text>
<path d="M90.5 518.5v3.7M90.5 586.5v-3.7M123.5 518.5v3.7M123.5 586.5v-3.7M155.5 518.5v10.5M155.5 586.5v-10.5M188.5 518.5v3.7M188.5 586.5v-3.7M220.5 518.5v3.7M220.5 586.5v-3.7M253.5 518.5v10.5M253.5 586.5v-10.5M285.5 518.5v3.7M285.5 586.5v-3.7M318.5 518.5v3.7M318.5 586.5v-3.7M350.5 518.5v10.5M350.5 586.5v-10.5M382.5 518.5v3.7M382.5 586.5v-3.7M415.5 518.5v3.7M415.5 586.5v-3.7M447.5 518.5v10.5M447.5 586.5v-10.5M480.5 518.5v3.7M480.5 586.5v-3.7M512.5 518.5v3.7M512.5 586.5v-3.7" stroke="#000" stroke-width="1.15" fill="none"/>
<path d="M71.5 582.5h2.5M525.5 582.5h-2.5M71.5 579.5h2.5M525.5 579.5h-2.5M71.5 575.5h2.5M525.5 575.5h-2.5M71.5 572.5h2.5M525.5 572.5h-2.5M71.5 569.5h5.8M525.5 569.5h-5.8M71.5 565.5h2.5M525.5 565.5h-2.5M71.5 562.5h2.5M525.5 562.5h-2.5M71.5 558.5h2.5M525.5 558.5h-2.5M71.5 555.5h2.5M525.5 555.5h-2.5M71.5 552.5h5.8M525.5 552.5h-5.8M71.5 548.5h2.5M525.5 548.5h-2.5M71.5 545.5h2.5M525.5 545.5h-2.5M71.5 541.5h2.5M525.5 541.5h-2.5M71.5 538.5h2.5M525.5 538.5h-2.5M71.5 535.5h5.8M525.5 535.5h-5.8M71.5 531.5h2.5M525.5 531.5h-2.5M71.5 528.5h2.5M525.5 528.5h-2.5M71.5 525.5h2.5M525.5 525.5h-2.5M71.5 521.5h2.5M525.5 521.5h-2.5" stroke="#000" stroke-width="1.15" fill="none"/>
<rect x="71.5" y="518.5" width="454" height="68" fill="none" stroke="#000" stroke-width="1.3"/>
<text x="527.5" y="525.3" font-size="11">2.0</text>
<text x="527.5" y="539.2" font-size="11">1.5</text>
<text x="527.5" y="556.1" font-size="11">1.0</text>
<text x="527.5" y="573.1" font-size="11">0.5</text>
<text x="527.5" y="590" font-size="11">0.0</text>
<text x="560" y="551" font-size="11.5" text-anchor="middle" transform="rotate(-90 560 551)">N<tspan font-size="8" dy="3">i</tspan><tspan dy="-3"> [cm</tspan><tspan font-size="8" dy="-4">-3</tspan><tspan dy="4">]</tspan></text>
<line x1="132.9" y1="588" x2="132.9" y2="654" stroke="#ff00ff" stroke-width="1.45" stroke-dasharray="1.45 3.45"/>
<line x1="344.5" y1="588.2" x2="344.5" y2="654" stroke="#22aa22" stroke-width="1.2" stroke-dasharray="7 5.4"/>
<line x1="372.6" y1="588.2" x2="372.6" y2="654" stroke="#22aa22" stroke-width="1.2" stroke-dasharray="7 5.4"/>
<line x1="351.3" y1="588.2" x2="351.3" y2="654" stroke="#ff2020" stroke-width="1.2" stroke-dasharray="7 5.4"/>
<line x1="365.3" y1="588.2" x2="365.3" y2="654" stroke="#ff2020" stroke-width="1.2" stroke-dasharray="7 5.4"/>
<line x1="359.4" y1="588" x2="359.4" y2="654" stroke="#ff00ff" stroke-width="1.45" stroke-dasharray="1.45 3.45"/>
<line x1="370.9" y1="588" x2="370.9" y2="654" stroke="#0000ff" stroke-width="1.3" stroke-dasharray="1.4 3.5"/>
<path d="M71.9 630.6l.8 .4 .8-.2 .8 .3 .8 .2 .8-.2 .8-.2 .8 .7 .8-.6 .8 .1 .8 .4 .8 .4 .8-.2 .8 .2 .8 .3 .8-.2 .8-.2 .8 .5 .8 .6 .8-1.2 .8 .3 .8-.3 .8-.2 .8 1 .8-.4 .8 .5 .8-.5 .8 .4 .8-1 .8 .4 .8 .2 .8-.4 .8 .4 .8 .4 .8 .1 .8-.6 .8 .3 .8-.1 .8 .4 .8-.2 .8-.2 .8 .3 .8 0 .8-.9 .8 .7 .8 .1 .8-.1 .8 .1 .8-.2 .8-.3 .8 .4 .8-.1 .8-.2 .8 .1 .8 .2 .8-.4 .8 .3 .8 .8 .8 .1 .8 .4 .8 .5 .8 1.1 .8-.4 .8 .7 .8 1 .8-.5 .8-.2 .8-.5 .8-.5 .8-1.2 .8-.9 .8-1.4 .8-.5 .8-.8 .8 .2 .8 .6 .8-.2 .8-.4 .8 .2 .8 .3 .8 .4 .8-.9 .8 .7 .8 .9 .8-.9 .8-.9 .8-.2 .8-.1 .8-1.3 .8-.2 .8 .4 .8-1.4 .8-.5 .8-.2 .8 .3 .8 0 .8 0 .8-.4 .8 .1 .8-.2 .8 .3 .8 .3 .8-.5 .8 .4 .8 .8 .8 .2 .8 .2 .8 1.3 .8 .3 .8 1 .8 .1 .8 .9 .8-.2 .8 .2 .8 0 .8 1.1 .8-.5 .8 .7 .8 .4 .8 .2 .8 1.1 .8-.9 .8 .1 .8 .6 .8 .7 .8 .2 .8-.6 .8 .1 .8 .7 .8-.1 .8 .3 .8-.1 .8 .5 .8 .9 .8 .4 .8 .5 .8 1 .8 .7 .8 .1 .8 1.1 .8-.1 .8 .2 .8-.8 .8-.6 .8-.8 .8-.8 .8-.3 .8 .3 .8-1 .8-.6 .8 .7 .8-.5 .8 .8 .8 .5 .8-.6 .8 .4 .8 .5 .8-.4 .8 .3 .8 1.1 .8 .3 .8 1 .8 1.1 .8 .6 .8 .3 .8 1 .8 .1 .8 .4 .8-.2 .8-.2 .8-.2 .8 .1 .8-.4 .8 .1 .8-.5 .8 .6 .8 .2 .8 .9 .8-.1 .8 .3 .8 .8 .8 .4 .8-.1 .8 .5 .8-.2 .8 .2 .8-.3 .8 .1 .8-.5 .8 .9 .8-.5 .8-.1 .8 .2 .8 0 .8-.5 .8 .6 .8-.5 .8-.4 .8-.2 .8 .6 .8 .1 .8 0 .8-.4 .8 1 .8-.4 .8 0 .8 .3 .8 0 .8 .4 .8-.1 .8 .7 .8 0 .8-.7 .8 .8 .8 .3 .8-.6 .8 .1 .8-.1 .8 0 .8 .2 .8 .4 .8-1.2 .8 1.2 .8-.3 .8 .3 .8-1 .8 .5 .8 .6 .8-.2 .8 .3 .8 .2 .8 .7 .8-.5 .8-1 .8 1 .8 .1 .8-.4 .8 .9 .8-.8 .8 .4 .8 .5 .8-.2 .8-.3 .8 .5 .8-.1 .8 .6 .8-.4 .8-.6 .8 .5 .8 .2 .8-.5 .8 .4 .8 .2 .8 .1 .8-.1 .8 .4 .8 .2 .8-.4 .8 .6 .8-.4 .8 .4 .8-.6 .8 .3 .8-.5 .8 .7 .8-.5 .8 .3 .8 .1 .8-.7 .8 1 .8 .1 .8-.1 .8 .2 .8-.4 .8 .6 .8-.3 .8 0 .8 1.2 .8-.8 .8 1.1 .8-.5 .8-.3 .8 .6 .8 .3 .8 .9 .8-.1 .8-.1 .8-.3 .8-.3 .8-.4 .8 0 .8 .3 .8-.5 .8-.3 .8 0 .8-.1 .8-.5 .8-.4 .8 0 .8-.1 .8 0 .8-.1 .8-.5 .8 .4 .8 0 .8-.6 .8-.4 .8 .3 .8 0 .8 0 .8-1 .8-.8 .8-.4 .8 .2 .8-.6 .8-.9 .8-2.8 .8-2 .8-2.8 .8 .5 .8 0 .8 .4 .8 .8 .8 .7 .8 .8 .8 .3 .8 1.1 .8 1.2 .8-.2 .8 .7 .8 .7 .8 .1 .8 .7 .8 .1 .8-.1 .8 .9 .8 .3 .8 0 .8-.1 .8 .7 .8-.3 .8 .2 .8 .4 .8-1.2 .8-1.4 .8-1.6 .8-.7 .8-1.4 .8-1.3 .8-.8 .8-.7 .8-1.2 .8-.9 .8-1.4 .8 0 .8-.3 .8 0 .8-.6 .8-.9 .8-2.7 .8-2.4 .8-.2 .8 .1 .8 .7 .8 1.1 .8-1 .8 1.1 .8-1 .8-.8 .8-.6 .8-1.3 .8-.4 .8-1.2 .8-.9 .8-1.1 .8-1.2 .8-.6 .8-1.2 .8-.6 .8-.1 .8 .3 .8-3.4 .8-3.6 .8-4.1 .8-3.9 .8-.5 .8-.6 .8 .5 .8-2.3 .8-1.5 .8-1 .8-1.4 .8-2.5 .8 .5 .8-1.2 .8 1 .8-.8 .8-1 .8-.2 .8 1.1 .8-.9 .8-1 .8 .6 .8 .8 .8-.4 .8-.3 .8 .1 .8-.5 .8 .5 .8-.8 .8 1.2 .8-.5 .8 0 .8 .8 .8-.5 .8-.5 .8 1.7 .8-.6 .8 .5 .8 .8 .8-.8 .8 .1 .8 1.1 .8-.7 .8-1.5 .8-.1 .8 1.6 .8-1.7 .8 1.1 .8-2.6 .8 2 .8-1.5 .8-.4 .8 1.6 .8-.3 .8 .2 .8 .1 .8 .1 .8-.1 .8-.6 .8 .3 .8 1.9 .8-1.4 .8 .7 .8-.6 .8 1.1 .8-1.4 .8 .2 .8 .3 .8 .3 .8-.7 .8 2 .8-1.3 .8 1 .8-1.8 .8 1.2 .8 .3 .8-1.3 .8 .1 .8-.5 .8 1.4 .8 .3 .8-1.8 .8 1.6 .8-.1 .8-1.3 .8-1.2 .8 1.2 .8 .5 .8-.7 .8 .8 .8 .1 .8-2.3 .8 3.6 .8-2.7 .8-.8 .8 .9 .8 .4 .8 .3 .8-.5 .8 .8 .8 .1 .8-1.5 .8 1.1 .8-1 .8 1.3 .8 .7 .8-1.4 .8 .8 .8-.6 .8 2.1 .8-3.5 .8 2.8 .8-.5 .8-.6 .8-.2 .8 1.5 .8-2 .8 2.4 .8-2 .8 .9 .8-.4 .8-.9 .8 1.1 .8-.8 .8-1.2 .8 1.1 .8 2.6 .8-2.4 .8 .9 .8 1.2 .8-.5 .8 0 .8-1.2 .8 .5 .8 .7 .8-1.1 .8-1 .8 2.1 .8 0 .8-.7 .8-.5 .8-1.4 .8 2.4 .8-2.3 .8 2.4 .8-1.6 .8-.2 .8 .1 .8-.4 .8 2.1 .8-.6 .8 .1 .8-3.1 .8 4 .8-.4 .8-.7 .8-2.2 .8 3.3 .8-3 .8 .7 .8-.8 .8 .2 .8-.1 .8 .8 .8 2.9 .8-5.2 .8 1.4 .8-.8 .8 3.2 .8-2.2 .8 .1 .8 .4 .8-.3 .8 .2 .8 1.2 .8-.3 .8 .1 .8-4.5 .8 1 .8 1 .8 2.1 .8 .2 .8 1.1 .8-.3 .8-2 .8 1" fill="none" stroke="#ff0000" stroke-width="0.9"/>
<path d="M71.9 632l.8 .1 .8-1.1 .8 .7 .8 .2 .8-.8 .8 .4 .8-.1 .8 .4 .8-.5 .8 0 .8 0 .8-.1 .8 .7 .8-.5 .8 .1 .8-.2 .8 .4 .8-.6 .8 .4 .8 .1 .8 0 .8-.1 .8 .4 .8-.5 .8 .3 .8 0 .8-.2 .8 .1 .8 .6 .8 .1 .8-.5 .8 .5 .8-.2 .8 .8 .8-.9 .8 .1 .8 .2 .8 0 .8-.2 .8 .7 .8-.4 .8-.1 .8-.4 .8 .8 .8-.6 .8-.6 .8 0 .8 .3 .8 .7 .8-.4 .8-.6 .8 .2 .8-.2 .8-.4 .8 .9 .8 .1 .8 .1 .8-.2 .8 .7 .8 0 .8 .4 .8 .5 .8 1 .8 .2 .8 1.2 .8-.6 .8-1.2 .8-.9 .8-.7 .8-.4 .8-1.4 .8-.4 .8-.4 .8-.7 .8 .3 .8-.6 .8-.2 .8-.4 .8 .4 .8 .4 .8-.8 .8 .7 .8 .3 .8-.4 .8 0 .8-.9 .8-.1 .8-.8 .8-.7 .8-.4 .8-.3 .8 .1 .8 0 .8 .3 .8 .2 .8 0 .8-.3 .8 .6 .8-1.1 .8-.3 .8 0 .8-.6 .8 .5 .8 .5 .8 .5 .8 1 .8 1.2 .8-.4 .8 1.2 .8 0 .8 .7 .8 .8 .8-.5 .8 .7 .8 .6 .8 .6 .8-.4 .8 .1 .8 .6 .8-.5 .8 .8 .8-.3 .8 .1 .8 .1 .8 0 .8 .1 .8-.2 .8 .4 .8 .1 .8 .3 .8-1 .8 1.2 .8-.8 .8 .9 .8-.9 .8 .2 .8 .8 .8 .2 .8 0 .8 .4 .8-.4 .8-.3 .8 .5 .8 0 .8 .1 .8 .1 .8-.2 .8 .5 .8-.5 .8-.6 .8 .7 .8 .3 .8 1.1 .8 .1 .8 .8 .8-.3 .8 1.2 .8-.8 .8 1.2 .8 .4 .8 .1 .8 0 .8 1.6 .8-.4 .8 .5 .8 .4 .8 .7 .8-.3 .8 .4 .8-.5 .8-.2 .8 .1 .8-.2 .8-.1 .8-.4 .8 0 .8-.6 .8 .1 .8 1 .8-.2 .8-.8 .8 .9 .8-.4 .8 .7 .8-.4 .8 0 .8-.1 .8-.1 .8 .4 .8-.3 .8 .1 .8 .1 .8 .4 .8-.3 .8 .2 .8-.3 .8-.2 .8 .7 .8-.9 .8 .8 .8-.1 .8 .3 .8-.3 .8 0 .8 .1 .8 .4 .8-.5 .8-.2 .8 .2 .8 .3 .8 0 .8 .5 .8-.8 .8 .3 .8-.4 .8 .9 .8-.3 .8 .3 .8-.4 .8 .6 .8-.6 .8 .1 .8-.1 .8 .5 .8 .2 .8-.3 .8 .2 .8-.5 .8 .7 .8-.6 .8 .3 .8-.4 .8-.3 .8 .1 .8 .9 .8-.7 .8-.4 .8 .6 .8-.1 .8-.1 .8 .2 .8-.2 .8-.4 .8 .4 .8 0 .8-.3 .8-.1 .8 .3 .8-.8 .8 .8 .8-.2 .8 .5 .8-.4 .8-.5 .8 .8 .8 0 .8 .2 .8-.1 .8-.5 .8 0 .8 .1 .8-.3 .8-.1 .8 .2 .8-.1 .8 .8 .8-.3 .8 .5 .8-.2 .8-.6 .8 .1 .8 .7 .8 .8 .8-.5 .8-.6 .8 .9 .8-.8 .8 .3 .8 .6 .8 0 .8-.1 .8 .5 .8-.1 .8-.4 .8-.3 .8 0 .8 0 .8-.3 .8-.3 .8-.2 .8 .4 .8 0 .8-.1 .8 .1 .8-.2 .8 .1 .8 .4 .8-.2 .8 0 .8-.7 .8 .7 .8 .9 .8-.8 .8-.2 .8 .6 .8 0 .8 .3 .8 0 .8 .2 .8-.4 .8-.3 .8-.8 .8 .3 .8-.9 .8-.3 .8-.3 .8-1 .8-1.2 .8-.2 .8-.5 .8-.4 .8 0 .8-.3 .8 .6 .8-.1 .8-.7 .8-.2 .8 .1 .8 .5 .8 1.2 .8-.1 .8 .6 .8 .3 .8 .8 .8 .8 .8-.9 .8-1 .8 .2 .8-1.2 .8-.5 .8-.5 .8-1.2 .8-1 .8-.6 .8-.9 .8-1.2 .8-1.2 .8 .4 .8-.6 .8 .3 .8 0 .8-.1 .8-.3 .8-.2 .8-.2 .8-.1 .8-.9 .8-1.4 .8-2.4 .8 .1 .8 1.2 .8 .9 .8 .2 .8 1.4 .8-.2 .8 1 .8-1 .8-.9 .8-.9 .8-1 .8-.2 .8-1.4 .8-.6 .8-1.6 .8-.6 .8-.8 .8-1.3 .8 0 .8 .2 .8-.2 .8-3.2 .8-4.1 .8-3.9 .8-3.4 .8-.2 .8 0 .8-.4 .8-1.9 .8-.9 .8-2.9 .8-.5 .8-3.3 .8 1.7 .8-1.6 .8 .1 .8-.3 .8-1.5 .8 .3 .8-.8 .8 2 .8-.6 .8-1.2 .8 1.2 .8-1.1 .8-.1 .8-.5 .8 .9 .8 .1 .8 .1 .8-.4 .8-.4 .8 .7 .8 .1 .8-.4 .8 1 .8 .4 .8-.3 .8 .7 .8-.6 .8-.2 .8 .8 .8-.1 .8 .3 .8-.7 .8-.2 .8-.4 .8-.4 .8 .4 .8-.8 .8 .6 .8 .7 .8-1.2 .8 .5 .8-1 .8 .8 .8-.7 .8-.1 .8 .9 .8-.1 .8-.9 .8 2 .8-.3 .8 .8 .8-.9 .8 0 .8 1.6 .8-1.4 .8 .6 .8 0 .8 .2 .8 .5 .8 .2 .8-.5 .8-1.2 .8 .5 .8 .6 .8-1.2 .8-.2 .8 0 .8 1.5 .8-1.2 .8 .8 .8-2.1 .8 1.1 .8-.6 .8-.1 .8-.1 .8-.8 .8 2 .8-1 .8 .4 .8 .1 .8 1.4 .8-1.7 .8-.6 .8-.6 .8 1.7 .8-.9 .8-1.1 .8 1.2 .8 .9 .8-1.1 .8-.5 .8-1.3 .8 2.1 .8-.8 .8 .1 .8-.1 .8-.8 .8 .1 .8 1.3 .8-2.1 .8 .4 .8 1.6 .8-1.5 .8 0 .8 1.7 .8-2.4 .8 1.2 .8 .2 .8-1.5 .8 .2 .8 2.2 .8-1.9 .8 1.7 .8-.1 .8-1.6 .8-1.5 .8 2.6 .8-1.6 .8 1.2 .8-1.2 .8 .6 .8 .4 .8-1.5 .8 1.2 .8-.8 .8 1.1 .8 .2 .8-1.3 .8 .6 .8-.3 .8 .9 .8-1.3 .8 1 .8-1.3 .8 1.4 .8-1.1 .8-.5 .8-.6 .8 .8 .8 .2 .8-.1 .8 .3 .8 .7 .8-1.3 .8 1.1 .8 1.6 .8-1.5 .8-.6 .8 .5 .8-1.2 .8 0 .8 1.1 .8 .2 .8 .3 .8-1.6 .8 .7 .8 .7 .8-.3 .8 1 .8-1.1 .8-.9 .8-.1 .8 2 .8-.3 .8 .5 .8-1.4 .8 .4 .8-1.8 .8 2.7 .8-1.2 .8-1.4 .8 0 .8 2.9 .8-.5" fill="none" stroke="#333" stroke-width="0.9"/>
<line x1="77" y1="596.3" x2="95" y2="596.3" stroke="#ff0000" stroke-width="0.9"/>
<text x="97" y="600.3" font-size="10" fill="#ff0000">T<tspan font-size="7" dy="3">||</tspan></text>
<line x1="77" y1="614.5" x2="95" y2="614.5" stroke="#333" stroke-width="0.9"/>
<text x="97" y="618.3" font-size="10" fill="#111">T<tspan font-size="7" dy="3">⊥</tspan></text>
<path d="M90.5 586.5v3.7M90.5 654.5v-3.7M123.5 586.5v3.7M123.5 654.5v-3.7M155.5 586.5v10.5M155.5 654.5v-10.5M188.5 586.5v3.7M188.5 654.5v-3.7M220.5 586.5v3.7M220.5 654.5v-3.7M253.5 586.5v10.5M253.5 654.5v-10.5M285.5 586.5v3.7M285.5 654.5v-3.7M318.5 586.5v3.7M318.5 654.5v-3.7M350.5 586.5v10.5M350.5 654.5v-10.5M382.5 586.5v3.7M382.5 654.5v-3.7M415.5 586.5v3.7M415.5 654.5v-3.7M447.5 586.5v10.5M447.5 654.5v-10.5M480.5 586.5v3.7M480.5 654.5v-3.7M512.5 586.5v3.7M512.5 654.5v-3.7" stroke="#000" stroke-width="1.15" fill="none"/>
<path d="M71.5 653.5h2.5M525.5 653.5h-2.5M71.5 650.5h2.5M525.5 650.5h-2.5M71.5 648.5h2.5M525.5 648.5h-2.5M71.5 646.5h2.5M525.5 646.5h-2.5M71.5 645.5h2.5M525.5 645.5h-2.5M71.5 643.5h2.5M525.5 643.5h-2.5M71.5 642.5h5.8M525.5 642.5h-5.8M71.5 633.5h2.5M525.5 633.5h-2.5M71.5 628.5h2.5M525.5 628.5h-2.5M71.5 625.5h2.5M525.5 625.5h-2.5M71.5 622.5h2.5M525.5 622.5h-2.5M71.5 619.5h2.5M525.5 619.5h-2.5M71.5 618.5h2.5M525.5 618.5h-2.5M71.5 616.5h2.5M525.5 616.5h-2.5M71.5 614.5h2.5M525.5 614.5h-2.5M71.5 613.5h5.8M525.5 613.5h-5.8M71.5 604.5h2.5M525.5 604.5h-2.5M71.5 599.5h2.5M525.5 599.5h-2.5M71.5 596.5h2.5M525.5 596.5h-2.5M71.5 593.5h2.5M525.5 593.5h-2.5M71.5 591.5h2.5M525.5 591.5h-2.5M71.5 589.5h2.5M525.5 589.5h-2.5M71.5 587.5h2.5M525.5 587.5h-2.5" stroke="#000" stroke-width="1.15" fill="none"/>
<rect x="71.5" y="586.5" width="454" height="68" fill="none" stroke="#000" stroke-width="1.3"/>
<text x="68" y="618.1" font-size="11" text-anchor="end">10<tspan font-size="8" dy="-5">3</tspan></text>
<text x="68" y="646.8" font-size="11" text-anchor="end">10<tspan font-size="8" dy="-5">2</tspan></text>
<text x="38" y="622" font-size="11.5" text-anchor="middle" transform="rotate(-90 38 622)">T<tspan font-size="8" dy="3">i</tspan><tspan dy="-3"> [eV]</tspan></text>
<line x1="132.9" y1="656" x2="132.9" y2="722" stroke="#ff00ff" stroke-width="1.45" stroke-dasharray="1.45 3.45"/>
<line x1="344.5" y1="656.2" x2="344.5" y2="722" stroke="#22aa22" stroke-width="1.2" stroke-dasharray="7 5.4"/>
<line x1="372.6" y1="656.2" x2="372.6" y2="722" stroke="#22aa22" stroke-width="1.2" stroke-dasharray="7 5.4"/>
<line x1="351.3" y1="656.2" x2="351.3" y2="722" stroke="#ff2020" stroke-width="1.2" stroke-dasharray="7 5.4"/>
<line x1="365.3" y1="656.2" x2="365.3" y2="722" stroke="#ff2020" stroke-width="1.2" stroke-dasharray="7 5.4"/>
<line x1="359.4" y1="656" x2="359.4" y2="722" stroke="#ff00ff" stroke-width="1.45" stroke-dasharray="1.45 3.45"/>
<line x1="370.9" y1="656" x2="370.9" y2="722" stroke="#0000ff" stroke-width="1.3" stroke-dasharray="1.4 3.5"/>
<path d="M71.9 716.7l1-.1 1-.1 1-.1 1 .4 1-.5 1 .1 1-.2 1 .2 1-.2 1-.1 1 0 1-.5 1 .4 1 0 1 .1 1-.5 1-.2 1 .2 1-.3 1-.3 1 0 1-.6 1 .2 1-.1 1 .4 1-.1 1-.5 1 .4 1 0 1 .1 1 .4 1-.4 1 .6 1-.2 1-.1 1 .2 1 .1 1 .1 1-.1 1-.1 1 .2 1 .1 1 .3 1-.7 1 .3 1 0 1-.3 1 .4 1-.5 1 .1 1 .1 1 .5 1-.3 1 0 1 .7 1-.1 1-.6 1 .4 1 0 1 .1 1 .4 1 0 1 .1 1-.5 1-.3 1 .4 1 .2 1-.6 1 .1 1 0 1 0 1 .3 1-.6 1 .4 1 .1 1-.5 1 0 1-.2 1 0 1-.1 1 .1 1 0 1-.5 1 .2 1 .1 1-.8 1 .7 1-.3 1 .1 1-.4 1-.7 1 .1 1 .2 1-.5 1-.2 1-.6 1-.2 1 0 1-.1 1 .1 1-.1 1 .1 1-.4 1-.1 1 .3 1-.1 1 .1 1-.2 1 .4 1-.4 1-.1 1-.4 1 .2 1 .2 1-.1 1 .1 1-.3 1 .2 1-.6 1-.4 1 .6 1-.2 1 .2 1-.2 1-.1 1-.4 1-.4 1-.4 1-.7 1 .1 1 0 1-.1 1-.7 1 .1 1-.2 1 .2 1-.2 1-.1 1 .5 1-.1 1 .6 1-.5 1 .8 1 .2 1 .3 1 .2 1 .2 1-.1 1 0 1 .1 1 .3 1 .2 1 .1 1 .4 1 .3 1-.3 1-.1 1 .2 1-.2 1 .6 1-.1 1 0 1-.4 1 .4 1-.1 1 .4 1-.3 1 .7 1-.4 1 .1 1-.1 1 .3 1-.2 1 .2 1 .2 1-.2 1 0 1 .3 1-.1 1 .3 1-.2 1 .7 1 0 1 .7 1 0 1 .1 1 .7 1 .3 1 0 1-.1 1 .1 1 .3 1 .3 1-.3 1 .2 1 .4 1 .3 1 .1 1 .2 1-.4 1 0 1 .1 1-.2 1 .4 1-.1 1 .3 1-.5 1 .3 1 .1 1 0 1 0 1 .1 1-.2 1 .4 1-.2 1 .1 1-.2 1-.1 1 0 1-.1 1 .1 1 .2 1-.3 1-.1 1-.1 1 .2 1-.5 1 .8 1-.2 1-.3 1 .3 1-.3 1 .1 1 .1 1-.6 1 .5 1-.4 1-.1 1 .2 1-.3 1 .4 1-.3 1 .1 1-.2 1-.1 1-.1 1 0 1 .3 1-.2 1-.5 1 .2 1 .4 1-.3 1-.1 1 .2 1-.3 1-.2 1 .5 1 .5 1 .1 1 .6 1-.3 1 .5 1 .4 1-.1 1-.1 1 .5 1 0 1 .1 1 .2 1 .5 1-.2 1 .5 1-.2 1 .3 1 .2 1 .3 1-.6 1 .6 1-.3 1 .2 1 0 1-.2 1 0 1 .7 1-.1 1 0 1 .4 1-.3 1 .4 1-.1 1 .5 1-.5 1 .1 1 .3 1-.2 1 .1 1-.4 1 .7 1-.1 1-.3 1 .6 1 .1 1-.2 1 .5 1-.6 1 .2 1 0 1 0 1 .2 1-.4 1-.1 1 .3 1 0 1 0 1-.3 1 .3 1 .2 1-.4 1 .4 1-.2 1 0 1-.3 1 0 1 .6 1-.1 1-.6 1 .4 1 0 1 .4 1-.5 1 .1 1-.2 1 .6 1-.2 1 .1 1-.3 1-.2 1 .3 1 0 1 0 1-.1 1-.1 1 .4 1-.2 1 .2 1 .1 1-.3 1-.1 1-.3 1 0 1 .4 1-.3 1-.1 1 0 1 .4 1-.2 1 .5 1-.5 1-.1 1 .1 1 .1 1-.1 1 .1 1 0 1-.3 1 .1 1 .1 1-.1 1 0 1-.1 1-.1 1 .2 1 .1 1-.1 1-.1 1-.2 1 .3 1-.1 1 .1 1-.2 1 .2 1-.1 1-.2 1 .1 1 .2 1-.1 1-.5 1 .4 1-.1 1 0 1 .2 1-.1 1-.1 1-.2 1 .4 1-.6 1 0 1 .2 1-.2 1 .8 1-.1 1-.8 1 .2 1-.1 1 .3 1-.1 1-.3 1-.1 1 .5 1-.2 1-.3 1 .2 1 .1 1 .2 1-.5 1 .4 1-.3 1-.1 1 .3 1-.2 1-.1 1 .5 1-.3 1 0 1 .2 1-.3 1-.1 1-.1 1 .3 1-.2 1 .1 1-.2 1 .1 1-.1 1-.2 1 .2 1 0 1-.2 1 .1 1 0 1 .5 1-.5 1 .1 1 .2 1-.5 1 .2 1 0 1 .2 1-.3 1 .1 1 .2 1 0" fill="none" stroke="#ff0000" stroke-width="0.9"/>
<path d="M71.9 706.3l.8 .9 .8-1.3 .8 .3 .8 .6 .8-2.1 .8 1.1 .8-.2 .8 .5 .8 .6 .8 1.6 .8-2.5 .8 1.1 .8 1.4 .8 3.8 .8 1.8 .8 1.1 .8 .7 .8 1.9 .8 1 .8-.1 .8-.7 .8-1.4 .8 .6 .8-1.2 .8-1.7 .8-.3 .8-1.1 .8 2.1 .8 1.6 .8 2 .8 1.4 .8 .7 .8-1.1 .8 .7 .8 .3 .8-.1 .8 .8 .8-.8 .8 .2 .8-.2 .8 0 .8 0 .8 1.6 .8 0 .8-1.5 .8 1.4 .8-1 .8 .9 .8-.6 .8-1.6 .8-.1 .8 .5 .8 0 .8 .4 .8-1.5 .8 .3 .8-2.1 .8-.8 .8-.6 .8-1.3 .8 .1 .8-1.5 .8 1.1 .8 1.5 .8-.5 .8 .8 .8 1.4 .8-.9 .8-.1 .8-.5 .8-.5 .8 1.5 .8-1.1 .8 .4 .8-1.6 .8 3.9 .8 .1 .8-.8 .8 .4 .8-.4 .8-.5 .8-.9 .8 .1 .8-.2 .8-.8 .8 .8 .8 .5 .8 .6 .8 1.9 .8 0 .8 .5 .8-.9 .8-2.9 .8-.1 .8 1.1 .8-2.2 .8-1.5 .8-.9 .8-1.5 .8-2.3 .8-4.5 .8-3.2 .8-1.9 .8 6.2 .8 5.6 .8 1.5 .8-2.3 .8 6.9 .8 1.3 .8-.7 .8-2.7 .8-.3 .8-2 .8 1.8 .8 2.2 .8 1.8 .8 .9 .8 .2 .8 .8 .8-.9 .8 .6 .8-.5 .8 .9 .8-.1 .8 0 .8-.1 .8 .9 .8-.6 .8-.5 .8-.5 .8-1.3 .8-.4 .8-.7 .8-1.8 .8-1.7 .8-3.1 .8 0 .8-2.5 .8-1.4 .8-1.1 .8-1.9 .8 2.2 .8 2.3 .8 4.2 .8 .8 .8-2 .8-.2 .8-2.2 .8 0 .8 2.6 .8 1.9 .8 1.5 .8-1.4 .8-3.7 .8-1.6 .8 1.6 .8 4.1 .8-.1 .8-5.4 .8 .9 .8 3.3 .8 1.2 .8-.6 .8 1.1 .8 .1 .8-.1 .8 .1 .8 .4 .8 0 .8-.1 .8-.4 .8 .6 .8-1.1 .8-.7 .8-1 .8-.5 .8 .5 .8-.3 .8-.9 .8 1.5 .8-.3 .8 .2 .8 1 .8-.4 .8-.5 .8 .1 .8-.4 .8 .2 .8 .9 .8-.1 .8-.2 .8-.1 .8 0 .8 0 .8 .6 .8-1.6 .8-.3 .8-.1 .8 .7 .8-.3 .8 1.3 .8-1.3 .8-.3 .8-2.1 .8 4.6 .8-.9 .8-1 .8 0 .8 .3 .8 1.2 .8-1 .8 1 .8-1 .8 1 .8-1.2 .8 1.7 .8-.6 .8-.1 .8 .3 .8-.5 .8-.4 .8 .3 .8-.4 .8 1.9 .8-1.3 .8 .3 .8 .4 .8-.2 .8 .8 .8 .2 .8-.2 .8-.4 .8 1.8 .8-.7 .8 .7 .8 .1 .8 .5 .8-1.7 .8 1.3 .8 1.5 .8-2 .8 .8 .8 1.1 .8-.1 .8-.2 .8-.7 .8 1.2 .8-1.7 .8 .2 .8 1.2 .8 0 .8-1.5 .8 .8 .8 .7 .8-1 .8-.6 .8 1 .8 .4 .8-.6 .8 .1 .8 .6 .8-.8 .8 .9 .8 .4 .8-.7 .8 .4 .8-.3 .8 .1 .8 .9 .8-.9 .8-.9 .8-.1 .8 .8 .8-.9 .8-.5 .8 .8 .8-.3 .8-1 .8 1 .8-.5 .8 1 .8-1.1 .8-.4 .8 .1 .8 .9 .8-2 .8 .6 .8-.1 .8-.5 .8 0 .8 .8 .8-1 .8 1 .8 .4 .8-.3 .8 .6 .8-1.3 .8 .8 .8-.5 .8 1.1 .8-.6 .8-.7 .8 .8 .8-1.2 .8 .3 .8-.2 .8-.8 .8-.7 .8 .6 .8 .7 .8 1.3 .8 .5 .8 .8 .8 .5 .8 .7 .8 .7 .8 1.2 .8-3.5 .8-4.7 .8-.7 .8 5.9 .8 .1 .8-1.9 .8-2.9 .8-.5 .8-1.9 .8-.9 .8-1.2 .8 1.8 .8-.2 .8 2.1 .8-1.2 .8-2 .8-1.9 .8-.3 .8-1.3 .8 .3 .8-.5 .8 .5 .8-.6 .8-.2 .8 1.1 .8 .3 .8-1.5 .8 .4 .8 0 .8 4.8 .8 4.9 .8 3.6 .8-.4 .8 .6 .8-.1 .8 1 .8 .4 .8 .2 .8 1.2 .8-.4 .8-1.2 .8 .8 .8-8.3 .8-7.4 .8-.3 .8 .3 .8 .3 .8-1.1 .8-.2 .8-.3 .8-1.5 .8 .8 .8-.6 .8-1 .8-.2 .8-1.7 .8-.4 .8 .2 .8-.8 .8 .4 .8-.8 .8 .8 .8-.3 .8 .4 .8-.3 .8 0 .8-.1 .8 .2 .8 .6 .8 .3 .8 .3 .8 .4 .8 .3 .8 .4 .8 .4 .8 .1 .8 .2 .8 .4 .8 .4 .8 .2 .8 .2 .8 .5 .8 .3 .8 .2 .8 .3 .8 .2 .8 .4 .8 .1 .8 .3 .8 .3 .8 .2 .8 .1 .8 .4 .8 .2 .8 0 .8 .1 .8 .2 .8 .2 .8 .3 .8 .3 .8 .2 .8 0 .8 0 .8 .3 .8 .1 .8 .1 .8 .2 .8 .2 .8 .3 .8 .2 .8 .1 .8-.1 .8 .1 .8 .1 .8 0 .8 .3 .8-.1 .8 .1 .8 .3 .8-.1 .8 0 .8 .1 .8 .2 .8-.1 .8 0 .8 .1 .8 .1 .8 .3 .8-.1 .8-.1 .8 .2 .8 .1 .8-.1 .8-.1 .8 .2 .8-.1 .8 .1 .8 .1 .8 0 .8 .3 .8-.1 .8-.1 .8 0 .8 .4 .8-.1 .8 0 .8 0 .8-.1 .8 .4 .8 0 .8-.1 .8 0 .8 .1 .8 0 .8 .1 .8 0 .8 0 .8-.2 .8 .3 .8 .2 .8-.2 .8 0 .8 .2 .8 0 .8 .1 .8 0 .8 .1 .8 .3 .8 0 .8 0 .8 .1 .8 .1 .8-.1 .8 .1 .8 0 .8 .2 .8 .1 .8 .1 .8-.3 .8 .2 .8 .1 .8-.1 .8 .2 .8 .1 .8-.2 .8 .2 .8 .1 .8 0 .8 .1 .8 .1 .8 0 .8 .2 .8-.2 .8 .1 .8-.1 .8 .2 .8 0 .8 0 .8 .2 .8-.1 .8 .1 .8 .2 .8 .1 .8-.1 .8 .1 .8 0 .8 0 .8 .1 .8 .1 .8-.1 .8 .2 .8 0 .8 .1 .8-.1 .8 .1 .8 .1 .8-.1 .8 .3 .8-.2 .8 0 .8 .1 .8 .1 .8-.3 .8 .1 .8 .2 .8 0 .8 0 .8 .2 .8-.1 .8 .2 .8 0 .8 .1 .8-.2 .8 .1 .8 0 .8 .2 .8-.1 .8-.1 .8 0 .8 .1 .8 .2 .8 0 .8-.2 .8 .1 .8-.2 .8 .5 .8-.2 .8 .2 .8-.1" fill="none" stroke="#333" stroke-width="0.9"/>
<path d="M71.9 688.1l.8-1.2 .8-.5 .8-.1 .8 .2 .8-.4 .8-.5 .8-.2 .8-.1 .8 .3 .8-.1 .8 .4 .8 0 .8 .3 .8 .9 .8-1.8 .8-.3 .8-1.6 .8-.1 .8-2 .8 .7 .8-1.1 .8-.9 .8-.3 .8-1 .8 .6 .8-.5 .8 0 .8 .9 .8 .7 .8-.6 .8 .2 .8 .4 .8-.3 .8 1.1 .8-.4 .8 .1 .8 .2 .8-1 .8 1.2 .8 .3 .8-1.7 .8-.8 .8 1.1 .8-.4 .8-.4 .8 .1 .8-.1 .8 .9 .8-.5 .8 1 .8-1.3 .8 0 .8 .1 .8 .1 .8 2.8 .8-.2 .8 1.4 .8 1.7 .8 .4 .8 1.1 .8 1.3 .8-1.8 .8 .3 .8-1.6 .8-1.6 .8-1.7 .8 1 .8-2.1 .8-.8 .8 .5 .8-.4 .8-.9 .8-.5 .8-.6 .8-.6 .8 0 .8-.8 .8 .3 .8-.4 .8-.4 .8 1.2 .8-1.6 .8 .5 .8-.7 .8 .2 .8-.3 .8-1.1 .8-1.2 .8-1.1 .8 1 .8-2.3 .8-1.4 .8 .5 .8-.3 .8 1.8 .8-1 .8 .2 .8 .6 .8 2.6 .8 5 .8 3.7 .8 4.5 .8-.8 .8-3.7 .8-3.3 .8-4.8 .8-2.5 .8-2.9 .8 1.8 .8 1.1 .8 1.2 .8 1.8 .8 .9 .8-1.7 .8 0 .8-1.2 .8-1.3 .8-1.3 .8-.3 .8-.5 .8 .6 .8-.2 .8-.1 .8 .1 .8 1.2 .8-.7 .8 .9 .8-.7 .8 1.3 .8-.2 .8 .9 .8 .5 .8 1.4 .8 1.1 .8 .3 .8 .3 .8 1.1 .8 .6 .8 3.8 .8 4.7 .8 .1 .8-2.6 .8-3 .8-1.9 .8-3.1 .8 1.5 .8-.6 .8 0 .8 .1 .8-.6 .8 1 .8 1.4 .8 1.4 .8 2 .8 1 .8-.6 .8-.9 .8-.4 .8-.6 .8 0 .8 1.4 .8-.4 .8 1 .8 .2 .8-.7 .8 1.6 .8 1 .8 .4 .8-.7 .8-.2 .8 .6 .8-1.6 .8 1.4 .8-1.4 .8 1.3 .8 .5 .8 1.6 .8 .4 .8 1 .8 .1 .8-.1 .8 1.7 .8 .4 .8 1.2 .8-1.8 .8 1.8 .8 .1 .8-.8 .8 .5 .8 1 .8-.8 .8-.1 .8 .5 .8 .1 .8 .2 .8-.3 .8 .8 .8-.2 .8 .7 .8 .2 .8 1 .8 1.6 .8 .6 .8 .5 .8-2.9 .8-1.9 .8-.3 .8 1.5 .8-.3 .8 .8 .8 .8 .8 .6 .8 .1 .8 .2 .8 .1 .8-.5 .8-.5 .8-.1 .8-.7 .8-.1 .8 1.2 .8 1 .8 .1 .8 .9 .8 1.2 .8-.6 .8 1.4 .8 .2 .8 0 .8 .6 .8 .7 .8 1.3 .8-1 .8 1.2 .8 0 .8 .3 .8 .3 .8 0 .8 1.1 .8-.6 .8 .2 .8 .8 .8 .8 .8 .5 .8-.1 .8-.2 .8 .9 .8-.1 .8 .2 .8 .1 .8-.4 .8 .5 .8 .5 .8 .7 .8-.7 .8-.6 .8 1.3 .8 .1 .8 .9 .8 .1 .8-.3 .8 .8 .8-1.3 .8-.1 .8-.4 .8 .1 .8 0 .8 .1 .8 .3 .8 .2 .8-1.2 .8 .9 .8-1 .8 .3 .8 .6 .8 .2 .8-.3 .8 .3 .8 .2 .8-.3 .8 .2 .8-.1 .8-.1 .8 .4 .8 1.4 .8-.1 .8 .2 .8 0 .8-.3 .8-.1 .8-.7 .8 .2 .8-1.4 .8 .5 .8 .5 .8-.7 .8-.9 .8 .7 .8 0 .8-.4 .8-.4 .8-.1 .8-.5 .8 .5 .8-.9 .8-.2 .8 .8 .8-2.1 .8 .8 .8 .5 .8-1.9 .8 .5 .8 0 .8-1.4 .8-.4 .8-2.9 .8-3.6 .8 2.2 .8 3.2 .8-3.2 .8-1.6 .8 2 .8 2.3 .8 2.5 .8 .8 .8 .2 .8-.1 .8 .3 .8 .1 .8 .7 .8-.2 .8 .3 .8 .2 .8-.8 .8 .2 .8-1.1 .8 2.1 .8 .2 .8 .4 .8 1 .8 .9 .8 .4 .8-.2 .8-1.2 .8-.9 .8-1.6 .8-2 .8-.4 .8-.5 .8-1.6 .8-.5 .8-1.5 .8-.3 .8-.5 .8 1.1 .8 .4 .8 .4 .8 3.3 .8 4.8 .8 6.1 .8-.2 .8-.9 .8-.9 .8 .7 .8-.8 .8 .4 .8 .2 .8-.4 .8 1.1 .8-.8 .8 .3 .8 .3 .8 1.3 .8 0 .8 0 .8 .2 .8-.9 .8 .4 .8 .3 .8-.4 .8-.4 .8 .6 .8-.1 .8-1.4 .8 .4 .8-.8 .8-.9 .8 .4 .8 .1 .8-.8 .8-.4 .8 .6 .8-.6 .8 .5 .8-.6 .8-.3 .8-1 .8 .5 .8 0 .8-1 .8 1 .8-.7 .8 .1 .8 .2 .8 .1 .8-.4 .8-.6 .8 .2 .8 .1 .8-1 .8-.2 .8 .4 .8-.3 .8 .6 .7-.5 .8 .2 .7 .1 .8-.3 .7-.5 .7 .3 .7-.6 .7 .2 .7-1.5 .7 .6 .7 .5 .7-2.7 .6 1.8 .7-1.2 .6 1 .7 .9 .6-.6 .6 .2 .7 1 .6 0 .6 .8 .6-1.2 .6-.2 .5-.8 .6 2.7 .6-.8 .5-.1 .6 .3 .6-1 .5 .7 .5 1.1 .6-.9 .5 .8 .5-.6 .5-.7 .5-.9 .5 .8 .5 1.2 .5-1.4 .5 1.7 .5-1.9 .5-.7 .4 0 .5 2 .4-2.1 .5 1.5 .4-1 .5 2.3 .4-2.5 .5 1.8 .4-2.5 .5 1.9 .4-.6 .5-.9 .4 1.9 .5-1.1 .4 .5 .5-1 .4 .2 .5 1.4 .4 .1 .5-1.4 .4 1.1 .5-.7 .4-1.3 .5 .1 .4 .9 .5 .6 .4-.8 .5-.5 .4 0 .5 1.5 .4-.7 .5-2 .4 2.8 .5-1.7 .4 2 .5-1.5 .4-1.7 .5 5.6 .4-5.6 .5 4.4 .4-3.5 .5 1.6 .4 .5 .5 .7 .4-.4 .5-2.8 .4 1.4 .5-1.2 .4 2.9 .5-3.1 .4 1.3 .5-1.6 .4 1.1 .5 3.3 .4-2.4 .5-.9 .4 3.2 .5-3.3 .4 1.7 .5-1.1 .4-.9 .5-.3 .4 1.4 .5 .3 .4 1 .5-.9 .4-2 .5 2.6 .4-2 .5 1.8 .4 .1 .5-1.5 .4 .8 .5-1.2 .4-1.6 .5 2.1 .4-.6 .5 1.9 .4-1.6 .5 1.5 .4-.8 .5 .2 .4 0 .5 .3 .4 .2 .5-.7 .4 .2 .5 1 .4-.8 .5 .5 .4-1.5 .5 1.2 .4-3.1 .5 2.8 .4-1.1 .5 .8 .4 .3 .5-.3 .4-3.7 .5 4.5 .4-1.7 .5-1 .4 .2 .5 .5 .4 1.5 .5-1.3 .4 2.8 .5-.6 .4-2.1 .5-1.2 .4 1 .5 2 .4-1.3 .5 .1 .4-.7 .5 .9 .4-.4 .5-2.1 .4 2.9 .5-1.9 .4 .5 .5 .6 .4 1.7 .5-2.3 .4-.2 .5 1 .4-.5 .5 .4 .4-1.4 .5-.6 .4 1.7 .5-.9 .4 1.2 .5-1.2 .4 2.3 .5-2.7 .4 3.6 .5-2 .4 .2 .5-1.2 .4 .8 .5 1.9 .4-.7 .5-2.1 .4 1.4 .5-1.5 .4 1.9 .5 1.2 .4-2.6 .5 .1 .4-1.5 .5 .8 .4 1.1 .5 2.2 .4-3.5 .5-.9 .4 1.9 .5 .6 .4-3 .5 .5 .4 1.8 .5 3 .4-5.4 .5 3.6 .4-.9 .5-1.6 .4 2.1 .5 1.5 .4-2.7 .5 .6 .4-2.1 .5 2.9 .4-1.4 .5 2.5 .4 .6 .5-1.7 .4-2.4 .5 2.9 .4-.5 .5-1.5 .4 1.1 .5-.2 .4 0 .5-.2 .4-.7 .5 .4 .4-.1 .5 .3 .4-1.1 .5 .8 .4-1.7 .5 1.2 .4 1.3 .5-.9 .4-.2 .5 .3 .4-.7 .5 .1 .4-1.1 .5 .1 .4 2.5 .5-1.8 .4 .6 .5 .2 .4-.6 .5 .6 .4-.3 .5 1 .4-.9 .5 1.8 .4-4.1 .5 5 .4-3 .5 .8" fill="none" stroke="#00ff00" stroke-width="0.9"/>
<path d="M71.9 670.4l.8-.1 .8-.4 .8 .3 .8-.3 .8-.9 .8 .1 .8-1 .8 .9 .8-1.5 .8 1.5 .8 .2 .8-.8 .8 1.9 .8-1 .8 1.4 .8-.1 .8-.4 .8-.8 .8 .6 .8-.3 .8-.2 .8-.6 .8-.5 .8 0 .8-.1 .8 1.1 .8 .1 .8 .1 .8-.2 .8-.1 .8 .9 .8 .3 .8 1.5 .8-.2 .8-.1 .8 0 .8 .5 .8 .1 .8-.3 .8 .4 .8-.4 .8 1.6 .8-1.1 .8 1.7 .8-.9 .8-.8 .8 .4 .8 .9 .8-.1 .8-.7 .8-1 .8 1.1 .8 0 .8-.2 .8 .2 .8 1.6 .8 .4 .8 .4 .8-.1 .8-.6 .8-.7 .8 .1 .8-.8 .8-1.5 .8-1.2 .8-.2 .8-.9 .8-.3 .8-.4 .8 .5 .8-.8 .8-.6 .8 .6 .8 .3 .8-1.5 .8-.2 .8-.2 .8-.9 .8-.5 .8 0 .8-.2 .8-.2 .8-2.3 .8 .9 .8-.3 .8-.4 .8 .8 .8-.2 .8 .3 .8 .7 .8-1.1 .8-.8 .8-.8 .8 .2 .8-.7 .8-1 .8-.6 .8-.1 .8 1.2 .8 1.1 .8-.3 .8 .6 .8 .2 .8 .1 .8-.4 .8-.3 .8-1.7 .8 0 .8-1 .8 1.2 .8-.3 .8 1 .8 .9 .8-.4 .8-.3 .8-.8 .8-.7 .8 .4 .8-1.2 .8-.8 .8 .3 .8 .8 .8-.8 .8 .9 .8 .3 .8-.9 .8 .8 .8 .8 .8-1.2 .8 .6 .8 .1 .8-.4 .8 .8 .8-2.3 .8 .9 .8-.2 .8-1.2 .8 .1 .8 2.7 .8 3.9 .8-.2 .8-1.3 .8-1.5 .8-.6 .8-1.3 .8 .5 .8-.9 .8-.4 .8 .1 .8 .1 .8-1 .8 1.7 .8 .8 .8 1.7 .8 .6 .8 .1 .8 .5 .8-2 .8 .2 .8-.9 .8 .9 .8 .5 .8 .9 .8-.3 .8 1.7 .8 .2 .8-.2 .8 1 .8 .1 .8-1 .8 1.2 .8-.4 .8 .1 .8 0 .8-.5 .8 1.3 .8 .5 .8-.4 .8 1.2 .8 .8 .8 .6 .8 1.4 .8-.7 .8 1 .8 .7 .8 .4 .8 1.8 .8 0 .8 .9 .8 1.1 .8-1.1 .8 .5 .8-1.4 .8 1 .8-1.3 .8-.1 .8-.7 .8 .3 .8 0 .8 .8 .8-.3 .8 1.3 .8-.1 .8 .5 .8 .1 .8 .9 .8 .7 .8 0 .8 .8 .8 .4 .8 1.1 .8 1.1 .8-1.2 .8 .3 .8 0 .8-1.4 .8-.6 .8-.1 .8 .3 .8-.1 .8 1.8 .8 .2 .8 1.7 .8 .4 .8 .3 .8 .9 .8 .6 .8 .5 .8 1.2 .8 .9 .8 1.5 .8 .2 .8 .7 .8 1.4 .8 .4 .8 1.4 .8 .3 .8 .4 .8 .9 .8 .5 .8 1.4 .8 .9 .8 .5 .8-.2 .8 1.6 .8-.3 .8 1.2 .8 0 .8-.5 .8 2 .8-2.2 .8 0 .8 .7 .8 .8 .8-1.1 .8 .8 .8 0 .8-.7 .8 .4 .8 .6 .8-.3 .8 0 .8-.4 .8 0 .8-.2 .8 .5 .8-.1 .8-.4 .8 .3 .8-1.5 .8 .2 .8 .9 .8-1 .8 .3 .8-.6 .8 .7 .8-.6 .8-.9 .8 .3 .8-.2 .8 1.1 .8-.6 .8-.6 .8 .5 .8 .3 .8-1.4 .8 .1 .8 .3 .8-.9 .8 .6 .8-.2 .8-.5 .8 .3 .8-.1 .8-1 .8 .6 .8-.7 .8-.4 .8 .6 .8-.6 .8-.3 .8-.3 .8-.3 .8 .2 .8-.2 .8-1 .8-.1 .8 .5 .8-1 .8-.2 .8 .3 .8-1.1 .8-.8 .8-.2 .8 .2 .8-2.1 .8-2.3 .8-.3 .8 .6 .8-.8 .8 1.9 .8 1.1 .8 1.2 .8 1.2 .8 .3 .8-.3 .8-.1 .8-.2 .8 1.5 .8-.1 .8-1 .8 .3 .8 .1 .8-.6 .8-.1 .8-.3 .8 .4 .8 .7 .8 .5 .8-.1 .8 .9 .8 .4 .8 1.1 .8-1 .8-.4 .8-.4 .8-1 .8 .8 .8-1.1 .8-.1 .8 .2 .8-1.4 .8 .8 .8 1.2 .8 .6 .8 .7 .8 1.5 .8 1.5 .8-.4 .8 .3 .8 .3 .8-.8 .8-.2 .8-1.3 .8 .3 .8-1.2 .8 .3 .8 .2 .8-1 .8-.8 .8 .2 .8 0 .8-.7 .8-.3 .8 .9 .8-.1 .8-1.1 .8 .8 .8-.8 .8-.2 .8 .3 .8-.9 .8 .6 .8-.1 .8-.1 .8-1 .8-.1 .8 .9 .8 .2 .8 .1 .8-.3 .8 0 .8 .3 .8-.1 .8 .9 .8-.2 .8-.3 .8 .5 .8 .2 .8-.8 .8 .1 .8 .4 .8 0 .8 .7 .8-.1 .8-.1 .8 .1 .8-.2 .8-.1 .8 .5 .8 0 .8-.2 .8 1.8 .8-1.5 .7 1.8 .8-1.5 .7 0 .8-.3 .7 .4 .7-.6 .7-.2 .7-1.1 .7 1.4 .7-.4 .7-1.5 .7 2 .6-.5 .7 2 .6-2.2 .7 1.1 .6 .5 .6-1.1 .7 1.2 .6-.9 .6 1.4 .6-.3 .6-.8 .5 1.1 .6 .5 .6 1.2 .5-2.7 .6 1.7 .6-.3 .5 .1 .5 .5 .6-.4 .5-.3 .5 .7 .5-1.4 .5 .7 .5 0 .5 1.2 .5-.5 .5-.7 .5 .7 .5 .7 .4-.5 .5 .2 .4-.1 .5-.6 .4-.4 .5 .1 .4 0 .5 1.7 .4-.5 .5 .3 .4-.9 .5-1.3 .4 .5 .5 .6 .4 .2 .5 1.5 .4-2.3 .5 .6 .4 1.5 .5-.1 .4-.7 .5-.4 .4 .2 .5 .6 .4 .5 .5 0 .4-1.3 .5-.7 .4 1.4 .5 1.1 .4-.8 .5-1.9 .4 .2 .5-.4 .4 2.1 .5-.5 .4 .6 .5-1.1 .4 .8 .5 .5 .4-.3 .5-.5 .4-1.6 .5 .1 .4 1.6 .5-.5 .4 2.3 .5-1 .4-.9 .5-.5 .4 .8 .5 .9 .4 .3 .5-2 .4 1.4 .5-2.1 .4 1.9 .5-1.3 .4 1.1 .5-.4 .4-.2 .5 .7 .4-.7 .5 1.4 .4-1.1 .5 .6 .4-1.2 .5 1.6 .4-.1 .5-.3 .4 .6 .5-.9 .4 1 .5-1.2 .4-1.1 .5 1.2 .4-.5 .5 .5 .4 .8 .5 .7 .4-1.7 .5 .2 .4 .9 .5-.9 .4 1.1 .5-1.2 .4 1.4 .5-2.2 .4-.1 .5-.4 .4 .5 .5 2.4 .4-.9 .5-1.9 .4 1.7 .5-1.2 .4 1.8 .5-.5 .4-.4 .5 .9 .4-2.8 .5 .3 .4 3 .5-2.3 .4 1.3 .5 .6 .4-1 .5 1.4 .4-.9 .5 .8 .4 .6 .5-.6 .4-1.4 .5 1.4 .4-.4 .5 .4 .4 .4 .5-2.4 .4 1.2 .5 .3 .4-.8 .5-.4 .4 1.5 .5-.7 .4 .7 .5-.2 .4 .1 .5-.9 .4 1 .5-.8 .4 .1 .5 .1 .4-1.3 .5 .1 .4 1.2 .5-.2 .4-2.5 .5 2.9 .4-1.1 .5 1 .4-.9 .5 1.5 .4-1.6 .5 .8 .4-.1 .5 .6 .4 .9 .5-2.4 .4 .2 .5 1.7 .4-1.4 .5 1.6 .4-.6 .5-1 .4 .4 .5 .7 .4 .9 .5-1.8 .4 1.2 .5-1.2 .4 .9 .5 1.5 .4-1.6 .5 0 .4 .3 .5-.3 .4 .7 .5-.5 .4 1.3 .5-1.8 .4-1.5 .5 2.7 .4-1.8 .5 1.5 .4 1 .5-1.4 .4 0 .5 1.2 .4-1.3 .5-1 .4 .2 .5-.8 .4 .9 .5 .1 .4-.2 .5 0 .4 2.4 .5-.7 .4-.1 .5-.8 .4 .3 .5 1.2 .4-.4 .5-1.9 .4 1.2 .5 .7 .4-3.2 .5 2.5 .4-1.3 .5 2.2 .4 .2 .5-.5 .4-.1 .5-1.2 .4 .4 .5 .4 .4-1 .5 .3 .4 1.5 .5-.3 .4-2.3 .5 .4 .4-.9 .5 2.4" fill="none" stroke="#0000ff" stroke-width="0.9"/>
<line x1="77" y1="660.5" x2="95" y2="660.5" stroke="#00ff00" stroke-width="0.9"/>
<text x="97" y="664.3" font-size="10" fill="#00ff00">P<tspan font-size="6.5" dy="3">p</tspan></text>
<line x1="77" y1="670.5" x2="95" y2="670.5" stroke="#ff0000" stroke-width="0.9"/>
<text x="97" y="674.3" font-size="10" fill="#ff0000">P<tspan font-size="6.5" dy="3">e</tspan></text>
<line x1="77" y1="681.5" x2="95" y2="681.5" stroke="#333" stroke-width="0.9"/>
<text x="97" y="685.3" font-size="10" fill="#333">P<tspan font-size="6.5" dy="3">b</tspan></text>
<line x1="77" y1="692" x2="95" y2="692" stroke="#0000ff" stroke-width="0.9"/>
<text x="97" y="695.8" font-size="10" fill="#0000ff">P<tspan font-size="6.5" dy="3">tot</tspan></text>
<path d="M90.5 654.5v3.7M90.5 722.5v-3.7M123.5 654.5v3.7M123.5 722.5v-3.7M155.5 654.5v10.5M155.5 722.5v-10.5M188.5 654.5v3.7M188.5 722.5v-3.7M220.5 654.5v3.7M220.5 722.5v-3.7M253.5 654.5v10.5M253.5 722.5v-10.5M285.5 654.5v3.7M285.5 722.5v-3.7M318.5 654.5v3.7M318.5 722.5v-3.7M350.5 654.5v10.5M350.5 722.5v-10.5M382.5 654.5v3.7M382.5 722.5v-3.7M415.5 654.5v3.7M415.5 722.5v-3.7M447.5 654.5v10.5M447.5 722.5v-10.5M480.5 654.5v3.7M480.5 722.5v-3.7M512.5 654.5v3.7M512.5 722.5v-3.7" stroke="#000" stroke-width="1.15" fill="none"/>
<path d="M71.5 719.5h2.5M525.5 719.5h-2.5M71.5 715.5h2.5M525.5 715.5h-2.5M71.5 712.5h2.5M525.5 712.5h-2.5M71.5 708.5h2.5M525.5 708.5h-2.5M71.5 705.5h5.8M525.5 705.5h-5.8M71.5 702.5h2.5M525.5 702.5h-2.5M71.5 698.5h2.5M525.5 698.5h-2.5M71.5 695.5h2.5M525.5 695.5h-2.5M71.5 691.5h2.5M525.5 691.5h-2.5M71.5 688.5h5.8M525.5 688.5h-5.8M71.5 685.5h2.5M525.5 685.5h-2.5M71.5 681.5h2.5M525.5 681.5h-2.5M71.5 678.5h2.5M525.5 678.5h-2.5M71.5 674.5h2.5M525.5 674.5h-2.5M71.5 671.5h5.8M525.5 671.5h-5.8M71.5 668.5h2.5M525.5 668.5h-2.5M71.5 664.5h2.5M525.5 664.5h-2.5M71.5 661.5h2.5M525.5 661.5h-2.5M71.5 657.5h2.5M525.5 657.5h-2.5" stroke="#000" stroke-width="1.15" fill="none"/>
<rect x="71.5" y="654.5" width="454" height="68" fill="none" stroke="#000" stroke-width="1.3"/>
<text x="527.5" y="659.7" font-size="11">2.0</text>
<text x="527.5" y="675.5" font-size="11">1.5</text>
<text x="527.5" y="692.5" font-size="11">1.0</text>
<text x="527.5" y="709.5" font-size="11">0.5</text>
<text x="527.5" y="726.5" font-size="11">0.0</text>
<text x="561" y="689" font-size="11.5" text-anchor="middle" transform="rotate(-90 561 689)">P [nPa]</text>
<line x1="729.8" y1="43" x2="729.8" y2="115" stroke="#ff00ff" stroke-width="1.3" stroke-dasharray="1.3 3.30"/>
<line x1="941.4" y1="47" x2="941.4" y2="115" stroke="#22aa22" stroke-width="1.2" stroke-dasharray="7 5.4"/>
<line x1="969.5" y1="47" x2="969.5" y2="115" stroke="#22aa22" stroke-width="1.2" stroke-dasharray="7 5.4"/>
<line x1="948.2" y1="47" x2="948.2" y2="115" stroke="#ff2020" stroke-width="1.2" stroke-dasharray="7 5.4"/>
<line x1="962.2" y1="47" x2="962.2" y2="115" stroke="#ff2020" stroke-width="1.2" stroke-dasharray="7 5.4"/>
<line x1="956.3" y1="43" x2="956.3" y2="115" stroke="#ff00ff" stroke-width="1.3" stroke-dasharray="1.3 3.30"/>
<line x1="967.8" y1="43" x2="967.8" y2="115" stroke="#0000ff" stroke-width="1.3" stroke-dasharray="1.4 3.5"/>
<path d="M668.8 66.9l.9 1.8 .9 1.8 .9 2.4 .9 5 .9 3.2 .9-.9 .9-1.6 .9-.1 .9 3.1 .9 3.2 .9 2.5 .9 1.8 .9-2 .9-3.5 .9-3 .9-2.5 .9-.9 .9-1.4 .9 5.1 .9 2.5 .9 5.4 .9 4.6 .9 5.5 .9 .4 .9-1.9 .9-2.2 .9-1.7 .9-1.2 .9 0 .9-1 .9-3.5 .9-1.3 .9-2 .9 1.2 .9-.6 .9 .7 .9 .4 .9 .3 .9 .7 .9-.1 .9 1.2 .9-1.8 .9-.9 .9-4.3 .9-.9 .9-.6 .9 1.9 .9 1.3 .9-1.6 .9-3.5 .9-1.6 .9-3.2 .9-2.1 .9-2.9 .9-1.9 .9 1.1 .9 2 .9 2.3 .9 2.7 .9 2.3 .9 2.4 .9 .3 .9 2 .9 3.2 .9 2.7 .9 2.1 .9 .4 .9 .2 .9-2.5 .9-1 .9-.2 .9 2 .9 1.6 .9 3.9 .9 1.7 .9 4.5 .9 .9 .9-2.4 .9-2.8 .9-2.9 .9-5 .9-6.7 .9-5.5 .9-5.6 .9-1.6 .9-3.9 .9-4.1 .9 .1 .9 3.7 .9-.3 .9-6.2 .9-6.6 .9 3.2 .9 3.5 .9 6.7 .9 3.4 .9-1.7 .9-2.4 .9-1.5 .9-3.3 .9-1.7 .9 1.8 .9 4.7 .9 4.3 .9 2.9 .9 3.1 .9 .9 .9 1.4 .9 2.3 .9-1 .9 .5 .9-2.3 .9 .4 .9 1.1 .9-1.2 .9-.9 .9-2.2 .9 1.6 .9 1.6 .9-.9 .9 1.3 .9-.6 .9 1 .9 .4 .9 2 .9 2.3 .9 .9 .9 1.5 .9 2.4 .9 2.4 .9-2 .9-5.5 .9-2.1 .9-2.1 .9-2.4 .9-5.3 .9-3.8 .9-5.2 .9-5.6 .9 .5 .9-.3 .9 1.7 .9 2.6 .9 1.7 .9 .7 .9-.4 .9 .5 .9 .6 .9 .2 .9-.8 .9-1.2 .9 .5 .9 .4 .9 2.6 .9 2.3 .9 2.3 .9-1.2 .9 .2 .9 0 .9 2.3 .9 .5 .9-.8 .9-.1 .9-1.2 .9 1.2 .9-1.4 .9 1.2 .9-1.5 .9 0 .9-.6 .9-1 .9 .2 .9-1.5 .9-.2 .9-2 .9 .1 .9-.2 .9-.4 .9-1.9 .9-1.1 .9 .1 .9-3.7 .9 5.6 .9-.8 .9-.1 .9-1.2 .9 .1 .9 1.2 .9 1 .9 .2 .9 .4 .9 1.7 .9 1.1 .9-1 .9-1.2 .9 1.7 .9 .6 .9 1.4 .9-.6 .9 .7 .9 .2 .9-1.5 .9-.3 .9 .2 .9 .7 .9-.1 .9-.2 .9 .7 .9 .6 .9 1.2 .9 1 .9 .8 .9-.1 .9 .5 .9 .4 .9-.8 .9-1.3 .9-.1 .9 .5 .9 1.1 .9-1.4 .9-.7 .9 .1 .9 1.7 .9 .2 .9-.6 .9 .5 .9 .3 .9-.5 .9-1.4 .9 .5 .9 0 .9 .9 .9 .1 .9 1.6 .9 2.3 .9 .7 .9 .8 .9-.7 .9-.9 .9-.5 .9-.7 .9 1.4 .9 .6 .9-.3 .9 .5 .9-.7 .9 .2 .9-.7 .9 1.9 .9 .1 .9-.2 .9-.2 .9 1.1 .9 .7 .9-1.8 .9-1.4 .9 1.2 .9 .5 .9 .3 .9-.2 .9 .2 .9 .6 .9 .9 .9 .9 .9 1 .9-1 .9 .5 .9-.5 .9 .9 .9 .3 .9 .3 .9-1 .9 .1 .9 .7 .9 1.8 .9-.2 .9 1.1 .9 .8 .9 2.4 .9-3 .9-4.1 .9-3.5 .9-2.9 .9 3.5 .9 2 .9 3 .9-.3 .9 .1 .9-1.1 .9 .9 .9 .6 .9 0 .9-1.8 .9-2.6 .9-1 .9 1.3 .9 3.6 .9 1.9 .9 .2 .9-.6 .9-.5 .9 1.3 .9 .6 .9-.6 .9 .1 .9 .6 .9 .1 .9 1.9 .9-1.2 .9 1.2 .9-1.3 .9 1 .9-.8 .9-1.5 .9-3 .9-1.7 .9-1.2 .9 .2 .9-.9 .9-.7 .9-.8 .9 .3 .9-.4 .9-.5 .9-.6 .9-.7 .9-.5 .9-.9 .9-.8 .9-.8 .9-.7 .9-.8 .9-.7 .9-.3 .9-.1 .9 0 .9-.1 .9-.4 .9-.2 .9 .3 .9 .5 .9 .7 .9 .1 .9 0 .9 .3 .9 .3 .9 .3 .9 .5 .9 .4 .9 .5 .9 .1 .9 0 .9 .4 .9 .2 .9 .3 .9-.2 .9-.1 .9 .2 .9 .3 .9 .2 .9-.5 .9-.3 .9-.3 .9 .4 .9-.3 .9-.3 .9-.1 .9 .4 .9 .9 .9 1.1 .9 .3 .9 .7 .9 .3 .9 .7 .9 .8 .9 .4 .9 .4 .9 .3 .9 .6 .9 .8 .9 .5 .9 .6 .9 .3 .9 .5 .9 .2 .9 .3 .9-.1 .9 .3 .9 .1 .9 .7 .9 .2 .9 .4 .9 .1 .9 0 .9-.3 .9-.2 .9-.1 .9 0 .9 0 .9 .1 .9 .2 .9-.2 .9-.2 .9 0 .9-.7 .9-.6 .9-.8 .9-.5 .9-.6 .9-.7 .9-.6 .9-.3 .9-.1 .9-.2 .9-.2 .9 0 .9 0 .9-.1 .9 .1 .9-.3 .9 0 .9 .1 .9 .1 .9-.2 .9-.5 .9-.1 .9 0 .9 .2 .9 .1 .9 .2 .9-.1 .9-.1 .9-.1 .9-.4 .9 0 .9 .1 .9 .5 .9 .2 .9-.2 .9-.1 .9 0 .9 .1 .9 .2 .9-.1 .9 .2 .9-.2 .9 .4 .9 0 .9 .2 .9 .2 .9 .1 .9 .2 .9 .1 .9 .3 .9 0 .9 .2 .9 0 .9 .5 .9-.1 .9 .3 .9 0 .9 .3 .9 0 .9 .2 .9 .1 .9 .1 .9 0 .9 .2 .9 .2 .9 .1 .9 .1 .9 .1 .9 .4 .9 .1 .9 .2 .9-.1 .9 .3 .9 0 .9 .2 .9 0 .9 0 .9 .3 .9 .2 .9 .2 .9-.1 .9-.2 .9 0 .9-.1 .9 .1 .9 .3 .9 .1 .9-.1 .9-.1 .9 0 .9 .2 .9 .1 .9 0 .9-.1 .9 .1 .9 .2 .9 .3 .9 .1" fill="none" stroke="#00ff00" stroke-width="0.9"/>
<path d="M668.8 104l.9 3.5 .9 1 .9 1.2 .9-1.2 .9 .8 .9 .9 .9 .9 .9 0 .9 1.1 .9-.7 .9-1.8 .9-2.9 .9-1.6 .9-8.1 .9-8.1 .9-8.5 .9-4.4 .9-6.8 .9-3.4 .9-2.1 .9 3.2 .9 2.4 .9 5 .9 1.5 .9 2.7 .9-.5 .9 1.5 .9-.4 .9 0 .9 1.9 .9 .2 .9 2.5 .9 .4 .9 1.4 .9 .3 .9-1 .9-.9 .9-2.2 .9-.9 .9 0 .9 1.6 .9-1 .9 .4 .9 .6 .9 1 .9 2.8 .9 1.9 .9 1.8 .9-.6 .9 .9 .9 .8 .9 2.6 .9 0 .9 1.5 .9 .1 .9 .1 .9 1.7 .9 1 .9 1.3 .9-.2 .9-1.4 .9 1.4 .9 .3 .9 1.1 .9-1.3 .9-.6 .9-.5 .9-2.9 .9-2.8 .9-1.5 .9 0 .9 1.9 .9 .9 .9 .1 .9-2.5 .9-1 .9-3.1 .9-1.7 .9-2.4 .9-2.8 .9-3.7 .9-1.3 .9 .3 .9 0 .9-1 .9 .7 .9 3.3 .9 1.8 .9 3.9 .9-5.1 .9-9.2 .9-9.6 .9 12.1 .9 7.5 .9 3.1 .9-3.8 .9-3.2 .9-2.9 .9 2.5 .9 3.8 .9 2.9 .9-.2 .9 1.1 .9 2.1 .9 .2 .9-.2 .9 1 .9 1.2 .9-.3 .9-1.1 .9 .8 .9 2 .9 1.2 .9 .6 .9 .4 .9 1 .9 .8 .9 2.3 .9 1.6 .9 4 .9 3.4 .9 2.3 .9 1.7 .9-1.5 .9 1.1 .9 2.5 .9 1.2 .9-2.7 .9-3 .9-.4 .9-.6 .9 1.4 .9 .4 .9 .5 .9 .2 .9-.4 .9-4.5 .9-3.7 .9 2.4 .9 0 .9-4.6 .9-4.6 .9 .3 .9-1.2 .9-.7 .9-.2 .9-.3 .9-.4 .9-1.9 .9-.7 .9 1.6 .9 2.2 .9 2.4 .9 1.3 .9 1.3 .9 3.3 .9 1.1 .9 0 .9-2.7 .9-.1 .9 .5 .9 2 .9 .2 .9-1 .9-1.9 .9 .5 .9-.3 .9 .4 .9-1.7 .9 .7 .9 1.4 .9 .4 .9 .1 .9-1.4 .9 .6 .9-.2 .9-.6 .9-.2 .9-1 .9-.7 .9-2.4 .9-4.1 .9 8.9 .9-.5 .9-1 .9-.7 .9-2.7 .9 .7 .9 .6 .9 3.1 .9 1.2 .9-1.1 .9-1.8 .9-.6 .9 2.6 .9 1.6 .9-.8 .9-3.3 .9-.6 .9-.4 .9 .7 .9-1 .9-2.3 .9-1.2 .9 .2 .9 1.1 .9-1.1 .9-1.5 .9-.6 .9 2.4 .9 1.8 .9 .4 .9-.7 .9-1.9 .9 0 .9-1.6 .9 .5 .9 .8 .9 2.2 .9 1.1 .9 0 .9-.9 .9-.2 .9 .8 .9-.3 .9 .9 .9 .5 .9 1.8 .9-.3 .9 .4 .9-.8 .9-.2 .9-2 .9-.8 .9 1 .9 .9 .9 1.8 .9 0 .9 0 .9-1.3 .9 .3 .9 1.3 .9 .3 .9 .3 .9 2.2 .9 1.2 .9 .2 .9-2.3 .9-1.8 .9 .2 .9 .3 .9 1.4 .9-.3 .9 1 .9 1 .9 .1 .9-1.8 .9-1 .9 1.3 .9 1.3 .9 .6 .9-1.6 .9-.2 .9 .5 .9 2 .9 1.1 .9 .8 .9 1 .9 .8 .9-.2 .9-.9 .9 0 .9-.6 .9-.1 .9-.3 .9-1.3 .9-1 .9-1.1 .9-.9 .9-2.1 .9-2.4 .9-7.5 .9-3.1 .9 10.9 .9 5.3 .9 2.2 .9-.1 .9 1.8 .9-1.8 .9 .7 .9-1.4 .9-2.3 .9-3.9 .9-1.8 .9-1.8 .9-.5 .9 2.2 .9 3.7 .9 .9 .9 .5 .9-2.5 .9 1.6 .9-1.7 .9 .5 .9-2.2 .9-.1 .9-.4 .9-.6 .9-1.1 .9-.6 .9-.1 .9-.2 .9-.4 .9-1 .9-.6 .9-1.4 .9-1.7 .9-1.5 .9-1.5 .9-.3 .9-1.7 .9-.5 .9-.3 .9 .4 .9-1.2 .9-.9 .9 1.6 .9 2.2 .9 2.1 .9 3.1 .9 3.3 .9 1.9 .9-.4 .9-.3 .9-.7 .9-.2 .9-.7 .9 .8 .9 .9 .9 1.2 .9 1 .9 .7 .9 .7 .9 .9 .9 .4 .9 .4 .9 .6 .9 1.1 .9-.1 .9-.3 .9-.3 .9 .1 .9-.7 .9-.5 .9-.9 .9-.2 .9-.3 .9-.1 .9-.1 .9-.3 .9-.2 .9-.4 .9-.1 .9-.3 .9 .3 .9-.1 .9-.2 .9 .2 .9 1 .9 1 .9 .7 .9 .4 .9 .5 .9 .3 .9-1.4 .9-1.6 .9-1.8 .9-1.3 .9-.3 .9 .3 .9-.2 .9 .2 .9 0 .9 .3 .9-.1 .9 .3 .9 .1 .9 .3 .9 .3 .9-.1 .9-.3 .9 .1 .9 .2 .9-.1 .9 0 .9 .1 .9 .1 .9 0 .9-.1 .9 0 .9 0 .9-.1 .9 .2 .9-.2 .9 .3 .9-.1 .9 .2 .9-.5 .9 .1 .9-.2 .9 .1 .9-.1 .9-.1 .9 .1 .9 0 .9-.1 .9-.3 .9 0 .9 0 .9 .1 .9-.2 .9 0 .9-.3 .9-.1 .9 .1 .9-.1 .9-.2 .9-.1 .9 0 .9 .3 .9 0 .9 .2 .9 0 .9 .1 .9-.1 .9 .2 .9-.1 .9 .3 .9-.1 .9 .3 .9 .2 .9 .1 .9 0 .9 .2 .9 .2 .9 .4 .9 .1 .9 .2 .9-.1 .9 .1 .9 .2 .9 0 .9-.1 .9 .3 .9 .3 .9 .3 .9-.2 .9-.3 .9-.1 .9 .1 .9 .2 .9 .1 .9 0 .9 .1 .9 0 .9 .1 .9 .1 .9 0 .9 0 .9 0 .9-.2 .9 .1 .9 .1 .9 .2 .9-.1 .9-.1 .9-.1 .9 0 .9 .1 .9 0 .9 .1 .9 .1 .9 0 .9 .1 .9-.3 .9 .1 .9 0 .9 .2 .9-.3 .9 0 .9-.1 .9 .2 .9 0 .9 .1 .9 0 .9 .2 .9 .2 .9 0 .9-.1 .9 0 .9 .2 .9 .1 .9 0" fill="none" stroke="#ff0000" stroke-width="0.9"/>
<path d="M668.8 70.3l.9 1.1 .9-.5 .9 1.1 .9-1.1 .9 .2 .9 3 .9 3.1 .9 3.6 .9 2.9 .9 3.4 .9 2.5 .9 2.8 .9-2.4 .9-3.5 .9-5.2 .9-5.1 .9-3.7 .9 4.7 .9 3.5 .9 1.2 .9-1.5 .9-1.8 .9 1 .9 .5 .9 1.6 .9-.7 .9-.1 .9-.7 .9 .1 .9 .8 .9-1.2 .9 .5 .9-.8 .9 .9 .9-.4 .9 .5 .9 .4 .9 0 .9-.4 .9-1.7 .9-1.7 .9-1.6 .9-.5 .9-1.6 .9-3 .9 1.1 .9 1.9 .9 4.3 .9 2 .9-.3 .9-1.7 .9-2.2 .9-2 .9-1.3 .9-.3 .9-.4 .9 1.9 .9 1.2 .9 1.5 .9 .1 .9-.2 .9 1.4 .9 2.2 .9 3.8 .9 1.2 .9-1.2 .9-.9 .9-2.1 .9-3.9 .9-6.1 .9-2.5 .9-.8 .9 1.1 .9 .4 .9 3.1 .9 3.4 .9 3.1 .9 1.7 .9 1.2 .9 .1 .9 .1 .9 1 .9 3.3 .9 1.7 .9 1.9 .9-1.2 .9-.6 .9-1.2 .9 .6 .9 2.9 .9 3 .9 4.7 .9-1.9 .9-3.4 .9-3.9 .9 .4 .9 .9 .9-.9 .9-2 .9-2 .9 .2 .9-1.7 .9 .3 .9 .3 .9 1.3 .9 1.3 .9-.6 .9-1.8 .9-3.2 .9-1.7 .9 .6 .9 1 .9-1 .9-1 .9-1.3 .9-.6 .9-.9 .9-.7 .9-.6 .9-1 .9-.1 .9-.4 .9-2.6 .9-2.1 .9-2.3 .9 2.3 .9 .6 .9 1.4 .9-.3 .9 .9 .9-1.8 .9 1.3 .9 1.9 .9 2.9 .9-1.3 .9-.7 .9-1.4 .9-.7 .9 3.1 .9 2.9 .9 2.4 .9-.6 .9-.2 .9 2.3 .9 2.6 .9 2.2 .9 0 .9-1.8 .9-.8 .9-1.9 .9 0 .9-2.6 .9-1.4 .9-1.1 .9-2.5 .9-.4 .9-2.3 .9 2.1 .9-1.9 .9 2 .9-1.3 .9 .8 .9-1.2 .9 1 .9 .9 .9 1.1 .9 .1 .9 1.7 .9 .2 .9 .9 .9-1.2 .9 1 .9-.1 .9 .6 .9 1 .9 1.1 .9 1.5 .9 .2 .9 2.5 .9 .6 .9 2.8 .9-3.9 .9 .4 .9 5 .9-.3 .9 .4 .9-.4 .9-1 .9-2.3 .9-.1 .9-.5 .9 1.4 .9 .5 .9-.2 .9 .9 .9 1 .9 1.6 .9-.6 .9-.1 .9 .4 .9 1.6 .9 .5 .9-1 .9-.3 .9-1.7 .9 .8 .9 .4 .9 .5 .9 .2 .9-.9 .9 .7 .9 .5 .9 .3 .9-.9 .9-1 .9 .2 .9 .1 .9 .2 .9 .5 .9 .4 .9 .2 .9 .6 .9 .8 .9-.7 .9-1.5 .9 1.2 .9 3.3 .9 0 .9-1.2 .9-1.7 .9 .1 .9-2.1 .9-.1 .9-.1 .9 1.2 .9-1.7 .9-.4 .9 .2 .9 1.1 .9 .8 .9-.1 .9 1.1 .9 .4 .9-.3 .9-.9 .9 .1 .9 .6 .9 1.7 .9-.5 .9 .8 .9-.3 .9-.2 .9 .7 .9-.8 .9 .1 .9-1.6 .9-1.4 .9-1 .9 1 .9 .6 .9 .3 .9-1.3 .9-.1 .9-1 .9-1 .9-.8 .9 .6 .9-.2 .9 .8 .9-1.1 .9-.6 .9-2.3 .9-.7 .9-.5 .9-.4 .9-1.3 .9 1.2 .9 3 .9 3 .9-5 .9-4.7 .9-5.4 .9-6.5 .9-.3 .9 15.3 .9 10.3 .9 1.2 .9 1.3 .9 .6 .9 1.2 .9 .8 .9 3 .9 2.6 .9 4.6 .9-4.3 .9-1.8 .9-1.3 .9 4.6 .9 3.8 .9 1.7 .9 1.8 .9-1.4 .9 0 .9-.8 .9-.1 .9-1.1 .9 1.1 .9 1.3 .9-2.1 .9-5.8 .9-1 .9-2.6 .9-1.1 .9-2.8 .9-2.9 .9-3.4 .9-1.8 .9-2.3 .9-13.8 .9-21.7 .9-1.6 .9-.8 .9-.9 .9-.3 .9 .8 .9 1 .9 .6 .9-.1 .9-.2 .9-.2 .9-.5 .9-.7 .9-.5 .9-.7 .9-.6 .9-.6 .9 .4 .9 .2 .9 .3 .9 .3 .9 .8 .9 .4 .9 .7 .9 .5 .9 .4 .9 .3 .9-.2 .9 .4 .9-.1 .9 .8 .9 .5 .9 .7 .9 0 .9 0 .9 .2 .9 .3 .9 .5 .9 0 .9 .3 .9 .3 .9 .1 .9 0 .9 0 .9 .5 .9 .2 .9 .4 .9 .3 .9 .7 .9 .1 .9 .4 .9 .5 .9 .4 .9 .5 .9 .4 .9 0 .9-.5 .9-.3 .9-.5 .9 0 .9-.6 .9-.3 .9-.4 .9-.9 .9-.3 .9 0 .9 .5 .9 .1 .9 .3 .9 .3 .9 0 .9 .1 .9 .1 .9 .3 .9 0 .9-.4 .9-.1 .9 .1 .9 .3 .9 .4 .9 .3 .9 .1 .9-.2 .9-.1 .9 .3 .9 .4 .9 .1 .9 0 .9-.1 .9 .2 .9-.1 .9 .4 .9 .2 .9-.1 .9 .1 .9-.2 .9 .5 .9-.1 .9 .4 .9 .1 .9 .5 .9 0 .9 0 .9 0 .9-.1 .9 .1 .9 0 .9 .2 .9-.1 .9 0 .9-.1 .9 .5 .9 .3 .9 .4 .9-.1 .9 .1 .9 .2 .9-.1 .9 0 .9-.1 .9 .2 .9-.1 .9 0 .9 .1 .9 .4 .9 .1 .9 .2 .9-.1 .9 .3 .9 .2 .9 .1 .9 0 .9 .1 .9-.1 .9 .1 .9 .2 .9 .1 .9 0 .9-.2 .9 .2 .9 .3 .9 .2 .9 .1 .9 .2 .9 .1 .9 .3 .9-.1 .9 .3 .9 .1 .9 .1 .9 0 .9 .2 .9 .1 .9 0 .9-.4 .9 .3 .9 .2 .9 .3 .9-.1 .9 .1 .9 0 .9 .1 .9 .1 .9 .2 .9 .2 .9 0 .9 .1 .9 .2 .9 .1 .9 0 .9 0 .9 .1 .9 0 .9 0 .9-.1 .9 0 .9 0 .9 0 .9-.1 .9-.1 .9 0 .9-.2 .9-.1 .9 0" fill="none" stroke="#0000ff" stroke-width="0.9"/>
<line x1="668.5" y1="81.5" x2="1122.5" y2="81.5" stroke="#000" stroke-width="1.05" stroke-dasharray="4.2 2.6"/>
<line x1="674" y1="54.8" x2="692" y2="54.8" stroke="#0000ff" stroke-width="0.9"/>
<text x="693.5" y="58.5" font-size="10" fill="#0000ff">B<tspan font-size="7" dy="3">L</tspan></text>
<line x1="674" y1="78.8" x2="692" y2="78.8" stroke="#00ff00" stroke-width="0.9"/>
<text x="693.5" y="82.5" font-size="10" fill="#00ff00">B<tspan font-size="7" dy="3">M</tspan></text>
<line x1="674" y1="103.5" x2="692" y2="103.5" stroke="#ff0000" stroke-width="0.9"/>
<text x="693.5" y="107.5" font-size="10" fill="#ff0000">B<tspan font-size="7" dy="3">N</tspan></text>
<path d="M687.5 41.5v3.4M687.5 115.5v-3.4M720.5 41.5v3.4M720.5 115.5v-3.4M752.5 41.5v8.8M752.5 115.5v-8.8M784.5 41.5v3.4M784.5 115.5v-3.4M817.5 41.5v3.4M817.5 115.5v-3.4M849.5 41.5v8.8M849.5 115.5v-8.8M882.5 41.5v3.4M882.5 115.5v-3.4M914.5 41.5v3.4M914.5 115.5v-3.4M947.5 41.5v8.8M947.5 115.5v-8.8M979.5 41.5v3.4M979.5 115.5v-3.4M1012.5 41.5v3.4M1012.5 115.5v-3.4M1044.5 41.5v8.8M1044.5 115.5v-8.8M1077.5 41.5v3.4M1077.5 115.5v-3.4M1109.5 41.5v3.4M1109.5 115.5v-3.4" stroke="#000" stroke-width="1.0" fill="none"/>
<path d="M668.5 113.5h2.2M1122.5 113.5h-2.2M668.5 109.5h2.2M1122.5 109.5h-2.2M668.5 104.5h2.2M1122.5 104.5h-2.2M668.5 100.5h5.6M1122.5 100.5h-5.6M668.5 95.5h2.2M1122.5 95.5h-2.2M668.5 90.5h2.2M1122.5 90.5h-2.2M668.5 86.5h2.2M1122.5 86.5h-2.2M668.5 81.5h5.6M1122.5 81.5h-5.6M668.5 76.5h2.2M1122.5 76.5h-2.2M668.5 72.5h2.2M1122.5 72.5h-2.2M668.5 67.5h2.2M1122.5 67.5h-2.2M668.5 62.5h5.6M1122.5 62.5h-5.6M668.5 58.5h2.2M1122.5 58.5h-2.2M668.5 53.5h2.2M1122.5 53.5h-2.2M668.5 48.5h2.2M1122.5 48.5h-2.2M668.5 44.5h5.6M1122.5 44.5h-5.6" stroke="#000" stroke-width="1.0" fill="none"/>
<rect x="668.5" y="41.5" width="454" height="74" fill="none" stroke="#000" stroke-width="1.1"/>
<text x="665" y="48.2" font-size="11" text-anchor="end">40</text>
<text x="665" y="66.8" font-size="11" text-anchor="end">20</text>
<text x="665" y="85.4" font-size="11" text-anchor="end">0</text>
<text x="665" y="104" font-size="11" text-anchor="end">-20</text>
<text x="640" y="78" font-size="11.5" text-anchor="middle" transform="rotate(-90 640 78)">B<tspan font-size="8" dy="3">LMN</tspan><tspan dy="-3"> [nT]</tspan></text>
<rect x="668.5" y="115.5" width="15.7" height="74" fill="url(#ge0)"/>
<rect x="683.5" y="115.5" width="15.7" height="74" fill="url(#ge1)"/>
<rect x="698.5" y="115.5" width="18.7" height="74" fill="url(#ge2)"/>
<rect x="716.5" y="115.5" width="9.7" height="74" fill="url(#ge3)"/>
<rect x="725.5" y="115.5" width="6.7" height="74" fill="url(#ge4)"/>
<rect x="731.5" y="115.5" width="6.7" height="74" fill="url(#ge5)"/>
<rect x="737.5" y="115.5" width="6.7" height="74" fill="url(#ge6)"/>
<rect x="743.5" y="115.5" width="6.7" height="74" fill="url(#ge7)"/>
<rect x="749.5" y="115.5" width="6.7" height="74" fill="url(#ge8)"/>
<rect x="755.5" y="115.5" width="21.7" height="74" fill="url(#ge9)"/>
<rect x="776.5" y="115.5" width="15.7" height="74" fill="url(#ge10)"/>
<rect x="791.5" y="115.5" width="42.7" height="74" fill="url(#ge11)"/>
<rect x="833.5" y="115.5" width="6.7" height="74" fill="url(#ge12)"/>
<rect x="839.5" y="115.5" width="6.7" height="74" fill="url(#ge13)"/>
<rect x="845.5" y="115.5" width="6.7" height="74" fill="url(#ge14)"/>
<rect x="851.5" y="115.5" width="3.7" height="74" fill="url(#ge15)"/>
<rect x="854.5" y="115.5" width="3.7" height="74" fill="url(#ge16)"/>
<rect x="857.5" y="115.5" width="3.7" height="74" fill="url(#ge17)"/>
<rect x="860.5" y="115.5" width="3.7" height="74" fill="url(#ge18)"/>
<rect x="863.5" y="115.5" width="9.7" height="74" fill="url(#ge19)"/>
<rect x="872.5" y="115.5" width="9.7" height="74" fill="url(#ge20)"/>
<rect x="881.5" y="115.5" width="12.7" height="74" fill="url(#ge21)"/>
<rect x="893.5" y="115.5" width="12.7" height="74" fill="url(#ge22)"/>
<rect x="905.5" y="115.5" width="12.7" height="74" fill="url(#ge23)"/>
<rect x="917.5" y="115.5" width="12.7" height="74" fill="url(#ge24)"/>
<rect x="929.5" y="115.5" width="6.7" height="74" fill="url(#ge25)"/>
<rect x="935.5" y="115.5" width="6.7" height="74" fill="url(#ge26)"/>
<rect x="941.5" y="115.5" width="6.7" height="74" fill="url(#ge27)"/>
<rect x="947.5" y="115.5" width="3.7" height="74" fill="url(#ge28)"/>
<rect x="950.5" y="115.5" width="3.7" height="74" fill="url(#ge29)"/>
<rect x="953.5" y="115.5" width="3.7" height="74" fill="url(#ge30)"/>
<rect x="956.5" y="115.5" width="3.7" height="74" fill="url(#ge31)"/>
<rect x="959.5" y="115.5" width="3.7" height="74" fill="url(#ge32)"/>
<rect x="962.5" y="115.5" width="3.7" height="74" fill="url(#ge33)"/>
<rect x="965.5" y="115.5" width="3.7" height="74" fill="url(#ge34)"/>
<rect x="968.5" y="115.5" width="3.7" height="74" fill="url(#ge35)"/>
<rect x="971.5" y="115.5" width="3.7" height="74" fill="url(#ge36)"/>
<rect x="974.5" y="115.5" width="3.7" height="74" fill="url(#ge37)"/>
<rect x="977.5" y="115.5" width="3.7" height="74" fill="url(#ge38)"/>
<rect x="980.5" y="115.5" width="3.7" height="74" fill="url(#ge39)"/>
<rect x="983.5" y="115.5" width="3.7" height="74" fill="url(#ge40)"/>
<rect x="986.5" y="115.5" width="3.7" height="74" fill="url(#ge41)"/>
<rect x="989.5" y="115.5" width="6.7" height="74" fill="url(#ge42)"/>
<rect x="995.5" y="115.5" width="9.7" height="74" fill="url(#ge43)"/>
<rect x="1004.5" y="115.5" width="21.7" height="74" fill="url(#ge44)"/>
<rect x="1025.5" y="115.5" width="24.7" height="74" fill="url(#ge45)"/>
<rect x="1049.5" y="115.5" width="42.7" height="74" fill="url(#ge46)"/>
<rect x="1091.5" y="115.5" width="31.7" height="74" fill="url(#ge47)"/>
<polygon points="668.4,115.5 690,115.5 715,115.5 735,115.5 735,138.4 715,135.5 690,133.5 668.4,131.8" fill="url(#spE1)"/>
<polygon points="735,115.5 755,115.5 795,115.5 835,115.5 855,115.5 855,139.2 835,141.4 795,141.4 755,141.4 735,138.4" fill="url(#spE2)"/>
<polygon points="855,115.5 875,115.5 900,115.5 930,115.5 945,115.5 958,115.5 958,122.2 945,128.6 930,132.5 900,134.9 875,137 855,139.2" fill="url(#spE1)"/>
<polygon points="668.4,125.9 690,127.6 715,129.6 735,132.5 755,135.5 795,135.5 835,135.5 855,133.3 875,131 900,129 930,126.6 945,122.7 958,116.2 958,137.3 945,147.7 930,147.7 900,147.7 875,147.7 855,144.7 835,144.7 795,144.7 755,144.7 735,144.7 715,144.7 690,144.7 668.4,144.7" fill="url(#spE3)"/>
<polygon points="668.4,142.9 690,142.9 715,142.9 735,142.9 755,142.9 795,142.9 835,142.9 855,142.9 875,145.8 900,145.8 930,145.8 945,145.8 958,135.5 958,142.9 945,151.8 930,151.8 900,151.8 875,151.8 855,148.8 835,148.8 795,148.8 755,148.8 735,148.8 715,148.8 690,148.8 668.4,148.8" fill="url(#spE5)"/>
<polygon points="958,115.5 1122,115.5 1122,122.2 1030,123.3 1010,124 992,125.9 976,131 958,140.7" fill="url(#spE4)"/>
<polygon points="958,115.5 1005,115.5 990,119.9 974,125.1 958,131.8" fill="url(#spE1)"/>
<path d="M687.5 115.5v3.4M687.5 189.5v-3.4M720.5 115.5v3.4M720.5 189.5v-3.4M752.5 115.5v8.8M752.5 189.5v-8.8M784.5 115.5v3.4M784.5 189.5v-3.4M817.5 115.5v3.4M817.5 189.5v-3.4M849.5 115.5v8.8M849.5 189.5v-8.8M882.5 115.5v3.4M882.5 189.5v-3.4M914.5 115.5v3.4M914.5 189.5v-3.4M947.5 115.5v8.8M947.5 189.5v-8.8M979.5 115.5v3.4M979.5 189.5v-3.4M1012.5 115.5v3.4M1012.5 189.5v-3.4M1044.5 115.5v8.8M1044.5 189.5v-8.8M1077.5 115.5v3.4M1077.5 189.5v-3.4M1109.5 115.5v3.4M1109.5 189.5v-3.4" stroke="#000" stroke-width="1.0" fill="none"/>
<path d="M668.5 188.5h2.5M1122.5 188.5h-2.5M668.5 187.5h5M1122.5 187.5h-5M668.5 181.5h2.5M1122.5 181.5h-2.5M668.5 178.5h2.5M1122.5 178.5h-2.5M668.5 175.5h2.5M1122.5 175.5h-2.5M668.5 173.5h2.5M1122.5 173.5h-2.5M668.5 171.5h2.5M1122.5 171.5h-2.5M668.5 170.5h2.5M1122.5 170.5h-2.5M668.5 169.5h2.5M1122.5 169.5h-2.5M668.5 168.5h2.5M1122.5 168.5h-2.5M668.5 167.5h5M1122.5 167.5h-5M668.5 160.5h2.5M1122.5 160.5h-2.5M668.5 157.5h2.5M1122.5 157.5h-2.5M668.5 154.5h2.5M1122.5 154.5h-2.5M668.5 152.5h2.5M1122.5 152.5h-2.5M668.5 151.5h2.5M1122.5 151.5h-2.5M668.5 149.5h2.5M1122.5 149.5h-2.5M668.5 148.5h2.5M1122.5 148.5h-2.5M668.5 147.5h2.5M1122.5 147.5h-2.5M668.5 146.5h5M1122.5 146.5h-5M668.5 140.5h2.5M1122.5 140.5h-2.5M668.5 136.5h2.5M1122.5 136.5h-2.5M668.5 133.5h2.5M1122.5 133.5h-2.5M668.5 131.5h2.5M1122.5 131.5h-2.5M668.5 130.5h2.5M1122.5 130.5h-2.5M668.5 128.5h2.5M1122.5 128.5h-2.5M668.5 127.5h2.5M1122.5 127.5h-2.5M668.5 126.5h2.5M1122.5 126.5h-2.5M668.5 125.5h5M1122.5 125.5h-5M668.5 119.5h2.5M1122.5 119.5h-2.5" stroke="#000" stroke-width="1.0" fill="none"/>
<rect x="668.5" y="115.5" width="454" height="74" fill="none" stroke="#000" stroke-width="1.3"/>
<text x="1125" y="130.2" font-size="11">10<tspan font-size="8" dy="-5">4</tspan></text>
<text x="1125" y="151" font-size="11">10<tspan font-size="8" dy="-5">3</tspan></text>
<text x="1125" y="171.9" font-size="11">10<tspan font-size="8" dy="-5">2</tspan></text>
<text x="1125" y="192.4" font-size="11">10<tspan font-size="8" dy="-5">1</tspan></text>
<text x="1154.5" y="152.5" font-size="11" text-anchor="middle" transform="rotate(-90 1154.5 152.5)">Energy (eV)</text>
<line x1="729.8" y1="191" x2="729.8" y2="263" stroke="#ff00ff" stroke-width="1.3" stroke-dasharray="1.3 3.30"/>
<line x1="941.4" y1="195" x2="941.4" y2="263" stroke="#22aa22" stroke-width="1.2" stroke-dasharray="7 5.4"/>
<line x1="969.5" y1="195" x2="969.5" y2="263" stroke="#22aa22" stroke-width="1.2" stroke-dasharray="7 5.4"/>
<line x1="948.2" y1="195" x2="948.2" y2="263" stroke="#ff2020" stroke-width="1.2" stroke-dasharray="7 5.4"/>
<line x1="962.2" y1="195" x2="962.2" y2="263" stroke="#ff2020" stroke-width="1.2" stroke-dasharray="7 5.4"/>
<line x1="956.3" y1="191" x2="956.3" y2="263" stroke="#ff00ff" stroke-width="1.3" stroke-dasharray="1.3 3.30"/>
<line x1="967.8" y1="191" x2="967.8" y2="263" stroke="#0000ff" stroke-width="1.3" stroke-dasharray="1.4 3.5"/>
<path d="M668.4 227.9l1 1.1 1-.4 1-.1 1-1.1 1 1.6 1-1.1 1 1 1-.3 1-.1 1-.3 1-.4 1 .5 1-.4 1 .2 1 .4 1 0 1 .2 1 .1 1 .2 1-1.2 1 .3 1-.1 1-.2 1 .7 1 0 1 .5 1-.8 1 .1 1 .3 1 0 1 .1 1 .6 1-.3 1-1.1 1 1.3 1 0 1-.7 1 .2 1 .2 1 .3 1-.7 1-.5 1 1.7 1-.5 1 .4 1-.3 1-.5 1-.7 1 1.9 1-1.8 1 .8 1 .1 1-.9 1 1.1 1-1.2 1 1 1-.1 1-.5 1 .6 1-.1 1-.4 1 1.2 1-1 1-.2 1 0 1 .4 1-.9 1 1 1-.6 1 .4 1-.4 1 0 1 .4 1-.2 1 1.2 1-.9 1-.3 1-.1 1 0 1-.4 1 .8 1 4.9 1-4.4 1-1.4 1-.4 1 1.2 1 .4 1-.4 1-.7 1 .7 1-.2 1 1.3 1-1 1 .5 1-.7 1 1.1 1 .5 1-1.5 1 .2 1 0 1-.4 1 .8 1 .1 1-.3 1 .2 1-.2 1-.1 1-.2 1 0 1 .4 1-.6 1 .4 1 .1 1 .4 1-.7 1-.3 1 .5 1 .1 1-.5 1 .2 1 .2 1-.1 1 0 1 .3 1-.4 1 .2 1 0 1-.3 1 .1 1 .1 1-.4 1 .3 1-.1 1-.6 1-.2 1 .6 1-.4 1 .3 1 .2 1 .1 1 .7 1-.1 1 .7 1-.2 1-.2 1 .6 1-.4 1 .4 1 .2 1 .1 1 .1 1-.4 1 .2 1 .3 1-.3 1-.2 1-.4 1 .2 1-.8 1 .5 1-.2 1 .2 1-.9 1 .1 1-.1 1-.1 1 .3 1-.5 1-.1 1 .1 1-.3 1-.2 1 .2 1-.3 1-.3 1-.2 1-.5 1-.5 1 .7 1-.4 1 .2 1-.3 1 0 1-.5 1 0 1 .2 1-.7 1 .3 1-.1 1-.2 1 0 1-.3 1-.3 1-.2 1 .3 1-.1 1 .4 1-.9 1 .7 1-.9 1 .2 1 .8 1-.8 1 .3 1-.9 1 .6 1-.5 1-.5 1 2 1-1.4 1 .5 1-.5 1 .2 1-.4 1 .3 1 .6 1 .5 1-.8 1 .7 1 .6 1-.9 1 .7 1-.7 1 .2 1 .5 1-.3 1-.5 1 .5 1-.5 1-.2 1-.4 1 .7 1 .1 1-.2 1 .3 1-.4 1-.3 1 0 1 .5 1-.1 1-.7 1 .7 1-.2 1 .2 1 .2 1-.5 1 .3 1 0 1-.9 1 .6 1-.7 1 .2 1 .2 1 .3 1 0 1-.3 1-.1 1 .5 1 .3 1-.5 1 .4 1-.9 1 .1 1 .7 1-.1 1-.3 1 .4 1 .3 1 .1 1-1 1 .8 1 1.3 1-1.5 1 .4 1-.6 1 .7 1-.1 1 0 1 .5 1-.8 1-.7 1 .9 1-.3 1-.5 1 0 1-.2 1 1 1-.2 1-.5 1-.6 1 .4 1-.1 1 .1 .8 .3 .8-.1 .6 .4 .6-1.1 .6-.5 .4-.6 .4 .1 .4-1 .3 1.4 .4-1 .3 2.8 .3-2.2 .4-3.8 .3 5.8 .3-8.8 .4 11.4 .3-3.4 .3-11.8 .3 5.4 .4-.1 .3 6 .3-5 .4 2.2 .3-.3 .3-4.5 .4 .4 .3 .8 .3 1.6 .3-13.6 .4 8.5 .3 4.3 .3 7 .4-16.4 .3 1.1 .3-2 .4 14.7 .3-6.2 .3 9.4 .3-10.6 .4 7 .3 4 .3-12.7 .4-4.8 .3 18.7 .3-8.9 .4 16.5 .3-.3 .3-10.3 .3-8.7 .4 8.7 .3 4 .3-4.5 .4 6.8 .3 6.9 .3-1 .4-14.7 .3 6.1 .3 10.7 .3 1.5 .4 9 .3-11 .3 15.3 .4-10.9 .3-21.3 .3-4.5 .4 4.6 .3 7.1 .3-12.4 .3 12.8 .4-15.9 .3 12.5 .3-7 .4-11.9 .3 6.7 .3-2.3 .4-3.5 .3 17.2 .3-9.8 .3-24.1 .4 13.8 .3-13.8 .3 1 .4 12 .3 .9 .3-2.5 .4-6 .3 8.9 .3 4.7 .3 7.7 .4-3.7 .3 7.9 .3 2.1 .4-13.2 .3 6.6 .3 3.5 .4-6.6 .3 13.7 .3-2.2 .3-3.8 .4-.6 .3-18 .3 11.3 .4 16 .3-16.9 .3-1.1 .4-.7 .3-6.1 .3 .9 .3 10.4 .4-7.5 .3-5.9 .3 17.8 .4-9.9 .3-.1 .3 10.5 .4-15.7 .3-2.7 .3-8.3 .3 6.5 .4 14.9 .3-3.1 .3 5.5 .4 13.1 .3-12.7 .3 2.8 .4-1.1 .3-15.1 .3 14 .3-4.8 .4 2.2 .3-6.2 .3-7.7 .4 10.6 .3-5.6 .3 .2 .4 5 .3 4.9 .3 5.3 .3-9.1 .4 8.8 .3 9.3 .3-32.4 .4 26.8 .3-1.1 .3 2.9 .4-19.9 .3-6.9 .3 24.7 .3-13.7 .4-.1 .3 1.2 .3 5.9 .4-1 .3 15.8 .3-18.4 .4 2.3 .3 1.7 .3-7.2 .3 7.3 .4-14.5 .3-3.8 .3 17.4 .4-9 .3 13.5 .3 3.9 .4-17.3 .3-4.6 .3 10.7 .3-10.9 .4 35.2 .3-49 .3 24.7 .4 5.7 .3-9.6 .3-1.7 .4 18 .3-34.4 .3 18.6 .3-7.3 .4 13.6 .3-4.1 .3 17.9 .4-9.5 .3-7.2 .3-2.6 .4 13.8 .3-11.1 .3-2 .3 3.1 .4 6.3 .3 6.6 .3-26.5 .4 3.8 .3 12.8 .3-9.2 .4 1.3 .3 11.5 .3-4.7 .3 .4 .4-6.1 .3 8.3 .3-15.6 .4 3.9 .3 8.9 .3 6.9 .4-2.9 .3-10.8 .3-7.5 .3 8.1 .4 6.3 .3-12.5 .3 5.6 .4-4.6 .3 3.5 .3 18.5 .4-25.5 .3-3.2 .3 7.1 .3 18.9 .4 .1 .3-7.2 .3-6.6 .4 9 .3-1.9 .3-11.1 .4 12.9 .3 2.8 .3-10.2 .3 10.2 .4-7.7 .3 6.6 .3-10.7 .4 11 .3 2.3 .3-7.9 .4-3.3 .3 5.8 .3 4.7 .3-13.5 .4 7.4 .3-10.5 .3-2.8 .4 10.2 .3 3.1 .3 19.5 .4-21.4 .3-10.8 .3 6.3 .3 .8 .4 3.8 .3 2.7 .3-4.1 .4-10.2 .3 14.8 .3 5.7 .4-11.4 .3 5 .3 .1 .3-5.3 .4 8 .3-9.3 .3 1 .4 2.2 .3-15.3 .3 3.2 .4 3.8 .3 3.5 .3 12.3 .3-11.9 .4 .9 .3 .1 .3 9.7 .4-5.7 .3 9.1 .3-12.4 .4-12.1 .3 2.9 .3 9.3 .3 5.8 .4-11.6 .3-.7 .3 3.4 .4-8.9 .3 18.2 .3 8.1 .4-16.5 .3 12.2 .3-4.4 .3 11.2 .4-22.5 .3 15.2 .3-3 .4 5.8 .3-1.3 .3-5.1 .4-1.4 .3-9.5 .3 10.4 .3-3.5 .4 2.3 .3-8.1 .3 19.7 .4-19.5 .3 8 .3 4 .4-14.7 .3-4 .3 7.8 .3 11 .4 1.4 .3-9 .3 13.1 .4-11.1 .3 4 .3 .3 .4-1.5 .3 1.9 .3-5.7 .3 1.2 .4 15.7 .3-9.4 .3-10.7 .4-2.8 .3 14.9 .3 4.3 .4-8.5 .3-.5 .3-11.2 .3 8.6 .4 9.2 .3-12.6 .3-1.4 .4-.3 .3 .3 .3 0 .4 5.3 .3-.5 .3 4.3 .3 1.9 .4 2.1 .3-5.5 .3 7.5 .4-13.5 .3 8 .3-5.4 .4 6.1 .3-4.7 .3 1.2 .3 5.8 .4-9.4 .3 6.4 .3-1.2 .4-1.5 .3 4.6 .3-6 .4 3.6 .3-4.8 .3-6.3 .3 16.7 .4-7 .3-3.5 .3-1.7 .4-8.8 .3 13.5 .3-2.8 .4 9.4 .3-16.4 .3 4.9 .3-2.5 .4 3.4 .3-1.2 .3 2.9 .4 2.7 .3 1.6 .3-6 .4-2.1 .3 4.7 .3-1.1 .3 2.7 .4 1.4 .3 .8 .3-5.9 .4-2.2 .3 1.7 .3-2.6 .4 4.7 .3 4.5 .3 2.4 .3-19.8 .4 10.6 .3 4 .3 4.5 .4-17.2 .3 9.3 .3 14.7 .4-5.3 .3-17 .3 15.2 .3-12.9 .4 4.8 .3-.6 .3 .5 .4 13.6 .3-15 .3 10.6 .4-.6 .3 .2 .3-13 .3 7.6 .4 4.9 .3-7.3 .3 8.7 .4-4.4 .3-5.3 .3 9.7 .4 0 .3-2.6 .3-11.5 .3 12.2 .4-10.2 .3-4.2 .3 13.3 .4-4 .3-1.3 .3 6.5 .4-3.8 .3-3.8 .3 1.2 .3-6.6 .4 11.6 .3-4.4 .3 .5 .4 2.5 .3-4.5 .3 13.7 .4-14.3 .3 10.6 .3-13.7 .3 7.9 .4-2.8 .3 4.1 .3 9.7 .4-14.4 .3-.8 .3 1.8 .4 11.1 .3-13.4 .3 5.8 .3-1.5 .4-3.4 .3-1 .3-6.1 .4 7 .3-3 .3 8.5 .4 .8 .3-.6 .3-.4 .3 3.9 .4-16 .3 11.8 .3-.5 .4-4.3 .3 3.2 .3 3.3 .4-11.6 .3 17 .3-17.1 .3 7.6 .4-3 .3-6.1 .3 12.7 .4 5 .3-3.3 .3-7.5 .4 .8 .3-4.2 .3 4.7" fill="none" stroke="#0000ff" stroke-width="1.1"/>
<path d="M668.4 221.4l1 1.1 1 .9 1-2.4 1 .5 1 2 1 0 1-1.9 1 2.6 1-1.9 1-.4 1 1.5 1-1 1 .4 1-1.9 1 1.7 1-.6 1-1.7 1 2.3 1-2.2 1 .6 1 0 1 .8 1-1.3 1 1.2 1-1 1 2.3 1-2.1 1 .9 1 .8 1-2.4 1 .6 1 .7 1-1.6 1 .3 1-.7 1 1.6 1 .2 1-.3 1 1 1-.5 1 .1 1-1.6 1 1.8 1 .1 1-.9 1 1.7 1-1.4 1 .6 1 .2 1-.1 1 1.2 1 0 1-.2 1-.6 1 0 1 0 1 1.6 1-2.3 1 1.6 1-.4 1 .2 1-.1 1-1.7 1 2.2 1-.2 1-.5 1-1.5 1 1.3 1-1.4 1 .5 1 1.2 1-1.2 1 .8 1-1.3 1-1.9 1 1.1 1-1.5 1 1.7 1-1.2 1-3.1 1 2 1-.3 1-.8 1-.7 1 4.1 1 1.3 1-.8 1 1 1-.6 1 1.5 1-.4 1 1.9 1-2.1 1 .6 1 1.7 1-.7 1-1.6 1 1.9 1-1.3 1-1.4 1 2.2 1-1.3 1 .9 1 .2 1-.4 1 .2 1 1 1-1.4 1 1.5 1-2.4 1 1.2 1-.3 1 .4 1-.2 1-.2 1 .1 1-.5 1 .3 1 .3 1-1.1 1 .8 1-.3 1-.9 1 .5 1 1.5 1 .4 1 .7 1-.6 1 .9 1 0 1 0 1 .5 1-.7 1 0 1 .5 1 .2 1-.8 1-.2 1 .8 1-.1 1-.1 1 .2 1 0 1 0 1-.2 1 1 1-.5 1-.3 1 .1 1 .6 1-.7 1-.5 1 1.1 1-.4 1-.1 1-.6 1 .3 1 1.2 1-1 1 .2 1-.4 1-.2 1 .9 1 .5 1 .2 1 .3 1-.4 1 0 1-.7 1-.4 1 1 1-.4 1 .9 1-.4 1-.2 1 .1 1 .5 1-.7 1 0 1 .6 1-.4 1-.6 1 .2 1 1.3 1-1.3 1 .5 1 .1 1-.7 1-.1 1 .1 1-1.2 1 1 1-1.4 1 1.6 1-.3 1-.3 1 0 1-.1 1-.4 1-.5 1 .3 1 .9 1-.9 1 .2 1-.1 1 .2 1 .4 1-1.8 1 1.2 1-.9 1-.4 1 .9 1 1.2 1-1.6 1 .7 1-.3 1-.5 1 .3 1-.2 1 .2 1-.7 1 .8 1-.1 1 .1 1-.9 1 0 1 .1 1-.2 1-.3 1 .7 1-.4 1-.9 1 .4 1-.3 1-.3 1 1.3 1-1.3 1-.4 1 0 1 .8 1-.8 1 0 1-.7 1 .9 1-.3 1-.8 1 .1 1-.1 1 .3 1-.4 1-.2 1-.5 1 .3 1 .1 1-.2 1 .3 1-.8 1-.2 1 .1 1 1.6 1-1.2 1-1.4 1 1.4 1 .5 1-2 1 2.2 1-1.2 1 .3 1-.1 1-.1 1 .4 1-.1 1-.5 1 0 1 .4 1 .1 1 .4 1-.7 1 .2 1 .3 1 .8 1-.4 1 .3 1-.8 1 .4 1 .1 1 .6 1-1.4 1 0 1-.7 1 1.1 1-.9 1 1.7 .8-.4 .8 .1 .6-.6 .6-.4 .6 1.1 .4 0 .4 .9 .4-2.7 .3 1.3 .4 .5 .3-1.8 .3 2.7 .4-.9 .3 5.2 .3-9.3 .4 2.4 .3-1.6 .3 3.3 .3-1.5 .4 1.8 .3 7.2 .3-11 .4 4.9 .3-6.2 .3 1.1 .4 4.7 .3-3.7 .3-4.8 .3 9.9 .4-10.1 .3-4.1 .3 4.3 .4 2.3 .3 5 .3 .2 .4-7.4 .3-1.1 .3 7.9 .3-.5 .4-6.1 .3 .3 .3 9.6 .4 4.4 .3-8.3 .3-9.8 .4 8.5 .3-6.7 .3-3 .3-1.7 .4 1.2 .3 11.3 .3-.3 .4-2.5 .3 6.4 .3-.1 .4-13.9 .3 7.4 .3-4.5 .3 4.3 .4 6.1 .3-7.7 .3-4.7 .4 10.9 .3-.1 .3-2 .4 1.4 .3-1.7 .3 7.2 .3-20.6 .4 10.8 .3 .6 .3-.3 .4 13.1 .3-11.7 .3 6.5 .4-5.6 .3 2.4 .3-.7 .3 .1 .4 1.9 .3-5 .3-6.2 .4 18 .3-11.1 .3 7.3 .4-9.1 .3-.4 .3-5.4 .3 6.9 .4-9.4 .3 3.3 .3 2.4 .4 18.4 .3-13.6 .3-5.3 .4 .2 .3 5.2 .3 9.2 .3-4.6 .4-15.6 .3 6.9 .3 3.7 .4-7.2 .3 14.3 .3 .8 .4-5 .3 2.1 .3 .9 .3-11.2 .4-.4 .3 16.7 .3-20.3 .4 8.9 .3-3.4 .3 4.7 .4 3.2 .3-6.1 .3 12.7 .3-11.8 .4-1.5 .3 4.5 .3-4.6 .4 10.4 .3-.8 .3 1 .4 4.6 .3-5.7 .3-10 .3 8.8 .4-3.3 .3-1.8 .3 3.4 .4-3.9 .3-4.6 .3 10.9 .4-14.7 .3 19.2 .3-7.7 .3-7.5 .4-2.8 .3-.7 .3 7.3 .4 3.8 .3 3.9 .3-17.9 .4 16.4 .3-13.9 .3 12.5 .3 2 .4-5.9 .3 1.8 .3 11.7 .4-8.4 .3-.7 .3 1.1 .4 5.2 .3-14.8 .3 12.8 .3-10.4 .4 8.1 .3-12.8 .3-6.9 .4 15.9 .3 6.7 .3-1 .4-3.2 .3 .6 .3 2.8 .3-2.2 .4-9.9 .3 2.8 .3 6.5 .4-9.5 .3 3.2 .3 12.6 .4-9.8 .3-7.7 .3 11.9 .3 1.5 .4-1.4 .3-4.9 .3 3.2 .4-4.8 .3-4.7 .3 .9 .4 15.9 .3-13.4 .3 4.1 .3-5.2 .4 .8 .3-1.8 .3 11.3 .4-6.1 .3 3.4 .3-2.1 .4-1.3 .3 12.4 .3-12.9 .3 2.9 .4 8.2 .3-9.5 .3 1.3 .4-8 .3-3.9 .3 8.2 .4 13 .3-9.4 .3 .7 .3-1.6 .4-1.3 .3-.3 .3 6 .4-3.7 .3-4.4 .3 10.9 .4-12.8 .3 2.4 .3 .6 .3 6.3 .4 2 .3-12.6 .3 4 .4 2.5 .3-1.9 .3 3.4 .4-.2 .3-3 .3 1.6 .3 2.5 .4-6.2 .3 8.3 .3-.4 .4-12.4 .3 7.7 .3 2 .4-1.5 .3 2.2 .3 .8 .3-8.6 .4 14.3 .3-6.4 .3-1.2 .4-3.4 .3-.2 .3 2.7 .4 4.4 .3-10.2 .3 3.9 .3-2 .4 12.3 .3-8.6 .3 7.2 .4-.5 .3-8.6 .3 1.5 .4 2.4 .3-6.2 .3-6.8 .3 9.4 .4 7.6 .3-12.3 .3 1.7 .4 2.2 .3-4.8 .3-1.3 .4 10.3 .3-3.9 .3 10.9 .3-10.3 .4 4.7 .3-5.7 .3 7.2 .4-4.6 .3-4.3 .3 3.8 .4-7 .3 2.9 .3-4.8 .3 4.6 .4 11.3 .3-2.4 .3-7.3 .4 .6 .3 6.6 .3-7.2 .4 7.1 .3-3.6 .3-3.6 .3 9.8 .4-5 .3 1.3 .3 8.1 .4-12.5 .3-3.2 .3 9.5 .4-7.4 .3 4 .3-1.8 .3 5.7 .4-11 .3 2.7 .3 1 .4-2.2 .3 0 .3 3 .4 1.8 .3 4.3 .3 5.2 .3-16.3 .4 5.8 .3-.4 .3 3.5 .4-.3 .3-1.4 .3-4.3 .4 2.8 .3 .3 .3-2 .3 6.3 .4-2.2 .3-2.6 .3 3.8 .4 .4 .3-3.9 .3 4.7 .4 3.3 .3-7.8 .3 5.9 .3-13.5 .4 11.4 .3-5 .3 2.1 .4-2.8 .3 5.9 .3-6.7 .4 2.1 .3 6.6 .3 4.8 .3-9.5 .4-7.4 .3 3 .3 11.4 .4-15.5 .3 12 .3-1.1 .4-2.1 .3-4 .3 5.9 .3-3.4 .4-.9 .3 .2 .3 2.4 .4 1.5 .3 .1 .3-4.9 .4 12.4 .3-4 .3-12.6 .3 8.1 .4 .1 .3-6.5 .3 7.1 .4-4.4 .3 5.3 .3 4.9 .4-11.7 .3 3.7 .3 2.7 .3-1.1 .4-.4 .3 1.5 .3-.9 .4 2.6 .3 .2 .3-4.5 .4-1.3 .3 2.7 .3 3.5 .3-8.6 .4 11 .3-4.3 .3-1.8 .4 5.8 .3-12.1 .3 4.7 .4-8.6 .3 7.7 .3-1.4 .3-.4 .4-2.3 .3 10.1 .3-.2 .4-5.8 .3 7.2 .3 1.4 .4-6.3 .3-4.4 .3 3.5 .3 5.3 .4-2.6 .3-12 .3 16.9 .4-6.5 .3-1.7 .3 .7 .4-3.4 .3 3.5 .3 6.5 .3-12.7 .4 9.3 .3 2.6 .3-7.1 .4 .7 .3 .4 .3-1.9 .4 3.7 .3 6.5 .3-3.6 .3-7.1 .4-1.5 .3 6.2 .3-2.9 .4-1.9 .3-1 .3 6 .4-5.3 .3 9.2 .3-10.7 .3 4.4 .4-.8 .3-5.6 .3 4.1 .4 7.2 .3-5.5 .3 1.1 .4 3 .3-6.2 .3 7.5 .3-10.2 .4 1.9 .3 2.2 .3 6.4 .4-5.6 .3-.9 .3-.9 .4 3.3 .3 3.1 .3 3 .3-5.9 .4-1.7 .3-2.9 .3 .7 .4 .5 .3-.7 .3 6.6 .4-5.2 .3 3 .3-1.7 .3-2.5 .4 2.5 .3-1.1 .3-1.7 .4 7.3 .3-5.8 .3 1.8 .4 1.8 .3 0 .3 1.4 .3-1.5 .4 3.3 .3-6.6 .3 7.6 .4-5.3 .3-6.2 .3 10.5 .4 1.7 .3-5.9 .3-1.1" fill="none" stroke="#00ff00" stroke-width="1.1"/>
<path d="M668.4 229.2l1 1.1 1 .2 1-1.8 1 1 1 1.6 1-2 1 .1 1 2.4 1-1.9 1 1.4 1-1.8 1 .9 1 .8 1 .3 1-1 1 .4 1 .2 1-.5 1 0 1 0 1-.9 1-.4 1-.5 1 1.3 1 1.4 1-.9 1 0 1-.5 1-.3 1 1 1-.8 1 1.7 1-3.3 1 2.4 1-.5 1-1.1 1 .8 1 0 1 .9 1-1.5 1 .9 1-1 1 .3 1 .5 1 .2 1 .9 1-1.2 1 0 1 .9 1-.5 1 1.4 1-2.9 1 2.8 1-1.7 1 1.1 1 .7 1-2.2 1 3.2 1-2 1-1.1 1 .9 1 1 1 .2 1 1.1 1-1.3 1 .2 1-.6 1 .6 1-.6 1 1 1-.7 1 .3 1 .9 1-2.2 1 1.9 1-2 1 1.6 1 1.3 1-.6 1-.2 1-.2 1-1.7 1 2.5 1-1.5 1-.6 1 2.1 1 1.1 1-1 1-1.6 1 1 1-1.4 1 1.4 1-1.2 1 .2 1 .3 1-.3 1-.4 1 1.2 1-2.7 1 3.2 1-1.9 1 .6 1-.3 1 .8 1-.5 1-.8 1 .3 1-.1 1 .7 1-.9 1 0 1 .3 1-.1 1 .3 1-.9 1 .4 1-.5 1-.2 1-.1 1 .1 1 .9 1-1 1 .1 1 0 1 .7 1 .6 1 .1 1 1 1-.1 1-.4 1 .3 1 .3 1 .2 1-1 1 .4 1-.7 1 1.1 1-.1 1-.1 1-.3 1 .4 1-.4 1-.6 1 .6 1-.1 1 .5 1 .1 1-.6 1-.2 1-.1 1 .7 1-.5 1 .2 1 .1 1 .2 1-.5 1 .4 1-.2 1-.3 1 .7 1-.5 1-.2 1-.2 1 0 1 .5 1-.3 1 .4 1 .3 1-.5 1-.2 1 .1 1 .4 1-.3 1 .4 1 0 1-.7 1 .6 1-.3 1 .4 1 .3 1-.6 1-.4 1 .9 1-.3 1 .4 1-.1 1 .3 1-.1 1-.1 1 .5 1 0 1-.3 1-.1 1-.1 1 .2 1 .4 1-.4 1 .4 1 0 1-.6 1-.5 1 1.2 1-.3 1-.2 1 .6 1-.5 1 .4 1-.6 1 0 1-.4 1 .2 1 .4 1-.2 1-.4 1 .5 1-.1 1-.4 1 .5 1-.6 1 .5 1-.6 1 0 1-.5 1 .5 1-.5 1 0 1 .6 1-.9 1 .9 1-1 1 1 1-.1 1-.3 1-.8 1 .4 1-.6 1 0 1 .3 1 .1 1 0 1 .7 1-.1 1-.5 1-.5 1 .4 1-.1 1-.5 1 0 1 .7 1-.7 1 .8 1-1.6 1 1.7 1 .3 1 0 1-1.8 1 .1 1 .2 1 1.2 1 .3 1 .9 1-.1 1-.4 1-1.6 1-.1 1 1.5 1-2.3 1 .4 1 .8 1 1.4 1-.8 1 .2 1-.9 1 .2 1-.5 1 .2 1 .4 1 .3 1 .3 1-1.4 1 0 1 .2 1 .8 1 .2 1-.2 1-2.7 1-.6 1 4.3 1-4.6 1 2.6 1-2.7 1 2.9 1-1.7 .8-1.4 .8 .1 .6-.8 .6 1.7 .6-3.7 .4 2.6 .4-1.9 .4-1.8 .3 2.1 .4-4.5 .3 2.5 .3 2.7 .4 7.4 .3-6.1 .3 3.3 .4-8.8 .3 .9 .3 1.9 .3-5.3 .4 5.6 .3 6.6 .3-6.6 .4 .1 .3 5.6 .3-5 .4-5.1 .3 1.4 .3 2.5 .3-.1 .4-5.3 .3 3.7 .3-2.3 .4 6.9 .3-15.2 .3 16.7 .4-6.8 .3 8.4 .3-5.4 .3-11.9 .4 6.4 .3 4.7 .3-7 .4 7 .3-7.2 .3 3.7 .4 .5 .3 8.5 .3-11.6 .3 15.1 .4-2.4 .3-11.6 .3 4.1 .4-7.6 .3 2.6 .3-4.5 .4 5.7 .3 15.2 .3-12.1 .3 6.9 .4-4.7 .3-8.3 .3 5.7 .4-.1 .3 4.3 .3-1 .4 8.6 .3-28 .3 7.6 .3 4.9 .4 7.9 .3-16.8 .3 2.3 .4-.2 .3 15.4 .3-4.6 .4-3.7 .3 5.1 .3-3.4 .3-.3 .4 2.7 .3 .5 .3-2 .4-1.6 .3 1.5 .3 9.1 .4-1.6 .3-6.4 .3-.7 .3-2.3 .4 7.3 .3 2.3 .3 1.6 .4-8.3 .3-8.9 .3 9.3 .4-2.9 .3 7 .3 .9 .3-6.8 .4 14.4 .3-7.1 .3-2.8 .4 1.1 .3-2.1 .3 .5 .4-12.5 .3 17.2 .3-4.3 .3-7.7 .4 2.6 .3 .1 .3-.4 .4-4.3 .3 5.5 .3-1.9 .4 7.4 .3-7.1 .3-.2 .3-2.6 .4 2.5 .3-.6 .3-2.5 .4 2.6 .3 4 .3-5.5 .4 2.3 .3-3.1 .3-2.9 .3 10 .4-4.2 .3-1.2 .3 20.5 .4-15.7 .3 4.6 .3-16.3 .4 20.5 .3-10.8 .3 16.1 .3-7.1 .4-12 .3-3.8 .3 9.3 .4-2 .3 6.3 .3-2.8 .4 6 .3-11.7 .3-1.2 .3-1.7 .4 14.8 .3-.9 .3-8.7 .4-.9 .3 8.7 .3 2.3 .4-17.4 .3 4.7 .3 11.7 .3 4.9 .4-11.5 .3-3.7 .3-3 .4 14.4 .3-7.3 .3-7.4 .4 5.9 .3 8.2 .3-8.3 .3 6.6 .4-7.9 .3-4.2 .3 3.9 .4 16.3 .3-9.5 .3-7.4 .4 11 .3-17.5 .3 .9 .3 6.4 .4-.1 .3 .4 .3-10.8 .4 16.3 .3-1.8 .3-12.3 .4 12 .3-5 .3-9.8 .3 17.9 .4-2.5 .3-4.8 .3 3.6 .4-10.9 .3 12.1 .3-2.7 .4 6.6 .3-7.5 .3-3.4 .3-3.9 .4 3.1 .3 13.8 .3-23.2 .4 1.9 .3 4.8 .3 15.4 .4-8.5 .3-6 .3 4.1 .3 9.9 .4-13.2 .3-2.5 .3 7.8 .4-4.1 .3 2.3 .3 1.5 .4 8.2 .3-14.6 .3 2.6 .3 8.2 .4-.7 .3-9.2 .3 6.7 .4-3.3 .3 .4 .3-3 .4 2.4 .3-8.9 .3 8.2 .3-.6 .4 6 .3-14.4 .3 17.3 .4-7.4 .3-2.4 .3-6.4 .4 13 .3 .7 .3-7 .3 7.6 .4-.7 .3-15.7 .3 17 .4 .9 .3-5 .3 3.1 .4-5.4 .3 11 .3-5.5 .3 3.7 .4-5.5 .3-2.4 .3 13 .4-18.1 .3-3.8 .3 3.2 .4 9.3 .3-.1 .3-13.3 .3 17.3 .4-3.9 .3-8.7 .3 17.8 .4-13.6 .3 .8 .3 1.6 .4-6.5 .3 .1 .3-2.4 .3 7.6 .4-2.8 .3-1.2 .3 6.9 .4-2.2 .3-1.8 .3 1.9 .4 11.9 .3-8.2 .3-2.1 .3-.6 .4-3 .3 1.3 .3 6.6 .4-8.6 .3 5.7 .3-2.5 .4-5.4 .3 7.5 .3-7.1 .3 8.5 .4-7 .3 2.3 .3-9.6 .4 17.7 .3-11.3 .3 4.9 .4-1 .3-2.3 .3 4.2 .3-4 .4-6.7 .3 18.7 .3-10.1 .4-3.1 .3 9.3 .3-7.6 .4-1.8 .3 1.8 .3-8.6 .3 14.2 .4 2.2 .3-1.7 .3-6.5 .4-.1 .3 3.7 .3 6.5 .4-3.1 .3-11.8 .3 5.6 .3-15 .4 12.2 .3 6.1 .3-7 .4 4.4 .3-3.6 .3 5.7 .4-3.6 .3 0 .3 5 .3 3.7 .4-5.1 .3 1.7 .3-3.4 .4 1.3 .3-3.6 .3-6.6 .4 4 .3 4.1 .3 9.2 .3-3.9 .4-10.9 .3 7.7 .3-9.7 .4 9.6 .3-.5 .3-8.3 .4 11.8 .3-3.2 .3 3.3 .3-11.3 .4 1.3 .3-2.7 .3 9.3 .4 10.4 .3-9.6 .3 3 .4-6 .3-5.8 .3 1.2 .3 16.1 .4-8.4 .3-4.3 .3 10.2 .4-10 .3 .1 .3-2.6 .4 5.7 .3 3.4 .3-5 .3 .2 .4 5.9 .3-7 .3 3.7 .4-1.3 .3-2.9 .3-2.4 .4 5.8 .3-7.6 .3 9.2 .3-2.6 .4 10.1 .3 .3 .3-7.4 .4 4.6 .3-7.7 .3 4.4 .4-.6 .3-13.2 .3 7.8 .3 10.2 .4-2.1 .3-13 .3 8.2 .4 .1 .3-7.2 .3-.3 .4 9 .3-4 .3 2.6 .3-9.8 .4 10.1 .3-3.9 .3 2.6 .4-3.3 .3 9.7 .3-1.6 .4-9.7 .3 4.6 .3-7.7 .3-4.2 .4 1.8 .3 7 .3 3.5 .4-3.4 .3 8.3 .3 1.6 .4-2.7 .3-3.7 .3-2.5 .3 3.1 .4-1.4 .3-10 .3 1.7 .4 4.1 .3 4.4 .3-1.4 .4 2.6 .3-9.5 .3-3.3 .3 6.7 .4 .9 .3 7.9 .3-7.1 .4-5 .3 12.4 .3-8.2 .4-.6 .3 9.2 .3-13 .3 15.7 .4-6.8 .3 5.7 .3-9.6 .4 11.3 .3-14 .3 5.3 .4-.8 .3 2.8 .3-9.4 .3 10 .4-4.2 .3-2 .3 6 .4-2.7 .3 8.2 .3-17.1 .4 5.5 .3-.4 .3 2.6 .3 .8 .4-5.1 .3-.6 .3 12.7 .4-7.7 .3 .8 .3 3.4 .4-1.3 .3 2 .3-4.5 .3 3.3 .4-7.4 .3-8 .3 11.2 .4-.6 .3 4.4 .3-1.7 .4 1.6 .3-8.5 .3 7.6" fill="none" stroke="#ff0000" stroke-width="1.15"/>
<line x1="668.5" y1="226.5" x2="1122.5" y2="226.5" stroke="#000" stroke-width="1.05" stroke-dasharray="4.2 2.6"/>
<line x1="674" y1="198.4" x2="692" y2="198.4" stroke="#0000ff" stroke-width="0.9"/>
<text x="693.5" y="202.5" font-size="10" fill="#0000ff">V<tspan font-size="7" dy="3">L</tspan></text>
<line x1="674" y1="214" x2="692" y2="214" stroke="#00ff00" stroke-width="0.9"/>
<text x="693.5" y="218" font-size="10" fill="#00ff00">V<tspan font-size="7" dy="3">M</tspan></text>
<line x1="674" y1="228.5" x2="692" y2="228.5" stroke="#ff0000" stroke-width="0.9"/>
<text x="693.5" y="232.5" font-size="10" fill="#ff0000">V<tspan font-size="7" dy="3">N</tspan></text>
<path d="M687.5 189.5v3.4M687.5 263.5v-3.4M720.5 189.5v3.4M720.5 263.5v-3.4M752.5 189.5v8.8M752.5 263.5v-8.8M784.5 189.5v3.4M784.5 263.5v-3.4M817.5 189.5v3.4M817.5 263.5v-3.4M849.5 189.5v8.8M849.5 263.5v-8.8M882.5 189.5v3.4M882.5 263.5v-3.4M914.5 189.5v3.4M914.5 263.5v-3.4M947.5 189.5v8.8M947.5 263.5v-8.8M979.5 189.5v3.4M979.5 263.5v-3.4M1012.5 189.5v3.4M1012.5 263.5v-3.4M1044.5 189.5v8.8M1044.5 263.5v-8.8M1077.5 189.5v3.4M1077.5 263.5v-3.4M1109.5 189.5v3.4M1109.5 263.5v-3.4" stroke="#000" stroke-width="1.0" fill="none"/>
<path d="M668.5 261.5h2.2M1122.5 261.5h-2.2M668.5 258.5h2.2M1122.5 258.5h-2.2M668.5 255.5h5.6M1122.5 255.5h-5.6M668.5 252.5h2.2M1122.5 252.5h-2.2M668.5 249.5h2.2M1122.5 249.5h-2.2M668.5 246.5h2.2M1122.5 246.5h-2.2M668.5 243.5h2.2M1122.5 243.5h-2.2M668.5 240.5h5.6M1122.5 240.5h-5.6M668.5 237.5h2.2M1122.5 237.5h-2.2M668.5 235.5h2.2M1122.5 235.5h-2.2M668.5 232.5h2.2M1122.5 232.5h-2.2M668.5 229.5h2.2M1122.5 229.5h-2.2M668.5 226.5h5.6M1122.5 226.5h-5.6M668.5 223.5h2.2M1122.5 223.5h-2.2M668.5 220.5h2.2M1122.5 220.5h-2.2M668.5 217.5h2.2M1122.5 217.5h-2.2M668.5 214.5h2.2M1122.5 214.5h-2.2M668.5 211.5h5.6M1122.5 211.5h-5.6M668.5 209.5h2.2M1122.5 209.5h-2.2M668.5 206.5h2.2M1122.5 206.5h-2.2M668.5 203.5h2.2M1122.5 203.5h-2.2M668.5 200.5h2.2M1122.5 200.5h-2.2M668.5 197.5h5.6M1122.5 197.5h-5.6M668.5 194.5h2.2M1122.5 194.5h-2.2M668.5 191.5h2.2M1122.5 191.5h-2.2" stroke="#000" stroke-width="1.0" fill="none"/>
<rect x="668.5" y="189.5" width="454" height="74" fill="none" stroke="#000" stroke-width="1.1"/>
<text x="665" y="201.5" font-size="11" text-anchor="end">1.0</text>
<text x="665" y="216" font-size="11" text-anchor="end">0.5</text>
<text x="665" y="230.4" font-size="11" text-anchor="end">0.0</text>
<text x="665" y="244.8" font-size="11" text-anchor="end">-0.5</text>
<text x="665" y="259.3" font-size="11" text-anchor="end">-1.0</text>
<text x="629" y="192" font-size="11">(x10<tspan font-size="8" dy="-5">3</tspan><tspan dy="5">)</tspan></text>
<text x="637" y="226.5" font-size="12.2" text-anchor="middle" transform="rotate(-90 637 226.5)">V<tspan font-size="9.5" dy="3">e LMN </tspan><tspan dy="-3">[km/s]</tspan></text>
<line x1="729.8" y1="265" x2="729.8" y2="337" stroke="#ff00ff" stroke-width="1.3" stroke-dasharray="1.3 3.30"/>
<line x1="941.4" y1="269" x2="941.4" y2="337" stroke="#22aa22" stroke-width="1.2" stroke-dasharray="7 5.4"/>
<line x1="969.5" y1="269" x2="969.5" y2="337" stroke="#22aa22" stroke-width="1.2" stroke-dasharray="7 5.4"/>
<line x1="948.2" y1="269" x2="948.2" y2="337" stroke="#ff2020" stroke-width="1.2" stroke-dasharray="7 5.4"/>
<line x1="962.2" y1="269" x2="962.2" y2="337" stroke="#ff2020" stroke-width="1.2" stroke-dasharray="7 5.4"/>
<line x1="956.3" y1="265" x2="956.3" y2="337" stroke="#ff00ff" stroke-width="1.3" stroke-dasharray="1.3 3.30"/>
<line x1="967.8" y1="265" x2="967.8" y2="337" stroke="#0000ff" stroke-width="1.3" stroke-dasharray="1.4 3.5"/>
<path d="M668.4 323.7l.8 .1 .8 .1 .8-.5 .8 .4 .8-.1 .8-.1 .8 1 .8-1.5 .8-.8 .8 .9 .8 .7 .8-.9 .8 1.6 .8-.8 .8-.6 .8 .3 .8-.6 .8 .8 .8 1 .8-1.3 .8 .9 .8-.9 .8 .6 .8 .1 .8 .5 .8-.9 .8-1.5 .8 .7 .8-.4 .8-.2 .8 .7 .8-.1 .8 .4 .8-.2 .8 .7 .8-1.5 .8 0 .8 .3 .8 .9 .8-.7 .8 1.3 .8-1 .8-.4 .8 .7 .8 1.5 .8-.7 .8-.4 .8 .4 .8-.5 .8-.8 .8 .1 .8 .5 .8 .9 .8-1.4 .8 .2 .8 1.8 .8-.9 .8-1.1 .8 .9 .8-.6 .8 .3 .8-.3 .8 .2 .8-.6 .8-1.1 .8 1.2 .8 0 .8 1.1 .8-2.2 .8 1.9 .8-1.4 .8 .6 .8 .8 .8 .2 .8-.9 .8 0 .8 1.2 .8-1.9 .8 2.3 .8-2 .8 0 .8-.2 .8-.6 .8 1.8 .8-.5 .8-.4 .8-.4 .8 1.7 .8-1.6 .8-2 .8 3.4 .8-1.3 .8-.3 .8 1.1 .8-.9 .8-.3 .8 .9 .8-.9 .8 .7 .8-.2 .8 0 .8-.9 .8 .7 .8 1.3 .8-1.1 .8-2.3 .8 2.1 .8-1.1 .8 .8 .8-.1 .8 .8 .8 .5 .8-.5 .8 .7 .8 .4 .8-.3 .8-.7 .8 .7 .8 .5 .8 1.9 .8-2.2 .8-.2 .8-.6 .8 2 .8 .2 .8-2.2 .8 .8 .8 .3 .8 .6 .8-.7 .8 .6 .8-.9 .8 .1 .8 1.3 .8 .4 .8-.4 .8-1.6 .8 .2 .8 2.1 .8-.9 .8-.7 .8 .3 .8-.4 .8-.9 .8 2 .8 .2 .8-1.4 .8 1.1 .8 .3 .8 .4 .8 .1 .8-.7 .8-2.6 .8 1.2 .8 1.2 .8-1 .8-.5 .8-.2 .8-.5 .8-1.1 .8-.8 .8 .1 .8 .4 .8 .9 .8-.9 .8 .1 .8 .1 .8-.3 .8-.9 .8 .6 .8-.4 .8-.5 .8 .3 .8-.2 .8 .9 .8-1.6 .8 .7 .8 1.3 .8-1 .8-.7 .8 1.7 .8 .5 .8-.5 .8 1 .8 .7 .8-.1 .8-1.4 .8 .8 .8 .9 .8 .1 .8-1.4 .8 .3 .8 .8 .8-.3 .8 1.5 .8-1.1 .8-1.5 .8 .4 .8 .9 .8-.6 .8-.3 .8-.2 .8 .6 .8-.5 .8 .6 .8-4 .8 3.6 .8 2 .8-.8 .8 .3 .8-1.4 .8 .9 .8 .1 .8-.4 .8 .4 .8 1.1 .8-2.6 .8 1.5 .8-1 .8 .4 .8-.7 .8 0 .8 .3 .8-1.6 .8 1.2 .8 1 .8 .2 .8-1.3 .8-.5 .8 .2 .8 .1 .8 3.1 .8-3.6 .8 1.2 .8 1.7 .8-.6 .8 1.4 .8-.1 .8 .6 .8-.4 .8 2 .8-.6 .8 1.2 .8-.8 .8 .2 .8 1 .8 .1 .8-.6 .8 1.7 .8 .6 .8-.3 .8-.4 .8-.2 .8 .4 .8 1.3 .8 .2 .8-1.6 .8 .1 .8-.6 .8 2.1 .8-2.5 .8 1.6 .8-1.3 .8 .7 .8-2.1 .8 2 .8-.5 .8 1 .8-2.1 .8 1.3 .8-.5 .8 .8 .8 .3 .8 .2 .8-1 .8 .4 .8 .9 .8 .4 .8-.6 .8-1.3 .8 0 .8 2.6 .8-2 .8-.5 .8 .2 .8 0 .8 .3 .8 .9 .8 .5 .8-2.3 .8 .7 .8 1.6 .8-3.1 .8-.1 .8 1.5 .8-1.7 .8-.6 .8 .9 .8 0 .8 1.9 .8-1.4 .8-.8 .8-.6 .8-.3 .8-.1 .8-1.4 .8-.6 .8-.9 .8 2.1 .8-2 .8-.7 .8 2.4 .8-.4 .8 .2 .8 .7 .8 1.6 .8 .9 .8-1.1 .8-.8 .8-1.8 .8-.3 .8-2.4 .8 1.9 .8 2.7 .8-.5 .8 3.1 .8 1.5 .8 .4 .8 .3 .8 1.2 .8-2.1 .8 1.4 .8 1.1 .8-.4 .8-2 .8 .3 .8 0 .8 2 .8 .5 .8-.9 .8-.5 .8 .2 .8 1 .8-2.6 .8-1 .8-1.8 .8-1 .8 1.3 .8-1.7 .8-.5 .8 .1 .8-.5 .8-.9 .8-.1 .8-.4 .8 3.2 .8-2.7 .8-.5 .8-3 .8-7.3 .8-6.3 .8 3.1 .8 3 .8 2.8 .8-2 .8 .1 .8 .1 .7 1.4 .7-2 .6-.1 .7 .6 .6 1.4 .6-1.4 .5-3.3 .6 1 .5 .8 .5-3.2 .5 .5 .4 .1 .5-.6 .4-1.4 .4 3.3 .4-2.7 .4 .8 .4 3.3 .4-2.7 .4 .8 .4-.7 .4-1.1 .4-1 .4 0 .4-3.8 .4-3.3 .4-3.5 .4-1.5 .4 1.1 .4 1 .4-3 .4 0 .4 1.8 .4-3.5 .4 2.9 .4-2.1 .4-.6 .4 2 .4-3.4 .4-.8 .4 1.2 .4-.8 .4-1.6 .4 1.1 .4-2.8 .4 1.1 .4 .5 .4-2.2 .4-5.6 .4-1.1 .4 .1 .4-4.3 .4-2.2 .4 2.1 .4-1.3 .4-.5 .4 2.8 .4-3.3 .4 3 .4-.7 .4-.8 .4 4 .4-1.6 .4 .4 .4-2.1 .4 5.8 .4-2.9 .4 .7 .4 1.5 .4-2.3 .4 1.2 .4-.4 .4 2.8 .4-2.7 .4-.5 .4-3.9 .4 .7 .4-1.8 .4 1.5 .4 1.8 .4 0 .4-1.9 .4 1.5 .4 2.2 .4-5 .4 2.7 .4-.5 .4-4 .4 3.6 .4-2.5 .4-1.9 .4 3.2 .4-1.7 .4 .8 .4 .9 .4 1 .4 1.2 .4 .7 .4-3.5 .4 3 .4-1.5 .4 .5 .4 1 .4 .7 .4-1.5 .4 1.4 .4 1.2 .4-3.1 .4 2.9 .4-1 .4 1.6 .4-1.3 .4-.7 .4-1.7 .4 .9 .4-.2 .4-.4 .4-2.9 .4 1.7 .4-1.1 .4-1 .4-.3 .4-2 .4 2.8 .4-3 .4-.2 .4 1.5 .4 1 .4-2.9 .4 .8 .4-3.4 .4-1 .4 5.8 .4-2 .4-.3 .4 .4 .4-1.4 .4-1.7 .4 1.9 .4-.2 .4 2 .4-1.2 .4-2.5 .4 4.4 .4-3.4 .4 .6 .4 2.4 .4-.3 .4-1.2 .4-.1 .4 .4 .4 .5 .4 1.3 .4 .6 .4-2.3 .4 3 .4-2.5 .4 4.2 .4-2.4 .4-1.2 .4 3.8 .4-.8 .4 1.4 .4-2.5 .4 1.3 .4-.3 .4-2.2 .4 1.6 .4 1.4 .4-1.8 .4 .9 .4 .9 .4-1.8 .4 2.3 .4-4 .4 3.1 .4-.2 .4-.7 .4 0 .4-.6 .4-2.6 .4 2.4 .4-.8 .4-.7 .4-1.1 .4 3 .4-1.8 .4 3.1 .4-1.1 .4-4 .4-.1 .4 2.3 .4-.9 .4-.5 .4-1.5 .4-1.1 .4 3.8 .4 1.2 .4-.8 .4-1.4 .4 .7 .4 1 .4 .5 .4-3 .4 1.9 .4-.2 .4-1 .4 1.7 .4-2.7 .4 1.6 .4-1.7 .4-.7 .4-2.3 .4 3.7 .4 .3 .4 1.1 .4 1.1 .4-.2 .4 2.7 .4-7.2 .4 2.9 .4 .9 .4 2 .4-2.9 .4-.6 .4 2 .4-.6 .4-.4 .4 3.4 .4-2.7 .4-.8 .4-1.2 .4 .3 .4 1.7 .4 .3 .4 1.2 .4-1.1 .4 .1 .4-3.6 .4 3.6 .4 1.6 .4-2.9 .4 1.3 .4-.7 .4-1 .4 1 .4-.7 .4-2 .4 1.4 .4 .6 .4 1.6 .4-.7 .4-3 .4 1.8 .4 1.7 .4 2 .4-3.8 .4 .3 .4 .3 .4 1.4 .4-3.5 .4-1 .4 2.2 .4-4.1 .4 4.2 .4 2.1 .4-.1 .4-5.9 .4 3.7 .4-.8 .4 1.1 .4 .8 .4-2.6 .4 2 .4 .9 .4-3.1 .4 .6 .4-.4 .4-1.8 .4 4 .4-.4 .4-3.3 .4 2.7 .4-.7 .4 1.4 .4-1.4 .4-.5 .4 3.9 .4-6.6 .4 3.2 .4 .9 .4-.4 .4 .2 .4-1.5 .4-.7 .4-.4 .4 2.4 .4 2 .4-3.4 .4 4.5 .4-5.3 .4 3.6 .4-3.2 .4-1.3 .4 .4 .4 6.2 .4-5.9 .4 3.3 .4 .6 .4-.7 .4-2.7 .4-1.5 .4 5.8 .4-1.2 .4 .2 .4-.4 .4-.6 .4 1.7 .4-3.1 .4-.8 .4 3.9 .4-4.6 .4 2.1 .4-.5 .4-.3 .4-.1 .4 1.9 .4-.8 .4-3.4 .4 6.3 .4-2.2 .4-1 .4-.6 .4-2 .4 2.5 .4-.1 .4-2.4 .4 3.8 .4-3.6 .4 1.8 .4-1.2 .4 2.5 .4 .8 .4-1.7 .4-1.3 .4 1.7 .4-4.3 .4 2.7 .4-.9 .4 1.2 .4 1.3 .4-2.8 .4 .8 .4-3.2 .4 .1 .4 4.7 .4-1.8 .4-.2 .4 .7 .4-2 .4 4.9 .4-4.2 .4 4.3 .4-4.1 .4-2 .4 2.9 .4-.4 .4 .2 .4 .3 .4 2.3 .4-5.1 .4 .4 .4-.5 .4-.5 .4 1.6 .4 1 .4 1.5 .4-3.1 .4 1.1 .4 .6 .4 .3 .4-2.8 .4 5.1 .4-4.4 .4-.2 .4-.2 .4 1.7 .4 2.3 .4-2.7 .4-.6 .4-.5 .4-.7" fill="none" stroke="#ff0000" stroke-width="1.0"/>
<path d="M668.4 323.3l.8 .2 .8-.2 .8 .6 .8-.6 .8 1.2 .8-.7 .8 .2 .8 .1 .8 .2 .8-.2 .8-.8 .8 .8 .8-.3 .8 .2 .8-.1 .8-.7 .8 1.4 .8-1.7 .8 .9 .8-.1 .8-.3 .8 1 .8 0 .8-.3 .8-.5 .8 .1 .8-.4 .8 .3 .8-1 .8 1.2 .8-.6 .8 .3 .8 .5 .8-.4 .8 0 .8 0 .8 .3 .8-.3 .8-.3 .8 .8 .8-.2 .8-.1 .8 .1 .8-.3 .8 .1 .8 .2 .8 .3 .8-.9 .8 .2 .8 1.5 .8-1.3 .8 .5 .8 .6 .8-.7 .8 .3 .8-1.3 .8 1 .8-.4 .8 .7 .8-.5 .8-.3 .8 1 .8-1 .8 .4 .8-1 .8 .7 .8-1.3 .8 .6 .8-1.1 .8 1.7 .8-1.8 .8 1.1 .8-.2 .8-.2 .8 .2 .8-.2 .8-.1 .8 0 .8-.8 .8 1 .8-.2 .8-1.2 .8 1 .8 .9 .8-1 .8 .2 .8-.5 .8 .5 .8-.8 .8-.1 .8 .9 .8 .1 .8-.4 .8-.4 .8 .4 .8-.4 .8-1 .8 1.2 .8 .4 .8-.6 .8-.3 .8 .1 .8 .8 .8-.5 .8 .9 .8 .1 .8-.8 .8 0 .8 .4 .8-1 .8 1 .8-.1 .8 .7 .8 0 .8 .2 .8 .7 .8-.1 .8-.1 .8 1 .8-.7 .8 .9 .8-.7 .8 .6 .8-.7 .8 .4 .8-.9 .8 .1 .8 1.1 .8-1.4 .8-.9 .8 1 .8 .2 .8 0 .8-.2 .8-.6 .8 .2 .8 .3 .8-.6 .8 .1 .8 0 .8 .2 .8 1.5 .8-1 .8 .2 .8 .1 .8-.1 .8 1.1 .8-.5 .8 .8 .8-.7 .8 .6 .8-.3 .8 1.3 .8 0 .8-.4 .8 .1 .8 .3 .8-1.4 .8 .4 .8-1.2 .8 .3 .8 .1 .8-1 .8 0 .8 .4 .8 .1 .8 .5 .8-1.5 .8 .2 .8 .2 .8-.7 .8 1.1 .8-1.1 .8 .3 .8 .2 .8-.7 .8 .5 .8 1 .8-.6 .8 1 .8-.1 .8 .2 .8 .2 .8-.4 .8-.8 .8 .4 .8 .7 .8-.5 .8 1 .8-.1 .8-.9 .8 .9 .8-.6 .8 .1 .8 1.3 .8-1.1 .8 .5 .8 .3 .8-.1 .8-.1 .8 1 .8-1.7 .8 1.1 .8 0 .8 .8 .8-1 .8 .4 .8 .2 .8-.3 .8-.3 .8 .3 .8 .3 .8-.2 .8 .2 .8 0 .8 .1 .8-.4 .8-.4 .8-.1 .8 .5 .8-.2 .8-.5 .8-.5 .8 .3 .8-.1 .8-.5 .8-.3 .8-.2 .8 .1 .8-.4 .8-.1 .8 1.1 .8-.1 .8 .4 .8 .8 .8 .2 .8 .5 .8 .3 .8 .1 .8-.3 .8 1.5 .8-.5 .8 .4 .8 .4 .8 .4 .8 .4 .8 .3 .8 .4 .8 0 .8 .7 .8 0 .8-.1 .8 .5 .8 .2 .8-.6 .8 1.9 .8-1.3 .8-.2 .8 .9 .8 .1 .8-.9 .8 .8 .8-2 .8 1.9 .8-.6 .8-.1 .8 .2 .8 .4 .8-.4 .8-.3 .8-.6 .8 .2 .8 .2 .8 .1 .8-.1 .8 .2 .8-.2 .8 .4 .8-.6 .8 .7 .8-1.3 .8 1.1 .8-.6 .8 .9 .8 .2 .8-1.8 .8 .5 .8 .2 .8-.6 .8 .3 .8 0 .8-.3 .8-.7 .8 .9 .8-.1 .8 .3 .8-.1 .8-.6 .8-.8 .8 .7 .8 0 .8-.5 .8 .4 .8-.6 .8 .4 .8 .2 .8-.9 .8 .5 .8-1.6 .8 .5 .8 .2 .8 1.1 .8-.2 .8 0 .8-.7 .8-.3 .8 .4 .8 .4 .8-.2 .8-.5 .8 1 .8 1.1 .8-.8 .8 1 .8 .3 .8 .5 .8 .2 .8 1 .8-.9 .8 .4 .8-.3 .8 0 .8-.7 .8-.6 .8 1.1 .8 0 .8-.3 .8-1.1 .8 1 .8-.8 .8-.6 .8 1.4 .8-1.9 .8-.2 .8-.2 .8-.8 .8 .5 .8-.3 .8-.7 .8-1.3 .8 .2 .8-.7 .8 1.9 .8-.8 .8 2.1 .8-1.7 .8 1.2 .8-.6 .8 0 .8-2.1 .8-3.2 .8-2.2 .8 1.3 .8-.4 .8 2.3 .8 .6 .8-.5 .7 1.7 .7 .2 .6-.5 .7-3.4 .6 .6 .6-.4 .5 .3 .6-1.5 .5-.1 .5 .4 .5-6.9 .4 2.5 .5-.3 .4-2.7 .4 3.7 .4-3.2 .4 1.8 .4-.5 .4 3.5 .4-1 .4-1.7 .4 2 .4-4.8 .4-2.5 .4-4.9 .4 1.3 .4-5.3 .4-.7 .4-2.8 .4-1.7 .4 .3 .4 3.9 .4-3.2 .4 1.2 .4 .4 .4-.7 .4-.7 .4 1.3 .4 3.4 .4-3.5 .4 .5 .4-4.4 .4 3.1 .4-4.7 .4 .3 .4-1.6 .4 2.4 .4-2.1 .4-3.2 .4-2.4 .4 0 .4-6.6 .4 2.4 .4 .7 .4-.2 .4-1.4 .4 1.7 .4 .8 .4-1.6 .4 2.7 .4-2.9 .4 2.2 .4-2.8 .4 1.1 .4 1.4 .4-2.8 .4 .4 .4 1.6 .4 1.2 .4 0 .4-.1 .4-1.4 .4 2.7 .4-2.4 .4 .7 .4 .1 .4-4.7 .4 4.6 .4-.2 .4-1.4 .4-1.9 .4 1.6 .4-.3 .4 2.7 .4-5.1 .4 1.2 .4 1.6 .4-.9 .4 1.2 .4-2.1 .4 3.5 .4-.9 .4-2 .4 .6 .4 5.5 .4-5.4 .4 1.5 .4-2.1 .4 2.2 .4-2.8 .4-.7 .4 5.1 .4-2.6 .4 .2 .4 .1 .4-1 .4 1.5 .4-1.9 .4 .2 .4 2.8 .4-4.2 .4 2.3 .4 1.9 .4-3.9 .4 .7 .4-4.4 .4 1.9 .4-2 .4-.8 .4 2 .4 0 .4 1.3 .4-1.5 .4-2.7 .4-.2 .4-2.5 .4 .8 .4 .9 .4-.2 .4-1.8 .4-.4 .4 .4 .4-1.3 .4-.5 .4 1.4 .4-1.3 .4 3.6 .4 0 .4-2.2 .4-1.7 .4 .6 .4 4.6 .4 .7 .4-1.8 .4-.5 .4 1.4 .4 .4 .4 0 .4-.5 .4 2.2 .4 1.5 .4-3 .4 .6 .4-1.2 .4 1.9 .4 .6 .4-.3 .4 2.6 .4-2.8 .4 .6 .4-1.6 .4-1.2 .4 3.5 .4 1 .4 1 .4-.6 .4-2.7 .4 2 .4-1.1 .4-.2 .4-1.7 .4 .9 .4 .6 .4 1.4 .4-1 .4 2.2 .4-2.1 .4-.5 .4-3.7 .4 .3 .4-.6 .4 1.2 .4 .4 .4 .8 .4 .1 .4 .1 .4-2.8 .4-1.5 .4 2.4 .4-1 .4 2.2 .4-3.2 .4-.7 .4 2 .4 .5 .4-1.2 .4-.4 .4 3.7 .4-2.1 .4-1.9 .4-1.4 .4 3.8 .4-2.7 .4 2.1 .4-1.2 .4-1.4 .4 3 .4-3.9 .4 0 .4 .6 .4-.2 .4 2 .4-.5 .4 .2 .4-2.2 .4 2.1 .4-1.3 .4-1.1 .4 2.7 .4-1 .4 2.5 .4-.5 .4 .5 .4 .1 .4 .4 .4-3.1 .4 3 .4 .3 .4-2.6 .4 1.3 .4 .6 .4-2.8 .4 3.4 .4 1 .4-1.9 .4-2.5 .4 1.3 .4 4.8 .4-2.1 .4-1.2 .4-.5 .4 1.7 .4-2.7 .4-1.3 .4 1.7 .4 .2 .4-1.7 .4 1.6 .4 .8 .4-.4 .4-.4 .4 2.7 .4-1.4 .4 0 .4-2.5 .4 2.9 .4-1.4 .4 0 .4 .1 .4-1.8 .4 .8 .4 2.5 .4-3 .4-.5 .4 1 .4 1 .4 .5 .4 2.5 .4-4.3 .4-1.7 .4 0 .4 2.6 .4 .2 .4-2 .4 3 .4-1.3 .4-2.1 .4 3.8 .4-2.6 .4-1.7 .4 3 .4-2.1 .4 1.7 .4-2.9 .4 0 .4 1.6 .4-1.3 .4-1.2 .4 5.1 .4-2.8 .4 .1 .4-1.1 .4 2.7 .4-2.1 .4 2.8 .4-1 .4 0 .4-.3 .4-.6 .4 3.8 .4-5.1 .4 .7 .4 2.9 .4-2.2 .4-2.2 .4 2.2 .4 .8 .4 1.9 .4-4.5 .4-2.4 .4 2.3 .4 2.6 .4 .7 .4-.1 .4 .5 .4-2.7 .4-.2 .4 2.6 .4-2.2 .4 .5 .4-1.2 .4-1.5 .4 3.8 .4 .3 .4-2.4 .4 2.7 .4-3.5 .4 .6 .4 3.4 .4-3.1 .4 1.2 .4-3.1 .4 1.1 .4-1.7 .4 1.6 .4 2.8 .4 1.1 .4-.9 .4-3 .4 5.2 .4-3.8 .4 .5 .4-1.3 .4 1.9 .4 1.3 .4-5.2 .4 2.7 .4-1.3 .4 .8 .4-.4 .4-1.1 .4 .2 .4 3 .4-3.1 .4 1.7 .4 2.1 .4-2.7 .4 1 .4-.8 .4-1 .4-3.3 .4 4.3 .4-1 .4 3.1 .4-3.7 .4 1.4 .4 1.7 .4-2.2 .4-1.7 .4 4.2 .4-4.5 .4 1.2 .4-.1 .4-2.4 .4 3.5 .4-1.6 .4 1.2 .4-2.2 .4 1.4 .4-.7 .4 1.3 .4-.9 .4-1.6 .4-.3 .4 2.6 .4-.8 .4-.4 .4-1.7 .4 .1 .4-.6 .4 .9 .4 1" fill="none" stroke="#000" stroke-width="1.5"/>
<line x1="674" y1="271.5" x2="692" y2="271.5" stroke="#ff0000" stroke-width="0.9"/>
<text x="693.5" y="275.3" font-size="10" fill="#ff0000">T<tspan font-size="7" dy="3">||</tspan></text>
<line x1="674" y1="285.5" x2="692" y2="285.5" stroke="#333" stroke-width="0.9"/>
<text x="693.5" y="289.3" font-size="10" fill="#111">T<tspan font-size="7" dy="3">⊥</tspan></text>
<path d="M687.5 263.5v3.4M687.5 337.5v-3.4M720.5 263.5v3.4M720.5 337.5v-3.4M752.5 263.5v8.8M752.5 337.5v-8.8M784.5 263.5v3.4M784.5 337.5v-3.4M817.5 263.5v3.4M817.5 337.5v-3.4M849.5 263.5v8.8M849.5 337.5v-8.8M882.5 263.5v3.4M882.5 337.5v-3.4M914.5 263.5v3.4M914.5 337.5v-3.4M947.5 263.5v8.8M947.5 337.5v-8.8M979.5 263.5v3.4M979.5 337.5v-3.4M1012.5 263.5v3.4M1012.5 337.5v-3.4M1044.5 263.5v8.8M1044.5 337.5v-8.8M1077.5 263.5v3.4M1077.5 337.5v-3.4M1109.5 263.5v3.4M1109.5 337.5v-3.4" stroke="#000" stroke-width="1.0" fill="none"/>
<path d="M668.5 336.5h2.2M1122.5 336.5h-2.2M668.5 328.5h2.2M1122.5 328.5h-2.2M668.5 322.5h2.2M1122.5 322.5h-2.2M668.5 317.5h2.2M1122.5 317.5h-2.2M668.5 313.5h2.2M1122.5 313.5h-2.2M668.5 309.5h2.2M1122.5 309.5h-2.2M668.5 306.5h2.2M1122.5 306.5h-2.2M668.5 303.5h5.6M1122.5 303.5h-5.6M668.5 284.5h2.2M1122.5 284.5h-2.2M668.5 274.5h2.2M1122.5 274.5h-2.2M668.5 266.5h2.2M1122.5 266.5h-2.2" stroke="#000" stroke-width="1.0" fill="none"/>
<rect x="668.5" y="263.5" width="454" height="74" fill="none" stroke="#000" stroke-width="1.1"/>
<text x="1125" y="308" font-size="11">10<tspan font-size="8" dy="-5">2</tspan></text>
<text x="1160" y="301" font-size="12.2" text-anchor="middle" transform="rotate(-90 1160 301)">T<tspan font-size="9.5" dy="3">e</tspan><tspan dy="-3"> [eV]</tspan></text>
<line x1="729.8" y1="339" x2="729.8" y2="410" stroke="#ff00ff" stroke-width="1.3" stroke-dasharray="1.3 3.30"/>
<line x1="941.4" y1="343" x2="941.4" y2="410" stroke="#22aa22" stroke-width="1.2" stroke-dasharray="7 5.4"/>
<line x1="969.5" y1="343" x2="969.5" y2="410" stroke="#22aa22" stroke-width="1.2" stroke-dasharray="7 5.4"/>
<line x1="948.2" y1="343" x2="948.2" y2="410" stroke="#ff2020" stroke-width="1.2" stroke-dasharray="7 5.4"/>
<line x1="962.2" y1="343" x2="962.2" y2="410" stroke="#ff2020" stroke-width="1.2" stroke-dasharray="7 5.4"/>
<line x1="956.3" y1="339" x2="956.3" y2="410" stroke="#ff00ff" stroke-width="1.3" stroke-dasharray="1.3 3.30"/>
<line x1="967.8" y1="339" x2="967.8" y2="410" stroke="#0000ff" stroke-width="1.3" stroke-dasharray="1.4 3.5"/>
<path d="M668.4 381.9l.8-1.1 .8 7.9 .8-2.1 .8 3.9 .8 5.1 .8-1.4 .8-2.2 .8-.7 .8 3.6 .8-3.5 .8 4.9 .8-.8 .8-1.9 .8-.5 .8-.4 .8 1 .8-1.2 .8-.8 .8 .4 .8-5 .8-2.3 .8-6.1 .8-.3 .8-3.5 .8 7 .8 1.6 .8 4.4 .8 2.8 .8-3.7 .8-.5 .8-.1 .8-1.3 .8-3.3 .8-.5 .8 1.8 .8-1 .8-1 .8 1.9 .8 1.6 .8 .5 .8-4.8 .8 6.5 .8-1.2 .8 4.4 .8-.6 .8-2.1 .8-3.8 .8 .4 .8 .5 .8-1 .8-.6 .8 .9 .8-1.2 .8 1.6 .8-3.1 .8 1.6 .8-1.1 .8 .1 .8-3.5 .8 3.8 .8-1.6 .8-2.6 .8-.1 .8 2.3 .8 .9 .8-2.1 .8 1.6 .8 2.1 .8 1.2 .8 3.7 .8-1.3 .8 1 .8 0 .8 1.3 .8 1 .8-.5 .8 3.7 .8-2.8 .8 .8 .8 .3 .8-1.1 .8 2.3 .8 .3 .8 6.3 .8-2 .8 3.9 .8-3.3 .8-1.9 .8-4.4 .8-.7 .8-1.2 .8-6 .8-1.4 .8-4.3 .8-3.2 .8-.4 .8-2.2 .8-.2 .8-5.3 .8-1.6 .8-2.2 .8-5.2 .8 2 .8-2.6 .8 4.6 .8 5.6 .8 6.9 .8-4 .8 1 .8 1.2 .8-2.2 .8-1.2 .8-3.6 .8 .1 .8-.9 .8-1.4 .8 2.6 .8 0 .8 .7 .8 3.4 .8 3 .8 3 .8 1 .8 1.4 .8-3.7 .8 5.8 .8-3.9 .8 2.1 .8 2 .8 1.6 .8-5.8 .8 .5 .8 3.7 .8 2.3 .8-2 .8-.3 .8-.6 .8-1.1 .8 3.2 .8 1.7 .8-.6 .8 3.1 .8-.5 .8 1.8 .8 2.2 .8-1 .8 2.3 .8-1.5 .8 1.6 .8 2.4 .8 .7 .8-2.5 .8 1.5 .8-6.3 .8-3.6 .8-7.9 .8-7.1 .8-3 .8-.9 .8 2.1 .8-2.5 .8 .6 .8 .6 .8 1.7 .8 2.2 .8 .1 .8-.7 .8 1.5 .8 4.1 .8 .8 .8-1.5 .8 3 .8 .5 .8 .3 .8-.1 .8 .2 .8-1.6 .8 .6 .8 1.5 .8-2 .8 .5 .8 .2 .8 .7 .8-2 .8-1.1 .8 .4 .8-1.3 .8 .2 .8-1.1 .8-1.9 .8 1.1 .8 .4 .8-.9 .8-3.1 .8 1.1 .8 .1 .8 .4 .8-1.2 .8 .1 .8-.2 .8-.7 .8-.9 .8 .3 .8-.1 .8 .7 .8 .1 .8 .6 .8 .8 .8-.2 .8-.9 .8 2.2 .8 0 .8 1.2 .8-.7 .8 .2 .8 1 .8 .2 .8-.5 .8-1.8 .8 .1 .8-.7 .8 1.6 .8-.7 .8 1.2 .8-.3 .8-1.1 .8 .2 .8 .5 .8-.8 .8-.9 .8 .9 .8-.2 .8 .8 .8-2.2 .8 1.9 .8 0 .8 .2 .8-.2 .8 1.7 .8-.4 .8 .4 .8 .9 .8 .8 .8-.4 .8-.2 .8 1.4 .8-.8 .8 1.6 .8-.1 .8-1.2 .8 1.1 .8-1 .8 .6 .8 .2 .8-.2 .8-.2 .8 .6 .8 .4 .8-.4 .8 1 .8 .7 .8 .7 .8 1.4 .8-1.2 .8 .7 .8 .9 .8 .5 .8-1 .8-.8 .8 2.6 .8-.8 .8 .7 .8-2 .8 1.8 .8 .5 .8-1.1 .8-.1 .8 1.1 .8 2.6 .8 1 .8-1 .8 1 .8-.2 .8-1.4 .8 .9 .8 .7 .8-.6 .8 1.2 .8-.5 .8 .4 .8 .8 .8 0 .8-.2 .8 .1 .8-.9 .8 1.6 .8 .5 .8 .7 .8-.6 .8 .5 .8-2.4 .8 4.7 .8-1.8 .8-1.1 .8 1.1 .8 .7 .8 .3 .8-.4 .8-.2 .8 1.2 .8-1.6 .8 1.8 .8 .5 .8 .5 .8-.5 .8 .4 .8-.1 .8 2.2 .8-.8 .8 2.2 .8-1.4 .8 2.3 .8-1.8 .8 0 .8-3 .8-.8 .8-.2 .8-1.2 .8 .2 .8 .3 .8-.8 .8-1.2 .8 1.2 .8-1.1 .8 1.4 .8 .1 .8 .4 .8-2.4 .8 2.5 .8 .7 .8-.2 .8-.2 .8-2.2 .8 2.9 .8-2.2 .8 .7 .8 .9 .8-2.4 .8 .2 .8 1.8 .8-.2 .8-2.7 .8 .8 .8-1.3 .8-2.1 .8 .3 .8-.3 .8-3.1 .8 1.5 .8-1.7 .7 1.2 .7-.7 .7 .7 .6 .7 .6-1.8 .6 .4 .5-2.1 .5-2.1 .5 2.5 .5-2.6 .4 3.1 .5-1.2 .4 1.6 .5-2.7 .4 7.8 .5-4.4 .4 9 .5-5.3 .4 6.6 .5-10.5 .4 4.9 .5 8.8 .4-9.3 .5-2.9 .4 2.5 .5 2.9 .4 .8 .5 1.5 .4-6.1 .5 10 .4-5.5 .5-3.8 .4 3.5 .5 2.5 .4-2.3 .5 1.5 .4 .6 .5-5.9 .4 1.8 .5-.4 .4 2.1 .5-3.8 .4 5.6 .5-3.8 .4-2.1 .5 4.8 .4 3.6 .5-10.5 .4 2.3 .5 12 .4-7.1 .5-3.4 .4 7.6 .5-3.1 .4-5.8 .5 10.2 .4 .7 .5-5.6 .4 5.3 .5-4.1 .4-.7 .5 4.2 .4-9.8 .5 8.7 .4-2.4 .5-.6 .4 .9 .5 3.5 .4 .9 .5-6.6 .4 3.9 .5-3.9 .4-1.3 .5-3.6 .4 4.2 .5 5.4 .4 .2 .5 2.4 .4 1.4 .5-4 .4-4 .5-3.8 .4 3.9 .5 5.4 .4-8.4 .5 2.1 .4-4.6 .5 7.9 .4 4.9 .5-7.8 .4 9.4 .5-15.5 .4 14.8 .5-3.8 .4-2.5 .5 6.1 .4-3.2 .5-5.5 .4 2.7 .5 .7 .4 3 .5-5.1 .4 8 .5-8.8 .4 .5 .5 5.8 .4-8.4 .5 10.2 .4-8.2 .5 1.2 .4-2.6 .5-6.5 .4 11.9 .5 0 .4-9.2 .5 8.9 .4-11.7 .5 5.5 .4-.5 .5 2.1 .4 2.9 .5-4.6 .4 1.1 .5 6.3 .4-7 .5-4.3 .4 11.4 .5-4.5 .4-1.2 .5 6.1 .4-9.6 .5-4.3 .4 3.4 .5 3.7 .4-9.6 .5 5.7 .4-3.6 .5 3.5 .4 7.2 .5-2 .4-12.5 .5 10.3 .4-2.1 .5 5 .4-4.3 .5-4.9 .4-9.3 .5 5.5 .4 2.4 .5 0 .4 2.8 .5 1.9 .4-3 .5-1.9 .4 1.4 .5 2 .4-.4 .5 .2 .4-2.1 .5-.1 .4 3.7 .5-4 .4-.3 .5 1.2 .5-1 .5 3.4 .5-1.4 .5-1.5 .6 1.1 .5-1.7 .6 2 .6-.8 .6 .3 .6 1.8 .6 .1 .7-1.8 .6 2.3 .7-.3 .7 .3 .7 1.2 .7-1.8 .7 .8 .7 3.1 .7 .1 .7-1.6 .7 1 .7 1.1 .7-.9 .7 2 .7-.2 .7 .7 .7-.4 .7 1 .7 1.9 .7-2.8 .7 3.9 .7-.5 .7-1.8 .7 3.1 .7-3 .7 .8 .7-.2 .7-.5 .7 3 .7-2.5 .7 2.4 .7-1.8 .7-1 .7-.3 .7 .5 .7 .2 .7-.1 .7-2.1 .7 .1 .7-.5 .7-.3 .7 1 .7-.7 .7-1.8 .7 2 .7-.3 .7 .2 .7-.1 .7 .7 .7-2 .7-1.6 .7 .7 .7 .3 .7-.6 .7 .1 .7 .9 .7-.2 .7 .9 .7 .4 .7-1.4 .7 1.2 .7-1.2 .7 .5 .7-.9 .7-.7 .7 .6 .7-.4 .7 1.1 .7-1.5 .7 1.3 .7-.8 .7-.8 .7 0 .7 .5 .7 .8 .7-3 .7 1.8 .7 1.2 .7-1.3 .7 0 .7-.9 .7-1.2 .7 .8 .7-.9 .7 2.9 .7 .2 .7-1 .7-.7 .7 .7 .7-.5 .7-.7 .7 .6 .7-2 .7 2.8 .7-1.4 .7-.6 .7 .1 .7 1.8 .7 .1 .7-.5 .7 .9 .7-2.1 .7-.3 .7 2.8 .7-1.1 .7-2.2 .7 .6 .7 1.2 .7-.6 .7-.8 .7 1.7 .7 1.1 .7-.6 .7-.9 .7 .9 .7 .1 .7-1.1 .7-.6 .7 .3" fill="none" stroke="#0000ff" stroke-width="1.05"/>
<path d="M668.4 387.7l.8-1.2 .8 2.9 .8 1 .8-1.9 .8-2.1 .8 3.8 .8-2.3 .8 3.8 .8-1.7 .8-3.4 .8-.2 .8 .9 .8 2.9 .8-4.8 .8-1.7 .8-.6 .8-1.4 .8-2.3 .8 1.3 .8-4.2 .8 0 .8 0 .8-4.2 .8 2.2 .8 .9 .8 4.2 .8-2.5 .8 4.8 .8-.3 .8 .3 .8-.5 .8-1.6 .8 1.6 .8 .3 .8 1.4 .8-2.1 .8 1.8 .8-1.5 .8 1.3 .8-3.6 .8 2.5 .8-.6 .8-.3 .8 .7 .8 0 .8 2 .8-.9 .8 1.8 .8-1.1 .8 .6 .8-.3 .8 .5 .8 1.6 .8 1.1 .8-2.8 .8-1.5 .8 1.8 .8 2.5 .8-1 .8 .4 .8 1 .8-.6 .8 .3 .8 1.6 .8-2.2 .8 .6 .8 1.9 .8-3 .8-2.6 .8 .7 .8-.6 .8-.8 .8 1.4 .8 0 .8 .7 .8-.2 .8 1.4 .8-1.7 .8 5 .8-3.3 .8 2.7 .8 .4 .8-1.8 .8-1.6 .8 .4 .8 1.3 .8-3.1 .8 .2 .8-2.9 .8 .2 .8-1.6 .8-1.7 .8-.8 .8 .5 .8-4.4 .8 1.6 .8-2.1 .8-1.4 .8-1.6 .8-1.3 .8-.1 .8-.2 .8-4.3 .8 1.2 .8-2.5 .8-.6 .8 4 .8 3.1 .8 5.1 .8 .1 .8 1.5 .8-2 .8 1 .8 .8 .8 0 .8 0 .8-.9 .8 2.7 .8-4.5 .8 3.2 .8-.7 .8 .2 .8 1.9 .8 2.7 .8 1.3 .8-.2 .8 1.1 .8 .6 .8 2.4 .8-.6 .8 1.9 .8 1 .8-1.4 .8 2.7 .8-1.4 .8 1.7 .8 1.7 .8-.5 .8 .9 .8 1.8 .8 .8 .8 1.5 .8 1.1 .8-.2 .8-.8 .8-1.6 .8 3.1 .8-3.3 .8 .7 .8-1 .8-.9 .8 .9 .8 1.7 .8-1.2 .8-.9 .8 .5 .8 0 .8-2.2 .8-.6 .8-.4 .8-.2 .8-1.1 .8-1.4 .8-2.4 .8-1.1 .8-4.7 .8-.8 .8-1.5 .8-.9 .8 0 .8-.5 .8 2.2 .8-1.3 .8 2.5 .8 3.3 .8 2.1 .8 7.1 .8 .2 .8 1.3 .8-.4 .8 1.1 .8 1.3 .8-1.8 .8 .4 .8-.1 .8-.3 .8 .3 .8-.3 .8-1.5 .8 .4 .8 1.3 .8-1.2 .8-.9 .8 .3 .8-.7 .8 .1 .8-1.9 .8 .2 .8-1.2 .8-1.9 .8 .1 .8-1 .8 .2 .8-6.7 .8-4.2 .8 6.7 .8 2.7 .8-.1 .8-1.1 .8-1.3 .8-.5 .8-.6 .8-.8 .8-1.6 .8 1.1 .8-.4 .8 1 .8-1.1 .8-.6 .8 1.6 .8-.6 .8 1.2 .8-3 .8 1.5 .8 .4 .8-1.8 .8 0 .8-.7 .8-1.2 .8-.7 .8 .7 .8-1 .8-.5 .8 .6 .8-2.5 .8 .3 .8-1.4 .8 1.8 .8-.8 .8 0 .8-1.8 .8-.8 .8 .2 .8-.1 .8-1.1 .8 1 .8 .3 .8 .3 .8 .6 .8 .3 .8-.2 .8 0 .8-.5 .8-.4 .8 3.5 .8-.3 .8-1.6 .8 1.2 .8-.6 .8 1.6 .8-1.1 .8 1.1 .8-.4 .8 .5 .8 .7 .8-.6 .8-.6 .8 .3 .8-1.7 .8 1 .8-1 .8-1.9 .8 .3 .8 .5 .8-.2 .8-1.7 .8 .6 .8-.3 .8 .9 .8-1.3 .8 .9 .8-.7 .8-1.5 .8 2.6 .8 .9 .8-.4 .8 1.5 .8 1.5 .8-.2 .8 0 .8 1.7 .8-1.2 .8 1 .8 0 .8-.7 .8 .8 .8 .2 .8 .9 .8-.5 .8-.5 .8 1.3 .8 .5 .8-.2 .8 .6 .8-.5 .8 .1 .8 1.1 .8 0 .8 .9 .8-2.4 .8 .6 .8-.7 .8-1.9 .8 .9 .8-2.4 .8-1.2 .8-.4 .8-2.3 .8-.4 .8-1.2 .8 1.4 .8-2.3 .8 .7 .8-1.9 .8-.2 .8 1.9 .8-1.7 .8 1.8 .8-1.7 .8 1 .8 1.4 .8-1.5 .8 1.2 .8-3.7 .8 2.2 .8-1.8 .8-2.2 .8 1.4 .8-3.1 .8-1.7 .8 .6 .8 2.5 .8 2.7 .8-2.9 .8 1.7 .8 .5 .8 1.5 .8 1.8 .8 1.7 .8 .2 .8 2.1 .8 1.1 .8 2.3 .8-1.1 .8 2 .8-1.8 .8 3.2 .8 0 .8-1.1 .8 1.4 .7 3.2 .7 1.9 .7 2.9 .6 5.2 .6-.5 .6-.7 .5 .8 .5-1.6 .5-.5 .5 2.2 .4 .2 .5-4.2 .4 3 .5-5.4 .4 3.6 .5-2.5 .4-2.8 .5-1.5 .4-11.9 .5 1.8 .4-4.1 .5 4.9 .4-8.5 .5 9.8 .4-4.9 .5 1.4 .4 1.7 .5 7.4 .4 1.7 .5 3.3 .4 3.9 .5-10.1 .4 4 .5-10.7 .4-.9 .5 1.9 .5-5.1 .4-2.5 .5 3 .4 3.5 .5-3.5 .4 3.3 .5 5.5 .4 1.4 .5-4.1 .4 1.9 .5-2.4 .5-12.5 .4-3.1 .5-4.9 .4-5.4 .5-.8 .4 8 .5-3.4 .4 5.7 .5-.2 .5 14.1 .4-7.1 .5 5.4 .4-.8 .5-7.5 .4 4.7 .5 2.2 .5-13.3 .4 5 .5 7.6 .4-9.3 .5 .5 .4-1 .5 4.5 .5 1.8 .4-1.9 .5 5.9 .4-.2 .5-1.9 .5 4.2 .4 3.3 .5 6.9 .4-4.5 .5-3.6 .5 5.2 .4-2.5 .5-9.6 .4 1.3 .5-6.3 .5-2.7 .4 9.1 .5-6.3 .4 4.2 .5-14.2 .5 1.9 .4-.3 .5-8.7 .5 1.6 .4 4.2 .5-7.2 .4 3.5 .5-5.3 .5 2.9 .4 5.5 .5-3.5 .5 .7 .4 6.7 .5 6.8 .4-.5 .5 6.6 .5 8.7 .4 3.1 .5 3.1 .5 .5 .4-2 .5 1.8 .5-5.1 .4-6.4 .5 3.1 .5-1.1 .4-1.6 .5 1.8 .4-4.6 .5 .4 .5 4.5 .4-6.5 .5-2.7 .5 8.6 .4-2.1 .5-6.8 .5 .7 .4 4.4 .5-3.8 .5 9.7 .4-7.1 .5 5.6 .5-6.1 .4 2.6 .5-1 .5-.1 .5-4.7 .4 .9 .5 5.6 .5-5.6 .4 9.4 .5-19.7 .5 10.9 .4-.7 .5-3.4 .5-2.9 .4 3.9 .5-4.1 .5-3.4 .4 3.6 .5 3.3 .5-3.8 .5 8.5 .4-4.6 .5 0 .5-6.7 .4 13.4 .5-5.3 .5 .6 .5-3.7 .4 3.3 .5-14.7 .5 15.5 .4-5.8 .5 2.8 .5 .2 .5-2 .4-2.7 .5 2.1 .5-2.6 .5 .6 .4 8 .5-4.7 .5 4.7 .4 3 .5-1.9 .5 1.4 .5 1.4 .4-2.6 .5-2.3 .5 4.8 .5-7.3 .4-1.3 .5 6 .5-7.7 .5 2.3 .4 5.4 .5-1.4 .5 3.4 .5 1.4 .4-4.9 .5-2.4 .5-6.2 .5 3.9 .5 4.2 .4-2.1 .5 .2 .5 3.7 .5-11 .4 2.4 .5-9.5 .5 10.5 .5 2.2 .5 .3 .4-4.6 .5-.8 .5-1.1 .5-.7 .4 .3 .5 2.7 .5 .4 .5 5.3 .5 .7 .4 1.4 .5-7.7 .5 8.3 .5 .2 .5 1 .4-8.8 .5 2.2 .5 4.1 .5 4.5 .5-4.7 .4-2.3 .5 6.7 .5-1.4 .5 1.7 .5-1.7 .5-4.7 .4 1 .5-2.1 .5 3.8 .5 .6 .5 .7 .4-4.3 .5 6.7 .5-.5 .5 2.3 .5-.4 .5 1.6 .4-.7 .5-4.3 .5-4.3 .5 8.2 .5-6.5 .5-2.2 .5-1.8 .4 4.1 .5-1 .5 5.2 .5-9.6 .5 5 .5 .1 .4-.1 .5-.2 .5 7.1 .5-5.2 .5-4.1 .5 7.9 .5 2.6 .4-6.3 .5 1.3 .5 6.3 .5-1.9 .5 4.7 .5 2.6 .5-5.1 .5 8.6 .4-4.2 .5 .8 .5-1.5 .5 .8 .5 .1 .5-6.5 .5 3.7 .5-6.5 .5 5.4 .4-1.7 .5-6.3 .5 6.2 .5 .7 .5-4.3 .5 .1 .5 0 .5 4.7 .5-5 .5-1.8 .4 3.2 .5 .6 .5-5.3 .5 .2 .5 1.7 .5-6.7 .5 12.7 .5-2.3 .5-3.9 .5 .6 .5 6.6 .5-5.7 .4 2.2 .5-7.4 .5 1.8 .5 7.2 .5-2 .5-2.1 .5 5.7 .5-1.2 .5-4.3 .5-5.1 .5 10.6 .5-2.7 .5-1.2 .5-3.1 .5 7.6 .5-3.9 .5 9.9 .4-4.2 .5 3.5 .5-6.4 .5-.6 .5 2.1 .5-.9 .5-3.6 .5 .3 .5 3.9 .5-.1 .5-1.5 .5 3.5 .5 2.8 .5-7.2 .5-.9 .5 9.4 .5-8.7 .5 6.4 .5-8.1 .5-3.3 .5 10 .5-2.1 .5-3.6 .5 3.8 .5 3.2 .5-6.2 .5-3.5 .5-.5 .5 3.7" fill="none" stroke="#00ff00" stroke-width="1.05"/>
<path d="M668.4 384.4l.8-.7 .8-.2 .8 2.7 .8-1.3 .8-2.6 .8-1.2 .8 .5 .8 4.3 .8-3.5 .8-.3 .8-3.5 .8-.6 .8 1.3 .8-1.3 .8-4.6 .8 2.6 .8-3.1 .8 .6 .8 3 .8-2.5 .8 1.3 .8 3.2 .8 5.7 .8 0 .8 1.6 .8-4.3 .8-.4 .8-1.7 .8-3.3 .8-.5 .8-.2 .8 2.8 .8 .9 .8-2.7 .8 1.1 .8-.5 .8 2.7 .8 1 .8 .9 .8-1.9 .8 .4 .8-2 .8-1.9 .8 1.8 .8-1.2 .8-.6 .8-.9 .8 3.2 .8 5.3 .8 2.9 .8-1.3 .8-1.6 .8 1.2 .8-1.1 .8 1.7 .8-2.7 .8 .2 .8-.5 .8 2.3 .8 1.6 .8 .7 .8-1.9 .8 .9 .8 1.8 .8-1.2 .8-2.9 .8 1.1 .8-1.6 .8-2.8 .8 .5 .8-2.5 .8-.8 .8 .9 .8-1.6 .8 2 .8 .4 .8 1.8 .8-1.4 .8 .4 .8 .6 .8 0 .8-.7 .8-.7 .8-1.6 .8 2.2 .8-1.2 .8-1.5 .8 1.6 .8-3.4 .8 1.5 .8-.7 .8 1 .8 .3 .8 .3 .8 .1 .8 1.2 .8 1.5 .8-.8 .8 .9 .8 1.2 .8-.1 .8 .2 .8 3 .8 9.6 .8-19.9 .8 3 .8 2.1 .8 .5 .8 1.3 .8 2.6 .8-.2 .8-1.2 .8 1.7 .8-2.5 .8 0 .8-.5 .8-1.3 .8 1 .8-1.6 .8 2 .8 .9 .8 0 .8 .6 .8-2.2 .8 .9 .8 .9 .8-1.9 .8 .3 .8 .5 .8-.9 .8 1.8 .8 .9 .8 .6 .8-.2 .8 .4 .8-1.5 .8 3.1 .8-1.5 .8 1.7 .8-.8 .8 1.3 .8-.9 .8-.3 .8-.9 .8-1.1 .8 .3 .8-1.5 .8 1.7 .8 1.5 .8-2.4 .8 1.8 .8-.2 .8 3.4 .8-1.6 .8-.1 .8 .7 .8 1 .8 .2 .8-.1 .8-2.6 .8 1.1 .8-.6 .8-2.3 .8 1.6 .8-2.5 .8 1.2 .8-2.1 .8 .3 .8-1.4 .8 1.6 .8-.8 .8 .9 .8-3.4 .8 1.8 .8-1 .8 .7 .8 2.2 .8-.4 .8 1.7 .8 0 .8 3.5 .8 0 .8 .7 .8-1.9 .8 2 .8 1.5 .8 1.9 .8-.7 .8 1.4 .8-1 .8-1.3 .8-.1 .8-.4 .8 .5 .8-1.9 .8 .1 .8-.2 .8-.8 .8-1.9 .8 .8 .8-1.3 .8-.1 .8-1.3 .8-.2 .8 .6 .8-1.8 .8 1.4 .8 .1 .8 0 .8 .1 .8 1.1 .8-.2 .8-.8 .8 1.1 .8-.6 .8-.7 .8 .2 .8-.6 .8 .7 .8-1.4 .8 .3 .8-1.6 .8 .1 .8 1 .8-2.9 .8-.4 .8 1 .8 .3 .8-1.9 .8 .4 .8-1.8 .8 1 .8-1.5 .8 .4 .8-.7 .8-.7 .8 1 .8-1.3 .8-.5 .8-.5 .8 1.4 .8-1.5 .8 2.5 .8-.6 .8 1.9 .8 .1 .8 .2 .8 .3 .8 .4 .8 .4 .8 .8 .8 1.2 .8-1.5 .8 1.1 .8 2 .8-.3 .8 2.3 .8-2.6 .8-.3 .8-1 .8 0 .8 0 .8 0 .8-1.3 .8-1.4 .8-.4 .8-.7 .8-.7 .8 .4 .8 .7 .8-1.7 .8-2.1 .8 2.6 .8-2.4 .8 .7 .8-1.8 .8 .2 .8 .9 .8 .8 .8-.3 .8 .8 .8-.4 .8-.8 .8 2.3 .8-1 .8 1.8 .8-1 .8-.9 .8 .5 .8 .8 .8-3.4 .8 2 .8-.4 .8-.8 .8-1.5 .8 1.7 .8-.4 .8 1.1 .8 .4 .8-.4 .8 1 .8 0 .8 1.7 .8-1.3 .8 .6 .8 1.9 .8-1.4 .8 .9 .8 .2 .8 .4 .8-.1 .8 .5 .8-4.9 .8-.3 .8-2.2 .8-1.4 .8-1.3 .8 1.3 .8 11.2 .8 2.3 .8-4.1 .8-4.2 .8-5.3 .8-4.6 .8-.2 .8 1.2 .8-1.1 .8 1.5 .8-.1 .8 2.3 .8-.4 .8 .7 .8-3.1 .8 1.4 .8-2.8 .8-1.1 .8 0 .8-1.4 .8-.2 .8-.3 .8-.9 .8 0 .8-1.8 .8-.7 .8-.7 .8-.3 .8 .8 .8 1.9 .8 3.6 .8 0 .8 5 .8 1.9 .8 2.1 .8-1.2 .8 2.7 .8-.9 .8 4.2 .8 2.2 .8 6.3 .8 7.7 .7 6.5 .7-4.6 .7-3 .6-6.9 .6 2.2 .6 6.5 .5 1.1 .5-14.4 .5 3 .5 11.3 .4 6.9 .5-7.1 .4 6 .5-1.1 .4-.7 .5-12.9 .4 5 .5 8.6 .4-5.6 .5-6.2 .4-3.7 .5 11 .4-3.1 .5-9.4 .4 7.6 .5-2.4 .4 1.6 .5-3.5 .4-2.2 .5 7 .4-4.8 .5 11.1 .4-1.5 .5-5.8 .4 5.1 .5 3.4 .4-5.9 .5 5.4 .4-8 .5-4.1 .4-.1 .5 9 .4-.7 .5-7.1 .4 2.1 .5-4.2 .4 2.3 .5-7.7 .4-1.2 .5 4.5 .4 2.6 .5 6.4 .4-3.1 .5-1.5 .4 1.4 .5 1.8 .4 .3 .5-5.1 .4 4.8 .5-2 .4 3.6 .5 3.1 .4-7.6 .5 10.2 .4-1.1 .5 3.4 .4-9.9 .5 2.9 .4-3.4 .5 .4 .4-1.5 .5 4 .4-4.2 .5-.9 .4 2.2 .5 2.5 .4-5.7 .5 3.1 .4-12.8 .5 12.9 .4 0 .5 .8 .4-14.6 .5 7 .4-5.9 .5 19.8 .4-13.4 .5 6.9 .4-3.6 .5 3.7 .4-7.3 .5 2.8 .4 5.1 .5 .1 .4-2.7 .5-6.3 .4-1.5 .5-9.3 .4 4.3 .5 7 .4-5.9 .5 6.3 .4-11.3 .5 5.5 .4 7.5 .5-6.9 .4 9.7 .5 1.6 .4 3.7 .5 4.9 .4 2.1 .5-12.6 .4 8.1 .5-5.4 .4 6.5 .5-3.1 .4 6.9 .5-14 .4 3.3 .5-7.8 .4 7.9 .5 3.2 .4 3.7 .5-6.7 .4-9.3 .5 10.3 .4-5.7 .5 8.8 .4-10.1 .5 3.1 .4-1.3 .5-4.7 .4 6.3 .5-10.3 .4 7.1 .5 3.8 .4-7 .5-2.7 .4 1.8 .5-2 .4-2.3 .5-3.2 .4-3.1 .5 1.1 .4 0 .5-1.6 .4 6.6 .5-4.8 .4 1.4 .5-2.3 .4 8.1 .5-2.6 .4-.3 .5 .6 .4-3.6 .5 4.7 .4 .9 .5-.6 .4 2.2 .5-3 .4 3.2 .5-2.6 .4 0 .5-1.2 .5 .1 .5-.2 .5 3.2 .5-4.3 .6 2.2 .5 .7 .6-2.3 .6-.4 .6 .4 .6-.8 .6 2.7 .7-.1 .6 .3 .7-4.5 .7-.5 .7 1.6 .7 .5 .7 5.8 .7-2.7 .7-1.4 .7 2.4 .7-.4 .7 3 .7-2 .7 1.1 .7 .1 .7-1.1 .7 3.6 .7 .8 .7-.5 .7 3.2 .7-2.4 .7 .7 .7 2.4 .7-.4 .7-.2 .7 .4 .7 .1 .7 2.1 .7-1.1 .7 .5 .7 2.6 .7-2 .7 .5 .7-2.4 .7 2.6 .7-1.7 .7 1.7 .7 0 .7-1.1 .7 .8 .7-2.6 .7 1.7 .7-.8 .7 .7 .7-3 .7 .3 .7 2.3 .7-1.3 .7-1.7 .7 1.2 .7 .5 .7-2 .7 .1 .7 2.4 .7-3 .7-.2 .7 .5 .7 .4 .7 2.2 .7 1 .7 2.2 .7 .8 .7-.5 .7-2.5 .7-1.8 .7-1 .7-1.5 .7 .2 .7-2.6 .7-.7 .7 1.1 .7-2.5 .7 2.4 .7-.3 .7-1.6 .7 .9 .7-.2 .7-1.8 .7 2.7 .7-2.3 .7-1.9 .7 1.2 .7 .7 .7 .2 .7 .9 .7 .8 .7-.8 .7 1.1 .7-.2 .7 0 .7-.3 .7 2.4 .7-2 .7 .1 .7 1.8 .7-.3 .7-2.6 .7 2.1 .7-.7 .7 1 .7 .2 .7-1.2 .7 .7 .7-1.7 .7 2.1 .7-1.3 .7 1.4 .7 0 .7-2.5 .7 2.6 .7 .4 .7-1.1 .7-.4 .7 1.3 .7-1.4 .7-.8 .7 .8 .7 1 .7-1.3" fill="none" stroke="#ff0000" stroke-width="1.05"/>
<line x1="668.5" y1="380.5" x2="1122.5" y2="380.5" stroke="#000" stroke-width="1.05" stroke-dasharray="4.2 2.6"/>
<line x1="674" y1="343" x2="692" y2="343" stroke="#0000ff" stroke-width="0.9"/>
<text x="693.5" y="347" font-size="9.2" fill="#0000ff">E<tspan font-size="6" dy="3">L</tspan></text>
<line x1="674" y1="353" x2="692" y2="353" stroke="#00ff00" stroke-width="0.9"/>
<text x="693.5" y="357" font-size="9.2" fill="#00ff00">E<tspan font-size="6" dy="3">M</tspan></text>
<line x1="674" y1="363" x2="692" y2="363" stroke="#ff0000" stroke-width="0.9"/>
<text x="693.5" y="367" font-size="9.2" fill="#ff0000">E<tspan font-size="6" dy="3">N</tspan></text>
<path d="M687.5 337.5v3.4M687.5 410.5v-3.4M720.5 337.5v3.4M720.5 410.5v-3.4M752.5 337.5v8.8M752.5 410.5v-8.8M784.5 337.5v3.4M784.5 410.5v-3.4M817.5 337.5v3.4M817.5 410.5v-3.4M849.5 337.5v8.8M849.5 410.5v-8.8M882.5 337.5v3.4M882.5 410.5v-3.4M914.5 337.5v3.4M914.5 410.5v-3.4M947.5 337.5v8.8M947.5 410.5v-8.8M979.5 337.5v3.4M979.5 410.5v-3.4M1012.5 337.5v3.4M1012.5 410.5v-3.4M1044.5 337.5v8.8M1044.5 410.5v-8.8M1077.5 337.5v3.4M1077.5 410.5v-3.4M1109.5 337.5v3.4M1109.5 410.5v-3.4" stroke="#000" stroke-width="1.0" fill="none"/>
<path d="M668.5 407.5h5.6M1122.5 407.5h-5.6M668.5 404.5h2.2M1122.5 404.5h-2.2M668.5 402.5h2.2M1122.5 402.5h-2.2M668.5 399.5h2.2M1122.5 399.5h-2.2M668.5 396.5h2.2M1122.5 396.5h-2.2M668.5 393.5h5.6M1122.5 393.5h-5.6M668.5 391.5h2.2M1122.5 391.5h-2.2M668.5 388.5h2.2M1122.5 388.5h-2.2M668.5 385.5h2.2M1122.5 385.5h-2.2M668.5 382.5h2.2M1122.5 382.5h-2.2M668.5 380.5h5.6M1122.5 380.5h-5.6M668.5 377.5h2.2M1122.5 377.5h-2.2M668.5 374.5h2.2M1122.5 374.5h-2.2M668.5 371.5h2.2M1122.5 371.5h-2.2M668.5 368.5h2.2M1122.5 368.5h-2.2M668.5 366.5h5.6M1122.5 366.5h-5.6M668.5 363.5h2.2M1122.5 363.5h-2.2M668.5 360.5h2.2M1122.5 360.5h-2.2M668.5 357.5h2.2M1122.5 357.5h-2.2M668.5 355.5h2.2M1122.5 355.5h-2.2M668.5 352.5h5.6M1122.5 352.5h-5.6M668.5 349.5h2.2M1122.5 349.5h-2.2M668.5 346.5h2.2M1122.5 346.5h-2.2M668.5 344.5h2.2M1122.5 344.5h-2.2M668.5 341.5h2.2M1122.5 341.5h-2.2M668.5 338.5h5.6M1122.5 338.5h-5.6" stroke="#000" stroke-width="1.0" fill="none"/>
<rect x="668.5" y="337.5" width="454" height="73" fill="none" stroke="#000" stroke-width="1.1"/>
<text x="665" y="342.6" font-size="11" text-anchor="end">15</text>
<text x="665" y="356.4" font-size="11" text-anchor="end">10</text>
<text x="665" y="370.2" font-size="11" text-anchor="end">5</text>
<text x="665" y="384" font-size="11" text-anchor="end">0</text>
<text x="665" y="397.8" font-size="11" text-anchor="end">-5</text>
<text x="665" y="411.6" font-size="11" text-anchor="end">-10</text>
<text x="641" y="376" font-size="11.5" text-anchor="middle" transform="rotate(-90 641 376)">E<tspan font-size="8" dy="3">LMN</tspan><tspan dy="-3">&#160;&#160;[mV m</tspan><tspan font-size="8" dy="-4">-1</tspan><tspan dy="4">]</tspan></text>
<line x1="729.8" y1="412" x2="729.8" y2="484" stroke="#ff00ff" stroke-width="1.3" stroke-dasharray="1.3 3.30"/>
<line x1="941.4" y1="416" x2="941.4" y2="484" stroke="#22aa22" stroke-width="1.2" stroke-dasharray="7 5.4"/>
<line x1="969.5" y1="416" x2="969.5" y2="484" stroke="#22aa22" stroke-width="1.2" stroke-dasharray="7 5.4"/>
<line x1="948.2" y1="416" x2="948.2" y2="484" stroke="#ff2020" stroke-width="1.2" stroke-dasharray="7 5.4"/>
<line x1="962.2" y1="416" x2="962.2" y2="484" stroke="#ff2020" stroke-width="1.2" stroke-dasharray="7 5.4"/>
<line x1="956.3" y1="412" x2="956.3" y2="484" stroke="#ff00ff" stroke-width="1.3" stroke-dasharray="1.3 3.30"/>
<line x1="967.8" y1="412" x2="967.8" y2="484" stroke="#0000ff" stroke-width="1.3" stroke-dasharray="1.4 3.5"/>
<path d="M668.4 452.6l.9 1.9 .9 1.2 .9 2.7 .9-2 .9-.4 .9 .6 .9-1.9 .9 2.1 .9-2 .9 1.9 .9-1.3 .9-2.6 .9 .2 .9-.5 .9-1.9 .9-1.5 .9-4.1 .9 1.2 .9-3.9 .9-3 .9 4.3 .9 4.5 .9-.6 .9 2.3 .9 .2 .9-2 .9 1.4 .9-2.9 .9 .5 .9-1.3 .9 2.6 .9 0 .9 .6 .9-.4 .9-1.4 .9 2.4 .9-.8 .9 .7 .9-2 .9 .4 .9 .7 .9 .2 .9-2.5 .9 3.5 .9-1.5 .9 1.6 .9 2 .9 .7 .9 1.2 .9 .2 .9-.2 .9-1.5 .9 1.8 .9-.9 .9 .8 .9 .9 .9-.3 .9 .2 .9 .3 .9-2.6 .9 1.2 .9-3 .9 .8 .9-1.8 .9 1.5 .9-.5 .9 .4 .9-2.9 .9 2.7 .9 2.5 .9 1 .9 .5 .9 .3 .9 1.1 .9-.2 .9-2 .9 .2 .9-2.6 .9 .8 .9-2.7 .9-1.4 .9-2 .9-1.1 .9-.2 .9-1.6 .9 2.4 .9-2.2 .9 .5 .9-2.1 .9-2 .9-4.5 .9-3.6 .9 2 .9 7 .9 7.5 .9-1 .9-1.4 .9-.2 .9-3 .9-.4 .9-.4 .9 1.9 .9 2.4 .9-.1 .9 1.6 .9 .2 .9 .7 .9 1 .9-2.7 .9 2.6 .9-1 .9 1.5 .9-1.1 .9 0 .9 5 .9-.9 .9 .6 .9-.4 .9 .1 .9 3.3 .9-.5 .9 1.8 .9 .1 .9 .2 .9 2.9 .9-1.3 .9 3.4 .9 .2 .9-1.4 .9-2.6 .9 1 .9-1.3 .9 .6 .9-.3 .9-.2 .9 .5 .9 .4 .9-.4 .9-4.5 .9-3.2 .9-3 .9 .8 .9-1.3 .9-.3 .9 .8 .9-3 .9 2 .9-1.4 .9-.3 .9-.2 .9 .9 .9 2.3 .9 .1 .9 .2 .9 1.3 .9 2.1 .9 2.7 .9 1.6 .9 3.5 .9 .1 .9-1.7 .9 .2 .9-.6 .9 .1 .9 .9 .9-.6 .9-.9 .9-.2 .9-1.7 .9 1.4 .9-1 .9-.2 .9-1.1 .9-1.7 .9 1.3 .9-2.6 .9-.5 .9-.8 .9-1.3 .9-.3 .9-1.9 .9-1.7 .9 3.7 .9 1.9 .9 0 .9-1 .9-.2 .9-.4 .9-.9 .9-.5 .9-.5 .9-.5 .9 .5 .9-1.2 .9-.9 .9 .6 .9 .9 .9-1.3 .9 .3 .9-.6 .9-.8 .9 .3 .9-2.1 .9 .1 .9-.7 .9 1 .9-.4 .9-.4 .9-2.2 .9 1.2 .9-.1 .9-.1 .9 .1 .9-2 .9 1 .9-.2 .9-2.2 .9 1.2 .9-1.4 .9 .7 .9-.9 .9 2.6 .9-.8 .9-.2 .9-.2 .9 2 .9-1.8 .9 1.2 .9-1.2 .9 0 .9 2.7 .9-.6 .9 .2 .9-.2 .9-1.4 .9 1.6 .9-.2 .9-.2 .9-.9 .9-.1 .9-.5 .9 1.7 .9-2.9 .9-.8 .9 .2 .9 .8 .9-1 .9-.4 .9 1.7 .9-.6 .9 2.1 .9-1.6 .9 .8 .9 .3 .9 .8 .9 .1 .9 .8 .9-.7 .9-.5 .9 1.2 .9-2.1 .9 2.4 .9-2.9 .9 .7 .9 1.4 .9 .3 .9-.5 .9 2.7 .9-1.5 .9 1.4 .9 1 .9-2.6 .9 2.1 .9-.4 .9 .7 .9 1.6 .9 2.1 .9-1.4 .9 2 .9-1.9 .9 2.1 .9 1.9 .9 5.8 .9 3.6 .9-11.5 .9-12.4 .9-.5 .9-.7 .9 3.2 .9-.5 .9-2.3 .9 1.6 .9-2.1 .9 1.3 .9-.8 .9 1.3 .9-3.4 .9 .5 .9-1.1 .9-1.2 .9-2.7 .9-1.1 .9 3.5 .9 1.6 .9 .7 .9 2.1 .9-.5 .9 2.3 .9-1.7 .9-.3 .9 1.9 .9-.1 .9 .8 .9 1.7 .9 2.9 .9 .5 .9-.1 .9 2.9 .9 4.7 .9 2.8 .9 4.6 .9-.2 .9 .5 .9-.5 .9-2.1 .8 4.4 .7-8.8 .7 3.2 .5-2.4 .6-4.1 .4-9.1 .4-5.6 .4 25.8 .3-21 .3 1.4 .3 .1 .2-12.3 .3 3.6 .2-2.5 .3 11 .3-7.7 .2 3.8 .3 14.6 .2-14.3 .3 6.5 .3-14.4 .2 8.8 .3 6 .2-4.9 .3 13.1 .3-8.7 .2-15.2 .3 6 .2 16.8 .3-4.6 .3-17.4 .2 19.4 .3-5.7 .2 .5 .3 11.7 .3-32.2 .2 17.1 .3-.2 .2-2.8 .3 14.3 .3-14.3 .2 5.9 .3-8.3 .2-2.3 .3-13.1 .3 12.3 .2 3.9 .3 7 .2 11.2 .3-17.7 .3 .6 .2 10.9 .3-11.3 .2 15.5 .3-3.6 .3 8.3 .2-12.7 .3-7.6 .2 13.1 .3-21 .3-16.2 .2 21.9 .3-9.5 .2 4 .3-15.5 .3-.9 .2 2.8 .3-2.8 .2 0 .3 0 .3 5.3 .2 6.9 .3 8.7 .2 5.8 .3-6 .3 16 .2-29.3 .3 10.9 .2-5.2 .3 8.7 .3 .4 .2 28.1 .3-16.8 .2 5.7 .3-19.1 .3 18.3 .2-2.8 .3-10 .2 1.9 .3 11.1 .3-27.3 .2 28.3 .3-9.5 .2-21.9 .3 10.2 .3 15.4 .2-10.8 .3-12.5 .2-10.5 .3 32.2 .3 4.1 .2-27.3 .3 33.3 .2-35.3 .3 10.1 .3-5 .2 28.4 .3-9.1 .2-15.9 .3 7.1 .3 1.8 .2 12.3 .3 16.4 .2-22.6 .3 19.8 .3-41 .2 29 .3-15.4 .2 12.3 .3-16.5 .3-.6 .2 14.9 .3-10.9 .2-9.4 .3 11.2 .3-15.5 .2 11.6 .3 23.4 .2-13.3 .3 4 .3-13.2 .2 19.9 .3-11.8 .2-16.7 .3 27.5 .3-10.5 .2-5.7 .3-11.2 .2-12.4 .3 0 .3 10.7 .2 5.3 .3-10.1 .2 25.6 .3-26 .3-4.7 .2 12.1 .3 3.1 .2-16 .3 0 .3 13.7 .2 3.1 .3 7.1 .2-.6 .3-23.3 .3 14.5 .2-8.1 .3 8.2 .2-14.6 .3 17.7 .3-16.3 .2 19.4 .3-2.5 .2-3.1 .3 5.7 .3-10.3 .2 26.8 .3-10.4 .2 25.4 .3-18.3 .3 17.4 .2-18.9 .3 9.3 .2 6.6 .3-24.4 .3 16.9 .2-14.8 .3 24.3 .2-10.3 .3-11.3 .3-23.3 .2 36.2 .3-8.7 .2-15.4 .3 17.3 .3-13.1 .2 10.7 .3-17.1 .2 12.3 .3-3.7 .3 1.6 .2-.9 .3 27.4 .2-27.8 .3 13.1 .3-32.7 .2 9.7 .3 7.1 .2 9 .3-5.5 .3 4.9 .2 1.3 .3 22.9 .2-14.3 .3-12.3 .3 4.2 .2 8.9 .3-15.5 .2-4.4 .3 2.8 .3 .6 .2 2.2 .3 6.8 .2-29.8 .3-2.5 .3 21.4 .2 13.5 .3-2.9 .2-17.7 .3-9.3 .3 11.7 .2 9.4 .3-19.2 .2 11.4 .3 4.2 .3-6.9 .2 38.5 .3-37.8 .2-7.9 .3 12.2 .3-3.9 .2-1.6 .3 5 .2 3.1 .3 2.8 .3-12.9 .2-9.4 .3 18.4 .2-18.9 .3 20.6 .3-24.7 .2 12.3 .3 3.4 .2-1.3 .3-3.3 .3 6.1 .2 13.3 .3-20.8 .2 17.6 .3 4 .3-18.6 .2-3.2 .3-9.5 .2 6.1 .3-6.1 .3 23.6 .2-9.4 .3 6.6 .2 8.3 .3-26.8 .3-2.3 .2 23.2 .3 2.2 .2-10.6 .3-4.6 .3-1.6 .2 13.3 .3 5.2 .2-10.7 .3-.4 .3 7.7 .2-13 .3 8.8 .2 8.4 .3-6.4 .3-2.1 .2-8.8 .3 10.2 .2-20.8 .3 18.3 .3 1.1 .2-2.1 .3-17.3 .2 29.6 .3-9.6 .3 16.1 .2-30.4 .3 29.5 .2-10 .3 2.6 .3-6.4 .2-19.3 .3 12.6 .2 19.8 .3-23.3 .3 18.7 .2-14.9 .3-.1 .2 7.9 .3 3.8 .3-18.1 .2 9.2 .3 12.7 .2-17.2 .3-.5 .3 7.5 .2 4.2 .3-13.7 .2 7.2 .3 15.1 .3-7.1 .2-13.2 .3 1.7 .2 5.5 .3-19.9 .3 35.7 .2-27.3 .3 19 .2-4.1 .3-12.4 .3-2.7 .2 22.5 .3-20.3 .2 19 .3-22.3 .3 4.8 .2 30.1 .3-12.5 .2 4.6 .3-4.2 .3-16.6 .2 26.8 .3-31 .2 3.9 .3 .6 .3 13.5 .2-14.6 .3 8.5 .2-21 .3 22.3 .3-22.3 .2 30.7 .3-20.5 .2 .1 .3 .8 .3-8.8 .2 2.5 .3-4.8 .2 9.7 .3-9.7 .3 4.6 .2 7.1 .3 22.3 .2-18.8 .3-12.5 .3 17.6 .2-3.8 .3 3.9 .2-.5 .3-19.9 .3 3.8 .2-2 .3 25.9 .2-5.2 .3-4.4 .3-.1 .2-1.2 .3 .2 .2 1.7 .3 19.6 .3-36 .2 9.9 .3 7.5 .2 12.1 .3-22.3 .3 1 .2 27.2 .3-26.2 .2 11.6 .3-.8 .3-1.9 .2-3.8 .3 5.7 .2 4.1 .3-10.3 .3 30.2 .2-13.3 .3-12.3 .2 12.7 .3-21.3 .3 18.5 .2-12.8 .3 17.8 .2-35.6 .3 47.1 .3-18.2 .2 11.1 .3-8.6 .2 5.3 .3-9.7 .3-25.5 .2-1.5 .3 23.5 .2-8.1 .3 26.1 .3-14.3 .2 16.2 .3-38.6 .2 6.1 .3 1.3 .3 17.3 .2-.4 .3-17.7 .2 3.3 .3 18.5 .3-25.3 .2 15.7 .3-12.1 .2 7.9 .3-9.5 .3 27.8 .2-23.1 .3 10.2 .2-14.5 .3 19.1 .3-16.6 .2-12.8 .3 41.1 .2-12.4 .3-9.7 .3 5.6 .2-11.9 .3-5.9 .2 14 .3-5 .3 2 .2 8.7 .3 9.7 .2-23.1 .3-3.2 .3 3.5 .2-.5 .3 14.7 .2-10.1 .3 6.9 .3-.3 .2 .4 .3 3.5 .2-1 .3 3.2 .3-3.2 .2 11.1 .3 11.1 .2-21.5 .3-8.9 .3 8.1 .2 15.9 .3-24.7 .2 21.9 .3-27 .3 10.2 .2 32.2 .3-24 .2-1.1 .3-.7 .3-22.3 .2 20.1 .3 6.5 .2-18.1 .3 16.9 .3-8.3 .2 9.9 .3 5.7 .2-7.8 .3-8.6 .3 6.7 .2 15 .3-3.2 .2-11.6 .3 8.9 .3-8.8 .2 26.4 .3-8.1 .2-43.8 .3 15.9 .3-3.3 .2 15.4 .3-.2 .2-13 .3 12.2 .3-26.5 .2 17.4 .3 10.5 .2-.7 .3-23.5 .3 4.7 .2 9.6 .3-11.1 .2-3.3 .3 25.1 .3 2.3 .2-11 .3-23.1 .2 11.4 .3 1.1 .3-4.5 .2 1.9 .3 15.6 .2-12.3 .3 13.4 .3 8.3 .2-10.8 .3 2.5 .2 10.7 .3-20.9 .3-18.9 .2 12 .3-.8 .2 21.7 .3-7.3 .3 11.7 .2-4.4 .3-10.3 .2-7.6 .3-.2 .3 18.9 .2-3.3 .3 9 .2-12.3 .3-5.1 .3 2.2 .2-14.1 .3 25.7 .2-16.4 .3 .2 .3-3.7 .2 11.1 .3-9.2 .2-8.8 .3 20.7 .3 5.9 .2-16.4 .3 11.8 .2 4.9 .3-7.5 .3-12 .2 10.7 .3 8.1 .2-9 .3 18.3 .3-35 .2 16 .3-7.5 .2 .5 .3 27.3 .3-30 .2 10.6 .3 15.4 .2-21.6 .3 13.4 .3-9.2 .2 16.3 .3-10.8 .2-19.5 .3 16.6 .3 7 .2 1.9 .3-19.4 .2 10.1 .3 2.5 .3-4.1 .2 1 .3 11.9 .2-13.5 .3-7.5 .3 25.7 .2-8.8 .3-2.9 .2 .8 .3-14.8 .3 39.4 .2-16.3 .3-5.9 .2 12.7 .3-38.5 .3 33.1 .2-16 .3-9.6 .2 7.7 .3 12 .3-14.6 .2-13.8 .3 8.4 .2 31.5 .3-18.8 .3-1.8 .2-3.2 .3-13.4 .2 15.4 .3 17.4 .3-12 .2-12.2 .3 11.6 .2-17.9 .3 19.6 .3 13.3 .2-12.2" fill="none" stroke="#111" stroke-width="1.1"/>
<path d="M668.4 455.7l.9-.4 .9 .3 .9 1.3 .9-1 .9 1 .9 .4 .9-1.1 .9-.9 .9 .4 .9-1.2 .9 .7 .9-.8 .9-1.7 .9-2.4 .9-.8 .9-.8 .9-2.4 .9-.3 .9-1.5 .9-.6 .9 .1 .9 4.2 .9-.7 .9 2.7 .9-1.6 .9 1.5 .9-2.3 .9-1 .9 .6 .9-1.9 .9 1.4 .9-.2 .9 2.2 .9-.6 .9 .9 .9 .2 .9 .5 .9-2 .9-.8 .9 1.3 .9-2.2 .9 1 .9 .9 .9 1.6 .9-1.7 .9 3.6 .9 .4 .9-.4 .9 .3 .9 2.3 .9-1.2 .9-.5 .9 2.4 .9-1.1 .9 1.6 .9-.4 .9 .9 .9-2.5 .9-.3 .9-1.2 .9 1.6 .9-.6 .9-2 .9 0 .9 .2 .9-.3 .9-1.6 .9 2.8 .9-.7 .9 2.2 .9 2.1 .9-1.2 .9 1.8 .9 .2 .9-1.8 .9-.5 .9-1.3 .9-2 .9-.3 .9-.5 .9-.5 .9-3.6 .9 .4 .9-1.9 .9-1.5 .9 .2 .9-.5 .9 2.2 .9-1.1 .9-3.3 .9-6 .9-2.6 .9 3.6 .9 6.9 .9 6.4 .9-3.2 .9 .9 .9-2.9 .9 1.2 .9 .4 .9-1 .9 1.5 .9 1.7 .9-1.7 .9 1 .9 .9 .9 1.6 .9-1.2 .9 2.1 .9-.5 .9-.7 .9-.2 .9 2.2 .9 1 .9 2.2 .9 .3 .9-.4 .9 1 .9 .9 .9-.4 .9 1.6 .9-1.1 .9 3.1 .9-.3 .9 2.8 .9 1 .9-.3 .9 .5 .9-2 .9 1.7 .9-2.9 .9-.8 .9 .7 .9-.1 .9-.3 .9 1 .9 1.8 .9-3.7 .9-1.7 .9-4.4 .9-3.2 .9 .5 .9-1.6 .9-.1 .9 .9 .9-2.6 .9 2.4 .9-.8 .9 .8 .9-.3 .9-.4 .9 .9 .9 .7 .9 .1 .9 2.1 .9 3.3 .9 1.1 .9 1.5 .9 3.6 .9-1.2 .9-.3 .9 1.4 .9-1.5 .9-.3 .9 .4 .9-1.5 .9 1.1 .9-1.8 .9 .5 .9-1.5 .9 .3 .9-.3 .9-1.4 .9-.6 .9 1.1 .9-2.2 .9 .1 .9-2.1 .9-1.7 .9 2 .9-2.5 .9-3.6 .9 4.7 .9 2.6 .9-1.4 .9-.4 .9-.3 .9-.9 .9 .2 .9-1.5 .9-.7 .9-.5 .9 1.3 .9 .6 .9-1.5 .9-.8 .9 .8 .9-2 .9 .5 .9 .6 .9-1.3 .9-.8 .9 .2 .9-.2 .9 0 .9-2.6 .9 0 .9 .3 .9-.5 .9 1.4 .9-1.5 .9-1.6 .9 .6 .9 .3 .9-.2 .9-.2 .9 .1 .9-1.1 .9 1.3 .9-1.9 .9 .2 .9 .7 .9-.3 .9 1.3 .9-1.5 .9 1.3 .9-.9 .9-.7 .9 1.7 .9 .2 .9 .4 .9 .8 .9 .8 .9-.3 .9-.6 .9 .6 .9-.2 .9-1.2 .9 .5 .9-1.4 .9-.4 .9-.8 .9-.9 .9 .4 .9 1.1 .9-.4 .9-1.7 .9 .7 .9 1.7 .9-1.1 .9 .1 .9 .1 .9 .8 .9 .1 .9 .4 .9 1 .9-.5 .9 .4 .9 .5 .9-1.8 .9 1.5 .9-.7 .9 1.5 .9 .6 .9-.7 .9 .9 .9-.8 .9 2.6 .9-1.3 .9 .4 .9 .1 .9 0 .9 2.9 .9-2.5 .9 1 .9 .6 .9 .8 .9 .6 .9 .8 .9 .7 .9 0 .9 4.4 .9 3.9 .9 2.9 .9-11.1 .9-11 .9-1 .9-.1 .9 1.5 .9-1.6 .9 0 .9 .8 .9-3.9 .9 2.5 .9 .3 .9-.8 .9 1.1 .9-2.9 .9-1.6 .9-1.9 .9-.1 .9-3.7 .9 3.1 .9-.3 .9 3.1 .9 3.1 .9 .1 .9 .3 .9-1.3 .9 3.2 .9 3.2 .9-1.7 .9 1.1 .9 0 .9-.4 .9 3.1 .9 1.5 .9 .4 .9 3.3 .9 6.7 .9 4.5 .9 1 .9-2.4 .9 .4 .9 1.4" fill="none" stroke="#00ff00" stroke-width="1.1"/>
<path d="M961.2 458.1l.5-1.3 .5-3.8 .5-1.8 .5-.3 .5-4.6 .5-2.7 .5 .6 .5-1.7 .5-.8 .5-1.3 .5-1.5 .5 2.5 .5 .5 .5-5.7 .5-2.8 .5 8.7 .5-.2 .5-1.8 .5 1.5 .5 4.3 .5 .5 .5-4.4 .5-1.4 .5 3.5 .5-2.9 .5-4.7 .5 1.5 .5 2.6 .5-1.5 .5 1.2 .5 1.2 .5 3.6 .5-3.3 .5 3.4 .5-11.2 .5-.7 .5-5.9 .5-3.3 .5-3.4 .5 2.7 .5 10 .5-2.4 .5-7.7 .5 7.3 .5 8.3 .5-7.6 .5 8.2 .5 2.4 .5-4.1 .5-.3 .5-5.3 .5 2.8 .5-5.1 .5 .4 .5-3.6 .5-1.6 .5 5.5 .5 1 .5 3.7 .5 2 .5 2.9 .5 .9 .5 3.2 .5-.8 .5-.1 .5-3.6 .5 1.4 .5-2.9 .5-7.2 .5 7.5 .5-6.3 .5-1.4 .5-1.7 .5-3.3 .5 3.1 .5-4.5 .5-1.8 .5-.9 .5-1.3 .5-3.3 .5-.2 .5-.2 .5-2.3 .5 5.1 .5-.3 .5 .4 .5 2.3 .5 7.2 .5 1 .5 6.5 .5 4 .5 7.3 .5-3 .5 1.9 .5-1.1 .5-2.1 .5 4.8 .5-.8 .5-6 .5-2.3 .5-1.8 .5 4.8 .5-5.8 .5 .9 .5-1.5 .5 6.2 .5-4 .5-2.9 .5 0 .5-1.6 .5 4.5 .5-1.5 .5-1 .5-1.3 .5-6.1 .5 6.4 .5-3.5 .5-.7 .5 7.9 .5-5.2 .5-2.8 .5 .8 .5 1.9 .5-3.3 .5 5.7 .5-5.7 .5 .7 .5-4.3 .5 4.5 .5 3.9 .5-7.7 .5 1.1 .5-6.8 .5 6.6 .5-3.3 .5 4.8 .5-.8 .5-3.7 .5 3.7 .5 0 .5-2.8 .5-2.4 .5 6.4 .5-1.5 .5-.5 .5-.3 .5 2.9 .5-8.3 .5 5.5 .5 .8 .5 1.1 .5-.8 .5 2.6 .5-2 .5 2.5 .5 .8 .5 .2 .5-2.7 .5 3.6 .5 .1 .5 .7 .5-3.9 .5-2.4 .5 3.9 .5 .6 .5-2.4 .5-4.4 .5 6.4 .5-5.2 .5-.4 .5 2.1 .5-2.1 .5 .9 .5 3.1 .5-4.6 .5 2.9 .5-2.7 .5 .8 .5 1.4 .5-7 .5 0 .5-.2 .5 8.5 .5-5.1 .5-2.3 .5-3.8 .5 4.7 .5 2.8 .5-1.5 .5 .8 .5 .8 .5 .9 .5 2.2 .5-3.4 .5 5.2 .5 .1 .5-2.6 .5 2.9 .5 1.4 .5-1.2 .5-1 .5 .1 .5 4.2 .5-1 .5-5.2 .5 3.9 .5-.5 .5-1.7 .5 4.6 .5-3.8 .5 1 .5 .7 .5 1.2 .5-1.7 .5 .9 .5 .1 .5 3.2 .5-4.1 .5 3.4 .5-1.8 .5-.3 .5-1.6 .5-3.5 .5 3.6 .5-7.8 .5 7 .5-6.2 .5 4.5 .5 .1 .5-3.7 .5 5.5 .5 3.7 .5-.9 .5-.3 .5 1.8 .5-.9 .5 1.4 .5 .4 .5 2.1 .5 3.7 .5-2 .5 3.1 .5 .4 .5-1.4 .5 .6 .5-1.3 .5-4.6 .5 6.5 .5-1.4 .5-1.9 .5-4.8 .5 2.4 .5 4 .5-5.8 .5 .5 .5 .1 .5 .6 .5-3.8 .5 5.9 .5 .6 .5-4.8 .5 1.1 .5-.5 .5-1.8 .5 2.3 .5-2.5 .5 1.4 .5 1.3 .5 .6 .5-4.3 .5 1.9 .5-2.9 .5 2.4 .5-1 .5 2.4 .5-3.7 .5-1.1 .5 6.1 .5-3.2 .5 5.9 .5-1.7 .5-2.6 .5-.3 .5-.3 .5 2.1 .5-1.7 .5-.8 .5 1.8 .5 .6 .5-1.8 .5 1.3 .5 2.7 .5-6.6 .5 4.2 .5 4.1 .5-1.1 .5-.6 .5-2.4 .5 6.4 .5-3.1 .5-.2 .5-1.2 .5 3 .5-.8 .5-1.6 .5-1.8 .5 1.6 .5-1.1 .5-1.8 .5 7.1 .5-3.1 .5 .1 .5 .5 .5-1.7 .5-.3 .5 .1 .5-2.3 .5 .2 .5 1.7 .5 4.1" fill="none" stroke="#00ff00" stroke-width="1.6"/>
<line x1="668.5" y1="447.5" x2="1122.5" y2="447.5" stroke="#000" stroke-width="1.05" stroke-dasharray="4.2 2.6"/>
<line x1="674" y1="418" x2="692" y2="418" stroke="#333" stroke-width="0.9"/>
<text x="693.5" y="421.5" font-size="9.2" fill="#222">-(VexB)<tspan font-size="6" dy="2.5">M</tspan></text>
<line x1="674" y1="428.3" x2="692" y2="428.3" stroke="#00ff00" stroke-width="0.9"/>
<text x="693.5" y="432" font-size="9.2" fill="#00ff00">E<tspan font-size="6" dy="3">M</tspan></text>
<path d="M687.5 410.5v3.4M687.5 484.5v-3.4M720.5 410.5v3.4M720.5 484.5v-3.4M752.5 410.5v8.8M752.5 484.5v-8.8M784.5 410.5v3.4M784.5 484.5v-3.4M817.5 410.5v3.4M817.5 484.5v-3.4M849.5 410.5v8.8M849.5 484.5v-8.8M882.5 410.5v3.4M882.5 484.5v-3.4M914.5 410.5v3.4M914.5 484.5v-3.4M947.5 410.5v8.8M947.5 484.5v-8.8M979.5 410.5v3.4M979.5 484.5v-3.4M1012.5 410.5v3.4M1012.5 484.5v-3.4M1044.5 410.5v8.8M1044.5 484.5v-8.8M1077.5 410.5v3.4M1077.5 484.5v-3.4M1109.5 410.5v3.4M1109.5 484.5v-3.4" stroke="#000" stroke-width="1.0" fill="none"/>
<path d="M668.5 482.5h2.2M1122.5 482.5h-2.2M668.5 477.5h2.2M1122.5 477.5h-2.2M668.5 472.5h5.6M1122.5 472.5h-5.6M668.5 467.5h2.2M1122.5 467.5h-2.2M668.5 462.5h2.2M1122.5 462.5h-2.2M668.5 457.5h2.2M1122.5 457.5h-2.2M668.5 452.5h2.2M1122.5 452.5h-2.2M668.5 447.5h5.6M1122.5 447.5h-5.6M668.5 443.5h2.2M1122.5 443.5h-2.2M668.5 438.5h2.2M1122.5 438.5h-2.2M668.5 433.5h2.2M1122.5 433.5h-2.2M668.5 428.5h2.2M1122.5 428.5h-2.2M668.5 423.5h5.6M1122.5 423.5h-5.6M668.5 418.5h2.2M1122.5 418.5h-2.2M668.5 413.5h2.2M1122.5 413.5h-2.2" stroke="#000" stroke-width="1.0" fill="none"/>
<rect x="668.5" y="410.5" width="454" height="74" fill="none" stroke="#000" stroke-width="1.1"/>
<text x="1125" y="427.4" font-size="11">10</text>
<text x="1125" y="451.9" font-size="11">0</text>
<text x="1125" y="476.4" font-size="11">-10</text>
<text x="1155" y="448" font-size="11.5" text-anchor="middle" transform="rotate(-90 1155 448)">E<tspan font-size="8" dy="3">M</tspan><tspan dy="-3"> [mW m</tspan><tspan font-size="8" dy="-4">-2</tspan><tspan dy="4">]</tspan></text>
<line x1="729.8" y1="486" x2="729.8" y2="558" stroke="#ff00ff" stroke-width="1.3" stroke-dasharray="1.3 3.30"/>
<line x1="941.4" y1="490" x2="941.4" y2="558" stroke="#22aa22" stroke-width="1.2" stroke-dasharray="7 5.4"/>
<line x1="969.5" y1="490" x2="969.5" y2="558" stroke="#22aa22" stroke-width="1.2" stroke-dasharray="7 5.4"/>
<line x1="948.2" y1="490" x2="948.2" y2="558" stroke="#ff2020" stroke-width="1.2" stroke-dasharray="7 5.4"/>
<line x1="962.2" y1="490" x2="962.2" y2="558" stroke="#ff2020" stroke-width="1.2" stroke-dasharray="7 5.4"/>
<line x1="956.3" y1="486" x2="956.3" y2="558" stroke="#ff00ff" stroke-width="1.3" stroke-dasharray="1.3 3.30"/>
<line x1="967.8" y1="486" x2="967.8" y2="558" stroke="#0000ff" stroke-width="1.3" stroke-dasharray="1.4 3.5"/>
<path d="M669 543.2l.4 5.6 .3-5.6 .4 10.7 .3-11.2 .4 3.2 .4 9.1 .3-11.4 .4 2.5 .3 4.3 .4 1.5 .4 .1 .3 .5 .4-2.6 .3-.5 .4 .5 .4 1.3 .3-3.7 .4 7.3 .3-8.1 .4 5.1 .4 5.3 .3-7.1 .4-2.6 .3 4.7 .4-5.4 .4-8.6 .3 9.5 .4 7.7 .3-10.2 .4 4.5 .4-8.8 .3-16.9 .4 26.2 .3-3.3 .4 .3 .4 3.4 .3 3.1 .4-.3 .3-53 .4 51.8 .4 2.2 .3-4.1 .4-1 .3 3.3 .4-5.5 .4 6.6 .3 .4 .4-11.3 .3-.9 .4-9.4 .4 15 .3 7.4 .4-2.1 .3-2 .4-3.5 .4 6.6 .3-6 .4-27.3 .3 28.7 .4-.6 .4-.2 .3 4.2 .4-10.5 .3 4.5 .4-1.6 .4 4.4 .3-6.8 .4 4.9 .3 4.5 .4-7.7 .4 8.8 .3-4.3 .4-8.6 .3 12.9 .4-9.9 .4 1.7 .3 5.7 .4-9.2 .3-25.5 .4 33.1 .4-5.8 .3 8.9 .4 1 .3-.3 .4-9.8 .4 11.3 .3-6.8 .4 8.1 .3-8.2 .4 .2 .4-3 .3 6.6 .4-8.4 .3 2.4 .4 8.8 .4-8.8 .3 2.9 .4-3.5 .3 11.8 .4-9.9 .4 5 .3 2.6 .4-20.9 .3 18.2 .4 2.8 .4-10.6 .3 .3 .4 5.3 .3-.7 .4 5.4 .4 1.1 .3-2.2 .4-.4 .3-3.4 .4 1.1 .4-4.1 .3-1.3 .4 1.8 .3 6.9 .4 1.8 .4-4.5 .3 .9 .4 1.5 .3-9.5 .4 0 .4 1.4 .3 10.3 .4-4.2 .3 2.1 .4-3.3 .4-2.9 .3-3.5 .4 6.3 .3-2.1 .4-1 .4 2.1 .3-1.9 .4 .5 .3-4.8 .4-.2 .4 3.2 .3 6.4 .4-.2 .3-11.6 .4 5.2 .4 3 .3-7.9 .4 3.9 .3 1.4 .4-1 .4 6 .3 3.9 .4-12 .3 2.8 .4 .2 .4 4.2 .3 3.2 .4-8.8 .3 1.3 .4-.9 .4 2.3 .3 3.7 .4 .4 .3-10.3 .4 10.5 .4-29.1 .3 25.7 .4-62.9 .3 56.1 .4 5.8 .4 4.2 .3 2.3 .4-12.3 .3 5.8 .4 4.8 .4-2.7 .3-4.5 .4-2.8 .3 10.1 .4 .1 .4-1.4 .3-4.4 .4 8.2 .3-2.2 .4-6.9 .4 7.1 .3-1.2 .4-8.8 .3 7.9 .4-3.8 .4 5.1 .3-6.8 .4 11.9 .3-9 .4-1.3 .4 9.5 .3-13.8 .4 1.3 .3 .9 .4 11.4 .4-7.6 .3-6.4 .4 5.1 .3-.2 .4-.1 .4 .7 .3 6.2 .4-6.3 .3-4.6 .4-2.8 .4 1.8 .3-2.6 .4 12.8 .3-4.3 .4-6.7 .4 13.3 .3-25.8 .4 25.6 .3-6.4 .4 6.6 .4-6.1 .3 .4 .4 0 .3-6.5 .4 4.7 .4-3 .3 7.4 .4-36.2 .3 39.8 .4-3.5 .4-7.5 .3-1.7 .4 7.3 .3 1.4 .4-1.6 .4-30.8 .3 28.1 .4 8.4 .3-6.7 .4 7.2 .4-2.3 .3-12.6 .4 6.6 .3 7.5 .4 1.4 .4-29.5 .3 22.6 .4-7.6 .3-.4 .4 1.9 .4 11.5 .3 .6 .4-11 .3 7 .4-8.7 .4 15.7 .3-15.7 .4 14.4 .3-.3 .4 1.6 .4-1.4 .3-5 .4-1.4 .3-5.3 .4 9.6 .4-5.6 .3-5.8 .4 3.9 .3-3.3 .4-.7 .4 11.3 .3-9.3 .4 6.5 .3 .3 .4 1 .4-2.3 .3-6.2 .4 9.4 .3-12 .4-.7 .4 12.1 .3-6.4 .4-3.2 .3-6.9 .4 9.7 .4 6.4 .3 1.2 .4-8.4 .3-.6 .4 10.2 .4-4.4 .3-19.6 .4 21.8 .3-1.7 .4-3.6 .4 .7 .3 1.6 .4 1.2 .3-5.1 .4 2.1 .4-2.9 .3 5.7 .4-5 .3 1.4 .4-5.3 .4 8.3 .3-3.4 .4 4.5 .3-3.2 .4 2.9 .4 1.7 .3-1.9 .4-7.6 .3 3.5 .4 4.8 .4-4.1 .3-3.3 .4 9.4 .3-5.1 .4-4.7 .4 3.5 .3 .4 .4-2.6 .3 3 .4-.7 .4 1.9 .3 4.5 .4-44.8 .3 36.8 .4 5.9 .4-6.3 .3-3.2 .4 12.9 .3-12.4 .4 7.5 .4-2.1 .3-6.5 .4 .2 .3-16.7 .4 26.2 .4-.6 .3 4 .4 .9 .3-12.1 .4 4.2 .4-18.4 .3 15.6 .4 9.9 .3-5.7 .4 5.8 .4-4.3 .3-10.2 .4 8.8 .3 7.3 .4-9.7 .4-3.5 .3 2.4 .4 3.9 .3 7.3 .4-11.3 .4-.4 .3 .8 .4 .8 .3 9.8 .4-9.9 .4-3.4 .3 .1 .4 11.7 .3-12.2 .4 6.7 .4-4.3 .3 8.5 .4 .5 .3-.3 .4-11.5 .4 6.4 .3 1.4 .4-18.9 .3 19.8 .4-5.6 .4 .6 .3 7 .4-9.2 .3 8.3 .4-2.1 .4-6 .3 1.3 .4 6.7 .3-17.9 .4 22 .4-3.3 .3 2.1 .4-1.6 .3-4.7 .4-3 .4 6.9 .3-7.1 .4 9 .3-3.3 .4 1.8 .4-5.8 .3 1 .4 7.5 .3 .1 .4-8.9 .4-2.5 .3-10.2 .4 21.2 .3-5.4 .4-3.2 .4 5.6 .3-4.1 .4 5.3 .3-2.7 .4-7 .4 5 .3 6 .4-5.3 .3 2.2 .4-8 .4 .3 .3 1.3 .4-.4 .3-22.6 .4 23.7 .4 2.5 .3 1.9 .4 1.2 .3-6.4 .4 6.6 .4-7 .3 4.2 .4-2.6 .3-1.9 .4 3 .4 6.9 .3-9.7 .4-1.4 .3 2.8 .4 1.8 .4-1.7 .3 1 .4 7.3 .3-8.8 .4 5.3 .4 3.2 .3-7 .4-4.3 .3 5.6 .4-4.2 .4 5.2 .3-3.3 .4-3.4 .3 .7 .4 9.1 .4-7.4 .3 9.6 .4-9.9 .3-11.6 .4 13.1 .4 .7 .3-1.8 .4 .4 .3 7.4 .4-7.3 .4 2.6 .3 0 .4 6.5 .3-2.2 .4 3 .4-6.1 .3 .1 .4-5.7 .3 11.2 .4-7.2 .4-.5 .3-3.9 .4 7.9 .3-9.7 .4 9.7 .4-8.9 .3-1.1 .4 5.4 .3-1.1 .4-3.7 .4 2.3 .3 3.4 .4 .5 .3-2.8 .4 2.6 .4-5.7 .3 8.6 .4-6.8 .3 6.3 .4-5.5 .4 2.7 .3-3.7 .4-1.1 .3 8.5 .4-8.1 .4 8 .3-9.6 .4 6.2 .3-1.1 .4-2 .4 5.3 .3 4 .4-7.7 .3 5 .4-.5 .4 3.2 .3-11 .4 8 .3 1.6 .4-9.2 .4 6.3 .3-4 .4 9.4 .3 1.1 .4-6.2 .4-5.8 .3 1.2 .4 2.7 .3 3.3 .4-3.2 .4 6.7 .3-3.2 .4-2 .3 4.4 .4-7.3 .4 7.4 .3-3.5 .4-3.8 .3 9.6 .4-4.2 .4 .6 .3-6.2 .4 7.2 .3 1.2 .4-1.5 .4-6.8 .3 4.1 .4 3.2 .3-2.5 .4 2 .4-1.3 .3-2.2 .4 5.5 .3 .4 .4-6.8 .4 4.8 .3-2.6 .4-1.9 .3 6.3 .4-3.6 .4 0 .3-3 .4 3.7 .3-4.7 .4 4.3 .4 3.6 .3 .5 .4-6.7 .3 1.6 .4-1.5 .4 3.4 .3-.9 .4 3 .3 .7 .4-5 .4 .3 .3 4.6 .4-6.1 .3 4.5 .4-2.8 .4 3.4 .3 .1 .4 1.9 .3-4.5 .4 2.2 .4-3.4 .3 1.3 .4-1.6 .3 3.4 .4-.7 .4 2.8 .3-5.6 .4 .6 .3 2.1 .4 3.1 .4-4.9 .3 2.1 .4-1.8 .3 2.6 .4-1.8 .4 4.3 .3-5.5 .4 3.9 .3-1.3 .4-3.4 .4-.6 .3 .5 .4 .5 .3 1.7 .4 .8 .4-4.9 .3 3.4 .4 3.4 .3-2.3 .4 1.8 .4-3.7 .3 5.9 .4-3.9 .3 3 .4 .5 .4-2.5 .3-4.2 .4 .5 .3 4 .4-1.9 .4-.2 .3 3.2 .4-3.9 .3 3.3 .4-.8 .4 0 .3-5.2 .4 .5 .3 5.8 .4-1.9 .4 3.1 .3-.4 .4-5.8 .3-.8 .4 6.2 .4 .3 .3-4.6 .4 4.7 .3-6.4 .4-.9 .4 2.7 .3-.6 .4 3.1 .3-4.5 .4 5.7 .4 .7 .3-2.2 .4-2.9 .3 2.9 .4-3.2 .4-.3 .3 3.5 .4 2 .3-3.7 .4-2 .4 5 .3-4.6 .4 5.5 .3-2.4 .4-.8 .4-5.1 .3 6.2 .4-1.6 .3 4.2 .4-6.2 .4 2.2 .3 2.6 .4-.5 .3-5 .4-1.1 .4 5.6 .3-5.8 .4 .9 .3 3.9 .4-5.4 .4 4 .3 2.9 .4 .7 .3-5.9 .4 2.6 .4-4.8 .3-1.6 .4 9.3 .3-.2 .4-1.8 .4-2.7 .3 .5 .4-3 .3 6.3 .4-2.3 .4-21.9 .3 24.3 .4-11 .3 6.6 .4-8 .4-1.7 .3 6.8 .4-4.7 .3-5.8 .4 3.6 .4 8.4 .3-6.5 .4-14.3 .3-7.8 .4 28.1 .4-11.7 .3-41.9 .4 40.7 .3-25.2 .4 28.1 .4-10.4 .3-30.7 .4 29.2 .3-1.2 .4 15.1 .4 9.5 .3-14.6 .4 8.1 .3 9.9 .4-14.9 .4 11.9 .3-21 .4 6.4 .3 8.2 .4-.4 .4-11.2 .3 19.3 .4-3.4 .3-2.6 .4-4.4 .4-1.8 .3 4.1 .4 5.7 .3 5.8 .4-1.8 .4-15.2 .3 11.6 .4-2.1 .3-10.7 .4 5.8 .4 1.1 .3-.3 .4 4 .3-8 .4 2.2 .4-.5 .3-5.8 .4 5.2 .3-4 .4-1.2 .4 0 .3 5.8 .4-1.4 .3 .8 .4 8.1 .4-1.3 .3 1.8 .4 2.6 .3-11.2 .4 5.2 .4 4.2 .3-9.8 .4 5.2 .3 3.5 .4-3.8 .4-.8 .3-.5 .4 10.3 .3-14.2 .4 1.8 .4 5.1 .3-1.4 .4 4.3 .3-8.3 .4 4.7 .4 2.2 .3-5.5 .4 2 .3 3 .4 3.6 .4-9.8 .3 .3 .4 .1 .3 8.9 .4 1.4 .4-8.1 .3 7.8 .4 .2 .3-.6 .4 1.6 .4-1 .3-9.3 .4 9.8 .3-7 .4-1.5 .4 3.8 .3 5.1 .4-66.7 .3 60.4 .4-.2 .4-.3 .3 1.3 .4 2.8 .3 5.8 .4-11 .4 1.2 .3 2 .4-5.1 .3 .4 .4 1.3 .4 8.4 .3-8.2 .4-.5 .3 .4 .4 4.5 .4 4.3 .3-9.1 .4 7.8 .3-2.7 .4-3.3 .4 3.3 .3 4.7 .4 1.8 .3-2.9 .4-17.2 .4 12.1 .3-1 .4 2 .3-10.9 .4 12 .4 2.7 .3-.2 .4-3.9 .3 6.8 .4-4.1 .4 .9 .3-1.4 .4-.8 .3 .5 .4 3.7 .4 .1 .3-.7 .4 0 .3-.6 .4 2.3 .4-1.9 .3 .4 .4 1.1 .3 1.2 .4-.1 .4-1.4 .3 1.3 .4 .8 .3-.5 .4-.2 .4 .1 .3 .1 .4 .7 .3-1.3 .4 1 .4 .4 .3 .3 .4-.1 .3-.3 .4 .3 .4-1.2 .3 1 .4-.5 .3-.2 .4 .6 .4 .2 .3 .4 .4-.9 .3 .4 .4-.6 .4 1.2 .3-1 .4 .8 .3-.1 .4-.1 .4-.8 .3 .3 .4-.5 .3 .9 .4-.9 .4 .8 .3 .5 .4-.4 .3-.1 .4 0 .4-.5 .3 1 .4-.8 .3 .5 .4 .2 .4-.8 .3 .8 .4-.1 .3-.3 .4 .1 .4-.7 .3 .5 .4 .7 .3-.5 .4-.4 .4-.1 .3 .2 .4-.1 .3-.3 .4 1 .4 0 .3-.1 .4-.1 .3-.5 .4 .4 .4-.6 .3-.2 .4 1.2 .3-.5 .4-.3 .4-1.7 .3 2.2 .4-.3 .3 .7 .4-.2 .4-.6 .3-.6 .4 .8 .3 .2 .4-.6 .4 .8 .3 0 .4-.4 .3 .3 .4-.4 .4 .3 .3-1 .4-.2 .3 .3 .4-.2 .4 .2 .3 0 .4 .1 .3-.4 .4 .3 .4 .9 .3-1 .4-.3 .3 1 .4-.2 .4 .9 .3-1.5 .4 .5 .3 1 .4-1.4 .4 1.2 .3-1 .4 .3 .3 .9 .4-.1 .4-.7 .3 0 .4 0 .3-1.8 .4 2.3 .4-.7 .3 .9 .4-1.1 .3 1 .4-.2 .4-.4 .3 .7 .4 .1 .3-.3 .4-.2 .4 .5 .3-.7 .4 0 .3 .5 .4 .1 .4 0 .3 0 .4-.1 .3 .2 .4-.1 .4 .1 .3-.6 .4-.3 .3 .1 .4-.1 .4 .7 .3 0 .4 .2 .3-.9 .4 .3 .4 .4 .3-.6 .4 .8 .3 0 .4-.2 .4 0 .3 .2 .4 0 .3-.6 .4 .5 .4-.5 .3 .2 .4 .1 .3-.3 .4 .6 .4 0 .3-.4 .4 0 .3-.3 .4 .4 .4-.2 .3-.3 .4 .4 .3 .2 .4 .2 .4-.8 .3 .6 .4 .2 .3-.7 .4 .1 .4-.2 .3-.5 .4 .9 .3-.2 .4 0 .4 .3 .3-.3 .4 .4 .3-.2 .4 0 .4 .4 .3 0 .4-.4 .3-.2 .4 .3 .4 .3 .3-.8 .4 .7 .3 .1 .4-.1 .4 .1 .3-.7 .4 .7 .3 0 .4-.6 .4 .1 .3 .5 .4-.3 .3 .3 .4 0 .4-.7 .3 .1 .4 0 .3 .2 .4-.4 .4 .7 .3 .1 .4 0 .3-.6 .4 .4 .4-.5 .3 .4 .4 0 .3 .1 .4-.1 .4 .1 .3-.1 .4-.3 .3 .1 .4 0 .4 .5 .3-.6 .4 .3 .3 .3 .4-.8 .4 .4 .3-.2 .4 .5 .3-.5 .4 .5 .4-.6 .3 .3 .4 .1 .3 0 .4-.2 .4 .4 .3-.4 .4 .5 .3-.5 .4 0 .4 .1 .3 .3 .4 0 .3 .1 .4-.3 .4 0 .3 0 .4-1 .3 .8 .4 .2 .4 .2 .3-.7 .4-.1 .3 .8 .4-.3 .4-.1 .3-.3 .4 .2 .3 .5 .4-1 .4 .7 .3 .1 .4-.3 .3 .2 .4-.5 .4 .5 .3 .2 .4-.6 .3 .3 .4 .2 .4 0 .3-.1 .4-.6 .3 .8 .4-.7 .4 .2 .3 .1 .4 .6 .3 0 .4-.5 .4 .4 .3 .1 .4-.3 .3-.2 .4 .5 .4-.5 .3 .1 .4 .4 .3-.5 .4 0 .4-.1 .3 .2 .4 .4 .3-.4 .4 0 .4-.4 .3 .8 .4 0 .3-.6 .4 0 .4-.1 .3 .4 .4 .3 .3 0 .4 0 .4 0 .3-.6 .4 .6 .3-.5 .4 .2 .4-.1 .3 .4 .4-.8 .3 .5 .4-.2 .4 .5 .3-.3 .4-.3 .3 .4 .4-.3 .4 .4 .3-.5 .4 .6 .3-.2 .4 .2 .4-.6 .3 .1 .4 0 .3 .5 .4 0 .4-.4 .3 .4 .4-.6 .3 .2 .4 .1 .4-.2 .3 0 .4 0 .3 .5 .4-.6 .4 .3 .3 .2 .4-.1 .3 .1 .4-.3 .4-.3 .3 .1 .4 .3 .3 .1 .4 0 .4-.1 .3 .3 .4-.6 .3 .6 .4-.4 .4 .4 .3 0 .4-.6 .3 .4 .4 .2 .4-.1 .3-.5 .4 .1 .3 .4 .4 .1 .4-.1 .3 .1 .4-.5 .3-.1 .4 .3 .4 .3 .3 0 .4-.5 .3 .3 .4 .2 .4-.2 .3-.3 .4 0 .3 .3 .4 .1 .4 0 .3 .1 .4-.1 .3 .1 .4-.1 .4 .1 .3-.4 .4 .2 .3 .2 .4-.6 .4 .2 .3 .4 .4-.4 .3 .1 .4 0 .4 .3 .3-.6 .4 .3 .3 .3 .4-.4 .4 .2 .3-.2 .4-.1 .3 .1" fill="none" stroke="#000" stroke-width="1.15"/>
<line x1="674" y1="500" x2="692" y2="500" stroke="#333" stroke-width="0.9"/>
<text x="693.5" y="503.5" font-size="10" fill="#333">|J|</text>
<path d="M687.5 484.5v3.4M687.5 558.5v-3.4M720.5 484.5v3.4M720.5 558.5v-3.4M752.5 484.5v8.8M752.5 558.5v-8.8M784.5 484.5v3.4M784.5 558.5v-3.4M817.5 484.5v3.4M817.5 558.5v-3.4M849.5 484.5v8.8M849.5 558.5v-8.8M882.5 484.5v3.4M882.5 558.5v-3.4M914.5 484.5v3.4M914.5 558.5v-3.4M947.5 484.5v8.8M947.5 558.5v-8.8M979.5 484.5v3.4M979.5 558.5v-3.4M1012.5 484.5v3.4M1012.5 558.5v-3.4M1044.5 484.5v8.8M1044.5 558.5v-8.8M1077.5 484.5v3.4M1077.5 558.5v-3.4M1109.5 484.5v3.4M1109.5 558.5v-3.4" stroke="#000" stroke-width="1.0" fill="none"/>
<path d="M668.5 553.5h2.2M1122.5 553.5h-2.2M668.5 549.5h2.2M1122.5 549.5h-2.2M668.5 544.5h2.2M1122.5 544.5h-2.2M668.5 540.5h2.2M1122.5 540.5h-2.2M668.5 535.5h5.6M1122.5 535.5h-5.6M668.5 531.5h2.2M1122.5 531.5h-2.2M668.5 526.5h2.2M1122.5 526.5h-2.2M668.5 522.5h2.2M1122.5 522.5h-2.2M668.5 517.5h2.2M1122.5 517.5h-2.2M668.5 513.5h5.6M1122.5 513.5h-5.6M668.5 508.5h2.2M1122.5 508.5h-2.2M668.5 504.5h2.2M1122.5 504.5h-2.2M668.5 500.5h2.2M1122.5 500.5h-2.2M668.5 495.5h2.2M1122.5 495.5h-2.2M668.5 491.5h5.6M1122.5 491.5h-5.6M668.5 486.5h2.2M1122.5 486.5h-2.2" stroke="#000" stroke-width="1.0" fill="none"/>
<rect x="668.5" y="484.5" width="454" height="74" fill="none" stroke="#000" stroke-width="1.1"/>
<text x="665" y="495.1" font-size="11" text-anchor="end">1.5</text>
<text x="665" y="517.4" font-size="11" text-anchor="end">1.0</text>
<text x="665" y="539.7" font-size="11" text-anchor="end">0.5</text>
<text x="644.5" y="523" font-size="11.5" text-anchor="middle" transform="rotate(-90 644.5 523)">|J| [µA m<tspan font-size="8" dy="-4">-2</tspan><tspan dy="4">]</tspan></text>
<line x1="729.8" y1="560" x2="729.8" y2="632" stroke="#ff00ff" stroke-width="1.3" stroke-dasharray="1.3 3.30"/>
<line x1="941.4" y1="564" x2="941.4" y2="632" stroke="#22aa22" stroke-width="1.2" stroke-dasharray="7 5.4"/>
<line x1="969.5" y1="564" x2="969.5" y2="632" stroke="#22aa22" stroke-width="1.2" stroke-dasharray="7 5.4"/>
<line x1="948.2" y1="564" x2="948.2" y2="632" stroke="#ff2020" stroke-width="1.2" stroke-dasharray="7 5.4"/>
<line x1="962.2" y1="564" x2="962.2" y2="632" stroke="#ff2020" stroke-width="1.2" stroke-dasharray="7 5.4"/>
<line x1="956.3" y1="560" x2="956.3" y2="632" stroke="#ff00ff" stroke-width="1.3" stroke-dasharray="1.3 3.30"/>
<line x1="967.8" y1="560" x2="967.8" y2="632" stroke="#0000ff" stroke-width="1.3" stroke-dasharray="1.4 3.5"/>
<path d="M669 596.7l.4-3.9 .4-.3 .4-.3 .4 7 .4-4.1 .4 2 .4-4.3 .4 3.9 .4-4.7 .4 .9 .4-.3 .4 8.5 .4-7.6 .4-1.7 .4 2.7 .4 2.4 .4-7.1 .4 3.2 .4 4.1 .4-15.8 .4 10.5 .4-6.7 .4 5.7 .4-2.6 .4 5.5 .4 2.8 .4-2.4 .4 .4 .4 7.9 .4-4.7 .4-2 .4-.5 .4-3.8 .4 2.6 .4 2.1 .4-1.3 .4 1.8 .4-5.7 .4 17.8 .4-14.1 .4-2.1 .4 3 .4 3.3 .4-11.7 .4 4.7 .4 3.5 .4-10.4 .4 5.9 .4-2.9 .4 4.2 .4-1.7 .4 21.2 .4-16.4 .4-2.1 .4 5.1 .4-.7 .4-7.1 .4 9.6 .4 .1 .4-8 .4 6.2 .4-2.4 .4 2.1 .4-7.2 .4 5.8 .4-6.8 .4 1.9 .4 3.4 .4 1.6 .4-3.3 .4 7.1 .4-7.9 .4 1.5 .4 5.1 .4-5.7 .4 7 .4-2.7 .4-2.1 .4-.5 .4 1.6 .4 .3 .4-.5 .4 6.5 .4-4.7 .4-8.2 .4 8.3 .4-4.8 .4 3.7 .4-3.2 .4-2.5 .4 1.4 .4 2.7 .4 4.8 .4 0 .4-3.7 .4-2.4 .4 4.4 .4-10.9 .4 5.8 .4-5.2 .4-1.3 .4 5.5 .4 8.6 .4 5.9 .4-10.6 .4-.7 .4 .7 .4-2 .4 8.6 .4-7.9 .4-1.6 .4-3.5 .4 3.4 .4 9.6 .4-9.3 .4-.8 .4 1.7 .4 4.8 .4-1.7 .4 5 .4-5.7 .4-4.4 .4 4.5 .4-2.1 .4-4.2 .4 4.1 .4-1.2 .4 0 .4-3.8 .4 15.1 .4-7.1 .4 7.3 .4-10.4 .4-2.1 .4 7.1 .4-6.1 .4 1.4 .4-3.3 .4 6.7 .4-3.4 .4-.6 .4-4.9 .4 7.8 .4 4 .4-4.6 .4-2.8 .4-5.4 .4 3.7 .4 3 .4-2.1 .4 0 .4 7.6 .4 1 .4-7.3 .4-1.4 .4 5.1 .4-2.9 .4-.6 .4 4.9 .4 .1 .4-8.5 .4 5.6 .4-3.7 .4-.2 .4 6.7 .4-3.7 .4-6.6 .4 7.7 .4-5.2 .4 10.8 .4 1.3 .4-1.5 .4-2 .4-7.8 .4 5.2 .4-6.9 .4 4.8 .4-2.4 .4 1.4 .4 .6 .4-8.7 .4 5.2 .4-2.2 .4 13.3 .4-3.2 .4-.7 .4-5.8 .4 .5 .4 6.3 .4-4.6 .4 2.7 .4-1.5 .4 0 .4 8.3 .4-7 .4-7.1 .4 6.7 .4 3.9 .4-5.2 .4 1 .4 6.9 .4-8.6 .4-2.1 .4-1.9 .4-16 .4 26.3 .4-15 .4 14.7 .4-4.8 .4-4.3 .4-.8 .4 0 .4 9.3 .4 6.4 .4-14.4 .4-.5 .4 5.9 .4 3.7 .4-8.2 .4 6.2 .4-3.2 .4 .2 .4 2.9 .4-2.8 .4 4 .4-.9 .4-2.7 .4-7.5 .4 3 .4 3.7 .4-2.5 .4 2.9 .4-4.3 .4 2.6 .4-8.6 .4 4.5 .4 8 .4-8.2 .4 8.3 .4-.2 .4-7.3 .4 5.7 .4 3.9 .4-6.1 .4 4.2 .4-1.5 .4-6.9 .4 5.7 .4-3.2 .4 1.4 .4-1.9 .4-3.8 .4 5.4 .4 4.2 .4 4.4 .4-6.6 .4 5.6 .4-4.8 .4 5.1 .4-1.5 .4-4.3 .4 .3 .4-5.4 .4 5.7 .4-5 .4-3.8 .4 8.3 .4-3.5 .4-3.7 .4 4.2 .4 .1 .4-3 .4 .5 .4-.4 .4 2.7 .4-3.1 .4 8.1 .4 .5 .4-5.2 .4 6.6 .4-9.3 .4 6 .4 5.4 .4-7.7 .4-1.2 .4 2.6 .4-1.3 .4 2.7 .4-3 .4 3.2 .4-.8 .4 3.7 .4-8 .4 3.6 .4-1.1 .4 2.6 .4-4.3 .4 2.1 .4-9.3 .4 1.5 .4 5.5 .4-3.4 .4 2 .4 2.8 .4 3.4 .4 .8 .4 .7 .4-5.2 .4-.3 .4 8.7 .4-5.3 .4-4.3 .4 1.7 .4-.9 .4 .4 .4-5.7 .4 5.5 .4 1.1 .4 1.5 .4-3.4 .4 2.8 .4-.1 .4-.7 .4-2.9 .4-.1 .4-2.7 .4 6.8 .4-.8 .4-4.4 .4 4.4 .4-2.8 .4 1.7 .4 .7 .4-2.7 .4 .7 .4 2.5 .4-2.9 .4 1.5 .4-.6 .4 1.3 .4-10.2 .4 10.4 .4 2.8 .4-2.1 .4-.7 .4-4.9 .4-.7 .4 2.7 .4 2.2 .4 1.4 .4-2.5 .4-1 .4 .8 .4 4.1 .4-5 .4-1.4 .4 5.8 .4-3.9 .4-1.7 .4 .5 .4 3.3 .4-2.3 .4 2.6 .4-2.5 .4-.5 .4 .1 .4 .7 .4 1.5 .4-.7 .4-2.5 .4 5.5 .4-3.1 .4 2.8 .4-3.4 .4 1.7 .4 .1 .4 2.9 .4-7 .4 2.8 .4-2.6 .4 4.5 .4-1 .4 .2 .4-2.3 .4 .7 .4-2 .4 .1 .4-.5 .4 6.7 .4-5.5 .4 4.1 .4-4.6 .4-.9 .4 8 .4-4.1 .4-.6 .4 3 .4-1.2 .4 2.3 .4-6.4 .4 1.9 .4 .9 .4-2.5 .4 2 .4 3.2 .4-5.2 .4 3.4 .4 .2 .4-3 .4 5 .4 .6 .4-2 .4 1.5 .4-5.2 .4 2.3 .4-.5 .4-.7 .4-.1 .4 2.5 .4-5.9 .4 7.2 .4-.4 .4-.8 .4-2.3 .4-.6 .4 3.4 .4-2.3 .4 1.9 .4-2.9 .4 2.5 .4 .5 .4-.7 .4 2.1 .4-.9 .4 .5 .4-2.3 .4-.6 .4-1.3 .4 1.4 .4 .1 .4-4.5 .4 3.1 .4 3.3 .4-2.4 .4-.2 .4 .1 .4 1.6 .4-1.6 .4 0 .4-1.3 .4 1.4 .4 2.8 .4-1.9 .4-2.2 .4-2.4 .4-.1 .4 6.2 .4-2.4 .4-3 .4 5.5 .4 1.5 .4-4.4 .4 1.5 .4 3 .4-6.8 .4 6.1 .4-2.7 .4-2.4 .4 2.5 .4 .1 .4-2.7 .4 1.7 .4 .4 .4 .5 .4 .4 .4 .1 .4-2.7 .4 1.6 .4 1.5 .4-5.6 .4 4 .4-2 .4 3.7 .4-3.1 .4 2.4 .4-3.7 .4-.4 .4 6.1 .4-7.9 .4 6.4 .4-4.6 .4 6.2 .4-1.8 .4-.3 .4 2.1 .4-.9 .4 2.9 .4-1.3 .4-4.7 .4-.4 .4 .4 .4 3 .4 .5 .4-.3 .4-2.4 .4-3.6 .4 4.7 .4-2.3 .4 2 .4-.9 .4 2.3 .4-6.4 .4 .6 .4 4.2 .4-2.4 .4-3.1 .4 7.5 .4-.2 .4-3.3 .4 .3 .4 1.4 .4-2.8 .4 .2 .4-2.1 .4 3 .4-4.4 .4 2.7 .4 3.4 .4-2.6 .4 1.4 .4 1.4 .4-1 .4 1.7 .4-1.1 .4-3.8 .4 4.2 .4-2.3 .4 1 .4-2.1 .4-.3 .4 .8 .4 1.6 .4-3.3 .4 6.1 .4-5.7 .4 3.4 .4 2 .4-1.9 .4-1 .4-.9 .4 2.6 .4-1.9 .4 1.4 .4-3.2 .4 2.9 .4 4.1 .4-2.8 .4-3.4 .4 4.3 .4-5.1 .4 3.3 .4-2.4 .4 4 .4-5.1 .4 1.9 .4 1.7 .4-.3 .4 3.1 .4-1.6 .4-1.9 .4 .5 .4 1.9 .4 1.3 .4 .1 .4-3.3 .4 2.8 .4-2.6 .4-2.8 .4 2.6 .4-.7 .4 .6 .4 1.8 .4-.1 .4-.1 .4-.1 .4 .8 .4-2.1 .4-1.9 .4 1.4 .4 1.1 .4 2.5 .4-3.4 .4 1.2 .4-1.6 .4 .5 .4 1.6 .4-4.6 .4 3.5 .4 1.7 .4-4.4 .4 4.1 .4-3.9 .4-1 .4 5.4 .4-.5 .4-.9 .4 3.1 .4 .6 .4-7.5 .4 .9 .4 2 .4-.4 .4-2.3 .4 1.7 .4-1.2 .4 7.4 .4-6 .4 .7 .4 7.9 .4-2.3 .4-4.5 .4-4.4 .4-1.2 .4-2.7 .4-7 .4-7.5 .4 19.4 .4-6.2 .4 26.2 .4-40.8 .4 10.5 .4 6.8 .4 13.6 .4 12.1 .4-33.3 .4 47.3 .4-65.2 .4 26.1 .4-9.9 .4-8.1 .4 28.8 .4 3.5 .4 2.7 .4-5 .4-11.4 .4 4.7 .4-4.4 .4 .2 .4-4.8 .4 3.3 .4-2.1 .4 6.1 .4-7.9 .4 5.7 .4 2.9 .4 .6 .4 .4 .4 6.7 .4-2.9 .4 8.7 .4-12.1 .4-3.1 .4-3.3 .4 3.6 .4 9.4 .4-7.1 .4 2.6 .4-4.6 .4 1.5 .4 3.3 .4-5.2 .4 3.4 .4-3.3 .4 19.6 .4-18.8 .4 4.4 .4-1.5 .4-1.8 .4-1.3 .4-8 .4 11.4 .4-1.5 .4-3 .4 4.1 .4 4 .4-4.4 .4-10.4 .4 11.6 .4-.7 .4-7 .4 4.5 .4 5.3 .4-5.6 .4 8.3 .4-.8 .4-5 .4-2.5 .4-3.8 .4 12.1 .4 2.6 .4-8.7 .4 5.5 .4-3.3 .4-7 .4 6.8 .4 2.1 .4-.7 .4-5.4 .4-2.3 .4 2.5 .4 2.4 .4-1.4 .4-.9 .4 4.2 .4 .2 .4-3.8 .4 5.9 .4-35.1 .4 29.4 .4 10.5 .4-9.7 .4 8.1 .4 .9 .4-.2 .4-1.1 .4-10.2 .4 7.3 .4-4.3 .4-.3 .4-6.6 .4 12.8 .4-6 .4 6.4 .4 .3 .4 .4 .4-10.3 .4 1.1 .4 7.3 .4-2.2 .4-.7 .4 .6 .4-5.3 .4 6 .4-1.3 .4-.3 .4-3.2 .4 1.7 .4-.3 .4-.4 .4-.5 .4-1.4 .4 3 .4-.4 .4-1.1 .4-.1 .4 .5 .4-.6 .4 1.1 .4 .5 .4-1.8 .4 .3 .4 .2 .4 1.1 .4-1.7 .4 1 .4-.4 .4-.2 .4-.7 .4 .5 .4 .2 .4 .1 .4-.9 .4 .5 .4-.4 .4 .4 .4-.3 .4 .5 .4 .9 .4-.2 .4-.6 .4 .6 .4-.6 .4 .2 .4 0 .4 0 .4-.5 .4 1.1 .4-.7 .4 .5 .4-1.6 .4 .9 .4 .1 .4 .3 .4-.7 .4 .6 .4-.1 .4 .6 .4-.5 .4-.4 .4 0 .4-.1 .4-.3 .4 1.5 .4-.6 .4-.2 .4 0 .4 1.3 .4-1.8 .4 .4 .4 .2 .4-.1 .4-.3 .4 1 .4-.4 .4-.8 .4 .6 .4-.8 .4 0 .4 .8 .4-.6 .4 .5 .4-.1 .4-.5 .4-.7 .4 1.7 .4-.5 .4 .5 .4-.4 .4 .1 .4-.1 .4 .3 .4-.5 .4-.6 .4 .5 .4 .4 .4 0 .4-.4 .4 .8 .4 .1 .4-.9 .4 0 .4-.1 .4 .4 .4-.5 .4 .3 .4 .2 .4 .4 .4-.6 .4 .3 .4-.3 .4 0 .4-.1 .4 .7 .4-.5 .4 .2 .4-.4 .4 0 .4 .8 .4-.4 .4 .7 .4-.9 .4-.2 .4 .2 .4 0 .4 .7 .4-1.3 .4 .2 .4 1.5 .4-1.5 .4 .7 .4 .7 .4-.7 .4 .3 .4-.3 .4-.3 .4 0 .4-.2 .4 .2 .4-.9 .4 .9 .4 .4 .4-.7 .4 .7 .4-.7 .4-.2 .4 .5 .4-.1 .4-.1 .4 .7 .4-.7 .4-.2 .4 .3 .4-.1 .4-.1 .4-.3 .4 .8 .4-.4 .4 1 .4-.7 .4 .6 .4-.6 .4 .8 .4-.8 .4-.2 .4 .4 .4 0 .4 .1 .4-.4 .4-.3 .4 .2 .4 .1 .4-.3 .4 .2 .4-.2 .4 .5 .4-.6 .4 .5 .4-.9 .4 .8 .4 0 .4-.4 .4 .6 .4-.6 .4 1.4 .4-.9 .4-.1 .4-.2 .4 0 .4 0 .4 .3 .4 .3 .4 .3 .4-.1 .4 0 .4-1.1 .4 .3 .4 .3 .4 .2 .4-.6 .4 .5 .4 .4 .4-.1 .4-1 .4 .6 .4-.7 .4-.1 .4 .5 .4 .5 .4-.5 .4 .1 .4-.2 .4 0 .4 .2 .4-.2 .4 .9 .4-.1 .4-1.1 .4-.1 .4 .7 .4 .1 .4-.2 .4-.1 .4 1 .4-.9 .4 .3 .4-.3 .4 .1 .4 .2 .4-.3 .4-.3 .4 .2 .4 0 .4-.2 .4 .2 .4-.1 .4 1 .4-.6 .4-.5 .4 .2 .4 .5 .4-.5 .4 .1 .4-.2 .4-.2 .4 .1 .4 .2 .4 .6 .4-.8 .4 0 .4 .3 .4-.2 .4 .1 .4 .1 .4 .3 .4 0 .4 .2 .4-.9 .4 .4 .4-.1 .4-.4 .4 .9 .4-.2 .4 .1 .4 .1 .4-.9 .4 .5 .4 .4 .4-.2 .4 .2 .4-.1 .4-.3 .4 1.4 .4-1.2 .4 .2 .4-.5 .4 .4 .4-.3 .4 .4 .4-.2 .4 .2 .4 .4 .4-.1 .4-.7 .4-.3 .4 .6 .4-.2 .4-.2 .4 .4 .4-.1 .4 .6 .4-.6 .4 0 .4-.5 .4 .4 .4-.1 .4 .4 .4-.5 .4 .5 .4-.4 .4 0 .4-.1 .4-.1 .4 .3 .4-.2 .4-.1 .4 .1 .4-.2 .4 0 .4 .6 .4-.5 .4 .5 .4-.2 .4 .6 .4-.8 .4 .2 .4-.3 .4 .8 .4-.1 .4-.4 .4-.6 .4 .7 .4 0 .4 .1 .4 0 .4-.2 .4 .7 .4-.9 .4-.2 .4 .4 .4 .7 .4-.7 .4 .1 .4 .3 .4-.7 .4-.1 .4 .7 .4-.5 .4 .8 .4-.7 .4-.2 .4 0 .4 .7 .4-.6 .4 .7 .4-.3 .4 .1 .4-.3 .4 0 .4 .1 .4 0 .4 0 .4 0 .4-.1 .4 .2 .4-.2 .4 .1 .4-.2 .4-.1 .4 .3 .4-.3 .4 .1 .4-.1 .4 .1 .4 .6 .4-.6 .4 .4 .4-.1 .4-.1 .4-.2 .4 .2 .4-.2 .4 .5 .4-.4 .4 .2 .4 0 .4-.2 .4 .2 .4 .1 .4-.5 .4 .6 .4 .1 .4-.1 .4 0 .4-.2 .4-.2 .4 .5 .4-.4 .4 0 .4 .2 .4 .1 .4 .1 .4-.5 .4 .3" fill="none" stroke="#0000ff" stroke-width="1.0"/>
<path d="M669 596.7l.4-7.1 .4 6.6 .4 2.6 .4-.2 .4-8 .4 1.4 .4 3.2 .4 1.1 .4 .3 .4-3.7 .4 1.1 .4 3.7 .4-6.5 .4 3.1 .4-3.3 .4 3.5 .4-8.2 .4 5.5 .4-1.6 .4 2.9 .4 2.5 .4 3.2 .4-9.4 .4 14.7 .4-17.3 .4 7.3 .4-7.5 .4 8.9 .4 6.2 .4-5.1 .4 7.2 .4-6.3 .4-6.9 .4-.4 .4 5.1 .4-3 .4 2.7 .4 6.6 .4-13.9 .4 8.9 .4-2.7 .4-3 .4 2.2 .4-5.6 .4 1.9 .4 3.3 .4-.6 .4 5.6 .4-6.7 .4 7.5 .4-1.6 .4 .5 .4-2.6 .4-3.4 .4 2.4 .4 6.7 .4-11.7 .4 14.8 .4-16.2 .4 2.3 .4-2.7 .4-4.8 .4 18.4 .4-4.2 .4-7.1 .4 7.4 .4 4.9 .4-13.6 .4 5.5 .4-3.3 .4-7.6 .4 13.9 .4 2.4 .4-10.3 .4 .2 .4 9.2 .4-9.1 .4 4.9 .4-5.7 .4 9.8 .4-10.9 .4 8.6 .4-1.1 .4 3.1 .4-12 .4 4.9 .4 0 .4 2.1 .4-2.4 .4 2.9 .4-2.3 .4-2.2 .4-.5 .4 4.7 .4 .3 .4 .2 .4 2.4 .4-1.8 .4-.2 .4-3.8 .4-.5 .4 5.2 .4-1.9 .4 1.6 .4-2.6 .4 .3 .4 .8 .4 3.7 .4-6.7 .4-5.9 .4 13.9 .4-3.4 .4-9.7 .4 21.6 .4-14.7 .4-1.2 .4-1.1 .4 13.5 .4-7.7 .4-4.5 .4 6.3 .4-.1 .4 .2 .4-8.9 .4 1 .4-.6 .4 12.3 .4-11.2 .4 7 .4-7.6 .4-1 .4 3.4 .4-1.7 .4 .8 .4-5.3 .4 8 .4 3.7 .4 0 .4-3.4 .4 .1 .4-1.3 .4 5.8 .4-1.2 .4-6.4 .4-2.7 .4 7.6 .4-8.8 .4 .7 .4 7.4 .4-3.1 .4-31.1 .4 33.3 .4-10.6 .4 6.1 .4-2.4 .4 3.9 .4-.8 .4-.7 .4 8.1 .4-5 .4-1.4 .4-7.1 .4 6.2 .4 7.3 .4-3.8 .4-2.7 .4 1.7 .4-.7 .4-10.8 .4 16.3 .4-1.9 .4-1.3 .4 1.5 .4-3.8 .4 2.2 .4 1.9 .4-3.6 .4 3.5 .4-1 .4-3.5 .4-9.7 .4 13.6 .4 0 .4 .3 .4-2.5 .4 3.5 .4-.2 .4-2.5 .4-2.7 .4-2.6 .4 4 .4 4.9 .4-2.9 .4-5.6 .4 5.4 .4 2.3 .4-2.5 .4 6.7 .4-5.3 .4-7.2 .4 7.5 .4 .3 .4-5.9 .4 .5 .4-4.9 .4 3.4 .4-.9 .4 19.1 .4-12.7 .4 19.9 .4-24.2 .4 2.8 .4-1.5 .4 1.8 .4-.8 .4 1 .4-6.2 .4 12.7 .4-7.4 .4-2.4 .4-.2 .4 5.4 .4-5 .4-2.4 .4 4.5 .4 2.4 .4-5.4 .4 3.5 .4 7.3 .4-16.2 .4 6.8 .4-.3 .4-2.1 .4-2.3 .4 1 .4 10.7 .4-5.4 .4-.6 .4 5.9 .4-3.8 .4-3.5 .4 2.9 .4-1.6 .4-4.3 .4 5 .4-2.2 .4-8.4 .4 7.2 .4 5.4 .4-.3 .4 5.3 .4-14.8 .4 10.2 .4 .1 .4 7.3 .4-7.4 .4 0 .4-5.1 .4-.1 .4 10.6 .4-7.4 .4-1.2 .4 2.1 .4 0 .4 2.5 .4-.6 .4-4.3 .4-.4 .4 1.6 .4 2.8 .4 .3 .4 6.3 .4-11.4 .4-.5 .4 5.3 .4-1.7 .4-10.7 .4 7.9 .4 1.8 .4-6.3 .4 10.1 .4 3.3 .4-7 .4 6.9 .4-9.4 .4-8.3 .4 6.3 .4-4.7 .4 .1 .4 7.7 .4-.6 .4 4.9 .4-2.8 .4-3.7 .4 1.2 .4 7.1 .4-9 .4 5.4 .4-1.1 .4-4.2 .4 4.3 .4 2 .4-7.3 .4 8.6 .4-3.8 .4-11.8 .4 8 .4 6.8 .4-4.2 .4 5.9 .4-5.8 .4 .6 .4 1.2 .4-2.2 .4-1.4 .4-5.8 .4 10.5 .4 4.1 .4-11.2 .4 4.8 .4 .1 .4-2.9 .4 6.4 .4-5.2 .4 4 .4 5.1 .4-5.7 .4 4.5 .4-7.6 .4-2.5 .4 4.1 .4 2.6 .4 4.5 .4-4.9 .4 .8 .4-1.6 .4-.9 .4 .6 .4 7.4 .4-6.2 .4-2 .4 2.1 .4-2.2 .4-2.1 .4-2 .4 4.2 .4 6.1 .4-4.5 .4-5.4 .4 7.2 .4 .1 .4 1.9 .4-4.1 .4 1 .4 5.8 .4-8.8 .4-.6 .4 3.8 .4-.8 .4 3.9 .4-6.6 .4 2.3 .4 2.9 .4-3.3 .4-3.7 .4 4 .4-.6 .4-.9 .4 1.3 .4 .4 .4-1.7 .4 .5 .4-.4 .4-4.1 .4 2.8 .4 5.4 .4-4.6 .4 .8 .4 5.5 .4-6.4 .4 1.3 .4-1.4 .4-.9 .4 2.9 .4 5.4 .4-3.3 .4-3.1 .4 2.1 .4-1.2 .4-.4 .4-4 .4 4.8 .4-1.8 .4 1.9 .4-2.3 .4 3.4 .4 3.2 .4-2.6 .4-2.5 .4-4.3 .4 .1 .4 2.5 .4 1.5 .4 .6 .4 .9 .4-3.2 .4 3.8 .4 .8 .4-4.7 .4 4.4 .4 0 .4 11.6 .4-12.4 .4-1.2 .4 2.4 .4 1.2 .4-7.1 .4 1.6 .4 .6 .4 2.3 .4 .5 .4-1.2 .4-1.3 .4-3.3 .4 3.2 .4 .6 .4 1.2 .4 .7 .4-1.8 .4 1.3 .4-1.2 .4 2.6 .4-8.8 .4 6.5 .4-3.8 .4-1.1 .4 2.7 .4 1.3 .4-1 .4 2.3 .4-4.5 .4 2.3 .4 2.8 .4-2.5 .4 2.2 .4-3.9 .4 4.7 .4-6.3 .4 3.7 .4 2.1 .4-3.6 .4 6.4 .4-5.4 .4 1.2 .4 1.7 .4-.9 .4-2.4 .4 3.2 .4-3.5 .4 3.4 .4-3.2 .4 2.3 .4-1.1 .4 .2 .4 .3 .4 1.8 .4-6.5 .4 2.9 .4 2.4 .4 1.5 .4-3.7 .4-.7 .4 .6 .4 0 .4 1.6 .4 2.8 .4 .2 .4-3.6 .4 .4 .4 .1 .4-2.1 .4 2.2 .4 1.8 .4-2 .4-1.8 .4 3 .4-1.3 .4 1.2 .4-.7 .4-.1 .4-2.6 .4 3.6 .4-1 .4-1 .4 2 .4-3.5 .4 3 .4-3.8 .4 1.6 .4 1.9 .4 .2 .4-.1 .4 .6 .4 1.2 .4-4.3 .4-.8 .4 1.1 .4 2 .4-.9 .4-.9 .4 4 .4-1 .4-1.8 .4 1.8 .4-2 .4 2.5 .4 3 .4-6.6 .4 2.3 .4 .5 .4-3.2 .4 3.2 .4-1.9 .4 2.9 .4 0 .4-.4 .4-2.1 .4 4.9 .4-5.3 .4-.1 .4-.4 .4 3.8 .4 0 .4 2.2 .4-2.3 .4-.5 .4 2.1 .4-2.1 .4 1.8 .4 .8 .4-1.6 .4-2.8 .4 .7 .4 2.8 .4-2.3 .4-.8 .4 2.2 .4-1.2 .4 4 .4-5.8 .4 4.6 .4-1.1 .4 0 .4 .7 .4-2 .4-.9 .4 3.7 .4-1.7 .4-.6 .4-.9 .4 2.7 .4-5.2 .4 4.5 .4-.7 .4-3.1 .4 4.3 .4-4.2 .4 1.4 .4-1.9 .4 2.6 .4 .9 .4-3.2 .4 3.9 .4-1.8 .4 .2 .4 .1 .4-.1 .4 1 .4-1.7 .4-.1 .4-.6 .4 2.2 .4-.7 .4-3.8 .4 2.6 .4 5 .4-2.4 .4-1 .4 0 .4-2.2 .4 .1 .4 .5 .4-3.3 .4 6.4 .4 .2 .4-2.1 .4 .9 .4 1 .4-1.3 .4-.3 .4 .3 .4-2.6 .4 3.7 .4-.6 .4-2.9 .4 .2 .4 1.2 .4-5.5 .4 5.2 .4-.9 .4 4.8 .4-3.8 .4 1.2 .4-5.9 .4 5.3 .4-3 .4-1.4 .4 2.4 .4 1.7 .4 .4 .4-3.2 .4 5.7 .4 4.2 .4-8.9 .4 1.4 .4 2.4 .4 3.2 .4-4.7 .4 4.8 .4-13 .4 5.4 .4 1.6 .4 1.3 .4-.5 .4-3.8 .4 7 .4-3.3 .4-4 .4-1.5 .4 .4 .4 4.4 .4-1.7 .4 6.1 .4-3.6 .4-8.2 .4 6.6 .4 5.6 .4-.8 .4-4.5 .4 4 .4-1.3 .4 .8 .4-3.1 .4-2.3 .4 5.4 .4-1.3 .4-1.4 .4 2 .4-5.9 .4-.1 .4-.7 .4 2.7 .4 3 .4-4.2 .4 9.7 .4-4.3 .4-2 .4-1.2 .4-.2 .4 2.2 .4 3.9 .4 2.9 .4-12.4 .4 6.2 .4 1 .4 .1 .4-4.5 .4-2.4 .4 6.7 .4-.5 .4-1 .4-2.9 .4 4.8 .4-2.8 .4 3.7 .4 .9 .4-3.3 .4-1.7 .4 3.6 .4-5.4 .4 7.2 .4-3.9 .4-3.2 .4 2 .4-.7 .4-.2 .4 1.9 .4 1.2 .4-2.3 .4 3.4 .4-3.3 .4 3 .4 2.2 .4-2.9 .4-4.7 .4-.7 .4 7.2 .4-7.4 .4 5.6 .4-.8 .4 .5 .4-4.4 .4 3.7 .4-2.9 .4 2.5 .4 2.4 .4-5 .4-.5 .4 1 .4 1.5 .4 3.9 .4 1.6 .4-6.6 .4 1.5 .4 2.8 .4-1.7 .4-1.4 .4 .6 .4 3.5 .4-4.7 .4 1.7 .4-2.2 .4 2.5 .4 1 .4-.5 .4-3.6 .4 .8 .4-.2 .4 2.7 .4-3.3 .4 1.9 .4 .2 .4 1.3 .4-1.7 .4-.8 .4 .5 .4 1.3 .4-.7 .4 1.2 .4-.6 .4-.8 .4-.3 .4 .3 .4-.4 .4 .5 .4 .8 .4-.6 .4 .3 .4 .2 .4-.7 .4 .1 .4-.2 .4 .7 .4-.1 .4-.2 .4-1 .4 .5 .4-.1 .4 .1 .4 .5 .4-1 .4 .2 .4 1.5 .4 0 .4-.8 .4-.1 .4-.1 .4 .3 .4-.2 .4-.1 .4 .1 .4 .6 .4-.3 .4 .4 .4-.9 .4 .3 .4-.2 .4 .5 .4-.5 .4-.4 .4 .1 .4 .3 .4 .4 .4-.1 .4 0 .4-.4 .4 .3 .4 0 .4 .2 .4-.5 .4 .6 .4-.4 .4 .2 .4 .1 .4-.4 .4 .5 .4 .1 .4-.1 .4-.1 .4 0 .4-.2 .4 .2 .4 0 .4-.2 .4 .2 .4-.7 .4 .8 .4 0 .4-.1 .4 .4 .4-.2 .4-.1 .4-.4 .4-.2 .4 0 .4-.4 .4 .8 .4-.8 .4 .4 .4-.1 .4 1 .4-.8 .4 .1 .4-.7 .4 .5 .4-.2 .4 .3 .4-.1 .4 .7 .4-.2 .4 .2 .4-.2 .4 .3 .4-.7 .4 .5 .4-.3 .4 .7 .4-1.2 .4 .6 .4-.2 .4 .9 .4-.8 .4-.1 .4 .2 .4 0 .4-.5 .4 1 .4-.6 .4 .4 .4-.9 .4 .8 .4 .2 .4-.8 .4 .5 .4-.1 .4-.3 .4 0 .4 .3 .4 .6 .4-.8 .4-.1 .4 .1 .4 .2 .4 0 .4-.1 .4 .3 .4-.1 .4-.4 .4 .8 .4-1 .4 .2 .4 .3 .4-.5 .4 .5 .4-.6 .4 .4 .4-.6 .4 .9 .4-.1 .4 .2 .4-.7 .4 .2 .4 .1 .4 .1 .4 .1 .4-.2 .4-.4 .4-.1 .4-.1 .4 .7 .4 .8 .4-.5 .4-.5 .4 0 .4 .3 .4-.6 .4-.1 .4 .8 .4-1 .4 .8 .4-.6 .4 1.1 .4-.6 .4-.1 .4 .1 .4 .3 .4-.1 .4-.4 .4-.3 .4 .6 .4-.2 .4 .4 .4 .1 .4 0 .4 .2 .4-1 .4 .1 .4 .4 .4 0 .4-.3 .4 .7 .4 0 .4-.5 .4 .1 .4 .3 .4-.5 .4-.1 .4-.4 .4 .2 .4 .6 .4-.5 .4 0 .4-.1 .4 .1 .4 .1 .4 .8 .4-.8 .4 0 .4 .7 .4-.1 .4-.2 .4-.4 .4 .1 .4 .9 .4-.8 .4 .3 .4-.4 .4-.3 .4 .6 .4-.4 .4-.6 .4 .5 .4 .8 .4-.3 .4 .2 .4-.9 .4 .3 .4 .3 .4-.5 .4 .3 .4 .3 .4-.3 .4 0 .4 .3 .4-.1 .4 .5 .4-.6 .4-.4 .4 .5 .4 .5 .4-.8 .4 .6 .4-.3 .4 .2 .4-.1 .4-.7 .4 .6 .4 0 .4-.4 .4 .1 .4 .2 .4 .6 .4-.4 .4-.3 .4 .1 .4-.3 .4 1 .4-.6 .4 0 .4 .1 .4 .1 .4 .1 .4 0 .4 .5 .4-.5 .4-.4 .4 .5 .4-.2 .4-.3 .4-.1 .4 .7 .4-.1 .4-.5 .4-.1 .4 .1 .4 .2 .4 0 .4-.5 .4 .6 .4 .4 .4-.4 .4 .5 .4-.7 .4-.4 .4 .6 .4-.4 .4 0 .4 .1 .4 .1 .4 .1 .4 .5 .4-.5 .4-.1 .4 .3 .4-.6 .4 .2 .4 0 .4 .3 .4-.7 .4 .3 .4 .5 .4-.4 .4 .5 .4-.4 .4 .3 .4-.4 .4 .1 .4-.2 .4 .3 .4-.4 .4 .2 .4 .1 .4 .2 .4-.8 .4 .7 .4 .2 .4 .1 .4-.3 .4 0 .4-.5 .4 .9 .4-.8 .4 .9 .4-.6 .4-.2 .4 .1 .4-.1 .4 0 .4 .5 .4 0 .4-.6 .4 .6 .4 0 .4-.3 .4 .3 .4-.3 .4 .1 .4-.2 .4 .2 .4-.2 .4 .2 .4-.1 .4 .3 .4 .1 .4-.1 .4 .2 .4-.6 .4 .6 .4-.2 .4 .1 .4-.4 .4 .2 .4 .3 .4-.7 .4-.1 .4 .3 .4 0 .4 .1 .4-.2 .4 .5 .4-.1 .4-.3 .4-.2 .4 0 .4 .5 .4-.4 .4 .1 .4 .4 .4-.1 .4-.2 .4-.2 .4-.3 .4 .3 .4-.4 .4 .4 .4 .4 .4-.4 .4 .3 .4-.5 .4 .7 .4-.4 .4-.1 .4 .3 .4-.3 .4 .4 .4-.6 .4 .7 .4-.3 .4 .1 .4-.1 .4-.3 .4 .4 .4-.1" fill="none" stroke="#00ff00" stroke-width="1.1"/>
<path d="M669 605.7l.4-9.7 .4 4 .4 2.7 .4-11.3 .4 .7 .4 5.1 .4-4 .4 1.1 .4 3 .4-5.4 .4 2.5 .4-1.4 .4 1.6 .4 6.9 .4-3.7 .4-7.6 .4 4.4 .4-3.3 .4 7.6 .4-2.6 .4-.6 .4 1.1 .4 8.2 .4-12.1 .4-10.5 .4 23.6 .4-7.7 .4 1.6 .4-8.3 .4 7.2 .4 10.8 .4-18.5 .4 13.7 .4 20.1 .4-27.5 .4 .7 .4-3.5 .4 .7 .4-3.9 .4 1.9 .4 3.4 .4 2.6 .4 .8 .4-3.3 .4-1.5 .4 4.3 .4-5 .4 4.6 .4-4.1 .4 2.3 .4-3.4 .4 5.4 .4-.1 .4-3.6 .4 1.5 .4-1 .4-4.9 .4 6.4 .4-4.9 .4-3.4 .4 7.5 .4-8.9 .4 3.6 .4 9.6 .4-9.8 .4 5.6 .4 5.3 .4-5.1 .4-7 .4 15.3 .4-8.6 .4-1.8 .4-2.9 .4 5.4 .4-1 .4 .3 .4 4.3 .4-.1 .4-8.4 .4 8.4 .4-2.4 .4 3 .4-3.1 .4-8 .4 13.1 .4-3.6 .4-.3 .4-7.9 .4 5.5 .4 .9 .4-3.6 .4 2.5 .4 1.2 .4-4.8 .4 2.9 .4 2.8 .4-4.3 .4 3.5 .4-2.1 .4-7.4 .4 7.3 .4 3.1 .4-2.3 .4-2.5 .4 3.6 .4 1.4 .4 5.7 .4-9.9 .4-6.2 .4 12.8 .4-7.8 .4-2.3 .4 4.2 .4 .8 .4-3.5 .4 11.8 .4-7.2 .4-6.8 .4 6.7 .4-2.7 .4-2.9 .4 3.6 .4-3.6 .4-.2 .4 10.7 .4-9.1 .4 4.9 .4 1.1 .4-4.1 .4 .1 .4 .9 .4-4 .4 10.9 .4-6.7 .4-2.9 .4 8.3 .4-3.2 .4-5.7 .4 7.8 .4 4.1 .4-1.4 .4-13.5 .4 8.7 .4-6.8 .4 6.2 .4-5.6 .4 8.7 .4-3.7 .4-5.2 .4 20 .4-13.1 .4-.1 .4-3.3 .4 4.3 .4-8.6 .4 12.4 .4-4.8 .4 5.4 .4-11.3 .4 3.2 .4 1.1 .4 .3 .4-7 .4 12.7 .4-7.7 .4 .2 .4-.2 .4 4 .4-.9 .4-2.9 .4 1.1 .4 3.5 .4-6.2 .4 3.2 .4-.6 .4 2.2 .4 1.5 .4 .5 .4-4.2 .4 6.2 .4-12.3 .4 5.5 .4 7.5 .4-6.4 .4-.8 .4 .4 .4 8.7 .4-9 .4-.3 .4-5.3 .4 .5 .4 8.3 .4-1.2 .4-1.1 .4-.6 .4 1 .4-7.6 .4 5.8 .4 1.3 .4-2.7 .4 2.7 .4 1.2 .4-1.3 .4 2.5 .4 2.8 .4-5.5 .4 3.3 .4 .2 .4-3.6 .4 2.1 .4 .1 .4 .6 .4-8.2 .4 10.7 .4-1.9 .4-1.1 .4 3.8 .4-3.7 .4 2.7 .4-2.6 .4-2 .4-3.8 .4 10.7 .4-21 .4 6.6 .4 1.5 .4 9.9 .4-6.3 .4 5.9 .4-1.4 .4 2.2 .4-7.6 .4 3.4 .4 .7 .4-7.6 .4 4 .4 2.8 .4-4.4 .4-1.8 .4 4.1 .4-4.6 .4 6.8 .4-5.1 .4 3 .4-2.7 .4 4 .4-.9 .4-1 .4 3.2 .4-2.4 .4-13.9 .4 12.8 .4 2.3 .4-5.2 .4 9.7 .4 1.2 .4-6.4 .4-1.4 .4 4.8 .4 3 .4-3.7 .4 1.6 .4-2.7 .4-9.6 .4 5.2 .4 2.2 .4 2.9 .4 .8 .4-11.4 .4 0 .4 5.7 .4 4.2 .4 3.9 .4-8 .4 5.2 .4 6 .4 .1 .4-10.1 .4-.6 .4-4 .4 10.7 .4-6.6 .4 .4 .4 2.8 .4-3.3 .4 4.5 .4-.7 .4 2.1 .4-10.4 .4 8.7 .4 5.9 .4-2.4 .4-9.4 .4 1.7 .4 24 .4-26.1 .4 12.9 .4-2.7 .4-.2 .4-4 .4-.3 .4 .4 .4-1.7 .4-3.1 .4 1.5 .4 6.5 .4-7.8 .4 8.3 .4-7.1 .4 2.6 .4-3.5 .4-3.2 .4 10.9 .4-8.3 .4 3.8 .4-1.4 .4 2.4 .4-.2 .4-12.6 .4 16.5 .4-2.2 .4 1.8 .4 2.2 .4-11.1 .4 6.8 .4-.5 .4-.1 .4 .2 .4 2.1 .4 1.3 .4-3 .4-2.3 .4 .2 .4 .7 .4-2.7 .4 .4 .4 1.8 .4 .3 .4 1 .4-4 .4-3.5 .4 3.3 .4 .7 .4 3.6 .4-2.8 .4 2.9 .4-1 .4-.6 .4 2.6 .4-7.3 .4 12.2 .4-7.4 .4-1.5 .4-.6 .4-.3 .4 4.4 .4-5.4 .4 3.6 .4 .7 .4-1.4 .4 5.2 .4-6.3 .4 2.3 .4-.1 .4 3.7 .4-5.2 .4-2.2 .4 5.4 .4-1.1 .4-.5 .4 2.1 .4-5.3 .4 1.2 .4-.6 .4 3.9 .4-.3 .4-2.7 .4 1.9 .4 1 .4 1.5 .4-6.5 .4 3.9 .4-4.7 .4 4.7 .4 3.1 .4-4.9 .4 5 .4-5.9 .4 5.1 .4 1.8 .4-3.8 .4-1.3 .4 .2 .4 2.2 .4-9.1 .4 0 .4 9 .4-2.7 .4 2.8 .4 1.8 .4-1.8 .4 1.2 .4 2 .4-5 .4 1 .4 5.5 .4-4.1 .4-4.5 .4 2.3 .4 2.3 .4-.2 .4 3.5 .4-4.4 .4 3 .4-1.3 .4 4 .4-5.9 .4 6 .4-5 .4-1.4 .4 2 .4-.3 .4 .4 .4 2.4 .4-6.5 .4 2.3 .4-.2 .4-3.7 .4-1.1 .4 3.2 .4 3.8 .4-2.9 .4 1 .4 1.3 .4-.7 .4 1.8 .4-3.3 .4 0 .4 2.9 .4-.6 .4-3.6 .4 3.1 .4 1.5 .4-2.9 .4 .8 .4-2.3 .4 .7 .4 3 .4-3.8 .4 3 .4-1.4 .4-4.2 .4 6.4 .4 1.3 .4-4.1 .4 0 .4-1.5 .4 0 .4 2.2 .4 .8 .4 0 .4-4 .4 6 .4-.4 .4-2.4 .4 .2 .4 .3 .4 3.9 .4-4.4 .4 3.7 .4-3.7 .4 .2 .4-1.4 .4-1.4 .4 3.8 .4 .6 .4-.5 .4 4.1 .4-4.1 .4 1.1 .4-2.1 .4-3.2 .4-.3 .4 2.9 .4-3.3 .4 6.5 .4-3.5 .4 4.3 .4-.7 .4-2.3 .4 1.9 .4-1 .4-3.3 .4 7.7 .4-7.6 .4 7.9 .4-3.2 .4 2.1 .4-3.4 .4 .1 .4 1.7 .4-3.1 .4 4.1 .4 .7 .4-4.4 .4 1.8 .4 2.7 .4-6.3 .4-1.3 .4 5.4 .4 0 .4 1.2 .4-1.5 .4-2.7 .4-.7 .4 .3 .4-2.9 .4 4.8 .4 2.9 .4-5 .4 1.8 .4-.7 .4-.5 .4 3.1 .4-4.9 .4 .2 .4 3.5 .4-1.3 .4-1.5 .4 2.9 .4 .2 .4 2.1 .4-5.6 .4-.1 .4 2.6 .4-2 .4 2.5 .4 2.6 .4-3.6 .4-1.8 .4 .9 .4 3.2 .4-5 .4 3.1 .4-.5 .4 1.5 .4-1.2 .4 2.6 .4-1 .4-5.3 .4 3.4 .4-.2 .4-.6 .4 1.9 .4 1.3 .4-.1 .4-1.8 .4-1.1 .4 2.2 .4-2.5 .4-.2 .4 4.4 .4-7.6 .4 2.6 .4 4.1 .4-2.5 .4-.1 .4-3.1 .4 5.7 .4-4.1 .4-.5 .4 2.5 .4-2.8 .4 3.6 .4-3.5 .4 1.3 .4-1.2 .4-.4 .4 .6 .4 3.7 .4-1.9 .4 1.6 .4-1.8 .4 3.3 .4-6.3 .4 .4 .4 3.7 .4-3.6 .4-.5 .4-.3 .4 2.2 .4 4.7 .4-1.6 .4-8.3 .4 4.8 .4 4.9 .4-9.1 .4-1.6 .4 3.4 .4 4.1 .4-5.6 .4 5.5 .4-7.7 .4 5.4 .4 2.4 .4 1.5 .4-1.6 .4-8.5 .4 2.1 .4 8.3 .4-10.7 .4 10.2 .4-4.3 .4 5.1 .4-8.6 .4 5.5 .4-4.2 .4 11.1 .4-4.7 .4-6.2 .4 12.4 .4-8.7 .4-2.9 .4 .2 .4-16.5 .4 15.5 .4-4.5 .4 4.4 .4-25.5 .4 23.5 .4-6.8 .4 14.6 .4 9.5 .4-28 .4 40 .4-5.5 .4-32.1 .4-8.4 .4 9.9 .4 22.1 .4 4 .4-32.1 .4 7.1 .4 15.4 .4 7.5 .4-14.8 .4-6.9 .4-9 .4 9.2 .4 11.3 .4 3.9 .4-6.1 .4-9.2 .4 19.9 .4-8.1 .4 2.3 .4 3.7 .4-8.3 .4-1.1 .4 .3 .4-3.5 .4 2.8 .4-5.1 .4 1.5 .4 8.2 .4-5.1 .4-8.4 .4 10.2 .4-1.6 .4-3.6 .4 8.9 .4-7.4 .4 7.7 .4-3 .4-.3 .4-7.9 .4 1.3 .4 12.9 .4-8.9 .4 .8 .4-9.4 .4 13.1 .4-9.6 .4 12.9 .4-16.8 .4 11 .4 7.4 .4-2.9 .4-12.1 .4 10.9 .4-11.2 .4 6.6 .4 4.4 .4-9.5 .4 5.2 .4-6 .4 5.9 .4-5.1 .4 8.6 .4 .8 .4-10.1 .4-1 .4 7.5 .4-2.7 .4-3.6 .4 .1 .4 2.6 .4 7.3 .4-2.1 .4 1.3 .4-4.8 .4-6.9 .4 5.4 .4 3.3 .4-3 .4 4.8 .4-10.2 .4 33.4 .4-22.4 .4-4.9 .4-.2 .4-1.5 .4 4.4 .4 1.1 .4-3.2 .4 .9 .4 .5 .4-1.6 .4 2 .4-1.4 .4 .1 .4 .9 .4-.1 .4-.3 .4-.1 .4-1.1 .4-.1 .4 .5 .4-.7 .4 .5 .4 .8 .4-1.1 .4 .9 .4-1.3 .4 1.8 .4 1 .4-1 .4-.2 .4-1.9 .4 2.5 .4-1.2 .4 .3 .4 .2 .4-.7 .4 .8 .4-.1 .4-1.4 .4 .3 .4 1.3 .4-.3 .4-.1 .4 .1 .4 1.6 .4-2 .4 .5 .4-.3 .4-.2 .4 .4 .4-.1 .4 .4 .4-1 .4 .3 .4 .6 .4 .1 .4 0 .4-.2 .4 .4 .4-1 .4 .2 .4 .2 .4-.1 .4 .6 .4-1.4 .4 .5 .4 .3 .4 1.1 .4-.9 .4-.3 .4-.2 .4-.1 .4 .1 .4-.1 .4 1.2 .4-1.7 .4 .3 .4-.3 .4 1.2 .4-.2 .4 .4 .4-.5 .4 .5 .4-.6 .4 .7 .4-1 .4 .1 .4 .7 .4 0 .4-.5 .4-.7 .4 .1 .4 .4 .4 .8 .4-1.2 .4 1.2 .4-.7 .4-.6 .4 0 .4 .6 .4 .3 .4 .3 .4-.4 .4 .2 .4-.3 .4 1 .4-1.2 .4 .7 .4 .3 .4-.8 .4 .5 .4-.5 .4 .3 .4 .1 .4-1.3 .4 .7 .4 0 .4 .2 .4-.9 .4 .9 .4-.4 .4 .9 .4-.7 .4 .6 .4-.7 .4 1.4 .4-.8 .4-.1 .4-.3 .4-.2 .4-.1 .4 .8 .4 .1 .4-.1 .4-.7 .4 .5 .4 .1 .4 .2 .4-.6 .4 .2 .4-.1 .4 1 .4-1 .4 .4 .4-.4 .4-.2 .4 1 .4-.2 .4-1 .4 .9 .4-.8 .4 .5 .4 .3 .4-1 .4 .5 .4 .1 .4-.2 .4-.3 .4 .1 .4 .5 .4 .3 .4-.7 .4 .7 .4-.3 .4 .6 .4-.2 .4-1.1 .4 .8 .4-.3 .4 .7 .4-.7 .4 .3 .4 0 .4-.4 .4 .4 .4-.7 .4 1.1 .4-.3 .4 .2 .4-.6 .4 .3 .4-.1 .4 .3 .4-.3 .4-.8 .4 .6 .4-.2 .4 0 .4-.6 .4 .5 .4-.1 .4-.3 .4 .4 .4 .4 .4 .2 .4-.1 .4-.3 .4 .4 .4-.4 .4 0 .4 .2 .4 1 .4-.8 .4-.8 .4 .3 .4 .5 .4-.6 .4 .1 .4 .6 .4-.4 .4 .4 .4-.6 .4-.5 .4 .6 .4-.1 .4 .1 .4 .6 .4-.3 .4 .2 .4 .3 .4-.4 .4-.8 .4 .8 .4-.6 .4 .6 .4-.7 .4-.2 .4 .2 .4 .8 .4-.1 .4 .2 .4-.1 .4 0 .4 0 .4-.1 .4-.6 .4 .7 .4-.2 .4 0 .4-.4 .4 .4 .4 .4 .4-.6 .4 .3 .4 .2 .4-.4 .4-.2 .4 .1 .4-.3 .4 1 .4-.3 .4 .2 .4-.4 .4 .5 .4-.7 .4 .1 .4 .6 .4-.4 .4-.4 .4 .5 .4-.6 .4-.4 .4 1.5 .4-.6 .4 .4 .4-.1 .4-.2 .4-.1 .4 0 .4 .5 .4-1.1 .4-.1 .4 .5 .4-.3 .4-.2 .4 0 .4 .5 .4 .3 .4 .6 .4-.6 .4-.4 .4 .6 .4-.8 .4 .2 .4 .4 .4-.4 .4 .7 .4-.1 .4-.4 .4-.2 .4 .2 .4-.2 .4 .3 .4-.3 .4-.1 .4 .5 .4 .2 .4-.1 .4-.6 .4-.5 .4 .1 .4 .4 .4 0 .4 .6 .4-.2 .4-.7 .4-.3 .4 .7 .4 .9 .4-.2 .4-.6 .4 .4 .4-.4 .4 0 .4 .2 .4 .3 .4-1.2 .4 .7 .4-.5 .4 0 .4 .5 .4-.6 .4 .3 .4 0 .4 .7 .4 0 .4-.4 .4 .1 .4 0 .4-.3 .4-.1 .4 .2 .4 0 .4 .2 .4 0 .4-.1 .4-.2 .4 .1 .4 .4 .4-.1 .4 0 .4 .4 .4-.9 .4 .4 .4 0 .4-.2 .4-.1 .4-.1 .4 1 .4-.3 .4-.5 .4 .2 .4 .3 .4-.6 .4 .3 .4 .2 .4-.5 .4 .4 .4 .1 .4-.3 .4 .3 .4-.4 .4-.1 .4-.2 .4 .1 .4 .9 .4-.6 .4-.2 .4 .6 .4-.1 .4 0 .4-.6 .4 .4 .4-.1 .4 .4 .4-.2 .4-.2 .4 .2 .4 .1 .4-.7 .4 .2 .4-.2 .4 .4 .4 .1 .4 .3 .4-.6 .4-.1 .4 .4 .4-.3 .4 .2 .4 .5 .4-.1 .4-.4 .4 .4 .4 0 .4-.7 .4-.2 .4 .8 .4-.8 .4 .3 .4 .2 .4-.3 .4 .4 .4-.3 .4-.2 .4 .8 .4-.3 .4-.3 .4 0 .4 .2 .4 .1 .4-.3 .4 .3 .4 .2 .4-.3" fill="none" stroke="#ff0000" stroke-width="1.25"/>
<path d="M860 595.2l.6 .4 .6 .2 .6-1.1 .6-.2 .6 1.2 .6 .1 .6-1.7 .6-.3 .6 0 .6 1.1 .6-1 .6 1 .6-.6 .6-.4 .6 .6 .6 .2 .6-.5 .6 .1 .6 .2 .6 .2 .6-.3 .6-.1 .6-.5 .6-1 .6 1.7 .6-1 .6-.7 .6 1.1 .6-.1 .6 .8 .6-.6 .6 .2 .6-1.1 .6 .6 .6 1 .6-1.2 .6 .6 .6-.2 .6-.3 .6 .2 .6-.8 .6 .6 .6-.4 .6-.4 .6-.2 .6 .7 .6 .4 .6-.7 .6 .8 .6-1.4 .6 .6 .6 .8 .6 .6 .6-.8 .6 0 .6 .1 .6-.4 .6 .3 .6 1 .6-.6 .6-.2 .6 .5 .6 .2 .6 .1 .6-.4 .6 .1 .6 .9 .6-.1 .6-.9 .6 .5 .6 .2 .6 .7 .6-.6 .6 .5 .6-.7 .6 .1 .6-1.2 .6 1.5 .6 .2 .6-.6 .6-1.1 .6 2 .6-1.3 .6 .7 .6-.4 .6-.4 .6-.3 .6 1.2 .6-.2 .6 .4 .6-.7" fill="none" stroke="#0000ff" stroke-width="1.0"/>
<line x1="668.5" y1="595.5" x2="1122.5" y2="595.5" stroke="#000" stroke-width="1.05" stroke-dasharray="4.2 2.6"/>
<line x1="674" y1="563" x2="692" y2="563" stroke="#ff00ff" stroke-width="1.3" stroke-dasharray="1.4 1"/>
<text x="693.5" y="566.3" font-size="9.2" fill="#ff00ff">t&#160;&#160;maxJ</text>
<line x1="674" y1="570.7" x2="692" y2="570.7" stroke="#0000ff" stroke-width="0.9"/>
<text x="693.5" y="574.3" font-size="9.2" fill="#0000ff">J<tspan font-size="6" dy="3">L</tspan></text>
<line x1="674" y1="578" x2="692" y2="578" stroke="#00ff00" stroke-width="0.9"/>
<text x="693.5" y="581.8" font-size="9.2" fill="#00ff00">J<tspan font-size="6" dy="3">M</tspan></text>
<line x1="674" y1="585.5" x2="692" y2="585.5" stroke="#ff0000" stroke-width="0.9"/>
<text x="693.5" y="589.3" font-size="9.2" fill="#ff0000">J<tspan font-size="6" dy="3">N</tspan></text>
<path d="M687.5 558.5v3.4M687.5 632.5v-3.4M720.5 558.5v3.4M720.5 632.5v-3.4M752.5 558.5v8.8M752.5 632.5v-8.8M784.5 558.5v3.4M784.5 632.5v-3.4M817.5 558.5v3.4M817.5 632.5v-3.4M849.5 558.5v8.8M849.5 632.5v-8.8M882.5 558.5v3.4M882.5 632.5v-3.4M914.5 558.5v3.4M914.5 632.5v-3.4M947.5 558.5v8.8M947.5 632.5v-8.8M979.5 558.5v3.4M979.5 632.5v-3.4M1012.5 558.5v3.4M1012.5 632.5v-3.4M1044.5 558.5v8.8M1044.5 632.5v-8.8M1077.5 558.5v3.4M1077.5 632.5v-3.4M1109.5 558.5v3.4M1109.5 632.5v-3.4" stroke="#000" stroke-width="1.0" fill="none"/>
<path d="M668.5 629.5h2.2M1122.5 629.5h-2.2M668.5 624.5h2.2M1122.5 624.5h-2.2M668.5 620.5h5.6M1122.5 620.5h-5.6M668.5 615.5h2.2M1122.5 615.5h-2.2M668.5 610.5h2.2M1122.5 610.5h-2.2M668.5 605.5h2.2M1122.5 605.5h-2.2M668.5 600.5h2.2M1122.5 600.5h-2.2M668.5 595.5h5.6M1122.5 595.5h-5.6M668.5 590.5h2.2M1122.5 590.5h-2.2M668.5 586.5h2.2M1122.5 586.5h-2.2M668.5 581.5h2.2M1122.5 581.5h-2.2M668.5 576.5h2.2M1122.5 576.5h-2.2M668.5 571.5h5.6M1122.5 571.5h-5.6M668.5 566.5h2.2M1122.5 566.5h-2.2M668.5 561.5h2.2M1122.5 561.5h-2.2" stroke="#000" stroke-width="1.0" fill="none"/>
<rect x="668.5" y="558.5" width="454" height="74" fill="none" stroke="#000" stroke-width="1.1"/>
<text x="1125" y="575.5" font-size="11">1</text>
<text x="1125" y="599.8" font-size="11">0</text>
<text x="1125" y="624.1" font-size="11">-1</text>
<text x="1161" y="595" font-size="11.5" text-anchor="middle" transform="rotate(-90 1161 595)">J [µA m<tspan font-size="8" dy="-4">-2</tspan><tspan dy="4">]</tspan></text>
<line x1="729.8" y1="634" x2="729.8" y2="706" stroke="#ff00ff" stroke-width="1.3" stroke-dasharray="1.3 3.30"/>
<line x1="941.4" y1="638" x2="941.4" y2="706" stroke="#22aa22" stroke-width="1.2" stroke-dasharray="7 5.4"/>
<line x1="969.5" y1="638" x2="969.5" y2="706" stroke="#22aa22" stroke-width="1.2" stroke-dasharray="7 5.4"/>
<line x1="948.2" y1="638" x2="948.2" y2="706" stroke="#ff2020" stroke-width="1.2" stroke-dasharray="7 5.4"/>
<line x1="962.2" y1="638" x2="962.2" y2="706" stroke="#ff2020" stroke-width="1.2" stroke-dasharray="7 5.4"/>
<line x1="956.3" y1="634" x2="956.3" y2="706" stroke="#ff00ff" stroke-width="1.3" stroke-dasharray="1.3 3.30"/>
<line x1="967.8" y1="634" x2="967.8" y2="706" stroke="#0000ff" stroke-width="1.3" stroke-dasharray="1.4 3.5"/>
<path d="M669 673.4l.4-2.3 .4-4.1 .4 4.3 .4 1.7 .4-4.6 .4-1.4 .4 6.5 .4-4.1 .4 5 .4-7 .4 2.7 .4 4 .4 .4 .4-8.4 .4 3.6 .4-3 .4 1.3 .4 2.4 .4-1.9 .4-1.3 .4 .6 .4 7.7 .4-2.1 .4 .9 .4-.5 .4-2.1 .4-.5 .4-11.5 .4 9 .4 1.9 .4-1 .4-.8 .4 4.2 .4-34.8 .4 32.6 .4 6.2 .4-3.2 .4-2.3 .4-3.9 .4 3.1 .4 5.3 .4-4 .4-.7 .4-1.2 .4-4.5 .4-11 .4 17.9 .4 .8 .4-3.8 .4 2.1 .4-9.2 .4 20.8 .4-9.5 .4-4 .4 2.5 .4-2.1 .4-.9 .4 .4 .4-1.6 .4 5.1 .4-3.4 .4-1.4 .4-3 .4 8.1 .4-5.2 .4 3.6 .4-.4 .4-1.4 .4 .4 .4-1 .4-2.2 .4 4.7 .4 .4 .4-3.4 .4 2 .4-3 .4 1.6 .4-4.3 .4 5.5 .4 .3 .4-2 .4-3 .4 2.2 .4 .6 .4 1.8 .4-2.2 .4 1.1 .4 .5 .4-4.2 .4-1.9 .4 4.9 .4 1.9 .4-2 .4-3.2 .4 3.8 .4-.7 .4 .9 .4-1.6 .4 1.9 .4-5.1 .4 .8 .4 4.6 .4-3.3 .4 1.2 .4-4.1 .4 7.9 .4-2.4 .4-1.6 .4-1.8 .4 2.3 .4-4.8 .4 14.9 .4-9.8 .4 2.8 .4 .4 .4-4.4 .4 5.8 .4-2.6 .4-3.3 .4-1.4 .4 5.9 .4-.5 .4-.9 .4-2.7 .4-4 .4 2.3 .4 5.8 .4-1.2 .4 3.5 .4-8.5 .4 5.6 .4-3.1 .4-1.9 .4 7.1 .4-1.2 .4-2.5 .4-2.3 .4 3.5 .4-4.6 .4 6.4 .4-5.5 .4-9.5 .4 14 .4 2.5 .4-1.7 .4-4.9 .4 3.5 .4 1.4 .4-30.1 .4 38.9 .4-9.9 .4-2.4 .4-1.3 .4 2.8 .4 7.5 .4-6.9 .4-3.2 .4 .9 .4 4.7 .4-3.3 .4 1.2 .4-12.6 .4 10.6 .4 1.9 .4 .4 .4-6.4 .4 .4 .4 9 .4-7 .4 2.6 .4 5.2 .4-5.6 .4-3.8 .4-4.2 .4 10.4 .4-3.7 .4 1.3 .4 .5 .4-4.9 .4 6.2 .4-1.3 .4 3.8 .4 1.7 .4-6.2 .4 5.5 .4-9.7 .4 5.1 .4 5.8 .4-7.3 .4 8.1 .4-4.4 .4-2.5 .4-4.3 .4 8.9 .4-2.5 .4-8.2 .4 9.6 .4-9.9 .4-1.1 .4 13.3 .4-1.8 .4-19.6 .4 10.2 .4-2.3 .4 38.1 .4-32.6 .4 4.7 .4-7.5 .4-4.8 .4-12 .4 16.6 .4 5.8 .4-6.5 .4 7.3 .4 11.6 .4-8.5 .4-11.6 .4 7 .4 .7 .4-8.2 .4 4.3 .4 3.7 .4-9.8 .4 6.8 .4 5 .4-5.4 .4-.1 .4 2.5 .4 1.9 .4-3.5 .4-3.8 .4 7.6 .4-15.2 .4 15.2 .4-1.7 .4-7.3 .4 1.5 .4 2.6 .4 5.5 .4-4.3 .4-2.8 .4 3.8 .4 0 .4 2.6 .4-1.5 .4 .1 .4-3.7 .4-2.6 .4 5.5 .4 .2 .4-.6 .4 .8 .4-3.4 .4 8 .4-9.4 .4 2.7 .4 4.4 .4 5.9 .4-8.6 .4-.2 .4 3.9 .4-6 .4-.8 .4 1 .4-.8 .4 1.4 .4 2.6 .4 .6 .4-1.7 .4 3.9 .4-7.1 .4-.5 .4 .7 .4 4.5 .4-.3 .4-4 .4 4.7 .4-1.8 .4 1.2 .4-2.3 .4-5.3 .4 7.8 .4-6.2 .4 3.6 .4 2.9 .4 .5 .4-.6 .4-.8 .4 1.1 .4 2.2 .4-.4 .4-7.5 .4 4.8 .4 3.3 .4-18.3 .4 20.2 .4-1.9 .4-1.3 .4-5.2 .4 1 .4 4.8 .4-7.3 .4 10.2 .4-4.8 .4-31 .4 31.8 .4-3.7 .4 3.1 .4-1.9 .4 7.5 .4-6.7 .4-1.4 .4 3.9 .4-1.2 .4 7.4 .4-10 .4 1.3 .4-33.2 .4 38.8 .4-12.2 .4 8 .4-4.6 .4 4.1 .4-4.5 .4-.5 .4 8.1 .4-6.9 .4 1.6 .4 1.1 .4-.1 .4-5.3 .4 5.5 .4-5 .4 3.1 .4 .3 .4-3.1 .4 5.7 .4 1.4 .4-4.4 .4 5.5 .4 7.4 .4-6.8 .4-11.9 .4 4 .4-.9 .4 .7 .4 3.3 .4-10.9 .4 8.3 .4 5 .4-6.6 .4 2.2 .4 2.4 .4-.2 .4 0 .4-6.1 .4 5.9 .4 2.2 .4-.1 .4-2.8 .4 4.3 .4-3.8 .4-3.5 .4 4.8 .4-3.5 .4-.6 .4 4.6 .4 2.1 .4-2.9 .4-.3 .4 .9 .4 1.9 .4-2 .4-2.5 .4 2 .4-.3 .4 4.1 .4-2.6 .4 2 .4-.7 .4-4.6 .4-1.2 .4-3.2 .4 5.5 .4 1.4 .4 .2 .4-3.6 .4 4.1 .4 0 .4-2.7 .4 2.3 .4 1.8 .4-2.2 .4-.6 .4-.3 .4-3.9 .4 1.4 .4-.4 .4 1.5 .4-1.1 .4 3 .4 3.1 .4-4.8 .4-1.9 .4 7.5 .4-4.8 .4-.1 .4-.7 .4 1.7 .4-1.2 .4 .3 .4 7.7 .4-5.9 .4-4.7 .4 6.5 .4-6.2 .4 2.5 .4 .4 .4-1.9 .4 .5 .4 .7 .4 .4 .4-.5 .4 .7 .4-1.9 .4 .6 .4-1.2 .4 3 .4-2 .4 .8 .4 4.2 .4-1.9 .4-.3 .4-3.1 .4 3.4 .4 1.5 .4-5.6 .4 1.4 .4-.8 .4 2.4 .4-4.1 .4 1.7 .4 1.6 .4 4.8 .4-3.5 .4 2.1 .4-3 .4 .6 .4-3.7 .4 5.1 .4-3.6 .4 .2 .4-.8 .4-.6 .4 2.6 .4-3.8 .4 3.3 .4 3.8 .4-6.9 .4 2.4 .4-3.2 .4 5.7 .4 .3 .4-4.9 .4 1.7 .4-.5 .4-3.9 .4 7.8 .4-4.2 .4 2.1 .4-.8 .4-1.7 .4 1.7 .4 2.5 .4-4.2 .4 6 .4-3.3 .4 4.2 .4 .2 .4-3.6 .4 1.8 .4-4.6 .4 4.4 .4-1.4 .4 .7 .4-3.1 .4-.2 .4 1.5 .4-.6 .4 4.5 .4-2.5 .4-3.1 .4 1.4 .4 1.5 .4-3.3 .4 2.1 .4-1.7 .4-1 .4 2 .4 1.3 .4 .7 .4-.5 .4 3.9 .4-2.6 .4-3.5 .4 5.5 .4-1.5 .4-3.3 .4 3.9 .4-3.9 .4 1 .4 1.5 .4 .5 .4-1.1 .4-2.7 .4 .5 .4-.1 .4 3.7 .4-2.4 .4 3.5 .4-2 .4-.2 .4-.9 .4 .4 .4-1.2 .4-.5 .4-1.1 .4 3.4 .4-3.8 .4 3.2 .4-1.3 .4 0 .4 1.8 .4-.5 .4 .1 .4-.4 .4-1.2 .4 .6 .4-.4 .4 .9 .4-.7 .4-.3 .4 1.1 .4-3.8 .4 2.3 .4 1.3 .4-2.6 .4 2.2 .4 1.4 .4-1.6 .4-1.7 .4 2.7 .4-.7 .4-.4 .4-2.8 .4 1.7 .4 .1 .4-.5 .4 1.2 .4 1.5 .4-1.6 .4 .8 .4-1.7 .4 .5 .4 1.1 .4-.7 .4 3.1 .4-.7 .4-2.4 .4-.5 .4-1.2 .4 1.8 .4 .3 .4-1.6 .4 2.2 .4 .6 .4-1.4 .4-.1 .4-1.2 .4-.7 .4 1.5 .4 3.1 .4-.9 .4-.1 .4-1.3 .4 .7 .4-2.3 .4 2.1 .4-2.8 .4 3.9 .4 1.3 .4-4 .4 1.6 .4 1.4 .4-2.4 .4 1.6 .4-2.9 .4-.3 .4 4.3 .4-.5 .4-.8 .4 .6 .4-.3 .4 .2 .4-2.9 .4 1.5 .4 .3 .4-.5 .4-1.5 .4 .9 .4 .9 .4 1 .4 1.4 .4-2.4 .4-.1 .4 2.2 .4-2 .4-4.3 .4 1.9 .4 4.2 .4-3 .4 .7 .4 3.7 .4-2.5 .4-5.2 .4-.7 .4-2.4 .4 14.3 .4-12.4 .4 4.5 .4 9.1 .4-27.3 .4 9.8 .4-24.3 .4 34.7 .4 34.8 .4-43.1 .4-21.9 .4 23.6 .4-.5 .4 36.9 .4-33.3 .4-11.7 .4 5.3 .4 11 .4-6 .4 4 .4 1.7 .4 2.1 .4-10.4 .4 5.4 .4-2.4 .4-1.2 .4 7.3 .4-1.8 .4-.5 .4-.9 .4 6.2 .4-4.5 .4-4.2 .4 1 .4-2.5 .4 4.8 .4 1 .4-1.6 .4-4.5 .4 4.4 .4 .7 .4-5.3 .4 2.3 .4-.2 .4 1.6 .4-1.7 .4 7.1 .4-1.5 .4-6.3 .4 3.5 .4-2.4 .4 .2 .4 6.3 .4-2.7 .4 6.2 .4-5.5 .4 2.9 .4-4.5 .4-.5 .4-2.2 .4 4.6 .4-5.9 .4 11.7 .4-12.1 .4 3 .4 .8 .4 8.3 .4-27.1 .4 22 .4-2.9 .4 1.9 .4-8.5 .4 7.9 .4 1.4 .4-3 .4 2.2 .4-4.2 .4 3 .4 2.8 .4-.1 .4-5.6 .4 3.8 .4 2.7 .4-2 .4 .2 .4 1.7 .4-3.4 .4 2.1 .4 10 .4-47 .4 32.8 .4 7.3 .4-7.2 .4 .1 .4 3.1 .4 .2 .4-4 .4-.1 .4 2.2 .4 4 .4 .7 .4-5.6 .4 2.5 .4-1 .4 7.3 .4-7.4 .4-1.7 .4-.9 .4 4.5 .4 1.4 .4-3.9 .4 .9 .4 1.2 .4-3.7 .4 2.5 .4-1.7 .4 4.1 .4-7.8 .4 6.2 .4-1.1 .4 4 .4-3.9 .4 2 .4-2.7 .4 4.5 .4-4.2 .4-1.7 .4 3.1 .4-.7 .4 .2 .4-.8 .4-2.7 .4 3.3 .4 0 .4-.7 .4 9.4 .4-12.2 .4 3.3 .4-1.4 .4 2.6 .4-3.6 .4 .3 .4 3 .4-2 .4 .1 .4 .3 .4-3 .4 3.2 .4-.1 .4-.7 .4-.7 .4 2.2 .4-.5 .4-.5 .4 1.7 .4-1.6 .4-.2 .4 .1 .4 0 .4 .4 .4-.3 .4-.3 .4-.3 .4 .7 .4-.3 .4-1.1 .4 .2 .4-1 .4 1.6 .4 .7 .4 .9 .4-.6 .4 0 .4-.3 .4 .6 .4 .3 .4-.5 .4-.6 .4-.2 .4-.2 .4 1 .4 0 .4 .7 .4-1.9 .4-.5 .4 1.3 .4-.9 .4-.6 .4 .7 .4 1.5 .4 1.1 .4-2.6 .4-.5 .4 .2 .4 .6 .4 .2 .4 .1 .4-.6 .4 .3 .4 1.6 .4-1.2 .4 .4 .4 .3 .4-1.5 .4 1.7 .4-1.3 .4-.6 .4 .1 .4 1.6 .4-1 .4-1.4 .4 .5 .4 .7 .4-.5 .4 1.5 .4-.8 .4 1 .4-1 .4-.4 .4 1.6 .4-.9 .4-.6 .4 .6 .4-.5 .4-.2 .4 .4 .4 0 .4 .7 .4-1.2 .4 1.7 .4-1.3 .4 .7 .4-3 .4 1.4 .4 1.4 .4-1.7 .4 2.8 .4-2.5 .4 1.8 .4-2.8 .4 1.5 .4-.1 .4 .8 .4-.4 .4 .7 .4-.8 .4 .2 .4 1.1 .4 .3 .4-.1 .4-1.5 .4-.4 .4 .1 .4 .4 .4 .4 .4 .2 .4-1.2 .4 2.3 .4-2.3 .4 1.9 .4-.7 .4-1.4 .4 .9 .4-.3 .4 .7 .4 .1 .4 .2 .4-.6 .4-.8 .4 .1 .4 1 .4 .1 .4-.5 .4 .9 .4-1.5 .4 .8 .4-.6 .4 .2 .4-.9 .4 .8 .4 .4 .4 0 .4 1.4 .4-2.6 .4 1.5 .4-.3 .4 .2 .4 .3 .4-1.2 .4 .5 .4 0 .4 1 .4-.3 .4-1 .4 1.6 .4-.9 .4-.4 .4-.1 .4 1.1 .4 .7 .4-1.7 .4 .1 .4-.4 .4-.1 .4-.2 .4 1.6 .4-1.6 .4 .7 .4-.1 .4 0 .4-1.8 .4 2 .4-.2 .4-.4 .4 .8 .4 2 .4-2.4 .4 1.3 .4-1.3 .4-.5 .4 .7 .4 .3 .4-.2 .4 .6 .4-.4 .4-.2 .4-.5 .4-.1 .4 .6 .4-.3 .4 .2 .4 .3 .4 .8 .4-1.7 .4 1.2 .4-.5 .4-.2 .4 1 .4-.3 .4-1 .4 .6 .4 .2 .4-.7 .4 1 .4-.4 .4 .3 .4-.2 .4-.6 .4 .5 .4 1.2 .4-.3 .4-1.4 .4 1 .4-.2 .4-.8 .4 .6 .4-.4 .4 .5 .4-.1 .4-.2 .4-.6 .4 1 .4-.7 .4-.3 .4 .4 .4 .2 .4-1 .4 1.4 .4-.2 .4-1.1 .4 1 .4-.4 .4 .2 .4-.2 .4 .2 .4-.4 .4 .7 .4 .5 .4-1.2 .4-.7 .4 .2 .4 .5 .4 .5 .4 .7 .4-1.5 .4 .1 .4-.1 .4 1 .4-.4 .4 1.1 .4-1.4 .4 1.2 .4-.8 .4-.6 .4 .5 .4 .3 .4-.2 .4 1 .4-1.2 .4 .5 .4-.4 .4 0 .4 0 .4-.2 .4 1.6 .4-2.3 .4 1 .4-.5 .4 .2 .4 .2 .4 .3 .4 .5 .4-.7 .4-.3 .4 1 .4-.7 .4-.4 .4 0 .4 1.1 .4-.9 .4 .5 .4-.3 .4 0 .4-.1 .4-.5 .4 .4 .4-.3 .4 1.5 .4-.6 .4 .1 .4-.5 .4 0 .4 .6 .4-.6 .4-.3 .4 .3 .4-.4 .4 .3 .4 .5 .4 0 .4 .2 .4-.7 .4 .1 .4 0 .4-.4 .4 .5 .4 .1 .4-.3 .4-.5 .4 .9 .4-.6 .4-.1 .4 .5 .4-.3 .4 .2 .4-.1 .4-.2 .4 .5 .4-.8 .4 .6 .4 .3 .4-.6 .4-.3 .4 1.2 .4-.6 .4 .5 .4-.6 .4 .4 .4-.3 .4 .7 .4-.5 .4-.4 .4 .3 .4-.3 .4 .2 .4-.8 .4 .9 .4 .1 .4-.5 .4-.2 .4 .5 .4 .6 .4-.1 .4-.2 .4-.9 .4 .9 .4 .2 .4-.7 .4 .1 .4 .1 .4-.1 .4-.6 .4 .9 .4-.5 .4 .5 .4 .3 .4-.1 .4-.7 .4 .6 .4-.4 .4-.2 .4 .9 .4-.2 .4-.3 .4-.2 .4 .1" fill="none" stroke="#000" stroke-width="1.2"/>
<line x1="674" y1="647.5" x2="692" y2="647.5" stroke="#333" stroke-width="0.9"/>
<line x1="683" y1="640" x2="683" y2="655" stroke="#333" stroke-width="0.9"/>
<text x="696" y="651" font-size="9.5" fill="#222">J*E'</text>
<path d="M687.5 632.5v3.4M687.5 706.5v-3.4M720.5 632.5v3.4M720.5 706.5v-3.4M752.5 632.5v8.8M752.5 706.5v-8.8M784.5 632.5v3.4M784.5 706.5v-3.4M817.5 632.5v3.4M817.5 706.5v-3.4M849.5 632.5v8.8M849.5 706.5v-8.8M882.5 632.5v3.4M882.5 706.5v-3.4M914.5 632.5v3.4M914.5 706.5v-3.4M947.5 632.5v8.8M947.5 706.5v-8.8M979.5 632.5v3.4M979.5 706.5v-3.4M1012.5 632.5v3.4M1012.5 706.5v-3.4M1044.5 632.5v8.8M1044.5 706.5v-8.8M1077.5 632.5v3.4M1077.5 706.5v-3.4M1109.5 632.5v3.4M1109.5 706.5v-3.4" stroke="#000" stroke-width="1.0" fill="none"/>
<path d="M668.5 702.5h2.2M1122.5 702.5h-2.2M668.5 697.5h2.2M1122.5 697.5h-2.2M668.5 693.5h5.6M1122.5 693.5h-5.6M668.5 688.5h2.2M1122.5 688.5h-2.2M668.5 683.5h2.2M1122.5 683.5h-2.2M668.5 678.5h2.2M1122.5 678.5h-2.2M668.5 674.5h2.2M1122.5 674.5h-2.2M668.5 669.5h5.6M1122.5 669.5h-5.6M668.5 664.5h2.2M1122.5 664.5h-2.2M668.5 659.5h2.2M1122.5 659.5h-2.2M668.5 655.5h2.2M1122.5 655.5h-2.2M668.5 650.5h2.2M1122.5 650.5h-2.2M668.5 645.5h5.6M1122.5 645.5h-5.6M668.5 640.5h2.2M1122.5 640.5h-2.2M668.5 635.5h2.2M1122.5 635.5h-2.2" stroke="#000" stroke-width="1.0" fill="none"/>
<rect x="668.5" y="632.5" width="454" height="74" fill="none" stroke="#000" stroke-width="1.1"/>
<text x="665" y="649.5" font-size="11" text-anchor="end">1</text>
<text x="665" y="673.3" font-size="11" text-anchor="end">0</text>
<text x="665" y="697.1" font-size="11" text-anchor="end">-1</text>
<text x="641" y="671" font-size="11.6" text-anchor="middle" transform="rotate(-90 641 671)">J*E' [nW m<tspan font-size="8.5" dy="-4">-3</tspan><tspan dy="4">]</tspan></text>
<text x="29" y="12.5" font-size="11">Plot Layout GP 19/10/2018</text>
<text x="627" y="12.5" font-size="11">Plot layout GP 19/10/2018</text>
<text x="297.5" y="25.6" font-size="18.1" text-anchor="middle">MMS2</text>
<text x="894.5" y="34.6" font-size="18.1" text-anchor="middle">MMS2</text>
<text x="474.5" y="24.3" font-size="17.9" text-anchor="middle" fill="#990000" font-weight="bold">20150925_120534</text>
<text x="1071.5" y="24.1" font-size="17.9" text-anchor="middle" fill="#990000" font-weight="bold">20150925_120534</text>
<text x="155.6" y="740.2" font-size="11" text-anchor="middle">12:06:00</text>
<text x="253" y="740.2" font-size="11" text-anchor="middle">12:06:30</text>
<text x="350.5" y="740.2" font-size="11" text-anchor="middle">12:07:00</text>
<text x="447.9" y="740.2" font-size="11" text-anchor="middle">12:07:30</text>
<text x="50" y="761.5" font-size="11">X</text>
<text x="155.4" y="761.5" font-size="11" text-anchor="middle">6.58</text>
<text x="252.8" y="761.5" font-size="11" text-anchor="middle">6.57</text>
<text x="350.3" y="761.5" font-size="11" text-anchor="middle">6.57</text>
<text x="447.7" y="761.5" font-size="11" text-anchor="middle">6.57</text>
<text x="538.5" y="761.5" font-size="11">Re</text>
<text x="50" y="779.5" font-size="11">Y</text>
<text x="155.4" y="779.5" font-size="11" text-anchor="middle">9.71</text>
<text x="252.8" y="779.5" font-size="11" text-anchor="middle">9.72</text>
<text x="350.3" y="779.5" font-size="11" text-anchor="middle">9.72</text>
<text x="447.7" y="779.5" font-size="11" text-anchor="middle">9.73</text>
<text x="538.5" y="779.5" font-size="11">Re</text>
<text x="50" y="797.2" font-size="11">Z</text>
<text x="155.4" y="797.2" font-size="11" text-anchor="middle">-0.335</text>
<text x="252.8" y="797.2" font-size="11" text-anchor="middle">-0.335</text>
<text x="350.3" y="797.2" font-size="11" text-anchor="middle">-0.336</text>
<text x="447.7" y="797.2" font-size="11" text-anchor="middle">-0.336</text>
<text x="538.5" y="797.2" font-size="11">Re</text>
<text x="752.5" y="723.8" font-size="11" text-anchor="middle">12:06:00</text>
<text x="849.9" y="723.8" font-size="11" text-anchor="middle">12:06:30</text>
<text x="947.4" y="723.8" font-size="11" text-anchor="middle">12:07:00</text>
<text x="1044.8" y="723.8" font-size="11" text-anchor="middle">12:07:30</text>
<text x="646.5" y="746.1" font-size="11">X</text>
<text x="752.3" y="746.1" font-size="11" text-anchor="middle">6.58</text>
<text x="849.7" y="746.1" font-size="11" text-anchor="middle">6.57</text>
<text x="947.2" y="746.1" font-size="11" text-anchor="middle">6.57</text>
<text x="1044.6" y="746.1" font-size="11" text-anchor="middle">6.57</text>
<text x="1135.5" y="746.1" font-size="11">Re</text>
<text x="646.5" y="763.8" font-size="11">Y</text>
<text x="752.3" y="763.8" font-size="11" text-anchor="middle">9.71</text>
<text x="849.7" y="763.8" font-size="11" text-anchor="middle">9.72</text>
<text x="947.2" y="763.8" font-size="11" text-anchor="middle">9.72</text>
<text x="1044.6" y="763.8" font-size="11" text-anchor="middle">9.73</text>
<text x="1135.5" y="763.8" font-size="11">Re</text>
<text x="646.5" y="781" font-size="11">Z</text>
<text x="752.3" y="781" font-size="11" text-anchor="middle">-0.335</text>
<text x="849.7" y="781" font-size="11" text-anchor="middle">-0.335</text>
<text x="947.2" y="781" font-size="11" text-anchor="middle">-0.336</text>
<text x="1044.6" y="781" font-size="11" text-anchor="middle">-0.336</text>
<text x="1135.5" y="781" font-size="11">Re</text>
<text x="590.5" y="838.3" font-size="12" text-anchor="end">paschmann 23-Oct-2018 23:09</text>
<text x="1187.5" y="837.8" font-size="12" text-anchor="end">paschmann 23-Oct-2018 23:09</text>
</svg>
<pre>:
 Event ID         : 20150925_120534
 FlagStr          : mp,i,mon,gf,mult,compl,keep
 GSEpos [Re]      : [ 6.58, 9.70, -0.33 ]
                  :
 LMN coords       :
    L             : [  0.843,  0.411,  0.348 ]
    M             : [ -0.159,  0.807, -0.569 ]
    N             : [  0.515, -0.424, -0.745 ]
                  :
  Times           : (as indicated by red, green lines in plots)
    t_0           : 12:07:02  (red dotted line)
    t_MVAB1       : 12:06:58  (leftmost green line)
    t_MVAB2       : 12:07:06  (rightmost green line)
                  :
|Bmin|, |Vmax|    :
    Bmin          : 8.36 [nT]  at 12:05:56
    Vmax_tht      : 277.80 [km/s]  at 12:07:06
    Vmax_tburst   : 357.56 [km/s]  at 12:07:21
                  :
 Normals          :
    N MVAB        : [  0.080, -0.377,  0.923 ]   (L2/L1 = 5.82)
    N MVAB0       : [  0.146, -0.482,  0.864 ]   (L3/L2 = 142.12)
    N MFR         : [  0.114, -0.460,  0.881 ]   (L2/L1 = 14.77)
                  :
 Durations [s]    : (between red, resp green lines)
    T_CS          : 4.29
    T_MFR/HT      : 8.58
                  :
 Velocity [km/s]  : (based on FPI ion data)
    VnMFR         : -129.0
    VHT.Nmvab     : 115.0  (HTcc = 0.987)
    VHT.Nmvab0    : 139.2
                  :
 CS thickness [km]: (D=T_CS * Vs from above)
    D1=TCS*Vnmfr  : 553
    D2=TCS*VHTn   : 494
    D3=TCS*VHTn0  : 597
                  :
 Currents [uA/m2] :
    Jave_CS       : 0.071
    Jmax_THT      : 1.611  at 12:07:02
    Jmax_brst     : 1.635  at 12:05:53
                  :
 HPCA mom [1/cm3] :   Min   -  Max    (  Ave   )  within full brst int
    H+            :   0.581 - 27.538  ( 26.841 )
    He+           :   0.000 -  0.018  (  0.006 )
    He++          :   0.003 -  2.103  (  1.038 )
    O+            :   0.000 -  0.067  (  0.031 )
                  :
 SEH date         : 2019-11-29 08:38:55
                  :</pre>
</body></html>
